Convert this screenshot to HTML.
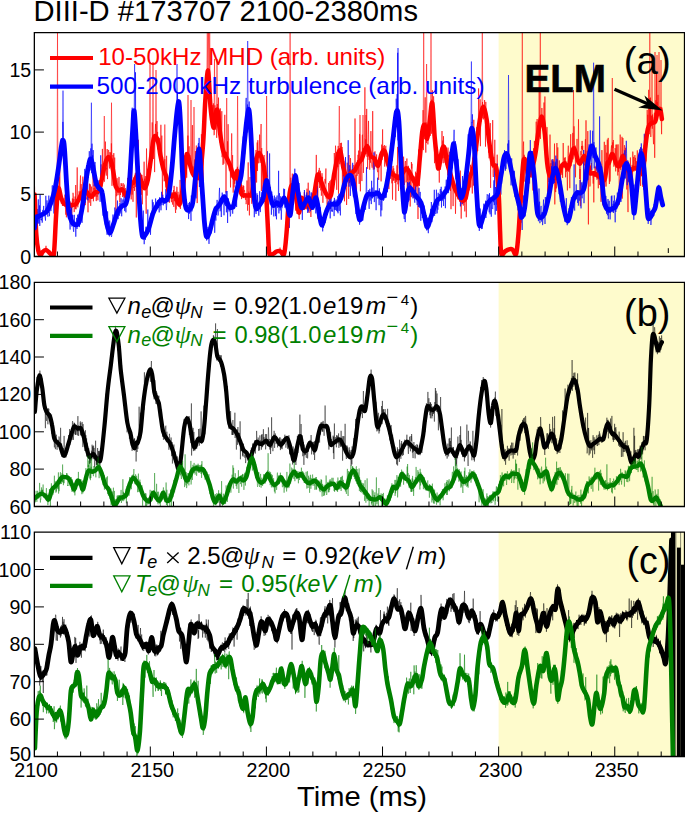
<!DOCTYPE html><html><head><meta charset="utf-8"><title>DIII-D 173707</title><style>html,body{margin:0;padding:0;background:#fff;width:685px;height:813px;overflow:hidden}body{position:relative;font-family:"Liberation Sans",sans-serif}</style></head><body><svg width="685" height="813" viewBox="0 0 685 813" style="position:absolute;left:0;top:0" font-family="Liberation Sans, sans-serif">
<defs>
<clipPath id="c0"><rect x="34.35" y="32.55" width="650.15" height="223.95"/></clipPath>
<clipPath id="c1"><rect x="34.35" y="282.3" width="650.15" height="224.2"/></clipPath>
<clipPath id="c2"><rect x="34.35" y="532.05" width="650.15" height="224.45000000000005"/></clipPath>
</defs>
<rect x="498.6" y="32.55" width="185.9" height="223.95" fill="#fefbcc"/>
<rect x="498.6" y="282.3" width="185.9" height="224.2" fill="#fefbcc"/>
<rect x="498.6" y="532.05" width="185.9" height="224.45000000000005" fill="#fefbcc"/>
<text x="33.5" y="21" font-size="29" fill="#000" textLength="384.5" lengthAdjust="spacingAndGlyphs">DIII-D #173707 2100-2380ms</text>
<g clip-path="url(#c0)"><path d="M34.6 186.5L34.9 208.0L35.2 205.0L35.5 215.0L35.8 222.8L36.1 228.4L36.4 232.7L36.7 238.8L37.0 240.7L37.3 239.4L37.6 247.4L37.9 248.1L38.2 249.4L38.5 251.7L38.8 249.9L39.1 252.5L39.4 253.3L39.7 253.4L40.0 254.4L40.3 255.1L40.6 255.0L40.9 254.5L41.2 254.3L41.5 253.2L41.8 253.1L42.1 252.9L42.4 251.8L42.7 251.9L43.0 252.5L43.3 252.7L43.6 252.8L43.9 251.6L44.2 250.5L44.5 250.1L44.8 251.9L45.1 250.7L45.4 250.6L45.7 249.6L46.0 245.8L46.3 249.6L46.6 251.0L46.9 250.7L47.2 251.6L47.5 251.1L47.8 251.4L48.1 251.9L48.4 251.8L48.7 252.5L49.0 252.3L49.3 253.3L49.6 252.7L49.9 254.5L50.2 253.6L50.5 253.9L50.8 254.2L51.1 253.7L51.4 254.3L51.7 254.7L52.0 255.2L52.3 255.0L52.6 254.5L52.9 254.4L53.2 253.9L53.5 253.7L53.8 252.4L54.1 251.8L54.4 247.4L54.7 241.1L55.0 239.3L55.3 227.3L55.6 222.6L55.9 216.1L56.2 214.7L56.5 213.0L56.8 202.0L57.1 202.1L57.4 207.6L57.7 193.4L58.0 186.1L58.3 190.9L58.6 188.1L58.9 186.3L59.2 177.2L59.5 185.9L59.8 153.5L60.1 194.5L60.4 189.6L60.7 198.3L61.0 195.2L61.3 203.7L61.6 198.5L61.9 202.1L62.2 204.7L62.5 205.9L62.8 202.7L63.1 205.6L63.4 199.4L63.7 198.9L64.0 198.4L64.3 205.4L64.6 202.8L64.9 194.6L65.2 203.6L65.5 209.5L65.8 214.7L66.1 196.0L66.4 217.3L66.7 194.4L67.0 206.2L67.3 203.4L67.6 214.2L67.9 214.5L68.2 202.6L68.5 209.7L68.8 207.8L69.1 210.7L69.4 208.2L69.7 209.5L70.0 206.0L70.3 202.5L70.6 201.6L70.9 205.2L71.2 210.7L71.5 206.5L71.8 219.3L72.1 206.2L72.4 198.5L72.7 207.4L73.0 192.8L73.3 195.3L73.6 202.5L73.9 199.0L74.2 212.1L74.5 203.6L74.8 203.1L75.1 196.5L75.4 209.0L75.7 185.0L76.0 209.4L76.3 207.6L76.6 199.2L76.9 204.5L77.2 167.4L77.5 202.8L77.8 207.3L78.1 204.5L78.4 200.9L78.7 199.3L79.0 191.5L79.3 191.2L79.6 199.0L79.9 189.6L80.2 182.4L80.5 175.5L80.8 198.8L81.1 184.1L81.4 188.0L81.7 190.6L82.0 193.3L82.3 186.4L82.6 181.4L82.9 176.6L83.2 191.4L83.5 193.9L83.8 189.0L84.1 191.2L84.4 187.0L84.7 186.5L85.0 197.4L85.3 205.2L85.6 191.8L85.9 196.6L86.2 198.8L86.5 199.4L86.8 194.6L87.1 179.3L87.4 194.7L87.7 194.5L88.0 212.3L88.3 195.9L88.6 197.7L88.9 194.6L89.2 202.7L89.5 183.7L89.8 197.5L90.1 193.1L90.4 184.4L90.7 205.9L91.0 195.4L91.3 195.5L91.6 186.6L91.9 198.8L92.2 197.2L92.5 192.3L92.8 196.4L93.1 173.9L93.4 201.3L93.7 195.2L94.0 188.0L94.3 189.9L94.6 179.3L94.9 188.1L95.2 196.6L95.5 182.9L95.8 191.3L96.1 200.7L96.4 201.1L96.7 193.2L97.0 196.8L97.3 193.6L97.6 187.1L97.9 200.3L98.2 183.3L98.5 183.4L98.8 187.9L99.1 185.6L99.4 185.4L99.7 183.8L100.0 191.3L100.3 185.6L100.6 186.3L100.9 172.1L101.2 164.4L101.5 188.0L101.8 170.7L102.1 186.5L102.4 148.9L102.7 177.5L103.0 167.4L103.3 174.0L103.6 164.0L103.9 169.8L104.2 181.8L104.5 181.4L104.8 173.1L105.1 160.3L105.4 141.6L105.7 163.0L106.0 158.4L106.3 175.6L106.6 167.7L106.9 169.5L107.2 149.0L107.5 179.1L107.8 164.7L108.1 161.9L108.4 150.1L108.7 150.0L109.0 159.6L109.3 166.9L109.6 168.5L109.9 152.1L110.2 166.3L110.5 162.7L110.8 152.5L111.1 166.5L111.4 143.4L111.7 166.1L112.0 185.8L112.3 158.5L112.6 173.7L112.9 154.9L113.2 170.2L113.5 178.7L113.8 153.1L114.1 176.1L114.4 175.6L114.7 157.6L115.0 183.1L115.3 186.8L115.6 193.4L115.9 215.9L116.2 183.2L116.5 196.2L116.8 195.5L117.1 178.2L117.4 192.6L117.7 185.8L118.0 195.2L118.3 193.0L118.6 180.2L118.9 176.9L119.2 177.7L119.5 189.2L119.8 202.4L120.1 190.2L120.4 195.0L120.7 185.3L121.0 183.4L121.3 183.0L121.6 186.0L121.9 184.4L122.2 188.8L122.5 197.0L122.8 193.2L123.1 183.1L123.4 188.4L123.7 191.3L124.0 191.6L124.3 184.6L124.6 195.9L124.9 195.1L125.2 189.5L125.5 188.2L125.8 196.1L126.1 196.4L126.4 191.8L126.7 194.7L127.0 193.3L127.3 203.9L127.6 177.9L127.9 187.6L128.2 183.0L128.5 189.9L128.8 187.0L129.1 187.5L129.4 182.6L129.7 177.7L130.0 181.5L130.3 184.6L130.6 176.7L130.9 187.8L131.2 199.4L131.5 180.0L131.8 166.7L132.1 194.6L132.4 186.8L132.7 185.3L133.0 201.8L133.3 186.6L133.6 187.9L133.9 181.8L134.2 177.0L134.5 190.9L134.8 180.7L135.1 174.3L135.4 172.7L135.7 186.9L136.0 177.1L136.3 217.5L136.6 178.2L136.9 170.9L137.2 178.8L137.5 193.9L137.8 179.2L138.1 177.4L138.4 139.8L138.7 169.0L139.0 166.1L139.3 170.7L139.6 174.6L139.9 180.4L140.2 193.3L140.5 177.8L140.8 190.8L141.1 175.2L141.4 194.8L141.7 176.9L142.0 174.9L142.3 204.3L142.6 186.5L142.9 185.1L143.2 181.0L143.5 186.0L143.8 185.2L144.1 161.7L144.4 189.3L144.7 178.7L145.0 182.7L145.3 176.1L145.6 185.8L145.9 199.5L146.2 213.7L146.5 148.5L146.8 167.6L147.1 195.6L147.4 178.5L147.7 168.9L148.0 171.1L148.3 168.7L148.6 166.7L148.9 177.6L149.2 171.0L149.5 156.4L149.8 162.0L150.1 155.0L150.4 152.4L150.7 148.0L151.0 146.5L151.3 153.4L151.6 158.3L151.9 158.3L152.2 122.4L152.5 150.7L152.8 148.4L153.1 142.2L153.4 159.0L153.7 142.5L154.0 137.4L154.3 143.7L154.6 172.1L154.9 144.8L155.2 132.3L155.5 123.9L155.8 129.7L156.1 132.6L156.4 135.9L156.7 134.4L157.0 121.1L157.3 140.3L157.6 131.9L157.9 147.3L158.2 149.8L158.5 137.5L158.8 142.0L159.1 139.6L159.4 152.5L159.7 137.8L160.0 143.6L160.3 148.7L160.6 152.5L160.9 124.8L161.2 159.1L161.5 150.2L161.8 135.6L162.1 156.0L162.4 202.1L162.7 156.7L163.0 164.3L163.3 168.6L163.6 174.0L163.9 170.0L164.2 181.3L164.5 173.2L164.8 159.2L165.1 180.8L165.4 172.5L165.7 170.5L166.0 187.3L166.3 177.7L166.6 155.8L166.9 175.0L167.2 191.3L167.5 181.7L167.8 187.8L168.1 179.7L168.4 199.1L168.7 186.2L169.0 198.2L169.3 202.8L169.6 200.8L169.9 195.7L170.2 187.8L170.5 197.2L170.8 196.1L171.1 193.3L171.4 202.2L171.7 197.1L172.0 192.0L172.3 195.8L172.6 204.6L172.9 199.4L173.2 193.6L173.5 190.0L173.8 206.9L174.1 185.9L174.4 201.2L174.7 194.0L175.0 195.3L175.3 208.7L175.6 213.0L175.9 191.5L176.2 209.5L176.5 192.3L176.8 186.8L177.1 187.5L177.4 202.1L177.7 204.5L178.0 191.8L178.3 205.1L178.6 201.6L178.9 206.4L179.2 194.7L179.5 207.3L179.8 205.7L180.1 179.9L180.4 208.9L180.7 201.0L181.0 202.0L181.3 203.2L181.6 197.5L181.9 192.2L182.2 185.9L182.5 183.2L182.8 165.1L183.1 187.7L183.4 200.6L183.7 190.2L184.0 177.6L184.3 168.7L184.6 196.9L184.9 176.3L185.2 165.7L185.5 156.1L185.8 157.5L186.1 174.5L186.4 164.7L186.7 177.7L187.0 159.9L187.3 155.0L187.6 159.3L187.9 135.6L188.2 160.0L188.5 159.4L188.8 165.4L189.1 146.3L189.4 159.8L189.7 161.1L190.0 155.2L190.3 163.5L190.6 157.8L190.9 162.1L191.2 166.2L191.5 167.5L191.8 166.0L192.1 146.7L192.4 125.1L192.7 170.2L193.0 166.4L193.3 169.2L193.6 178.7L193.9 181.1L194.2 172.5L194.5 162.2L194.8 159.4L195.1 177.6L195.4 151.0L195.7 176.1L196.0 172.9L196.3 145.5L196.6 164.5L196.9 168.8L197.2 203.1L197.5 184.2L197.8 181.7L198.1 147.9L198.4 165.9L198.7 165.5L199.0 173.2L199.3 181.1L199.6 176.7L199.9 176.8L200.2 172.6L200.5 174.3L200.8 162.5L201.1 178.9L201.4 134.2L201.7 146.6L202.0 173.6L202.3 140.7L202.6 154.1L202.9 149.9L203.2 184.1L203.5 107.6L203.8 134.8L204.1 125.3L204.4 114.6L204.7 105.2L205.0 101.8L205.3 97.8L205.6 86.6L205.9 106.8L206.2 81.5L206.5 83.8L206.8 78.7L207.1 77.5L207.4 91.3L207.7 68.2L208.0 69.3L208.3 82.0L208.6 79.0L208.9 80.6L209.2 94.9L209.5 77.8L209.8 98.1L210.1 88.9L210.4 95.7L210.7 100.8L211.0 120.2L211.3 113.9L211.6 117.5L211.9 117.2L212.2 107.8L212.5 113.5L212.8 105.1L213.1 125.3L213.4 103.4L213.7 113.8L214.0 135.2L214.3 134.7L214.6 125.6L214.9 105.3L215.2 129.8L215.5 117.3L215.8 112.3L216.1 112.8L216.4 109.3L216.7 137.8L217.0 110.3L217.3 104.0L217.6 109.6L217.9 108.2L218.2 118.3L218.5 97.6L218.8 128.3L219.1 130.6L219.4 123.9L219.7 129.2L220.0 142.6L220.3 108.4L220.6 118.0L220.9 128.0L221.2 130.9L221.5 129.5L221.8 111.2L222.1 157.2L222.4 146.9L222.7 154.2L223.0 164.9L223.3 152.8L223.6 150.4L223.9 163.7L224.2 151.8L224.5 127.1L224.8 114.8L225.1 157.1L225.4 154.1L225.7 155.6L226.0 192.6L226.3 161.6L226.6 151.8L226.9 160.0L227.2 155.6L227.5 141.3L227.8 158.7L228.1 124.2L228.4 149.0L228.7 158.3L229.0 166.3L229.3 170.6L229.6 164.7L229.9 169.7L230.2 162.4L230.5 187.4L230.8 165.2L231.1 177.5L231.4 151.5L231.7 133.4L232.0 166.9L232.3 163.1L232.6 155.1L232.9 180.5L233.2 192.6L233.5 182.1L233.8 173.0L234.1 187.5L234.4 173.1L234.7 183.8L235.0 177.0L235.3 180.0L235.6 176.6L235.9 176.6L236.2 174.4L236.5 185.5L236.8 191.5L237.1 191.5L237.4 166.8L237.7 175.7L238.0 187.3L238.3 172.6L238.6 186.4L238.9 179.9L239.2 169.9L239.5 181.6L239.8 184.6L240.1 180.3L240.4 185.1L240.7 194.7L241.0 191.0L241.3 193.4L241.6 199.1L241.9 189.8L242.2 186.9L242.5 193.5L242.8 196.4L243.1 185.2L243.4 198.1L243.7 186.0L244.0 192.4L244.3 190.1L244.6 190.3L244.9 193.9L245.2 198.2L245.5 199.8L245.8 193.2L246.1 204.2L246.4 202.4L246.7 195.2L247.0 180.5L247.3 195.6L247.6 210.7L247.9 195.0L248.2 162.4L248.5 204.8L248.8 191.6L249.1 194.3L249.4 215.4L249.7 186.1L250.0 177.0L250.3 191.7L250.6 192.0L250.9 197.8L251.2 193.3L251.5 199.2L251.8 203.8L252.1 186.5L252.4 191.7L252.7 189.8L253.0 180.1L253.3 175.7L253.6 173.7L253.9 173.3L254.2 167.2L254.5 171.9L254.8 167.2L255.1 188.7L255.4 157.3L255.7 172.6L256.0 150.0L256.3 158.8L256.6 182.5L256.9 161.1L257.2 142.5L257.5 171.0L257.8 140.2L258.1 157.1L258.4 160.7L258.7 163.3L259.0 158.3L259.3 149.3L259.6 134.6L259.9 159.3L260.2 162.8L260.5 155.6L260.8 134.6L261.1 124.0L261.4 191.1L261.7 148.0L262.0 165.9L262.3 161.6L262.6 168.0L262.9 188.7L263.2 165.3L263.5 191.1L263.8 160.8L264.1 155.0L264.4 173.2L264.7 168.5L265.0 176.5L265.3 188.7L265.6 183.2L265.9 194.4L266.2 216.0L266.5 203.9L266.8 203.5L267.1 201.0L267.4 223.8L267.7 222.7L268.0 233.6L268.3 235.1L268.6 241.2L268.9 246.6L269.2 251.2L269.5 253.8L269.8 254.1L270.1 253.4L270.4 253.8L270.7 254.1L271.0 254.4L271.3 253.8L271.6 253.5L271.9 253.9L272.2 253.9L272.5 253.8L272.8 253.9L273.1 254.0L273.4 253.7L273.7 253.8L274.0 253.9L274.3 253.2L274.6 252.8L274.9 253.3L275.2 252.5L275.5 252.3L275.8 252.5L276.1 251.7L276.4 251.8L276.7 251.3L277.0 251.6L277.3 251.3L277.6 251.7L277.9 251.3L278.2 251.4L278.5 251.0L278.8 251.5L279.1 251.5L279.4 252.1L279.7 250.9L280.0 247.6L280.3 250.1L280.6 251.4L280.9 253.1L281.2 251.9L281.5 251.7L281.8 253.2L282.1 252.7L282.4 250.5L282.7 252.7L283.0 253.6L283.3 253.2L283.6 253.3L283.9 254.0L284.2 252.9L284.5 250.5L284.8 248.4L285.1 247.1L285.4 243.9L285.7 239.4L286.0 240.0L286.3 234.1L286.6 231.5L286.9 229.0L287.2 220.5L287.5 230.0L287.8 219.9L288.1 212.1L288.4 204.4L288.7 197.1L289.0 191.3L289.3 200.4L289.6 192.9L289.9 192.5L290.2 195.4L290.5 190.3L290.8 177.7L291.1 187.3L291.4 187.7L291.7 189.3L292.0 181.7L292.3 173.6L292.6 179.8L292.9 182.7L293.2 201.8L293.5 192.1L293.8 191.9L294.1 181.9L294.4 189.3L294.7 194.5L295.0 195.1L295.3 194.0L295.6 210.6L295.9 191.7L296.2 189.1L296.5 195.2L296.8 195.5L297.1 214.0L297.4 203.7L297.7 209.6L298.0 210.6L298.3 199.4L298.6 203.4L298.9 216.8L299.2 219.1L299.5 211.2L299.8 204.0L300.1 208.1L300.4 214.1L300.7 198.2L301.0 204.5L301.3 201.3L301.6 197.5L301.9 199.2L302.2 204.3L302.5 204.3L302.8 209.2L303.1 207.7L303.4 196.6L303.7 206.9L304.0 203.9L304.3 192.1L304.6 206.8L304.9 204.7L305.2 207.6L305.5 205.8L305.8 205.5L306.1 199.2L306.4 200.8L306.7 209.2L307.0 188.7L307.3 209.5L307.6 197.6L307.9 204.4L308.2 182.7L308.5 203.8L308.8 207.0L309.1 213.0L309.4 208.9L309.7 200.5L310.0 202.6L310.3 198.9L310.6 208.8L310.9 217.0L311.2 207.1L311.5 205.5L311.8 203.9L312.1 204.5L312.4 198.2L312.7 194.9L313.0 199.7L313.3 196.4L313.6 195.0L313.9 204.5L314.2 191.1L314.5 195.2L314.8 199.2L315.1 193.7L315.4 187.5L315.7 192.2L316.0 172.2L316.3 154.9L316.6 177.4L316.9 192.5L317.2 175.9L317.5 189.7L317.8 218.7L318.1 176.1L318.4 178.6L318.7 170.4L319.0 179.6L319.3 167.9L319.6 188.0L319.9 174.6L320.2 183.1L320.5 170.8L320.8 190.4L321.1 185.7L321.4 195.7L321.7 183.6L322.0 173.2L322.3 179.6L322.6 176.9L322.9 202.8L323.2 183.2L323.5 183.2L323.8 186.8L324.1 190.8L324.4 192.8L324.7 187.3L325.0 178.9L325.3 183.5L325.6 179.2L325.9 168.5L326.2 198.6L326.5 191.8L326.8 193.7L327.1 213.2L327.4 198.9L327.7 198.3L328.0 198.0L328.3 198.2L328.6 182.9L328.9 188.8L329.2 202.6L329.5 198.7L329.8 181.2L330.1 196.3L330.4 208.6L330.7 196.3L331.0 179.8L331.3 197.2L331.6 190.2L331.9 193.9L332.2 192.9L332.5 193.5L332.8 188.4L333.1 183.1L333.4 180.7L333.7 172.6L334.0 179.2L334.3 153.0L334.6 163.0L334.9 180.1L335.2 174.8L335.5 145.7L335.8 150.7L336.1 162.8L336.4 152.0L336.7 189.8L337.0 161.6L337.3 163.4L337.6 164.9L337.9 167.0L338.2 145.9L338.5 193.7L338.8 168.1L339.1 163.5L339.4 157.6L339.7 164.2L340.0 156.3L340.3 143.0L340.6 153.6L340.9 146.4L341.2 158.5L341.5 142.8L341.8 154.1L342.1 147.0L342.4 186.6L342.7 159.7L343.0 165.5L343.3 176.2L343.6 169.2L343.9 161.2L344.2 182.6L344.5 201.3L344.8 175.8L345.1 178.5L345.4 172.2L345.7 173.5L346.0 173.1L346.3 172.5L346.6 205.0L346.9 181.0L347.2 162.7L347.5 168.1L347.8 171.6L348.1 172.9L348.4 188.2L348.7 198.9L349.0 155.0L349.3 176.6L349.6 183.1L349.9 169.0L350.2 182.1L350.5 158.1L350.8 166.7L351.1 184.6L351.4 185.1L351.7 174.4L352.0 169.4L352.3 178.9L352.6 169.1L352.9 184.2L353.2 181.2L353.5 184.2L353.8 164.9L354.1 180.4L354.4 169.2L354.7 169.0L355.0 118.5L355.3 168.7L355.6 195.6L355.9 175.4L356.2 174.9L356.5 195.4L356.8 164.0L357.1 175.8L357.4 160.1L357.7 163.4L358.0 154.8L358.3 173.9L358.6 150.6L358.9 164.2L359.2 183.9L359.5 134.1L359.8 134.3L360.1 164.8L360.4 191.3L360.7 159.6L361.0 155.2L361.3 151.6L361.6 166.3L361.9 181.1L362.2 135.6L362.5 134.7L362.8 157.3L363.1 148.0L363.4 172.9L363.7 153.2L364.0 150.4L364.3 152.5L364.6 137.5L364.9 87.3L365.2 148.1L365.5 148.2L365.8 139.3L366.1 154.2L366.4 151.1L366.7 108.9L367.0 156.8L367.3 146.0L367.6 168.8L367.9 150.5L368.2 134.6L368.5 120.9L368.8 148.4L369.1 159.9L369.4 154.0L369.7 169.7L370.0 152.6L370.3 160.5L370.6 162.7L370.9 131.1L371.2 159.6L371.5 164.5L371.8 166.5L372.1 167.7L372.4 166.0L372.7 111.1L373.0 164.3L373.3 169.6L373.6 158.9L373.9 165.0L374.2 165.4L374.5 169.3L374.8 151.7L375.1 151.3L375.4 162.9L375.7 162.4L376.0 157.4L376.3 160.3L376.6 154.4L376.9 162.6L377.2 170.5L377.5 170.6L377.8 172.2L378.1 165.1L378.4 176.5L378.7 179.9L379.0 169.3L379.3 165.4L379.6 154.8L379.9 154.2L380.2 165.2L380.5 158.3L380.8 159.2L381.1 181.4L381.4 159.7L381.7 144.6L382.0 159.9L382.3 148.6L382.6 129.4L382.9 156.8L383.2 146.1L383.5 152.3L383.8 150.8L384.1 153.0L384.4 145.0L384.7 166.6L385.0 152.4L385.3 160.5L385.6 146.9L385.9 145.8L386.2 157.9L386.5 156.2L386.8 165.4L387.1 153.6L387.4 154.2L387.7 166.3L388.0 170.2L388.3 178.0L388.6 165.8L388.9 189.1L389.2 161.1L389.5 179.1L389.8 178.4L390.1 178.9L390.4 158.1L390.7 178.5L391.0 166.7L391.3 172.8L391.6 177.1L391.9 183.3L392.2 172.8L392.5 199.6L392.8 167.0L393.1 165.9L393.4 180.6L393.7 168.4L394.0 180.4L394.3 172.7L394.6 171.5L394.9 183.0L395.2 182.5L395.5 175.6L395.8 200.9L396.1 176.6L396.4 181.8L396.7 171.7L397.0 165.3L397.3 176.6L397.6 146.9L397.9 184.3L398.2 174.2L398.5 191.0L398.8 181.5L399.1 178.1L399.4 166.6L399.7 173.8L400.0 159.7L400.3 178.0L400.6 180.3L400.9 185.3L401.2 179.1L401.5 162.2L401.8 172.5L402.1 157.8L402.4 161.3L402.7 167.1L403.0 177.8L403.3 173.0L403.6 156.7L403.9 167.9L404.2 171.6L404.5 184.9L404.8 167.2L405.1 163.0L405.4 161.0L405.7 172.1L406.0 182.4L406.3 180.9L406.6 168.6L406.9 158.5L407.2 202.9L407.5 172.3L407.8 180.4L408.1 177.7L408.4 165.8L408.7 185.9L409.0 180.1L409.3 171.3L409.6 180.4L409.9 174.8L410.2 206.5L410.5 173.6L410.8 181.3L411.1 197.2L411.4 162.0L411.7 168.6L412.0 163.8L412.3 174.1L412.6 181.4L412.9 178.5L413.2 197.9L413.5 177.8L413.8 190.0L414.1 176.4L414.4 180.0L414.7 195.8L415.0 176.8L415.3 183.0L415.6 171.7L415.9 192.9L416.2 173.0L416.5 184.8L416.8 181.8L417.1 175.8L417.4 184.2L417.7 184.0L418.0 219.0L418.3 168.7L418.6 149.5L418.9 169.7L419.2 166.5L419.5 186.0L419.8 148.8L420.1 142.6L420.4 158.4L420.7 151.6L421.0 150.4L421.3 136.3L421.6 140.2L421.9 140.3L422.2 141.5L422.5 126.2L422.8 131.5L423.1 110.1L423.4 150.1L423.7 131.7L424.0 132.8L424.3 123.2L424.6 139.2L424.9 109.7L425.2 97.3L425.5 131.5L425.8 152.6L426.1 122.4L426.4 143.0L426.7 137.8L427.0 133.1L427.3 131.1L427.6 131.6L427.9 144.4L428.2 127.4L428.5 123.9L428.8 130.8L429.1 127.7L429.4 125.4L429.7 120.1L430.0 129.3L430.3 135.9L430.6 110.4L430.9 121.7L431.2 110.8L431.5 133.7L431.8 99.6L432.1 101.9L432.4 90.3L432.7 131.1L433.0 115.9L433.3 135.9L433.6 96.3L433.9 108.5L434.2 144.9L434.5 163.2L434.8 130.9L435.1 124.2L435.4 142.9L435.7 153.2L436.0 153.9L436.3 165.6L436.6 159.4L436.9 151.0L437.2 165.2L437.5 157.8L437.8 154.2L438.1 161.3L438.4 169.2L438.7 168.4L439.0 170.9L439.3 182.6L439.6 164.8L439.9 167.9L440.2 154.6L440.5 169.5L440.8 159.8L441.1 156.2L441.4 147.3L441.7 154.0L442.0 131.0L442.3 158.3L442.6 141.9L442.9 140.5L443.2 163.2L443.5 136.2L443.8 158.1L444.1 147.6L444.4 156.9L444.7 157.1L445.0 162.8L445.3 147.5L445.6 148.0L445.9 161.4L446.2 165.1L446.5 155.8L446.8 156.5L447.1 154.4L447.4 167.1L447.7 175.4L448.0 147.6L448.3 161.3L448.6 170.7L448.9 154.9L449.2 157.0L449.5 151.8L449.8 172.6L450.1 170.5L450.4 191.0L450.7 176.7L451.0 209.2L451.3 172.0L451.6 183.7L451.9 179.5L452.2 177.4L452.5 183.9L452.8 186.9L453.1 206.1L453.4 185.3L453.7 183.4L454.0 190.4L454.3 191.1L454.6 184.9L454.9 186.6L455.2 192.6L455.5 213.8L455.8 193.5L456.1 186.5L456.4 183.0L456.7 189.8L457.0 193.5L457.3 191.2L457.6 195.2L457.9 199.4L458.2 194.1L458.5 197.9L458.8 187.0L459.1 195.2L459.4 192.3L459.7 201.8L460.0 200.0L460.3 170.6L460.6 193.5L460.9 203.0L461.2 218.6L461.5 203.0L461.8 201.3L462.1 190.8L462.4 195.4L462.7 203.5L463.0 200.4L463.3 205.6L463.6 198.7L463.9 188.0L464.2 188.7L464.5 205.4L464.8 211.4L465.1 203.9L465.4 197.2L465.7 197.2L466.0 195.9L466.3 217.2L466.6 193.4L466.9 199.6L467.2 184.1L467.5 196.8L467.8 179.6L468.1 181.1L468.4 185.7L468.7 177.8L469.0 177.3L469.3 190.4L469.6 177.7L469.9 188.2L470.2 184.4L470.5 164.8L470.8 187.3L471.1 173.3L471.4 172.6L471.7 170.7L472.0 178.1L472.3 193.5L472.6 157.9L472.9 169.3L473.2 156.7L473.5 185.6L473.8 119.8L474.1 153.5L474.4 152.7L474.7 157.6L475.0 160.4L475.3 149.1L475.6 150.1L475.9 144.9L476.2 156.1L476.5 145.2L476.8 127.1L477.1 151.3L477.4 144.9L477.7 151.0L478.0 128.1L478.3 136.8L478.6 88.4L478.9 115.5L479.2 122.1L479.5 133.5L479.8 126.9L480.1 99.3L480.4 146.2L480.7 119.1L481.0 121.9L481.3 114.6L481.6 114.9L481.9 112.9L482.2 111.9L482.5 102.0L482.8 118.2L483.1 106.4L483.4 119.4L483.7 110.2L484.0 106.0L484.3 109.3L484.6 100.0L484.9 114.5L485.2 115.8L485.5 146.6L485.8 101.9L486.1 128.3L486.4 117.1L486.7 120.1L487.0 120.4L487.3 127.2L487.6 125.1L487.9 121.9L488.2 129.0L488.5 152.6L488.8 146.3L489.1 158.3L489.4 138.5L489.7 129.8L490.0 137.8L490.3 123.1L490.6 187.9L490.9 149.8L491.2 155.3L491.5 159.3L491.8 161.0L492.1 158.8L492.4 167.6L492.7 120.1L493.0 173.4L493.3 177.0L493.6 165.9L493.9 156.9L494.2 169.2L494.5 168.9L494.8 139.8L495.1 174.3L495.4 175.2L495.7 173.9L496.0 169.5L496.3 173.1L496.6 192.6L496.9 172.5L497.2 154.7L497.5 177.7L497.8 187.2L498.1 199.5L498.4 192.3L498.7 185.9L499.0 204.9L499.3 211.1L499.6 229.6L499.9 227.8L500.2 225.4L500.5 239.0L500.8 243.8L501.1 249.0L501.4 253.9L501.7 253.7L502.0 253.4L502.3 253.7L502.6 252.9L502.9 253.0L503.2 252.7L503.5 252.9L503.8 251.9L504.1 253.1L504.4 251.8L504.7 252.3L505.0 252.1L505.3 251.6L505.6 250.9L505.9 251.1L506.2 251.0L506.5 249.9L506.8 250.3L507.1 250.0L507.4 251.0L507.7 251.1L508.0 249.9L508.3 249.4L508.6 247.9L508.9 249.7L509.2 250.0L509.5 250.6L509.8 248.7L510.1 250.1L510.4 249.4L510.7 247.0L511.0 249.1L511.3 248.8L511.6 249.8L511.9 249.5L512.2 250.3L512.5 248.7L512.8 248.8L513.1 249.6L513.4 250.8L513.7 250.3L514.0 251.0L514.3 252.0L514.6 251.5L514.9 251.5L515.2 252.9L515.5 253.0L515.8 253.3L516.1 253.3L516.4 251.0L516.7 247.7L517.0 246.2L517.3 243.5L517.6 239.9L517.9 236.2L518.2 239.6L518.5 233.1L518.8 228.4L519.1 223.7L519.4 222.6L519.7 209.5L520.0 218.3L520.3 213.2L520.6 199.7L520.9 198.9L521.2 194.8L521.5 184.0L521.8 184.1L522.1 202.6L522.4 171.0L522.7 172.8L523.0 174.9L523.3 146.7L523.6 141.6L523.9 169.4L524.2 154.8L524.5 167.8L524.8 181.6L525.1 172.9L525.4 172.9L525.7 161.0L526.0 162.4L526.3 167.9L526.6 167.4L526.9 162.0L527.2 157.7L527.5 172.0L527.8 177.5L528.1 173.0L528.4 168.3L528.7 171.8L529.0 161.8L529.3 170.6L529.6 183.5L529.9 164.7L530.2 175.8L530.5 175.6L530.8 174.5L531.1 157.1L531.4 177.5L531.7 169.8L532.0 171.8L532.3 169.5L532.6 166.6L532.9 190.5L533.2 176.3L533.5 148.3L533.8 155.6L534.1 155.1L534.4 140.9L534.7 169.1L535.0 149.1L535.3 158.4L535.6 150.0L535.9 148.7L536.2 121.7L536.5 143.2L536.8 144.7L537.1 119.0L537.4 124.6L537.7 133.9L538.0 132.9L538.3 139.1L538.6 131.0L538.9 124.1L539.2 69.8L539.5 123.6L539.8 118.2L540.1 131.3L540.4 138.9L540.7 127.4L541.0 121.0L541.3 122.4L541.6 127.2L541.9 108.0L542.2 122.8L542.5 120.2L542.8 123.8L543.1 125.0L543.4 123.5L543.7 132.4L544.0 102.5L544.3 133.8L544.6 138.7L544.9 96.5L545.2 131.3L545.5 158.6L545.8 139.2L546.1 147.0L546.4 147.4L546.7 152.3L547.0 127.1L547.3 146.7L547.6 191.9L547.9 161.1L548.2 171.6L548.5 169.4L548.8 182.0L549.1 178.3L549.4 178.7L549.7 184.5L550.0 134.6L550.3 175.7L550.6 182.0L550.9 163.2L551.2 181.5L551.5 179.9L551.8 160.2L552.1 164.3L552.4 184.1L552.7 168.8L553.0 178.4L553.3 159.4L553.6 172.4L553.9 169.2L554.2 168.7L554.5 143.6L554.8 204.4L555.1 163.4L555.4 178.6L555.7 192.1L556.0 166.5L556.3 188.4L556.6 175.0L556.9 143.0L557.2 175.0L557.5 164.0L557.8 147.4L558.1 167.2L558.4 174.5L558.7 179.3L559.0 173.9L559.3 160.4L559.6 174.4L559.9 174.2L560.2 164.8L560.5 198.4L560.8 163.7L561.1 172.5L561.4 165.8L561.7 167.5L562.0 175.0L562.3 167.6L562.6 177.9L562.9 166.1L563.2 143.0L563.5 160.1L563.8 160.0L564.1 163.1L564.4 157.8L564.7 167.5L565.0 167.5L565.3 157.3L565.6 177.3L565.9 160.9L566.2 171.8L566.5 171.3L566.8 166.5L567.1 174.3L567.4 190.4L567.7 171.4L568.0 153.4L568.3 145.7L568.6 168.2L568.9 172.0L569.2 156.1L569.5 168.7L569.8 188.2L570.1 163.9L570.4 149.2L570.7 134.2L571.0 166.2L571.3 162.5L571.6 153.8L571.9 162.4L572.2 155.0L572.5 145.8L572.8 132.9L573.1 159.4L573.4 149.3L573.7 151.8L574.0 126.3L574.3 137.8L574.6 149.1L574.9 148.6L575.2 145.6L575.5 177.3L575.8 155.4L576.1 151.6L576.4 151.0L576.7 154.2L577.0 138.9L577.3 155.9L577.6 157.8L577.9 160.8L578.2 149.9L578.5 119.3L578.8 150.9L579.1 160.6L579.4 163.6L579.7 179.0L580.0 169.0L580.3 206.2L580.6 166.4L580.9 151.1L581.2 155.3L581.5 146.0L581.8 149.0L582.1 140.9L582.4 150.2L582.7 145.8L583.0 150.3L583.3 157.4L583.6 153.6L583.9 182.6L584.2 163.5L584.5 165.3L584.8 164.7L585.1 145.5L585.4 139.2L585.7 163.8L586.0 120.3L586.3 160.1L586.6 165.9L586.9 154.4L587.2 150.8L587.5 167.6L587.8 131.1L588.1 175.7L588.4 224.4L588.7 157.2L589.0 167.9L589.3 152.2L589.6 164.4L589.9 186.5L590.2 185.2L590.5 165.5L590.8 170.7L591.1 164.4L591.4 163.0L591.7 171.3L592.0 170.7L592.3 171.7L592.6 175.2L592.9 178.5L593.2 183.6L593.5 174.3L593.8 202.4L594.1 173.3L594.4 176.8L594.7 172.7L595.0 166.4L595.3 170.2L595.6 172.1L595.9 166.8L596.2 168.2L596.5 164.5L596.8 179.6L597.1 179.6L597.4 173.9L597.7 166.5L598.0 174.2L598.3 188.3L598.6 173.4L598.9 171.2L599.2 179.4L599.5 184.9L599.8 179.5L600.1 176.2L600.4 184.8L600.7 181.2L601.0 201.8L601.3 172.8L601.6 186.9L601.9 150.1L602.2 169.9L602.5 181.0L602.8 205.3L603.1 191.9L603.4 183.1L603.7 179.0L604.0 189.5L604.3 141.8L604.6 187.0L604.9 185.9L605.2 180.8L605.5 160.3L605.8 144.9L606.1 186.5L606.4 169.8L606.7 152.7L607.0 166.0L607.3 139.6L607.6 166.4L607.9 163.3L608.2 137.9L608.5 156.3L608.8 162.0L609.1 175.8L609.4 184.0L609.7 155.9L610.0 181.5L610.3 177.0L610.6 159.5L610.9 152.1L611.2 148.5L611.5 145.4L611.8 156.3L612.1 152.2L612.4 152.4L612.7 142.4L613.0 148.1L613.3 140.0L613.6 161.7L613.9 166.7L614.2 161.2L614.5 157.7L614.8 155.6L615.1 148.1L615.4 150.2L615.7 171.4L616.0 144.6L616.3 163.0L616.6 158.8L616.9 144.6L617.2 159.1L617.5 163.8L617.8 175.5L618.1 144.4L618.4 171.9L618.7 160.5L619.0 173.4L619.3 204.7L619.6 200.1L619.9 178.8L620.2 134.6L620.5 155.1L620.8 169.8L621.1 159.2L621.4 160.5L621.7 156.4L622.0 136.8L622.3 198.6L622.6 148.2L622.9 138.0L623.2 151.5L623.5 166.5L623.8 156.8L624.1 159.3L624.4 145.2L624.7 145.9L625.0 172.4L625.3 163.3L625.6 147.8L625.9 165.2L626.2 162.6L626.5 178.7L626.8 189.5L627.1 171.6L627.4 177.0L627.7 187.0L628.0 212.1L628.3 163.3L628.6 161.6L628.9 180.9L629.2 169.4L629.5 176.9L629.8 171.6L630.1 172.6L630.4 157.5L630.7 170.8L631.0 174.3L631.3 183.5L631.6 175.7L631.9 169.9L632.2 164.9L632.5 187.2L632.8 151.6L633.1 166.8L633.4 169.1L633.7 156.9L634.0 171.4L634.3 161.5L634.6 159.9L634.9 155.1L635.2 170.9L635.5 157.8L635.8 166.0L636.1 167.1L636.4 161.2L636.7 174.1L637.0 172.9L637.3 150.4L637.6 174.1L637.9 175.6L638.2 165.2L638.5 182.1L638.8 174.3L639.1 167.6L639.4 163.9L639.7 154.7L640.0 170.3L640.3 156.2L640.6 185.9L640.9 147.9L641.2 171.1L641.5 175.6L641.8 176.4L642.1 159.4L642.4 165.9L642.7 186.8L643.0 180.4L643.3 179.4L643.6 163.8L643.9 154.1L644.2 144.8L644.5 159.9L644.8 135.4L645.1 140.9L645.4 167.7L645.7 153.1L646.0 161.4L646.3 134.7L646.6 147.6L646.9 136.0L647.2 109.8L647.5 127.9L647.8 114.8L648.1 128.4L648.4 122.2L648.7 89.8L649.0 132.7L649.3 134.1L649.6 107.1L649.9 98.0L650.2 122.8L650.5 97.6L650.8 137.0L651.1 115.5L651.4 119.9L651.7 122.1L652.0 115.9L652.3 128.7L652.6 114.5L652.9 133.4L653.2 137.0L653.5 144.2L653.8 117.3L654.1 117.3L654.4 112.7L654.7 157.8L655.0 120.5L655.3 120.4L655.6 106.1L655.9 100.2L656.2 114.9L656.5 73.3L656.8 111.8L657.1 102.0L657.4 110.2L657.7 110.1L658.0 94.9L658.3 115.9L658.6 110.0L658.9 111.1L659.2 113.0L659.5 107.3L659.8 108.5L660.1 113.2L660.4 116.2L660.7 119.0L661.0 111.8L661.3 121.4L661.6 134.2L661.9 106.9" fill="none" stroke="#f00" stroke-width="0.9" stroke-opacity="0.7"/><path d="M34.4 224.8L34.7 230.1L35.0 221.3L35.3 225.1L35.6 219.3L35.9 215.0L36.2 228.4L36.5 214.1L36.8 211.7L37.1 215.8L37.4 226.7L37.7 209.0L38.0 223.2L38.3 199.4L38.6 217.9L38.9 223.7L39.2 221.9L39.5 205.4L39.8 225.9L40.1 194.6L40.4 208.7L40.7 216.8L41.0 219.9L41.3 219.1L41.6 220.4L41.9 214.1L42.2 222.7L42.5 219.5L42.8 209.9L43.1 212.5L43.4 210.5L43.7 205.9L44.0 215.1L44.3 211.3L44.6 212.6L44.9 217.2L45.2 217.6L45.5 220.6L45.8 195.8L46.1 209.0L46.4 208.4L46.7 209.1L47.0 200.4L47.3 205.8L47.6 214.2L47.9 216.7L48.2 203.0L48.5 212.6L48.8 195.6L49.1 210.3L49.4 216.2L49.7 211.4L50.0 200.8L50.3 200.5L50.6 202.5L50.9 211.1L51.2 204.7L51.5 202.8L51.8 203.6L52.1 185.9L52.4 185.3L52.7 193.7L53.0 193.2L53.3 197.0L53.6 194.5L53.9 213.5L54.2 189.3L54.5 187.4L54.8 215.8L55.1 189.3L55.4 201.7L55.7 198.3L56.0 189.5L56.3 187.3L56.6 169.3L56.9 187.8L57.2 178.2L57.5 179.6L57.8 180.4L58.1 172.5L58.4 162.2L58.7 163.4L59.0 159.1L59.3 170.3L59.6 160.5L59.9 159.1L60.2 152.4L60.5 153.1L60.8 142.2L61.1 150.7L61.4 138.2L61.7 148.8L62.0 143.1L62.3 148.1L62.6 152.7L62.9 121.9L63.2 132.8L63.5 151.5L63.8 141.0L64.1 147.1L64.4 152.7L64.7 141.2L65.0 152.6L65.3 179.4L65.6 169.9L65.9 174.7L66.2 182.5L66.5 182.3L66.8 175.2L67.1 189.7L67.4 202.0L67.7 211.8L68.0 200.0L68.3 206.4L68.6 213.4L68.9 206.8L69.2 210.6L69.5 220.5L69.8 221.9L70.1 229.5L70.4 216.3L70.7 219.0L71.0 224.4L71.3 222.6L71.6 204.9L71.9 226.5L72.2 214.6L72.5 219.3L72.8 215.2L73.1 224.4L73.4 230.0L73.7 231.8L74.0 224.3L74.3 214.8L74.6 224.6L74.9 221.6L75.2 221.9L75.5 225.3L75.8 236.7L76.1 223.4L76.4 221.6L76.7 217.9L77.0 229.0L77.3 219.6L77.6 214.7L77.9 221.1L78.2 224.6L78.5 216.8L78.8 222.2L79.1 214.0L79.4 227.1L79.7 213.5L80.0 212.3L80.3 211.8L80.6 212.0L80.9 215.6L81.2 204.6L81.5 210.7L81.8 216.4L82.1 222.8L82.4 211.5L82.7 210.9L83.0 203.7L83.3 192.4L83.6 191.3L83.9 188.9L84.2 204.5L84.5 190.6L84.8 168.9L85.1 202.8L85.4 184.7L85.7 188.7L86.0 184.4L86.3 179.7L86.6 181.2L86.9 164.9L87.2 174.8L87.5 187.7L87.8 200.3L88.1 167.0L88.4 177.7L88.7 171.9L89.0 161.7L89.3 151.2L89.6 165.3L89.9 165.9L90.2 170.4L90.5 163.3L90.8 148.4L91.1 157.4L91.4 165.0L91.7 173.1L92.0 143.7L92.3 168.6L92.6 155.4L92.9 164.9L93.2 150.1L93.5 176.9L93.8 174.0L94.1 186.2L94.4 184.1L94.7 171.0L95.0 162.0L95.3 177.7L95.6 177.2L95.9 181.4L96.2 178.1L96.5 179.3L96.8 189.5L97.1 186.6L97.4 180.9L97.7 188.9L98.0 180.7L98.3 187.5L98.6 194.3L98.9 185.2L99.2 180.0L99.5 190.3L99.8 187.2L100.1 201.8L100.4 189.7L100.7 155.3L101.0 167.4L101.3 177.0L101.6 186.6L101.9 192.7L102.2 192.9L102.5 192.1L102.8 203.0L103.1 215.7L103.4 197.9L103.7 201.3L104.0 211.0L104.3 204.7L104.6 202.1L104.9 209.8L105.2 224.5L105.5 206.8L105.8 223.8L106.1 216.6L106.4 228.8L106.7 224.6L107.0 234.7L107.3 228.8L107.6 211.4L107.9 221.1L108.2 234.7L108.5 232.5L108.8 232.1L109.1 235.5L109.4 236.4L109.7 220.5L110.0 231.7L110.3 232.1L110.6 234.8L110.9 227.7L111.2 235.8L111.5 236.9L111.8 235.1L112.1 225.2L112.4 226.7L112.7 220.7L113.0 214.5L113.3 223.4L113.6 221.4L113.9 224.8L114.2 224.5L114.5 221.4L114.8 207.5L115.1 213.9L115.4 216.9L115.7 216.6L116.0 213.1L116.3 220.0L116.6 218.0L116.9 209.8L117.2 210.8L117.5 200.6L117.8 211.9L118.1 219.1L118.4 209.4L118.7 209.2L119.0 211.7L119.3 212.9L119.6 215.7L119.9 203.0L120.2 213.5L120.5 208.9L120.8 208.3L121.1 198.2L121.4 208.9L121.7 216.3L122.0 205.8L122.3 204.7L122.6 202.6L122.9 199.4L123.2 204.7L123.5 200.2L123.8 200.0L124.1 194.6L124.4 206.5L124.7 211.1L125.0 203.0L125.3 206.8L125.6 203.7L125.9 212.4L126.2 202.0L126.5 200.6L126.8 191.6L127.1 196.8L127.4 192.8L127.7 190.4L128.0 201.3L128.3 185.2L128.6 194.8L128.9 188.4L129.2 178.3L129.5 181.2L129.8 179.7L130.1 164.6L130.4 164.6L130.7 165.7L131.0 160.5L131.3 151.3L131.6 152.4L131.9 146.8L132.2 107.7L132.5 156.9L132.8 115.4L133.1 119.1L133.4 125.7L133.7 120.8L134.0 116.8L134.3 112.9L134.6 125.5L134.9 136.1L135.2 96.9L135.5 72.3L135.8 163.2L136.1 160.5L136.4 137.7L136.7 163.8L137.0 155.0L137.3 172.5L137.6 162.5L137.9 174.8L138.2 177.7L138.5 191.6L138.8 197.6L139.1 197.5L139.4 178.0L139.7 207.4L140.0 206.2L140.3 225.3L140.6 218.5L140.9 212.9L141.2 225.1L141.5 216.0L141.8 232.6L142.1 227.4L142.4 237.0L142.7 229.4L143.0 228.6L143.3 210.6L143.6 238.9L143.9 234.6L144.2 244.2L144.5 236.0L144.8 237.8L145.1 234.3L145.4 239.9L145.7 228.0L146.0 226.7L146.3 235.4L146.6 229.1L146.9 227.3L147.2 233.3L147.5 230.5L147.8 209.5L148.1 231.1L148.4 226.2L148.7 223.1L149.0 230.8L149.3 228.9L149.6 231.8L149.9 221.5L150.2 218.4L150.5 234.8L150.8 225.2L151.1 213.2L151.4 214.2L151.7 215.3L152.0 220.8L152.3 199.6L152.6 207.4L152.9 214.9L153.2 202.2L153.5 215.8L153.8 210.0L154.1 210.6L154.4 209.9L154.7 209.5L155.0 208.2L155.3 211.5L155.6 198.5L155.9 203.8L156.2 209.5L156.5 207.2L156.8 205.2L157.1 204.2L157.4 201.5L157.7 200.1L158.0 205.5L158.3 201.7L158.6 208.1L158.9 201.1L159.2 212.4L159.5 197.4L159.8 199.6L160.1 206.2L160.4 200.9L160.7 205.7L161.0 210.3L161.3 204.9L161.6 191.8L161.9 205.1L162.2 200.1L162.5 201.8L162.8 194.7L163.1 203.2L163.4 205.3L163.7 202.6L164.0 203.6L164.3 201.6L164.6 199.5L164.9 203.8L165.2 199.8L165.5 200.2L165.8 189.2L166.1 206.0L166.4 210.1L166.7 205.8L167.0 198.8L167.3 192.7L167.6 199.1L167.9 190.1L168.2 189.5L168.5 183.1L168.8 202.0L169.1 199.1L169.4 177.9L169.7 187.7L170.0 187.0L170.3 192.9L170.6 190.0L170.9 170.9L171.2 179.8L171.5 160.8L171.8 169.3L172.1 167.1L172.4 178.3L172.7 150.2L173.0 153.0L173.3 170.6L173.6 143.2L173.9 145.2L174.2 150.2L174.5 145.7L174.8 130.9L175.1 145.2L175.4 142.6L175.7 128.2L176.0 126.7L176.3 120.0L176.6 124.2L176.9 119.0L177.2 125.3L177.5 92.9L177.8 111.4L178.1 119.8L178.4 119.0L178.7 121.6L179.0 106.7L179.3 111.5L179.6 110.1L179.9 108.0L180.2 119.6L180.5 132.8L180.8 128.8L181.1 126.8L181.4 146.4L181.7 145.5L182.0 137.7L182.3 175.1L182.6 181.1L182.9 186.6L183.2 176.9L183.5 169.2L183.8 190.7L184.1 193.5L184.4 203.5L184.7 204.6L185.0 200.2L185.3 203.8L185.6 208.6L185.9 202.5L186.2 199.2L186.5 211.1L186.8 210.0L187.1 206.3L187.4 205.5L187.7 208.4L188.0 205.0L188.3 210.5L188.6 219.1L188.9 203.0L189.2 213.9L189.5 201.9L189.8 212.8L190.1 205.4L190.4 205.1L190.7 210.9L191.0 220.9L191.3 195.5L191.6 203.8L191.9 211.5L192.2 210.9L192.5 203.7L192.8 197.0L193.1 201.9L193.4 200.8L193.7 193.1L194.0 196.4L194.3 181.8L194.6 191.9L194.9 187.9L195.2 184.4L195.5 183.8L195.8 167.8L196.1 198.4L196.4 181.1L196.7 169.1L197.0 160.2L197.3 160.3L197.6 159.6L197.9 161.3L198.2 144.0L198.5 143.1L198.8 161.5L199.1 137.9L199.4 187.0L199.7 155.5L200.0 148.6L200.3 156.9L200.6 180.6L200.9 172.8L201.2 167.3L201.5 188.5L201.8 187.3L202.1 183.9L202.4 185.3L202.7 187.3L203.0 201.6L203.3 208.8L203.6 218.7L203.9 223.0L204.2 224.2L204.5 214.7L204.8 221.3L205.1 217.6L205.4 227.8L205.7 231.9L206.0 231.8L206.3 234.3L206.6 240.5L206.9 238.0L207.2 229.1L207.5 232.9L207.8 228.0L208.1 226.9L208.4 238.1L208.7 233.2L209.0 243.9L209.3 231.1L209.6 234.2L209.9 228.3L210.2 225.8L210.5 231.9L210.8 224.6L211.1 233.5L211.4 225.6L211.7 228.4L212.0 223.9L212.3 216.5L212.6 226.3L212.9 214.8L213.2 218.1L213.5 221.3L213.8 214.2L214.1 212.7L214.4 206.8L214.7 232.8L215.0 221.8L215.3 206.4L215.6 216.8L215.9 220.6L216.2 210.6L216.5 215.0L216.8 204.8L217.1 199.9L217.4 204.0L217.7 209.7L218.0 215.5L218.3 214.7L218.6 206.0L218.9 208.9L219.2 193.8L219.5 187.9L219.8 201.3L220.1 211.3L220.4 209.0L220.7 204.5L221.0 203.5L221.3 217.0L221.6 205.2L221.9 200.0L222.2 192.6L222.5 196.8L222.8 202.7L223.1 196.4L223.4 202.2L223.7 195.5L224.0 215.3L224.3 195.6L224.6 204.6L224.9 194.7L225.2 201.8L225.5 206.1L225.8 203.1L226.1 191.2L226.4 212.3L226.7 204.4L227.0 191.0L227.3 201.0L227.6 223.0L227.9 200.1L228.2 209.2L228.5 198.4L228.8 207.0L229.1 211.5L229.4 204.7L229.7 208.4L230.0 210.3L230.3 216.4L230.6 214.9L230.9 209.1L231.2 209.4L231.5 205.5L231.8 205.3L232.1 204.7L232.4 204.0L232.7 213.7L233.0 203.3L233.3 200.8L233.6 200.4L233.9 203.5L234.2 205.4L234.5 197.6L234.8 195.1L235.1 199.4L235.4 202.9L235.7 193.4L236.0 191.0L236.3 179.9L236.6 207.0L236.9 182.4L237.2 180.1L237.5 188.9L237.8 183.9L238.1 190.6L238.4 179.6L238.7 184.0L239.0 183.7L239.3 185.0L239.6 193.6L239.9 179.0L240.2 172.2L240.5 180.5L240.8 171.0L241.1 182.1L241.4 174.3L241.7 170.1L242.0 153.8L242.3 150.8L242.6 155.2L242.9 156.7L243.2 136.5L243.5 146.8L243.8 149.9L244.1 139.5L244.4 150.4L244.7 154.2L245.0 151.1L245.3 150.9L245.6 136.0L245.9 102.5L246.2 97.9L246.5 133.9L246.8 117.9L247.1 114.3L247.4 104.5L247.7 132.4L248.0 125.8L248.3 109.6L248.6 113.6L248.9 112.9L249.2 101.5L249.5 122.4L249.8 116.5L250.1 117.5L250.4 139.3L250.7 131.3L251.0 125.2L251.3 146.5L251.6 136.2L251.9 157.7L252.2 160.4L252.5 170.5L252.8 176.8L253.1 174.9L253.4 202.1L253.7 191.8L254.0 176.3L254.3 217.2L254.6 188.0L254.9 202.1L255.2 211.6L255.5 202.8L255.8 211.6L256.1 214.0L256.4 200.2L256.7 211.4L257.0 193.3L257.3 206.7L257.6 195.0L257.9 203.5L258.2 205.0L258.5 209.2L258.8 215.7L259.1 203.2L259.4 200.3L259.7 191.2L260.0 198.6L260.3 212.1L260.6 203.5L260.9 197.1L261.2 201.9L261.5 199.5L261.8 192.3L262.1 193.7L262.4 197.4L262.7 203.1L263.0 193.7L263.3 192.2L263.6 185.9L263.9 192.9L264.2 184.4L264.5 201.9L264.8 188.9L265.1 181.0L265.4 194.6L265.7 185.3L266.0 181.3L266.3 175.3L266.6 175.7L266.9 174.9L267.2 177.3L267.5 151.2L267.8 187.7L268.1 199.5L268.4 190.2L268.7 194.4L269.0 196.9L269.3 186.4L269.6 153.4L269.9 188.1L270.2 204.5L270.5 186.9L270.8 200.3L271.1 192.6L271.4 214.7L271.7 191.5L272.0 193.3L272.3 198.8L272.6 196.1L272.9 208.3L273.2 209.8L273.5 209.9L273.8 216.4L274.1 198.3L274.4 195.6L274.7 201.2L275.0 198.9L275.3 205.2L275.6 216.1L275.9 197.3L276.2 215.9L276.5 219.3L276.8 199.5L277.1 195.5L277.4 207.9L277.7 203.9L278.0 202.3L278.3 199.8L278.6 170.8L278.9 213.4L279.2 197.9L279.5 193.2L279.8 205.9L280.1 210.5L280.4 209.6L280.7 196.3L281.0 204.4L281.3 219.7L281.6 209.5L281.9 207.3L282.2 207.7L282.5 199.9L282.8 204.4L283.1 198.8L283.4 197.1L283.7 188.6L284.0 199.8L284.3 196.6L284.6 189.0L284.9 207.7L285.2 197.9L285.5 203.5L285.8 204.0L286.1 201.6L286.4 204.7L286.7 209.7L287.0 200.5L287.3 198.1L287.6 212.8L287.9 210.6L288.2 214.5L288.5 215.4L288.8 203.6L289.1 211.9L289.4 227.9L289.7 213.2L290.0 216.5L290.3 212.2L290.6 203.1L290.9 206.1L291.2 214.3L291.5 204.4L291.8 201.1L292.1 196.7L292.4 203.0L292.7 189.9L293.0 192.9L293.3 199.6L293.6 180.5L293.9 190.4L294.2 185.8L294.5 184.8L294.8 168.7L295.1 185.1L295.4 173.8L295.7 178.2L296.0 187.0L296.3 188.3L296.6 180.0L296.9 192.2L297.2 187.6L297.5 189.0L297.8 190.7L298.1 185.9L298.4 200.7L298.7 202.6L299.0 183.0L299.3 187.7L299.6 207.9L299.9 192.2L300.2 199.9L300.5 199.6L300.8 206.0L301.1 203.9L301.4 209.9L301.7 204.1L302.0 200.0L302.3 219.9L302.6 206.3L302.9 208.2L303.2 197.5L303.5 200.3L303.8 201.2L304.1 209.5L304.4 190.0L304.7 195.8L305.0 200.7L305.3 198.2L305.6 206.2L305.9 203.2L306.2 194.8L306.5 204.6L306.8 192.4L307.1 203.0L307.4 198.9L307.7 212.9L308.0 201.9L308.3 211.5L308.6 201.6L308.9 195.7L309.2 203.4L309.5 190.7L309.8 193.1L310.1 200.7L310.4 211.3L310.7 208.4L311.0 195.7L311.3 192.4L311.6 207.0L311.9 197.0L312.2 193.5L312.5 203.6L312.8 203.0L313.1 200.7L313.4 203.5L313.7 209.7L314.0 203.5L314.3 202.6L314.6 204.2L314.9 203.8L315.2 199.4L315.5 194.6L315.8 213.4L316.1 188.4L316.4 201.3L316.7 197.8L317.0 205.6L317.3 186.0L317.6 208.5L317.9 210.1L318.2 206.6L318.5 214.0L318.8 215.4L319.1 212.5L319.4 213.6L319.7 210.4L320.0 223.1L320.3 207.2L320.6 221.4L320.9 218.6L321.2 221.7L321.5 220.2L321.8 222.8L322.1 219.8L322.4 219.7L322.7 231.4L323.0 220.5L323.3 228.0L323.6 224.1L323.9 220.2L324.2 219.8L324.5 217.0L324.8 221.3L325.1 222.9L325.4 212.2L325.7 217.7L326.0 210.4L326.3 214.6L326.6 207.6L326.9 210.2L327.2 215.2L327.5 214.6L327.8 202.5L328.1 210.8L328.4 201.3L328.7 211.3L329.0 200.8L329.3 195.2L329.6 198.3L329.9 196.2L330.2 218.4L330.5 201.1L330.8 208.8L331.1 196.4L331.4 206.5L331.7 211.4L332.0 209.5L332.3 211.8L332.6 209.4L332.9 202.5L333.2 206.6L333.5 204.5L333.8 200.7L334.1 216.1L334.4 197.9L334.7 209.7L335.0 200.5L335.3 210.1L335.6 202.4L335.9 205.2L336.2 199.5L336.5 210.8L336.8 205.6L337.1 204.2L337.4 211.8L337.7 196.2L338.0 213.3L338.3 207.1L338.6 194.4L338.9 200.1L339.2 210.9L339.5 193.7L339.8 205.5L340.1 207.8L340.4 215.4L340.7 197.9L341.0 202.4L341.3 197.6L341.6 199.3L341.9 199.3L342.2 188.5L342.5 192.4L342.8 191.8L343.1 195.3L343.4 192.4L343.7 172.8L344.0 182.1L344.3 191.5L344.6 192.6L344.9 188.2L345.2 189.2L345.5 157.1L345.8 180.7L346.1 181.1L346.4 186.4L346.7 180.1L347.0 175.0L347.3 181.4L347.6 177.9L347.9 181.3L348.2 140.2L348.5 178.8L348.8 180.0L349.1 186.7L349.4 177.1L349.7 165.2L350.0 167.6L350.3 195.9L350.6 184.4L350.9 176.0L351.2 171.5L351.5 185.5L351.8 184.6L352.1 177.7L352.4 169.1L352.7 162.8L353.0 184.1L353.3 196.6L353.6 183.7L353.9 179.1L354.2 197.7L354.5 184.1L354.8 182.4L355.1 190.5L355.4 197.2L355.7 191.7L356.0 214.0L356.3 200.4L356.6 205.8L356.9 212.8L357.2 206.8L357.5 210.3L357.8 216.8L358.1 209.4L358.4 217.8L358.7 211.7L359.0 217.0L359.3 218.1L359.6 224.7L359.9 217.2L360.2 214.1L360.5 211.5L360.8 209.7L361.1 219.3L361.4 210.2L361.7 211.3L362.0 207.0L362.3 220.7L362.6 216.5L362.9 220.4L363.2 210.5L363.5 210.7L363.8 204.6L364.1 211.7L364.4 211.1L364.7 202.4L365.0 204.3L365.3 207.5L365.6 209.8L365.9 199.1L366.2 186.0L366.5 167.2L366.8 192.4L367.1 195.1L367.4 195.1L367.7 197.7L368.0 198.5L368.3 190.1L368.6 191.2L368.9 205.0L369.2 208.9L369.5 195.9L369.8 188.8L370.1 200.6L370.4 197.1L370.7 195.2L371.0 194.7L371.3 204.1L371.6 180.8L371.9 198.2L372.2 187.6L372.5 198.3L372.8 196.9L373.1 194.3L373.4 197.1L373.7 184.0L374.0 152.4L374.3 202.1L374.6 195.3L374.9 194.4L375.2 190.1L375.5 194.9L375.8 196.6L376.1 210.2L376.4 195.3L376.7 190.5L377.0 196.0L377.3 192.0L377.6 177.7L377.9 198.6L378.2 192.3L378.5 191.3L378.8 194.7L379.1 205.2L379.4 188.3L379.7 193.7L380.0 198.2L380.3 200.5L380.6 207.5L380.9 216.4L381.2 194.3L381.5 203.2L381.8 210.4L382.1 205.1L382.4 194.6L382.7 193.1L383.0 196.8L383.3 201.0L383.6 188.7L383.9 199.8L384.2 195.3L384.5 197.3L384.8 197.4L385.1 195.1L385.4 198.1L385.7 189.8L386.0 187.3L386.3 197.6L386.6 181.2L386.9 179.2L387.2 172.1L387.5 192.2L387.8 173.3L388.1 183.7L388.4 176.1L388.7 178.2L389.0 169.3L389.3 169.0L389.6 175.1L389.9 166.0L390.2 154.8L390.5 159.0L390.8 146.7L391.1 159.7L391.4 160.3L391.7 152.4L392.0 161.2L392.3 159.2L392.6 141.8L392.9 150.4L393.2 136.1L393.5 137.6L393.8 131.5L394.1 132.1L394.4 117.4L394.7 124.8L395.0 113.0L395.3 137.1L395.6 114.2L395.9 116.2L396.2 98.7L396.5 105.6L396.8 119.4L397.1 94.1L397.4 119.8L397.7 52.8L398.0 140.4L398.3 127.1L398.6 130.5L398.9 125.9L399.2 122.0L399.5 124.1L399.8 144.0L400.1 153.6L400.4 139.5L400.7 161.8L401.0 165.0L401.3 181.9L401.6 173.6L401.9 180.4L402.2 187.6L402.5 187.8L402.8 204.4L403.1 200.9L403.4 198.6L403.7 208.2L404.0 217.6L404.3 219.1L404.6 204.3L404.9 200.9L405.2 222.1L405.5 208.2L405.8 212.9L406.1 204.3L406.4 199.3L406.7 203.4L407.0 198.5L407.3 192.0L407.6 182.1L407.9 195.7L408.2 201.9L408.5 200.0L408.8 182.9L409.1 200.5L409.4 181.7L409.7 186.9L410.0 190.2L410.3 190.5L410.6 185.1L410.9 188.8L411.2 192.1L411.5 192.5L411.8 196.6L412.1 194.0L412.4 193.8L412.7 188.7L413.0 198.5L413.3 194.0L413.6 189.5L413.9 195.8L414.2 196.4L414.5 199.9L414.8 202.7L415.1 190.2L415.4 196.3L415.7 186.2L416.0 198.5L416.3 199.4L416.6 193.0L416.9 201.8L417.2 205.1L417.5 194.3L417.8 194.3L418.1 200.5L418.4 207.0L418.7 200.0L419.0 187.8L419.3 200.4L419.6 207.6L419.9 201.3L420.2 191.9L420.5 213.7L420.8 220.8L421.1 207.2L421.4 213.7L421.7 208.8L422.0 206.8L422.3 217.9L422.6 213.3L422.9 211.7L423.2 217.9L423.5 214.9L423.8 218.8L424.1 205.6L424.4 219.3L424.7 222.0L425.0 221.6L425.3 227.9L425.6 221.9L425.9 226.7L426.2 215.0L426.5 229.5L426.8 230.5L427.1 223.9L427.4 217.6L427.7 222.4L428.0 221.1L428.3 233.2L428.6 218.8L428.9 225.9L429.2 225.8L429.5 224.9L429.8 217.9L430.1 223.9L430.4 212.7L430.7 208.8L431.0 217.5L431.3 202.0L431.6 204.1L431.9 222.2L432.2 214.1L432.5 216.7L432.8 207.4L433.1 207.8L433.4 205.1L433.7 209.7L434.0 207.4L434.3 189.8L434.6 215.9L434.9 203.8L435.2 205.1L435.5 206.9L435.8 214.0L436.1 211.4L436.4 189.7L436.7 196.9L437.0 212.3L437.3 213.3L437.6 205.5L437.9 209.7L438.2 192.8L438.5 204.4L438.8 205.6L439.1 199.1L439.4 194.1L439.7 198.8L440.0 194.2L440.3 189.1L440.6 196.9L440.9 194.7L441.2 186.8L441.5 207.5L441.8 190.9L442.1 201.1L442.4 196.4L442.7 198.5L443.0 197.9L443.3 192.0L443.6 206.0L443.9 189.8L444.2 196.5L444.5 196.7L444.8 199.1L445.1 186.5L445.4 208.2L445.7 193.4L446.0 183.6L446.3 179.7L446.6 190.7L446.9 189.5L447.2 193.2L447.5 177.6L447.8 187.2L448.1 189.9L448.4 193.1L448.7 171.8L449.0 176.9L449.3 172.8L449.6 175.0L449.9 170.9L450.2 171.2L450.5 160.6L450.8 168.4L451.1 150.0L451.4 159.6L451.7 168.6L452.0 146.6L452.3 168.3L452.6 162.0L452.9 143.9L453.2 150.0L453.5 150.3L453.8 137.9L454.1 129.8L454.4 147.8L454.7 142.6L455.0 158.6L455.3 141.0L455.6 174.9L455.9 179.3L456.2 156.2L456.5 149.0L456.8 170.9L457.1 167.2L457.4 169.3L457.7 165.5L458.0 159.3L458.3 187.0L458.6 175.7L458.9 172.8L459.2 192.1L459.5 194.4L459.8 190.0L460.1 187.0L460.4 206.4L460.7 195.2L461.0 201.6L461.3 187.9L461.6 189.9L461.9 196.3L462.2 204.2L462.5 176.0L462.8 188.7L463.1 189.1L463.4 200.4L463.7 190.0L464.0 192.1L464.3 194.9L464.6 192.1L464.9 196.4L465.2 175.8L465.5 182.1L465.8 180.3L466.1 165.9L466.4 173.8L466.7 172.4L467.0 165.0L467.3 160.2L467.6 163.8L467.9 163.1L468.2 134.3L468.5 157.7L468.8 148.1L469.1 151.5L469.4 150.9L469.7 135.6L470.0 149.9L470.3 136.8L470.6 136.0L470.9 129.7L471.2 132.6L471.5 127.2L471.8 122.3L472.1 122.9L472.4 114.3L472.7 138.5L473.0 138.6L473.3 129.5L473.6 131.7L473.9 134.9L474.2 138.1L474.5 140.5L474.8 160.9L475.1 159.9L475.4 175.5L475.7 178.2L476.0 183.5L476.3 177.3L476.6 204.2L476.9 196.1L477.2 186.5L477.5 202.9L477.8 205.9L478.1 214.8L478.4 209.5L478.7 219.5L479.0 220.5L479.3 230.9L479.6 222.8L479.9 226.2L480.2 208.5L480.5 218.3L480.8 223.5L481.1 221.4L481.4 229.1L481.7 223.3L482.0 215.7L482.3 228.8L482.6 222.8L482.9 217.5L483.2 221.2L483.5 219.0L483.8 203.7L484.1 212.5L484.4 210.7L484.7 211.7L485.0 206.2L485.3 207.4L485.6 200.7L485.9 218.0L486.2 210.0L486.5 213.4L486.8 200.9L487.1 194.2L487.4 194.6L487.7 196.4L488.0 206.8L488.3 204.4L488.6 199.5L488.9 194.6L489.2 212.4L489.5 193.2L489.8 199.8L490.1 214.3L490.4 199.6L490.7 199.3L491.0 202.4L491.3 216.7L491.6 206.9L491.9 201.6L492.2 208.2L492.5 208.8L492.8 209.1L493.1 195.2L493.4 202.2L493.7 183.6L494.0 180.3L494.3 205.1L494.6 164.5L494.9 201.4L495.2 214.6L495.5 187.0L495.8 195.2L496.1 205.5L496.4 210.9L496.7 195.4L497.0 204.6L497.3 163.7L497.6 189.4L497.9 195.6L498.2 196.2L498.5 190.8L498.8 196.0L499.1 197.9L499.4 194.7L499.7 189.3L500.0 182.6L500.3 169.7L500.6 178.5L500.9 194.6L501.2 184.7L501.5 182.5L501.8 183.5L502.1 178.5L502.4 176.6L502.7 161.0L503.0 162.9L503.3 160.2L503.6 155.9L503.9 160.3L504.2 165.9L504.5 150.1L504.8 152.0L505.1 151.5L505.4 170.7L505.7 160.2L506.0 168.9L506.3 155.2L506.6 162.8L506.9 163.5L507.2 155.9L507.5 159.0L507.8 143.6L508.1 149.7L508.4 160.1L508.7 140.2L509.0 163.0L509.3 163.8L509.6 158.2L509.9 171.4L510.2 170.4L510.5 167.8L510.8 178.9L511.1 185.4L511.4 174.4L511.7 158.4L512.0 174.5L512.3 174.9L512.6 178.1L512.9 179.0L513.2 186.1L513.5 181.0L513.8 177.6L514.1 188.2L514.4 170.8L514.7 176.9L515.0 196.9L515.3 179.6L515.6 192.9L515.9 185.2L516.2 198.1L516.5 197.2L516.8 202.7L517.1 200.8L517.4 206.0L517.7 193.9L518.0 210.4L518.3 199.3L518.6 208.3L518.9 203.4L519.2 212.5L519.5 209.5L519.8 209.4L520.1 213.3L520.4 211.4L520.7 213.3L521.0 222.8L521.3 219.8L521.6 218.5L521.9 217.3L522.2 230.0L522.5 210.8L522.8 213.9L523.1 206.9L523.4 195.5L523.7 210.6L524.0 212.6L524.3 209.4L524.6 214.2L524.9 196.0L525.2 216.4L525.5 204.4L525.8 201.0L526.1 189.5L526.4 198.4L526.7 183.9L527.0 185.7L527.3 184.5L527.6 184.1L527.9 181.0L528.2 167.7L528.5 161.4L528.8 178.5L529.1 171.7L529.4 166.3L529.7 162.1L530.0 159.5L530.3 140.1L530.6 157.2L530.9 166.0L531.2 159.7L531.5 165.9L531.8 164.2L532.1 158.4L532.4 151.0L532.7 165.9L533.0 177.2L533.3 159.5L533.6 180.9L533.9 162.4L534.2 193.4L534.5 180.2L534.8 185.1L535.1 184.3L535.4 197.3L535.7 189.8L536.0 206.7L536.3 214.7L536.6 205.0L536.9 203.5L537.2 216.3L537.5 210.2L537.8 212.8L538.1 216.1L538.4 221.2L538.7 209.8L539.0 188.5L539.3 219.3L539.6 201.7L539.9 223.2L540.2 218.2L540.5 216.2L540.8 208.0L541.1 205.9L541.4 218.7L541.7 221.6L542.0 212.2L542.3 215.5L542.6 225.1L542.9 220.9L543.2 206.5L543.5 199.6L543.8 213.5L544.1 217.4L544.4 214.6L544.7 208.5L545.0 224.0L545.3 197.0L545.6 204.1L545.9 215.5L546.2 206.9L546.5 208.0L546.8 199.1L547.1 208.4L547.4 197.9L547.7 193.8L548.0 192.5L548.3 205.2L548.6 192.7L548.9 176.0L549.2 196.4L549.5 191.1L549.8 182.8L550.1 191.0L550.4 191.7L550.7 178.0L551.0 180.1L551.3 181.4L551.6 166.3L551.9 181.6L552.2 159.1L552.5 171.5L552.8 178.1L553.1 161.4L553.4 183.8L553.7 180.2L554.0 180.3L554.3 166.7L554.6 183.1L554.9 170.7L555.2 161.7L555.5 172.8L555.8 155.6L556.1 160.7L556.4 178.7L556.7 176.8L557.0 158.9L557.3 177.0L557.6 176.2L557.9 174.5L558.2 169.4L558.5 176.7L558.8 185.3L559.1 194.2L559.4 188.6L559.7 178.0L560.0 190.7L560.3 201.9L560.6 188.2L560.9 180.7L561.2 200.2L561.5 191.1L561.8 197.1L562.1 200.7L562.4 198.5L562.7 202.1L563.0 207.9L563.3 210.0L563.6 208.7L563.9 212.5L564.2 211.1L564.5 206.8L564.8 221.7L565.1 214.8L565.4 217.0L565.7 221.1L566.0 215.9L566.3 198.2L566.6 210.0L566.9 218.0L567.2 225.2L567.5 221.6L567.8 222.8L568.1 216.5L568.4 211.2L568.7 216.9L569.0 208.3L569.3 213.0L569.6 219.1L569.9 211.3L570.2 205.6L570.5 206.3L570.8 211.2L571.1 209.8L571.4 197.1L571.7 210.2L572.0 203.0L572.3 206.4L572.6 208.3L572.9 203.2L573.2 207.3L573.5 203.2L573.8 195.5L574.1 164.4L574.4 206.0L574.7 210.6L575.0 194.5L575.3 198.6L575.6 198.2L575.9 199.9L576.2 184.4L576.5 199.0L576.8 195.6L577.1 194.9L577.4 191.2L577.7 202.9L578.0 191.6L578.3 205.6L578.6 204.2L578.9 190.6L579.2 200.4L579.5 200.6L579.8 192.2L580.1 180.0L580.4 192.4L580.7 196.2L581.0 208.4L581.3 201.8L581.6 182.4L581.9 194.4L582.2 198.3L582.5 186.2L582.8 185.9L583.1 182.2L583.4 182.8L583.7 150.0L584.0 203.2L584.3 189.0L584.6 188.4L584.9 184.6L585.2 169.2L585.5 185.6L585.8 162.7L586.1 184.5L586.4 181.1L586.7 166.3L587.0 167.0L587.3 164.0L587.6 160.8L587.9 180.2L588.2 153.6L588.5 158.4L588.8 161.2L589.1 144.4L589.4 158.3L589.7 164.6L590.0 147.1L590.3 130.4L590.6 156.3L590.9 152.9L591.2 156.1L591.5 146.7L591.8 170.0L592.1 156.0L592.4 144.4L592.7 130.8L593.0 157.8L593.3 152.9L593.6 148.3L593.9 142.2L594.2 168.3L594.5 155.8L594.8 156.3L595.1 148.4L595.4 150.5L595.7 159.2L596.0 147.4L596.3 168.8L596.6 155.7L596.9 170.6L597.2 162.5L597.5 175.2L597.8 178.4L598.1 162.4L598.4 159.5L598.7 171.7L599.0 168.1L599.3 165.8L599.6 116.4L599.9 161.8L600.2 169.8L600.5 168.2L600.8 177.6L601.1 169.2L601.4 175.4L601.7 166.5L602.0 179.7L602.3 194.1L602.6 188.2L602.9 186.9L603.2 191.4L603.5 194.8L603.8 206.6L604.1 201.2L604.4 205.4L604.7 200.4L605.0 207.2L605.3 207.2L605.6 200.9L605.9 195.9L606.2 204.9L606.5 213.7L606.8 204.1L607.1 205.9L607.4 215.3L607.7 213.1L608.0 199.0L608.3 219.2L608.6 210.2L608.9 206.7L609.2 200.8L609.5 212.4L609.8 206.9L610.1 219.4L610.4 211.8L610.7 212.7L611.0 210.7L611.3 196.2L611.6 209.9L611.9 195.5L612.2 209.4L612.5 207.6L612.8 212.1L613.1 203.8L613.4 213.0L613.7 200.8L614.0 210.0L614.3 195.4L614.6 201.4L614.9 212.2L615.2 222.3L615.5 203.5L615.8 212.0L616.1 207.7L616.4 200.2L616.7 209.2L617.0 202.8L617.3 192.6L617.6 199.8L617.9 201.7L618.2 201.1L618.5 189.5L618.8 198.9L619.1 195.7L619.4 199.1L619.7 189.8L620.0 193.1L620.3 190.0L620.6 192.9L620.9 202.0L621.2 199.6L621.5 173.7L621.8 184.1L622.1 174.1L622.4 170.6L622.7 164.2L623.0 171.4L623.3 174.7L623.6 171.3L623.9 153.5L624.2 172.3L624.5 173.2L624.8 150.3L625.1 169.8L625.4 178.5L625.7 161.5L626.0 153.6L626.3 140.8L626.6 153.2L626.9 175.2L627.2 185.2L627.5 161.5L627.8 160.3L628.1 165.3L628.4 169.3L628.7 182.2L629.0 167.2L629.3 167.6L629.6 175.1L629.9 180.7L630.2 173.8L630.5 171.9L630.8 181.1L631.1 182.9L631.4 187.2L631.7 178.6L632.0 195.1L632.3 190.8L632.6 204.3L632.9 199.6L633.2 203.8L633.5 204.7L633.8 219.8L634.1 201.6L634.4 204.3L634.7 204.1L635.0 184.5L635.3 199.4L635.6 209.2L635.9 201.0L636.2 200.2L636.5 189.6L636.8 183.2L637.1 199.5L637.4 172.5L637.7 166.2L638.0 191.6L638.3 172.2L638.6 179.7L638.9 155.8L639.2 164.1L639.5 149.4L639.8 172.2L640.1 159.0L640.4 148.4L640.7 147.1L641.0 164.2L641.3 143.4L641.6 152.0L641.9 155.3L642.2 148.7L642.5 170.4L642.8 184.7L643.1 157.2L643.4 164.4L643.7 189.7L644.0 172.8L644.3 133.8L644.6 167.8L644.9 180.2L645.2 174.4L645.5 187.1L645.8 195.0L646.1 200.9L646.4 186.7L646.7 204.2L647.0 198.2L647.3 212.3L647.6 215.3L647.9 217.6L648.2 223.9L648.5 218.3L648.8 212.9L649.1 215.1L649.4 218.7L649.7 208.4L650.0 214.8L650.3 218.8L650.6 210.9L650.9 225.0L651.2 221.0L651.5 217.4L651.8 213.5L652.1 211.6L652.4 216.0L652.7 214.8L653.0 216.8L653.3 207.3L653.6 213.8L653.9 215.9L654.2 204.0L654.5 209.4L654.8 208.2L655.1 206.3L655.4 211.8L655.7 203.6L656.0 206.9L656.3 203.4L656.6 203.6L656.9 195.8L657.2 191.5L657.5 197.7L657.8 192.3L658.1 196.0L658.4 186.4L658.7 184.8L659.0 191.9L659.3 188.7L659.6 189.6L659.9 196.2L660.2 192.3L660.5 196.1L660.8 199.6L661.1 191.4L661.4 204.9L661.7 200.5L662.0 200.2L662.3 202.8L662.6 200.8" fill="none" stroke="#00f" stroke-width="0.9" stroke-opacity="0.7"/><path d="M57.0 197.8L57.5 32.0L58.0 197.8M103.8 167.8L104.3 116.0L104.8 167.8M111.0 163.1L111.5 102.7L112.0 163.1M149.5 165.1L150.0 62.0L150.5 165.1M152.5 142.3L153.0 62.0L153.5 142.3M155.5 137.8L156.0 70.0L156.5 137.8M164.3 173.0L164.8 124.5L165.3 173.0M187.5 158.9L188.0 95.0L188.5 158.9M190.5 167.9L191.0 100.0L191.5 167.9M193.5 174.9L194.0 107.0L194.5 174.9M206.8 78.8L207.3 32.0L207.8 78.8M208.0 77.1L208.5 32.0L209.0 77.1M209.2 94.8L209.7 32.0L210.2 94.8M214.0 121.7L214.5 59.0L215.0 121.7M216.5 111.7L217.0 59.0L217.5 111.7M226.2 157.9L226.7 98.0L227.2 157.9M237.1 171.7L237.6 96.0L238.1 171.7M266.1 201.4L266.6 96.0L267.1 201.4M289.6 192.6L290.1 32.0L290.6 192.6M338.8 153.1L339.3 106.0L339.8 153.1M359.5 161.1L360.0 115.0L360.5 161.1M362.5 155.9L363.0 115.0L363.5 155.9M365.5 148.4L366.0 115.0L366.5 148.4M423.2 127.8L423.7 32.0L424.2 127.8M426.1 135.5L426.6 64.0L427.1 135.5M430.5 112.1L431.0 32.0L431.5 112.1M481.8 110.9L482.3 32.0L482.8 110.9M521.8 176.5L522.3 32.0L522.8 176.5M539.8 123.2L540.3 32.0L540.8 123.2M573.0 150.2L573.5 90.0L574.0 150.2M611.8 155.1L612.3 78.0L612.8 155.1M649.3 125.0L649.8 32.0L650.3 125.0M651.5 123.1L652.0 60.0L652.5 123.1M654.5 121.6L655.0 52.0L655.5 121.6M656.5 114.6L657.0 55.0L657.5 114.6M658.5 110.3L659.0 52.0L659.5 110.3M660.5 113.7L661.0 60.0L661.5 113.7" fill="none" stroke="#f00" stroke-width="0.7" stroke-opacity="0.75"/><path d="M62.5 140.3L63.0 90.6L63.5 140.3M90.9 161.3L91.4 102.7L91.9 161.3M134.1 117.2L134.6 64.0L135.1 117.2M176.5 114.2L177.0 64.0L177.5 114.2M247.2 115.3L247.7 41.0L248.2 115.3M397.5 117.9L398.0 48.0L398.5 117.9M470.9 131.5L471.4 61.5L471.9 131.5M508.0 157.9L508.5 75.0L509.0 157.9M593.1 151.7L593.6 62.7L594.1 151.7" fill="none" stroke="#00f" stroke-width="0.7" stroke-opacity="0.75"/><path d="M34.6 194.6C34.9 201.2 35.6 224.9 36.3 234.3C36.9 243.7 37.7 247.5 38.4 251.0C39.1 254.5 39.8 255.0 40.5 255.2C41.2 255.4 41.7 252.9 42.5 252.1C43.4 251.2 44.6 250.0 45.7 250.0C46.7 250.0 47.8 251.2 48.8 252.1C49.9 252.9 51.1 255.0 52.0 255.2C52.8 255.4 53.4 259.7 54.0 253.1C54.7 246.5 55.4 226.3 56.1 215.5C56.8 204.7 57.4 191.1 58.2 188.3C59.1 185.5 60.3 196.1 61.4 198.7C62.4 201.4 63.3 202.7 64.5 204.0C65.7 205.2 67.5 205.9 68.7 206.1C69.9 206.2 70.6 205.4 71.8 205.0C73.0 204.7 74.8 205.0 76.0 204.0C77.2 202.9 78.1 200.7 79.1 198.7C80.2 196.8 81.2 193.9 82.3 192.5C83.3 191.1 84.4 190.0 85.4 190.4C86.5 190.7 87.5 193.5 88.6 194.6C89.6 195.6 90.6 197.0 91.7 196.6C92.7 196.3 93.6 193.5 94.8 192.5C96.0 191.4 97.8 192.8 99.0 190.4C100.2 187.9 101.1 182.4 102.1 177.8C103.2 173.3 104.2 166.7 105.3 163.2C106.3 159.7 107.4 156.9 108.4 156.9C109.5 156.9 110.7 160.4 111.6 163.2C112.4 166.0 112.9 169.8 113.6 173.6C114.3 177.5 114.9 183.4 115.7 186.2C116.6 189.0 117.8 189.9 118.9 190.4C119.9 190.9 121.1 189.0 122.0 189.3C122.9 189.7 123.2 191.2 124.1 192.5C125.0 193.7 126.2 197.7 127.2 196.6C128.3 195.6 129.1 188.6 130.2 186.2C131.3 183.8 132.5 184.1 133.8 182.0C135.2 179.9 137.1 173.6 138.4 173.6C139.6 173.6 140.5 179.6 141.5 182.0C142.5 184.5 143.6 188.6 144.6 188.3C145.7 187.9 146.7 184.8 147.8 179.9C148.8 175.0 150.0 165.3 150.9 159.0C151.8 152.7 152.3 146.1 153.0 142.3C153.7 138.4 154.2 136.0 155.1 136.0C156.0 136.0 157.4 139.1 158.2 142.3C159.1 145.4 159.5 150.3 160.3 154.8C161.2 159.4 162.4 165.6 163.5 169.5C164.5 173.3 165.7 174.0 166.6 177.8C167.5 181.7 167.8 189.3 168.7 192.5C169.6 195.6 170.8 196.3 171.8 196.6C172.9 197.0 173.9 193.5 175.0 194.6C176.0 195.6 177.2 201.5 178.1 202.9C179.0 204.3 179.3 206.1 180.2 202.9C181.1 199.8 182.3 192.1 183.3 184.1C184.4 176.1 185.4 158.3 186.5 154.8C187.5 151.3 188.6 160.1 189.6 163.2C190.6 166.3 191.5 171.2 192.7 173.6C194.0 176.1 195.7 177.8 196.9 177.8C198.1 177.8 199.0 179.6 200.1 173.6C201.1 167.7 202.3 154.5 203.2 142.3C204.1 130.1 204.5 112.4 205.3 100.5C206.1 88.5 207.2 69.6 208.1 70.6C208.9 71.7 209.6 97.2 210.5 106.7C211.4 116.2 212.8 126.6 213.6 127.6C214.5 128.7 215.0 115.8 215.7 113.0C216.4 110.2 217.1 107.8 217.8 110.9C218.5 114.0 219.0 125.2 219.9 131.8C220.8 138.4 221.8 146.1 223.1 150.6C224.3 155.2 226.1 156.5 227.2 159.0C228.4 161.5 229.1 162.6 230.2 165.5C231.2 168.5 232.7 174.7 233.6 176.7C234.5 178.8 234.9 178.7 235.6 177.8C236.3 176.9 236.6 168.8 237.5 171.3C238.5 173.8 239.9 188.9 241.1 192.9C242.3 196.9 243.5 194.9 244.8 195.3C246.0 195.7 247.2 195.7 248.5 195.3C249.7 194.9 251.1 197.4 252.1 192.9C253.2 188.4 253.8 174.4 254.6 168.3C255.4 162.1 256.2 158.4 257.1 156.0C257.9 153.5 258.5 152.3 259.5 153.5C260.6 154.7 262.2 158.4 263.2 163.3C264.2 168.3 265.1 175.6 265.7 183.0C266.3 190.4 266.5 199.4 266.9 207.6C267.3 215.8 267.7 224.5 268.1 232.2C268.5 240.0 268.5 250.3 269.4 253.9C270.2 257.5 271.8 254.3 273.1 253.9C274.3 253.5 275.5 251.8 276.8 251.4C278.0 251.0 279.2 251.0 280.4 251.4C281.7 251.8 283.1 257.1 284.1 253.9C285.2 250.7 285.8 241.6 286.6 232.2C287.4 222.9 288.2 205.6 289.1 197.8C289.9 190.0 290.5 186.3 291.5 185.5C292.5 184.7 294.0 188.4 295.2 192.9C296.4 197.4 297.9 211.7 298.9 212.6C299.9 213.4 300.5 198.6 301.4 197.8C302.2 197.0 302.8 207.2 303.8 207.6C304.8 208.0 306.3 200.3 307.5 200.3C308.7 200.3 310.2 208.0 311.2 207.6C312.2 207.2 312.6 203.1 313.7 197.8C314.7 192.5 316.3 178.9 317.4 175.6C318.4 172.4 318.8 176.1 319.8 178.1C320.8 180.2 322.3 185.1 323.5 188.0C324.7 190.8 326.0 194.1 327.2 195.3C328.4 196.6 329.7 198.8 330.9 195.3C332.0 191.8 333.0 181.0 334.1 174.4C335.3 167.9 336.8 159.9 337.8 156.0C338.9 152.1 339.4 149.0 340.3 151.0C341.3 153.1 342.4 163.8 343.5 168.3C344.7 172.8 346.0 177.3 347.2 178.1C348.5 178.9 349.7 174.4 350.9 173.2C352.1 172.0 353.4 172.4 354.6 170.7C355.8 169.1 357.1 165.4 358.3 163.3C359.5 161.3 360.6 161.3 362.0 158.4C363.4 155.6 365.5 146.5 366.9 146.1C368.3 145.7 369.4 153.9 370.6 156.0C371.8 158.0 373.1 156.8 374.3 158.4C375.5 160.1 376.8 166.6 378.0 165.8C379.2 165.0 380.6 156.0 381.7 153.5C382.8 151.0 383.6 149.4 384.6 151.0C385.7 152.7 386.7 159.7 387.8 163.3C389.0 167.0 390.3 171.1 391.5 173.2C392.7 175.2 394.0 174.8 395.2 175.6C396.4 176.5 397.7 178.5 398.9 178.1C400.1 177.7 401.4 174.8 402.6 173.2C403.8 171.5 405.0 168.3 406.3 168.3C407.5 168.3 408.7 171.1 410.0 173.2C411.2 175.2 412.4 178.9 413.7 180.6C414.9 182.2 416.3 186.7 417.4 183.0C418.4 179.3 419.0 167.0 419.8 158.4C420.6 149.8 421.5 136.9 422.3 131.4C423.1 125.8 423.9 124.0 424.7 125.2C425.6 126.4 426.4 139.4 427.2 138.7C428.0 138.1 428.8 127.5 429.7 121.5C430.5 115.6 431.4 100.4 432.3 103.1C433.1 105.7 434.0 128.3 434.7 137.5C435.5 146.7 436.4 153.3 437.0 158.4C437.7 163.6 437.7 169.9 438.6 168.3C439.5 166.6 441.3 151.9 442.3 148.6C443.3 145.3 443.9 146.1 444.8 148.6C445.6 151.0 446.2 158.8 447.2 163.3C448.2 167.9 449.7 171.5 450.9 175.6C452.1 179.8 453.4 184.7 454.6 188.0C455.8 191.2 457.1 193.3 458.3 195.3C459.5 197.4 460.8 199.8 462.0 200.3C463.2 200.7 464.4 201.5 465.7 197.8C466.9 194.1 468.1 183.0 469.4 178.1C470.6 173.2 471.8 174.4 473.1 168.3C474.3 162.1 475.5 149.8 476.8 141.2C478.0 132.6 479.3 122.3 480.4 116.6C481.6 110.9 482.6 106.3 483.6 106.8C484.7 107.2 485.7 113.3 486.6 119.1C487.5 124.8 488.0 133.8 489.1 141.2C490.1 148.6 491.5 158.8 492.7 163.3C494.0 167.9 495.4 162.5 496.4 168.3C497.5 174.0 498.3 187.1 498.9 197.8C499.5 208.5 499.7 222.9 500.1 232.2C500.5 241.6 500.5 250.7 501.4 253.9C502.2 257.1 503.8 252.2 505.0 251.4C506.3 250.7 507.5 249.8 508.7 249.5C510.0 249.1 511.2 248.7 512.4 249.5C513.7 250.2 515.1 256.8 516.1 253.9C517.1 251.0 517.8 242.4 518.6 232.2C519.4 222.1 520.2 204.8 521.0 192.9C521.9 181.0 522.7 165.8 523.5 160.9C524.3 156.0 525.1 160.9 526.0 163.3C526.8 165.8 527.7 174.2 528.4 175.6C529.2 177.1 529.6 174.0 530.4 172.0C531.3 169.9 532.6 167.0 533.5 163.3C534.4 159.7 535.2 155.1 536.0 149.8C536.8 144.5 537.5 136.9 538.4 131.4C539.4 125.8 540.8 116.2 541.8 116.6C542.9 117.0 543.9 126.0 544.8 133.8C545.7 141.6 546.4 156.4 547.2 163.3C548.0 170.3 548.7 174.0 549.7 175.6C550.7 177.3 552.1 172.8 553.4 173.2C554.6 173.6 555.8 178.9 557.1 178.1C558.3 177.3 559.5 170.7 560.8 168.3C562.0 165.8 563.2 163.3 564.4 163.3C565.7 163.3 566.9 169.9 568.1 168.3C569.4 166.6 570.8 156.8 571.8 153.5C572.9 150.2 573.3 147.4 574.3 148.6C575.3 149.8 577.0 158.4 578.0 160.9C579.0 163.3 579.4 164.2 580.4 163.3C581.5 162.5 582.9 155.6 584.1 156.0C585.4 156.4 586.8 162.9 587.8 165.8C588.9 168.7 589.3 172.0 590.3 173.2C591.3 174.4 592.7 172.8 594.0 173.2C595.2 173.6 596.4 174.8 597.7 175.6C598.9 176.5 600.4 177.3 601.4 178.1C602.4 178.9 603.1 180.4 603.7 180.4C604.3 180.4 604.4 181.0 605.0 178.1C605.7 175.2 606.8 165.7 607.4 163.2C608.0 160.7 608.1 164.6 608.7 163.3C609.4 162.1 610.4 157.3 611.1 155.8C611.8 154.4 612.0 153.2 613.0 154.7C613.9 156.1 615.5 162.7 616.7 164.5C617.8 166.3 618.7 167.2 619.7 165.7C620.8 164.3 621.8 155.7 622.8 155.9C623.8 156.1 624.8 164.3 625.9 167.0C627.0 169.6 628.3 171.7 629.6 171.9C630.8 172.1 632.0 168.8 633.3 168.2C634.5 167.6 635.6 168.1 636.9 168.1C638.1 168.1 639.5 167.3 640.5 168.1C641.6 168.9 642.2 176.7 643.0 173.0C643.8 169.3 644.6 153.4 645.5 146.0C646.3 138.6 647.1 132.5 647.9 128.8C648.7 125.1 649.5 124.9 650.4 123.9C651.2 122.9 652.0 123.1 652.8 122.7C653.6 122.2 654.5 123.3 655.3 121.4C656.1 119.6 656.9 113.6 657.7 111.6C658.6 109.5 659.5 107.9 660.2 109.1C660.9 110.4 661.6 117.3 661.9 119.0" fill="none" stroke="#f00" stroke-width="4.5" stroke-linejoin="round" stroke-linecap="round"/><path d="M34.4 228.0C34.7 226.3 35.8 219.5 36.5 217.6C37.1 215.6 37.4 217.0 38.4 216.5C39.4 216.0 41.2 215.3 42.5 214.4C43.9 213.6 45.3 213.2 46.7 211.3C48.1 209.4 49.5 206.8 50.9 202.9C52.3 199.1 53.9 193.9 55.1 188.3C56.3 182.7 57.2 176.4 58.2 169.5C59.3 162.5 60.6 151.3 61.4 146.5C62.2 141.6 62.5 139.8 63.0 140.2C63.6 140.5 63.9 141.2 64.5 148.6C65.1 155.9 65.9 173.6 66.6 184.1C67.3 194.6 67.8 205.0 68.7 211.3C69.6 217.6 70.6 219.5 71.8 221.7C73.0 224.0 74.8 224.9 76.0 224.9C77.2 224.9 78.1 224.7 79.1 221.7C80.2 218.8 81.2 213.4 82.3 207.1C83.3 200.8 84.4 191.1 85.4 184.1C86.5 177.1 87.7 169.5 88.6 165.3C89.4 161.1 89.9 159.0 90.6 159.0C91.3 159.0 91.9 161.4 92.7 165.3C93.6 169.1 94.8 178.2 95.9 182.0C96.9 185.8 98.0 186.5 99.0 188.3C100.1 190.0 101.1 187.9 102.1 192.5C103.2 197.0 104.2 209.2 105.3 215.5C106.3 221.7 107.5 227.3 108.4 230.1C109.3 232.9 109.6 233.2 110.5 232.2C111.4 231.2 112.4 227.3 113.6 223.8C114.9 220.3 116.4 214.3 117.8 211.3C119.2 208.3 120.6 207.5 122.0 206.1C123.4 204.7 125.0 206.6 126.2 202.9C127.4 199.3 128.3 196.0 129.3 184.1C130.4 172.3 131.7 144.0 132.5 131.8C133.3 119.6 133.5 109.2 134.2 110.9C134.8 112.7 135.6 130.1 136.3 142.3C137.0 154.5 137.7 171.2 138.4 184.1C139.1 197.0 139.8 210.9 140.5 219.7C141.2 228.4 141.7 233.9 142.5 236.4C143.4 238.8 144.6 235.7 145.7 234.3C146.7 232.9 147.6 231.5 148.8 228.0C150.0 224.5 151.6 217.2 153.0 213.4C154.4 209.5 155.8 207.3 157.2 205.0C158.6 202.7 160.0 200.5 161.4 199.8C162.8 199.1 164.3 201.7 165.5 200.8C166.8 200.0 167.6 199.8 168.7 194.6C169.7 189.3 170.8 179.9 171.8 169.5C172.9 159.0 173.9 143.2 175.0 131.8C176.1 120.5 177.5 102.5 178.5 101.5C179.4 100.5 180.0 114.2 180.6 125.5C181.2 136.9 181.7 157.3 182.3 169.5C182.9 181.7 183.7 192.1 184.4 198.7C185.1 205.4 185.6 207.5 186.5 209.2C187.3 210.9 188.6 210.2 189.6 209.2C190.6 208.2 191.7 208.8 192.7 202.9C193.8 197.0 194.8 182.7 195.9 173.6C196.9 164.6 198.1 148.6 199.0 148.6C199.9 148.6 200.2 161.8 201.1 173.6C202.0 185.5 203.4 209.2 204.2 219.7C205.1 230.1 205.5 234.3 206.3 236.4C207.2 238.5 208.4 235.0 209.5 232.2C210.5 229.4 211.6 223.5 212.6 219.7C213.6 215.8 214.5 211.8 215.7 209.2C217.0 206.6 218.5 206.1 219.9 204.0C221.3 201.9 222.7 196.5 224.1 196.6C225.5 196.8 227.3 203.2 228.3 205.0C229.3 206.8 229.3 207.3 230.0 207.6C230.7 208.0 231.9 207.5 232.5 207.1C233.1 206.7 232.9 208.2 233.7 205.2C234.4 202.2 235.8 194.1 237.0 189.2C238.2 184.2 239.8 184.1 241.1 175.6C242.4 167.2 243.5 149.8 244.8 138.7C246.0 127.7 247.4 110.0 248.5 109.2C249.5 108.4 250.1 120.7 250.9 133.8C251.7 146.9 252.6 175.6 253.4 188.0C254.2 200.3 254.8 204.8 255.8 207.6C256.9 210.5 258.3 206.8 259.5 205.2C260.8 203.5 262.1 201.9 263.2 197.8C264.4 193.7 265.4 181.4 266.4 180.6C267.4 179.8 268.3 188.8 269.4 192.9C270.5 197.0 271.8 203.5 273.1 205.2C274.3 206.8 275.5 202.7 276.8 202.7C278.0 202.7 279.2 206.0 280.4 205.2C281.7 204.4 282.9 197.4 284.1 197.8C285.4 198.2 286.8 204.8 287.8 207.6C288.9 210.5 289.5 217.5 290.3 215.0C291.1 212.6 291.9 199.4 292.7 192.9C293.6 186.3 294.4 176.1 295.2 175.6C296.0 175.2 296.6 185.1 297.7 190.4C298.7 195.7 300.1 205.6 301.4 207.6C302.6 209.7 303.8 204.4 305.0 202.7C306.3 201.1 307.5 197.0 308.7 197.8C310.0 198.6 311.2 207.6 312.4 207.6C313.7 207.6 314.9 196.2 316.1 197.8C317.4 199.4 318.8 213.0 319.8 217.5C320.8 222.0 321.2 225.7 322.3 224.9C323.3 224.0 324.7 215.8 326.0 212.6C327.2 209.3 328.4 206.6 329.7 205.2C330.9 203.7 332.3 204.2 333.5 203.9C334.8 203.7 336.0 205.0 337.2 203.9C338.5 202.9 339.8 201.3 341.1 197.8C342.3 194.3 343.5 186.7 344.8 183.0C346.0 179.3 347.2 176.5 348.5 175.6C349.7 174.8 350.9 174.4 352.1 178.1C353.4 181.8 354.6 190.8 355.8 197.8C357.1 204.8 358.3 218.3 359.5 219.9C360.8 221.6 362.0 211.7 363.2 207.6C364.4 203.5 365.7 197.6 366.9 195.3C368.1 193.1 369.4 194.3 370.6 194.1C371.8 193.9 373.1 194.3 374.3 194.1C375.5 193.9 376.8 192.3 378.0 192.9C379.2 193.5 380.4 198.2 381.7 197.8C382.9 197.4 384.1 194.9 385.4 190.4C386.6 185.9 387.8 178.9 389.1 170.7C390.3 162.5 391.5 151.0 392.7 141.2C394.0 131.4 395.4 115.0 396.4 111.7C397.5 108.4 398.1 111.7 398.9 121.5C399.7 131.4 400.5 156.4 401.4 170.7C402.2 185.1 403.2 201.1 403.8 207.6C404.4 214.2 404.4 212.6 405.0 210.1C405.7 207.6 406.7 196.6 407.5 192.9C408.3 189.2 408.9 188.0 410.0 188.0C411.0 188.0 412.4 191.2 413.7 192.9C414.9 194.5 416.1 196.2 417.4 197.8C418.6 199.4 419.8 199.4 421.0 202.7C422.3 206.0 423.7 213.4 424.7 217.5C425.8 221.6 426.2 227.1 427.2 227.3C428.1 227.5 429.3 222.0 430.4 218.7C431.6 215.4 433.0 210.7 434.1 207.6C435.3 204.6 436.2 201.9 437.4 200.3C438.5 198.6 439.8 199.0 441.1 197.8C442.3 196.6 443.5 194.9 444.8 192.9C446.0 190.8 447.4 190.4 448.5 185.5C449.5 180.6 450.1 170.3 450.9 163.3C451.7 156.4 452.6 144.5 453.4 143.7C454.2 142.8 455.0 151.9 455.8 158.4C456.7 165.0 457.5 176.5 458.3 183.0C459.1 189.6 459.7 197.0 460.8 197.8C461.8 198.6 463.2 194.5 464.4 188.0C465.7 181.4 467.1 167.4 468.1 158.4C469.2 149.4 469.9 138.7 470.6 133.8C471.3 128.9 471.7 126.8 472.3 128.9C472.9 130.9 473.6 135.0 474.3 146.1C475.0 157.2 475.9 182.2 476.8 195.3C477.6 208.5 478.2 221.2 479.2 224.9C480.2 228.6 481.7 220.8 482.9 217.5C484.1 214.2 485.4 208.0 486.6 205.2C487.8 202.3 489.1 201.5 490.3 200.3C491.5 199.0 492.7 199.0 494.0 197.8C495.2 196.6 496.4 197.0 497.7 192.9C498.9 188.8 500.3 178.9 501.4 173.2C502.4 167.4 503.0 161.7 503.8 158.4C504.6 155.1 505.5 153.5 506.3 153.5C507.1 153.5 507.7 154.7 508.7 158.4C509.8 162.1 511.2 169.9 512.4 175.6C513.7 181.4 514.9 187.5 516.1 192.9C517.4 198.2 518.9 203.5 519.8 207.6C520.7 211.7 520.7 217.5 521.5 217.5C522.4 217.5 523.6 215.4 524.7 207.6C525.9 199.8 527.5 179.8 528.4 170.7C529.3 161.7 529.4 155.3 530.0 153.5C530.6 151.7 531.3 154.9 532.0 159.7C532.8 164.4 533.9 173.0 534.7 181.8C535.6 190.6 536.3 206.6 537.4 212.6C538.4 218.5 539.8 217.5 541.1 217.5C542.3 217.5 543.5 215.8 544.8 212.6C546.0 209.3 547.2 203.5 548.5 197.8C549.7 192.1 550.9 183.0 552.1 178.1C553.4 173.2 554.6 167.4 555.8 168.3C557.1 169.1 558.3 176.9 559.5 183.0C560.8 189.2 562.0 199.0 563.2 205.2C564.4 211.3 565.9 217.9 566.9 219.9C567.9 222.0 568.3 220.8 569.4 217.5C570.4 214.2 571.8 204.4 573.1 200.3C574.3 196.2 575.5 194.1 576.8 192.9C578.0 191.6 579.2 193.7 580.4 192.9C581.7 192.1 582.9 192.9 584.1 188.0C585.4 183.0 586.6 170.3 587.8 163.3C589.1 156.4 590.3 147.4 591.5 146.1C592.7 144.9 593.9 152.7 595.2 156.0C596.5 159.2 598.3 161.6 599.4 165.7C600.6 169.8 601.1 174.3 601.9 180.5C602.7 186.6 603.3 197.7 604.4 202.6C605.4 207.5 606.8 209.0 608.1 210.0C609.3 211.0 610.5 209.3 611.7 208.8C613.0 208.2 614.2 208.8 615.4 206.9C616.7 205.1 617.9 202.7 619.1 197.7C620.3 192.7 621.6 182.5 622.8 176.8C624.0 171.1 625.2 163.1 626.5 163.3C627.8 163.5 629.6 171.0 630.7 177.9C631.8 184.9 632.6 199.2 633.2 205.0C633.8 210.7 633.8 215.2 634.4 212.3C635.0 209.5 636.0 196.0 636.9 187.8C637.7 179.6 638.6 168.9 639.3 163.2C640.0 157.5 640.5 153.0 641.3 153.4C642.0 153.8 642.9 158.3 643.7 165.7C644.6 173.0 645.5 189.0 646.2 197.6C646.9 206.2 647.2 214.0 647.9 217.2C648.6 220.5 649.5 218.1 650.4 217.2C651.2 216.4 652.0 214.0 652.8 212.3C653.6 210.7 654.5 210.7 655.3 207.4C656.1 204.1 657.1 196.0 657.7 192.7C658.4 189.4 658.4 186.9 659.0 187.8C659.5 188.6 660.3 194.7 660.9 197.6C661.5 200.5 662.4 203.7 662.7 205.0" fill="none" stroke="#00f" stroke-width="4.8" stroke-linejoin="round" stroke-linecap="round"/></g>
<g clip-path="url(#c1)"><path d="M34.9 413.2L35.1 401.6L35.4 412.7L35.6 401.6L35.9 396.2L36.1 406.8L36.4 405.4L36.6 396.7L36.9 376.8L37.1 390.3L37.4 384.5L37.6 383.0L37.9 378.3L38.1 382.8L38.4 378.5L38.6 383.7L38.9 373.6L39.1 380.2L39.4 377.4L39.6 381.7L39.9 370.6L40.1 376.7L40.4 378.2L40.6 387.1L40.9 381.6L41.1 379.7L41.4 382.7L41.6 387.0L41.9 384.2L42.1 378.3L42.4 381.5L42.6 390.5L42.9 389.8L43.1 400.3L43.4 395.6L43.6 396.1L43.9 402.2L44.1 401.4L44.4 398.8L44.6 408.7L44.9 401.3L45.1 409.8L45.4 428.2L45.6 406.7L45.9 414.8L46.1 414.4L46.4 419.1L46.6 420.9L46.9 416.4L47.1 408.9L47.4 410.9L47.6 412.5L47.9 424.3L48.1 408.1L48.4 417.4L48.6 410.5L48.9 408.8L49.1 418.4L49.4 413.2L49.6 417.8L49.9 413.0L50.1 414.8L50.4 425.2L50.6 413.8L50.9 421.9L51.1 418.3L51.4 414.8L51.6 414.6L51.9 433.9L52.1 424.0L52.4 419.9L52.6 429.1L52.9 433.5L53.1 428.9L53.4 432.7L53.6 438.9L53.9 432.2L54.1 438.8L54.4 447.4L54.6 430.8L54.9 441.9L55.1 442.3L55.4 449.2L55.6 446.8L55.9 440.6L56.1 436.5L56.4 434.7L56.6 439.8L56.9 448.4L57.1 449.8L57.4 443.7L57.6 446.9L57.9 441.0L58.1 444.9L58.4 439.9L58.6 446.6L58.9 436.6L59.1 436.5L59.4 437.9L59.6 443.7L59.9 445.8L60.1 449.7L60.4 445.7L60.6 427.8L60.9 446.3L61.1 444.4L61.4 452.4L61.6 443.4L61.9 447.8L62.1 457.0L62.4 452.1L62.6 448.3L62.9 451.7L63.1 454.8L63.4 448.2L63.6 456.4L63.9 453.4L64.1 435.9L64.4 453.6L64.6 454.8L64.9 450.2L65.1 453.3L65.4 451.2L65.6 453.8L65.9 457.5L66.1 448.1L66.4 451.0L66.6 452.0L66.9 444.3L67.1 449.4L67.4 443.2L67.6 446.1L67.9 448.3L68.1 441.4L68.4 449.4L68.6 435.0L68.9 439.1L69.1 439.6L69.4 440.9L69.6 429.1L69.9 445.1L70.1 438.0L70.4 433.6L70.6 438.7L70.9 434.3L71.1 437.6L71.4 433.8L71.6 430.5L71.9 427.9L72.1 439.9L72.4 422.5L72.6 421.1L72.9 428.7L73.1 425.2L73.4 439.9L73.6 436.2L73.9 428.3L74.1 422.6L74.4 429.1L74.6 423.0L74.9 434.3L75.1 427.7L75.4 432.8L75.6 435.0L75.9 427.2L76.1 434.7L76.4 427.5L76.6 429.7L76.9 428.8L77.1 431.4L77.4 427.6L77.6 435.4L77.9 416.1L78.1 430.5L78.4 425.4L78.6 435.9L78.9 432.4L79.1 429.9L79.4 428.1L79.6 429.1L79.9 426.7L80.1 422.0L80.4 421.4L80.6 434.9L80.9 422.8L81.1 435.9L81.4 426.3L81.6 431.8L81.9 435.5L82.1 421.9L82.4 424.9L82.6 437.0L82.9 447.1L83.1 424.1L83.4 436.4L83.6 434.4L83.9 431.5L84.1 437.6L84.4 436.3L84.6 443.0L84.9 451.0L85.1 446.7L85.4 430.2L85.6 448.5L85.9 435.2L86.1 442.5L86.4 451.5L86.6 438.4L86.9 456.6L87.1 442.8L87.4 455.8L87.6 450.1L87.9 454.6L88.1 452.2L88.4 452.5L88.6 448.1L88.9 448.8L89.1 457.9L89.4 456.0L89.6 463.9L89.9 455.1L90.1 463.0L90.4 457.5L90.6 456.2L90.9 453.6L91.1 460.5L91.4 450.7L91.6 451.4L91.9 456.0L92.1 444.7L92.4 454.7L92.6 446.3L92.9 450.4L93.1 459.2L93.4 451.4L93.6 445.6L93.9 458.6L94.1 447.9L94.4 457.8L94.6 467.6L94.9 462.8L95.1 456.2L95.4 451.2L95.6 440.7L95.9 458.6L96.1 457.7L96.4 465.0L96.6 458.6L96.9 464.3L97.1 461.4L97.4 465.3L97.6 448.0L97.9 459.3L98.1 456.0L98.4 458.2L98.6 451.1L98.9 461.2L99.1 450.9L99.4 464.7L99.6 468.1L99.9 465.8L100.1 451.3L100.4 461.0L100.6 463.2L100.9 451.8L101.1 461.6L101.4 458.9L101.6 446.3L101.9 451.5L102.1 448.0L102.4 445.8L102.6 448.0L102.9 440.3L103.1 441.7L103.4 435.7L103.6 431.7L103.9 426.6L104.1 433.4L104.4 424.4L104.6 431.6L104.9 421.3L105.1 414.2L105.4 412.5L105.6 415.0L105.9 413.6L106.1 393.6L106.4 399.6L106.6 402.0L106.9 398.7L107.1 400.4L107.4 387.4L107.6 397.4L107.9 383.6L108.1 383.1L108.4 388.9L108.6 379.7L108.9 379.8L109.1 378.2L109.4 377.9L109.6 371.7L109.9 372.8L110.1 377.0L110.4 375.9L110.6 367.3L110.9 365.9L111.1 363.9L111.4 368.0L111.6 352.6L111.9 359.0L112.1 356.2L112.4 353.0L112.6 351.8L112.9 345.2L113.1 348.7L113.4 347.7L113.6 342.7L113.9 346.6L114.1 347.6L114.4 338.1L114.6 337.5L114.9 334.7L115.1 333.4L115.4 325.9L115.6 332.4L115.9 337.8L116.1 336.6L116.4 336.6L116.6 332.6L116.9 337.4L117.1 339.7L117.4 339.5L117.6 330.6L117.9 337.9L118.1 351.0L118.4 340.7L118.6 346.2L118.9 346.3L119.1 341.2L119.4 353.0L119.6 351.9L119.9 363.3L120.1 364.8L120.4 366.6L120.6 374.3L120.9 371.6L121.1 372.0L121.4 370.2L121.6 365.0L121.9 377.9L122.1 383.9L122.4 373.2L122.6 392.6L122.9 389.0L123.1 392.1L123.4 389.5L123.6 387.1L123.9 395.2L124.1 395.1L124.4 395.6L124.6 397.9L124.9 405.1L125.1 403.9L125.4 402.6L125.6 410.5L125.9 412.7L126.1 414.5L126.4 411.7L126.6 413.0L126.9 418.3L127.1 432.4L127.4 418.3L127.6 418.8L127.9 422.6L128.1 419.3L128.4 433.7L128.6 423.3L128.9 431.0L129.1 425.3L129.4 438.8L129.6 435.0L129.9 433.6L130.1 437.1L130.4 437.2L130.6 429.2L130.9 438.0L131.1 445.6L131.4 445.5L131.6 441.8L131.9 437.6L132.1 450.9L132.4 444.2L132.6 441.1L132.9 439.8L133.1 447.9L133.4 440.1L133.6 446.3L133.9 448.4L134.1 439.0L134.4 442.2L134.6 438.2L134.9 448.1L135.1 444.4L135.4 445.1L135.6 443.8L135.9 447.3L136.1 461.5L136.4 446.7L136.6 443.9L136.9 443.6L137.1 452.0L137.4 436.4L137.6 443.1L137.9 448.9L138.1 437.7L138.4 437.7L138.6 435.3L138.9 438.3L139.1 406.7L139.4 437.0L139.6 424.5L139.9 433.5L140.1 428.3L140.4 412.7L140.6 436.1L140.9 432.0L141.1 424.4L141.4 427.4L141.6 417.7L141.9 417.7L142.1 412.1L142.4 413.4L142.6 415.9L142.9 407.2L143.1 402.7L143.4 400.1L143.6 402.7L143.9 402.6L144.1 409.9L144.4 372.3L144.6 394.7L144.9 392.2L145.1 386.7L145.4 390.0L145.6 383.9L145.9 390.4L146.1 383.8L146.4 376.7L146.6 382.6L146.9 385.8L147.1 382.8L147.4 373.6L147.6 385.0L147.9 374.0L148.1 377.5L148.4 376.4L148.6 377.0L148.9 375.2L149.1 377.6L149.4 373.1L149.6 374.9L149.9 375.9L150.1 371.8L150.4 381.8L150.6 367.7L150.9 369.2L151.1 369.1L151.4 361.0L151.6 377.0L151.9 380.1L152.1 375.2L152.4 374.2L152.6 376.4L152.9 372.8L153.1 383.6L153.4 377.2L153.6 391.2L153.9 383.3L154.1 399.3L154.4 381.9L154.6 396.6L154.9 380.2L155.1 392.8L155.4 394.7L155.6 398.2L155.9 403.8L156.1 391.6L156.4 391.1L156.6 404.2L156.9 392.7L157.1 396.5L157.4 402.1L157.6 394.9L157.9 398.1L158.1 401.8L158.4 396.2L158.6 405.1L158.9 395.7L159.1 410.6L159.4 408.4L159.6 408.5L159.9 416.4L160.1 407.2L160.4 416.4L160.6 417.6L160.9 417.3L161.1 420.1L161.4 412.6L161.6 409.5L161.9 414.7L162.1 428.2L162.4 430.9L162.6 436.8L162.9 428.6L163.1 424.8L163.4 439.8L163.6 437.6L163.9 436.6L164.1 436.9L164.4 430.3L164.6 435.3L164.9 437.1L165.1 434.5L165.4 436.9L165.6 426.5L165.9 425.7L166.1 439.5L166.4 442.2L166.6 438.2L166.9 431.7L167.1 436.0L167.4 438.0L167.6 436.8L167.9 440.3L168.1 437.0L168.4 439.3L168.6 439.6L168.9 449.8L169.1 441.0L169.4 433.8L169.6 435.5L169.9 445.0L170.1 446.6L170.4 441.8L170.6 441.4L170.9 447.9L171.1 437.5L171.4 449.0L171.6 456.2L171.9 449.6L172.1 442.0L172.4 463.5L172.6 462.7L172.9 449.4L173.1 447.9L173.4 447.1L173.6 452.1L173.9 444.5L174.1 459.6L174.4 457.5L174.6 462.2L174.9 454.7L175.1 451.6L175.4 452.3L175.6 458.7L175.9 460.5L176.1 461.7L176.4 469.2L176.6 458.8L176.9 462.8L177.1 456.3L177.4 456.6L177.6 459.2L177.9 463.7L178.1 476.9L178.4 467.7L178.6 469.2L178.9 461.9L179.1 466.6L179.4 462.9L179.6 469.7L179.9 463.0L180.1 466.7L180.4 454.3L180.6 458.6L180.9 458.6L181.1 462.5L181.4 462.0L181.6 446.6L181.9 454.6L182.1 442.2L182.4 443.8L182.6 440.2L182.9 440.4L183.1 428.7L183.4 437.0L183.6 430.2L183.9 431.2L184.1 418.9L184.4 426.0L184.6 424.0L184.9 424.0L185.1 424.4L185.4 427.7L185.6 422.9L185.9 422.8L186.1 418.3L186.4 415.9L186.6 417.1L186.9 416.1L187.1 421.1L187.4 421.5L187.6 423.0L187.9 421.9L188.1 418.9L188.4 416.8L188.6 427.2L188.9 427.6L189.1 416.1L189.4 435.0L189.6 421.8L189.9 431.5L190.1 422.8L190.4 430.7L190.6 431.1L190.9 443.0L191.1 434.9L191.4 403.4L191.6 455.5L191.9 430.2L192.1 436.9L192.4 432.1L192.6 445.2L192.9 442.7L193.1 427.9L193.4 451.1L193.6 450.5L193.9 431.9L194.1 450.3L194.4 447.7L194.6 446.1L194.9 450.6L195.1 447.9L195.4 445.9L195.6 447.1L195.9 442.3L196.1 447.6L196.4 438.4L196.6 448.8L196.9 448.1L197.1 441.9L197.4 438.8L197.6 446.4L197.9 445.8L198.1 438.0L198.4 440.5L198.6 429.0L198.9 439.5L199.1 436.6L199.4 445.6L199.6 436.1L199.9 428.6L200.1 437.5L200.4 436.1L200.6 439.8L200.9 437.7L201.1 411.4L201.4 441.8L201.6 444.0L201.9 443.4L202.1 442.6L202.4 437.5L202.6 442.1L202.9 434.4L203.1 433.3L203.4 429.3L203.6 433.4L203.9 405.6L204.1 430.4L204.4 426.3L204.6 424.3L204.9 434.3L205.1 416.2L205.4 406.4L205.6 404.3L205.9 408.3L206.1 400.6L206.4 401.2L206.6 397.4L206.9 391.1L207.1 379.7L207.4 381.2L207.6 379.3L207.9 380.2L208.1 372.4L208.4 373.4L208.6 372.9L208.9 366.4L209.1 355.8L209.4 353.3L209.6 360.2L209.9 355.3L210.1 364.7L210.4 346.3L210.6 340.9L210.9 346.4L211.1 349.6L211.4 353.1L211.6 353.4L211.9 349.1L212.1 343.2L212.4 340.6L212.6 339.0L212.9 342.9L213.1 340.7L213.4 335.2L213.6 339.6L213.9 336.4L214.1 343.6L214.4 344.2L214.6 345.7L214.9 338.6L215.1 340.4L215.4 334.7L215.6 323.4L215.9 344.8L216.1 343.6L216.4 351.0L216.6 348.9L216.9 360.6L217.1 358.2L217.4 329.1L217.6 353.8L217.9 356.1L218.1 360.2L218.4 361.6L218.6 361.9L218.9 361.1L219.1 361.0L219.4 354.8L219.6 357.8L219.9 360.6L220.1 362.6L220.4 355.4L220.6 364.8L220.9 367.0L221.1 355.2L221.4 355.6L221.6 363.8L221.9 361.4L222.1 368.0L222.4 372.8L222.6 374.2L222.9 368.3L223.1 367.7L223.4 380.5L223.6 370.0L223.9 375.5L224.1 372.9L224.4 374.2L224.6 381.7L224.9 380.8L225.1 382.3L225.4 383.9L225.6 391.1L225.9 393.2L226.1 394.8L226.4 393.7L226.6 388.2L226.9 401.2L227.1 402.0L227.4 385.9L227.6 406.8L227.9 406.5L228.1 414.0L228.4 417.2L228.6 422.1L228.9 428.7L229.1 414.2L229.4 427.0L229.6 418.6L229.9 428.7L230.1 426.0L230.4 426.3L230.6 411.1L230.9 428.1L231.1 429.9L231.4 427.6L231.6 430.5L231.9 434.9L232.1 432.2L232.4 429.4L232.6 435.0L232.9 420.0L233.1 434.9L233.4 430.7L233.6 426.7L233.9 427.5L234.1 433.2L234.4 431.0L234.6 426.5L234.9 412.7L235.1 438.0L235.4 429.4L235.6 431.0L235.9 434.7L236.1 436.1L236.4 449.6L236.6 432.0L236.9 432.9L237.1 429.5L237.4 431.2L237.6 444.9L237.9 427.0L238.1 441.9L238.4 433.9L238.6 435.0L238.9 435.7L239.1 436.2L239.4 432.9L239.6 436.2L239.9 443.1L240.1 421.3L240.4 459.3L240.6 447.4L240.9 451.4L241.1 445.3L241.4 449.7L241.6 451.1L241.9 444.6L242.1 445.2L242.4 451.9L242.6 455.7L242.9 444.3L243.1 456.7L243.4 443.6L243.6 445.4L243.9 446.6L244.1 450.3L244.4 449.9L244.6 451.3L244.9 457.7L245.1 454.9L245.4 458.4L245.6 463.1L245.9 460.5L246.1 450.9L246.4 450.1L246.6 451.6L246.9 453.2L247.1 457.1L247.4 455.7L247.6 459.6L247.9 460.6L248.1 458.2L248.4 462.3L248.6 462.9L248.9 454.4L249.1 462.0L249.4 460.8L249.6 464.1L249.9 458.8L250.1 455.6L250.4 455.6L250.6 451.9L250.9 450.1L251.1 451.5L251.4 447.6L251.6 458.1L251.9 455.2L252.1 453.0L252.4 455.6L252.6 443.5L252.9 460.4L253.1 452.5L253.4 450.6L253.6 449.2L253.9 445.7L254.1 450.3L254.4 446.0L254.6 450.5L254.9 440.2L255.1 451.0L255.4 453.5L255.6 448.1L255.9 441.5L256.1 440.5L256.4 445.9L256.6 430.9L256.9 437.8L257.1 443.2L257.4 445.4L257.6 443.3L257.9 443.3L258.1 437.5L258.4 438.7L258.6 450.8L258.9 442.1L259.1 444.9L259.4 443.4L259.6 450.4L259.9 435.4L260.1 443.7L260.4 440.4L260.6 442.5L260.9 445.6L261.1 441.5L261.4 449.7L261.6 434.8L261.9 447.2L262.1 434.1L262.4 443.9L262.6 447.1L262.9 443.3L263.1 445.5L263.4 429.2L263.6 445.1L263.9 437.3L264.1 437.2L264.4 443.7L264.6 441.8L264.9 441.2L265.1 439.6L265.4 434.1L265.6 449.4L265.9 444.1L266.1 439.3L266.4 440.8L266.6 434.1L266.9 444.1L267.1 439.9L267.4 440.1L267.6 439.6L267.9 445.9L268.1 443.4L268.4 427.4L268.6 429.9L268.9 440.5L269.1 439.0L269.4 439.1L269.6 445.6L269.9 449.6L270.1 446.7L270.4 444.4L270.6 454.0L270.9 439.6L271.1 448.0L271.4 440.1L271.6 417.3L271.9 446.5L272.1 440.5L272.4 437.2L272.6 436.2L272.9 451.2L273.1 436.7L273.4 435.7L273.6 434.7L273.9 439.3L274.1 430.8L274.4 434.7L274.6 447.9L274.9 439.6L275.1 435.8L275.4 433.5L275.6 437.3L275.9 437.7L276.1 444.1L276.4 440.5L276.6 442.8L276.9 438.2L277.1 438.8L277.4 443.6L277.6 447.4L277.9 443.2L278.1 439.3L278.4 445.8L278.6 444.2L278.9 441.1L279.1 440.7L279.4 443.5L279.6 437.5L279.9 442.5L280.1 437.4L280.4 450.1L280.6 446.5L280.9 448.2L281.1 440.7L281.4 448.4L281.6 447.6L281.9 438.8L282.1 449.2L282.4 442.8L282.6 443.9L282.9 444.4L283.1 439.0L283.4 440.8L283.6 441.3L283.9 444.3L284.1 439.6L284.4 443.7L284.6 437.7L284.9 434.7L285.1 441.1L285.4 438.7L285.6 439.8L285.9 447.7L286.1 444.4L286.4 444.6L286.6 439.9L286.9 440.0L287.1 438.2L287.4 440.5L287.6 448.8L287.9 443.4L288.1 441.4L288.4 438.4L288.6 446.5L288.9 435.2L289.1 441.4L289.4 445.9L289.6 453.8L289.9 450.2L290.1 454.8L290.4 445.5L290.6 443.2L290.9 448.9L291.1 447.3L291.4 451.7L291.6 450.4L291.9 460.5L292.1 457.2L292.4 458.2L292.6 464.5L292.9 455.9L293.1 446.5L293.4 452.2L293.6 460.1L293.9 458.0L294.1 460.0L294.4 448.7L294.6 455.4L294.9 458.8L295.1 457.0L295.4 452.3L295.6 453.3L295.9 465.0L296.1 457.6L296.4 451.9L296.6 445.1L296.9 453.2L297.1 443.2L297.4 435.9L297.6 447.6L297.9 453.0L298.1 436.3L298.4 434.2L298.6 438.9L298.9 444.0L299.1 439.0L299.4 437.9L299.6 436.1L299.9 414.6L300.1 442.3L300.4 435.8L300.6 444.1L300.9 438.1L301.1 424.0L301.4 441.6L301.6 441.2L301.9 443.4L302.1 435.3L302.4 447.1L302.6 456.2L302.9 455.8L303.1 453.7L303.4 442.0L303.6 444.6L303.9 464.9L304.1 444.6L304.4 452.4L304.6 455.3L304.9 454.6L305.1 448.8L305.4 454.8L305.6 452.1L305.9 450.7L306.1 457.0L306.4 457.8L306.6 448.3L306.9 453.1L307.1 447.2L307.4 449.4L307.6 458.4L307.9 452.7L308.1 444.4L308.4 451.8L308.6 443.3L308.9 441.8L309.1 441.3L309.4 443.9L309.6 448.3L309.9 445.7L310.1 439.9L310.4 442.0L310.6 444.2L310.9 441.4L311.1 435.0L311.4 444.0L311.6 454.4L311.9 449.4L312.1 441.7L312.4 449.3L312.6 449.3L312.9 444.6L313.1 446.8L313.4 442.0L313.6 454.6L313.9 447.9L314.1 442.7L314.4 440.9L314.6 460.0L314.9 442.0L315.1 447.9L315.4 452.5L315.6 445.0L315.9 447.3L316.1 448.1L316.4 440.4L316.6 440.8L316.9 444.4L317.1 441.8L317.4 443.9L317.6 431.8L317.9 436.5L318.1 441.5L318.4 429.4L318.6 433.7L318.9 437.6L319.1 433.1L319.4 435.8L319.6 442.6L319.9 424.1L320.1 423.9L320.4 434.7L320.6 431.5L320.9 423.0L321.1 422.3L321.4 429.4L321.6 424.0L321.9 424.0L322.1 421.9L322.4 431.6L322.6 426.0L322.9 431.7L323.1 420.9L323.4 423.3L323.6 427.6L323.9 430.3L324.1 435.8L324.4 427.5L324.6 425.4L324.9 421.6L325.1 405.5L325.4 428.0L325.6 428.8L325.9 428.5L326.1 428.8L326.4 427.2L326.6 428.7L326.9 430.6L327.1 428.8L327.4 432.0L327.6 431.2L327.9 427.5L328.1 426.2L328.4 429.9L328.6 434.9L328.9 449.6L329.1 441.6L329.4 441.2L329.6 440.3L329.9 436.6L330.1 444.6L330.4 446.5L330.6 431.9L330.9 446.7L331.1 446.0L331.4 439.1L331.6 445.7L331.9 445.5L332.1 441.3L332.4 446.1L332.6 444.1L332.9 441.4L333.1 435.6L333.4 453.2L333.6 436.7L333.9 459.1L334.1 443.3L334.4 423.5L334.6 443.4L334.9 440.6L335.1 442.1L335.4 437.2L335.6 442.7L335.9 443.9L336.1 441.7L336.4 447.3L336.6 435.2L336.9 442.0L337.1 436.5L337.4 435.6L337.6 439.1L337.9 436.7L338.1 443.7L338.4 438.1L338.6 433.4L338.9 447.9L339.1 444.0L339.4 444.3L339.6 442.0L339.9 442.2L340.1 446.0L340.4 446.3L340.6 439.3L340.9 447.1L341.1 430.8L341.4 441.2L341.6 441.3L341.9 437.7L342.1 445.3L342.4 444.6L342.6 460.7L342.9 436.0L343.1 442.0L343.4 447.9L343.6 448.0L343.9 436.2L344.1 446.0L344.4 445.8L344.6 448.4L344.9 448.5L345.1 423.8L345.4 446.6L345.6 445.1L345.9 451.0L346.1 456.9L346.4 459.0L346.6 445.7L346.9 454.4L347.1 445.6L347.4 455.0L347.6 447.3L347.9 449.8L348.1 451.6L348.4 455.1L348.6 457.2L348.9 449.8L349.1 447.6L349.4 447.5L349.6 456.5L349.9 449.9L350.1 459.1L350.4 451.7L350.6 459.7L350.9 460.8L351.1 465.9L351.4 460.2L351.6 449.8L351.9 464.4L352.1 446.4L352.4 454.0L352.6 450.9L352.9 454.8L353.1 457.9L353.4 458.0L353.6 446.1L353.9 438.1L354.1 452.1L354.4 451.8L354.6 447.2L354.9 449.0L355.1 440.3L355.4 439.3L355.6 418.9L355.9 446.0L356.1 424.0L356.4 435.6L356.6 418.2L356.9 424.0L357.1 417.1L357.4 428.3L357.6 422.2L357.9 422.7L358.1 414.3L358.4 419.1L358.6 413.5L358.9 413.7L359.1 415.6L359.4 409.8L359.6 415.1L359.9 414.7L360.1 406.1L360.4 408.7L360.6 412.4L360.9 406.0L361.1 414.1L361.4 405.3L361.6 406.8L361.9 409.5L362.1 407.0L362.4 418.1L362.6 412.0L362.9 410.7L363.1 404.9L363.4 391.0L363.6 407.9L363.9 410.7L364.1 406.2L364.4 412.3L364.6 413.0L364.9 410.9L365.1 407.9L365.4 409.2L365.6 407.8L365.9 403.6L366.1 405.2L366.4 396.2L366.6 400.2L366.9 400.7L367.1 388.8L367.4 394.3L367.6 393.9L367.9 389.0L368.1 393.0L368.4 396.1L368.6 392.4L368.9 385.8L369.1 386.2L369.4 389.3L369.6 378.4L369.9 378.6L370.1 378.7L370.4 382.2L370.6 375.6L370.9 380.6L371.1 369.6L371.4 380.4L371.6 376.3L371.9 378.0L372.1 390.0L372.4 381.2L372.6 377.1L372.9 388.0L373.1 391.6L373.4 390.4L373.6 393.7L373.9 394.9L374.1 400.5L374.4 396.0L374.6 400.5L374.9 407.7L375.1 410.1L375.4 411.0L375.6 418.5L375.9 401.8L376.1 415.5L376.4 422.7L376.6 426.5L376.9 431.4L377.1 423.1L377.4 425.0L377.6 417.2L377.9 430.4L378.1 430.7L378.4 413.5L378.6 412.8L378.9 433.5L379.1 433.3L379.4 426.4L379.6 431.2L379.9 425.1L380.1 422.9L380.4 424.6L380.6 417.5L380.9 417.3L381.1 418.4L381.4 416.9L381.6 406.0L381.9 412.0L382.1 424.1L382.4 400.9L382.6 413.1L382.9 409.5L383.1 411.1L383.4 414.2L383.6 409.2L383.9 419.7L384.1 412.6L384.4 417.5L384.6 412.4L384.9 415.8L385.1 409.1L385.4 413.4L385.6 415.1L385.9 422.8L386.1 414.5L386.4 425.0L386.6 416.1L386.9 426.6L387.1 422.6L387.4 420.8L387.6 408.8L387.9 419.5L388.1 425.4L388.4 421.7L388.6 434.2L388.9 430.3L389.1 426.9L389.4 423.5L389.6 434.8L389.9 440.4L390.1 428.6L390.4 426.1L390.6 437.8L390.9 443.8L391.1 425.0L391.4 433.3L391.6 436.8L391.9 443.3L392.1 437.0L392.4 443.9L392.6 434.7L392.9 449.7L393.1 441.7L393.4 447.8L393.6 451.5L393.9 449.1L394.1 454.2L394.4 450.4L394.6 447.9L394.9 446.7L395.1 451.7L395.4 453.4L395.6 458.9L395.9 456.2L396.1 451.2L396.4 458.6L396.6 464.4L396.9 452.7L397.1 458.7L397.4 447.3L397.6 465.5L397.9 449.3L398.1 456.7L398.4 455.4L398.6 456.0L398.9 453.6L399.1 449.3L399.4 461.9L399.6 439.7L399.9 450.7L400.1 451.1L400.4 452.8L400.6 453.5L400.9 458.8L401.1 443.4L401.4 447.0L401.6 441.0L401.9 446.3L402.1 448.9L402.4 455.8L402.6 452.1L402.9 451.3L403.1 445.2L403.4 455.1L403.6 451.7L403.9 444.5L404.1 448.8L404.4 448.2L404.6 439.7L404.9 440.7L405.1 446.4L405.4 443.7L405.6 444.9L405.9 442.5L406.1 441.4L406.4 440.8L406.6 443.1L406.9 434.7L407.1 445.9L407.4 441.4L407.6 441.8L407.9 442.7L408.1 449.1L408.4 453.9L408.6 440.0L408.9 439.8L409.1 448.4L409.4 441.7L409.6 436.7L409.9 442.4L410.1 442.1L410.4 451.3L410.6 448.8L410.9 436.7L411.1 436.0L411.4 441.3L411.6 434.0L411.9 437.7L412.1 441.8L412.4 452.6L412.6 448.8L412.9 456.3L413.1 458.1L413.4 446.3L413.6 451.7L413.9 442.0L414.1 450.7L414.4 450.4L414.6 449.8L414.9 451.0L415.1 458.4L415.4 445.3L415.6 446.7L415.9 450.0L416.1 448.5L416.4 453.7L416.6 450.6L416.9 444.2L417.1 452.2L417.4 448.7L417.6 444.9L417.9 454.8L418.1 454.8L418.4 449.4L418.6 454.4L418.9 448.4L419.1 448.0L419.4 449.5L419.6 452.9L419.9 446.8L420.1 455.2L420.4 445.0L420.6 452.8L420.9 448.9L421.1 448.3L421.4 443.9L421.6 436.8L421.9 452.9L422.1 443.4L422.4 444.3L422.6 435.9L422.9 438.9L423.1 437.2L423.4 437.0L423.6 432.4L423.9 424.2L424.1 422.8L424.4 426.0L424.6 421.1L424.9 432.1L425.1 414.0L425.4 418.5L425.6 413.4L425.9 417.2L426.1 421.9L426.4 403.3L426.6 409.8L426.9 403.9L427.1 407.4L427.4 404.1L427.6 411.4L427.9 391.9L428.1 412.0L428.4 409.8L428.6 405.6L428.9 398.2L429.1 406.8L429.4 408.0L429.6 404.1L429.9 415.2L430.1 402.1L430.4 418.3L430.6 402.6L430.9 412.8L431.1 405.1L431.4 404.0L431.6 411.5L431.9 418.4L432.1 410.9L432.4 416.1L432.6 411.7L432.9 406.4L433.1 412.2L433.4 414.0L433.6 409.7L433.9 413.0L434.1 411.6L434.4 421.6L434.6 408.8L434.9 402.0L435.1 410.1L435.4 388.0L435.6 408.0L435.9 406.0L436.1 390.8L436.4 411.8L436.6 408.4L436.9 395.6L437.1 393.5L437.4 402.2L437.6 411.8L437.9 406.3L438.1 411.7L438.4 430.3L438.6 406.2L438.9 408.0L439.1 405.8L439.4 420.5L439.6 410.4L439.9 409.6L440.1 410.7L440.4 414.4L440.6 397.0L440.9 419.8L441.1 421.5L441.4 430.5L441.6 424.4L441.9 426.3L442.1 430.4L442.4 432.2L442.6 429.9L442.9 426.3L443.1 438.7L443.4 435.3L443.6 444.6L443.9 437.1L444.1 441.4L444.4 445.4L444.6 446.7L444.9 453.4L445.1 446.3L445.4 447.7L445.6 455.9L445.9 456.2L446.1 449.6L446.4 447.5L446.6 449.2L446.9 447.8L447.1 458.6L447.4 455.7L447.6 446.6L447.9 443.6L448.1 447.5L448.4 449.5L448.6 456.4L448.9 445.3L449.1 438.6L449.4 444.9L449.6 451.4L449.9 437.9L450.1 446.1L450.4 441.0L450.6 448.1L450.9 445.4L451.1 453.5L451.4 427.5L451.6 453.5L451.9 449.4L452.1 451.5L452.4 452.9L452.6 453.5L452.9 446.9L453.1 455.6L453.4 447.2L453.6 456.4L453.9 453.7L454.1 451.8L454.4 454.4L454.6 456.0L454.9 455.9L455.1 459.7L455.4 457.2L455.6 455.1L455.9 465.9L456.1 451.5L456.4 449.4L456.6 464.3L456.9 456.6L457.1 457.3L457.4 456.8L457.6 458.3L457.9 436.6L458.1 454.1L458.4 444.5L458.6 450.3L458.9 444.3L459.1 448.9L459.4 449.1L459.6 448.4L459.9 435.0L460.1 443.4L460.4 451.6L460.6 426.3L460.9 446.2L461.1 439.9L461.4 448.8L461.6 453.4L461.9 454.4L462.1 448.4L462.4 454.4L462.6 457.1L462.9 448.2L463.1 447.9L463.4 451.7L463.6 447.7L463.9 456.6L464.1 449.1L464.4 461.4L464.6 453.1L464.9 453.1L465.1 457.7L465.4 448.0L465.6 454.5L465.9 455.2L466.1 449.1L466.4 455.4L466.6 439.5L466.9 424.6L467.1 445.9L467.4 445.4L467.6 454.3L467.9 455.0L468.1 466.0L468.4 430.8L468.6 440.4L468.9 440.6L469.1 442.4L469.4 443.0L469.6 448.7L469.9 445.0L470.1 447.6L470.4 441.5L470.6 452.0L470.9 449.6L471.1 445.6L471.4 452.3L471.6 447.5L471.9 460.3L472.1 446.1L472.4 455.3L472.6 451.3L472.9 430.8L473.1 447.1L473.4 447.7L473.6 452.8L473.9 459.8L474.1 456.9L474.4 461.5L474.6 456.2L474.9 457.0L475.1 450.4L475.4 450.8L475.6 452.7L475.9 443.3L476.1 444.0L476.4 438.5L476.6 438.3L476.9 432.6L477.1 432.5L477.4 430.2L477.6 432.7L477.9 422.5L478.1 419.2L478.4 421.1L478.6 415.1L478.9 422.2L479.1 413.5L479.4 412.3L479.6 409.2L479.9 411.5L480.1 412.3L480.4 407.4L480.6 387.0L480.9 392.8L481.1 391.2L481.4 394.6L481.6 380.0L481.9 393.2L482.1 384.4L482.4 389.1L482.6 390.7L482.9 388.0L483.1 377.0L483.4 377.5L483.6 380.6L483.9 384.2L484.1 387.1L484.4 380.6L484.6 383.7L484.9 380.6L485.1 386.5L485.4 389.1L485.6 390.0L485.9 391.3L486.1 389.4L486.4 380.4L486.6 394.4L486.9 398.2L487.1 393.6L487.4 404.1L487.6 387.1L487.9 404.5L488.1 410.0L488.4 396.6L488.6 416.0L488.9 414.9L489.1 419.7L489.4 414.7L489.6 412.8L489.9 418.8L490.1 419.9L490.4 409.0L490.6 427.6L490.9 416.9L491.1 419.1L491.4 420.3L491.6 413.3L491.9 419.0L492.1 416.0L492.4 407.9L492.6 410.9L492.9 415.1L493.1 404.5L493.4 410.4L493.6 401.2L493.9 403.0L494.1 402.8L494.4 405.2L494.6 403.5L494.9 397.4L495.1 400.4L495.4 391.6L495.6 406.1L495.9 416.1L496.1 405.9L496.4 414.8L496.6 417.1L496.9 404.9L497.1 412.5L497.4 416.8L497.6 407.5L497.9 423.1L498.1 417.3L498.4 422.7L498.6 423.1L498.9 415.6L499.1 429.6L499.4 428.7L499.6 414.5L499.9 422.7L500.1 433.7L500.4 435.2L500.6 436.4L500.9 424.8L501.1 448.8L501.4 440.5L501.6 450.4L501.9 409.0L502.1 436.2L502.4 455.0L502.6 452.7L502.9 458.8L503.1 444.4L503.4 458.4L503.6 457.8L503.9 450.0L504.1 452.9L504.4 461.2L504.6 460.0L504.9 459.9L505.1 449.1L505.4 455.5L505.6 464.8L505.9 452.8L506.1 454.6L506.4 457.6L506.6 457.7L506.9 452.6L507.1 457.5L507.4 445.8L507.6 454.6L507.9 457.1L508.1 453.3L508.4 453.4L508.6 453.1L508.9 448.1L509.1 460.7L509.4 452.9L509.6 450.9L509.9 451.6L510.1 453.3L510.4 448.8L510.6 445.4L510.9 455.5L511.1 448.9L511.4 449.0L511.6 442.6L511.9 453.0L512.1 454.8L512.4 453.7L512.6 452.8L512.9 442.7L513.1 458.6L513.4 453.1L513.6 449.0L513.9 454.5L514.1 452.2L514.4 452.6L514.6 448.3L514.9 454.9L515.1 449.0L515.4 452.8L515.6 449.2L515.9 451.7L516.1 449.9L516.4 452.4L516.6 452.0L516.9 447.6L517.1 447.4L517.4 444.0L517.6 455.5L517.9 446.2L518.1 444.9L518.4 431.5L518.6 434.7L518.9 436.0L519.1 437.3L519.4 435.9L519.6 435.5L519.9 427.7L520.1 440.7L520.4 432.2L520.6 432.8L520.9 429.5L521.1 428.1L521.4 427.4L521.6 433.4L521.9 430.4L522.1 428.2L522.4 431.4L522.6 419.8L522.9 429.3L523.1 420.9L523.4 427.8L523.6 418.2L523.9 424.0L524.1 425.3L524.4 418.1L524.6 417.5L524.9 433.1L525.1 421.4L525.4 432.9L525.6 415.9L525.9 421.7L526.1 430.7L526.4 427.0L526.6 430.6L526.9 434.6L527.1 440.2L527.4 435.7L527.6 438.6L527.9 430.6L528.1 441.8L528.4 446.2L528.6 448.7L528.9 441.0L529.1 443.0L529.4 441.2L529.6 449.7L529.9 457.4L530.1 445.5L530.4 452.3L530.6 451.4L530.9 460.0L531.1 453.3L531.4 448.6L531.6 455.1L531.9 457.4L532.1 456.5L532.4 454.7L532.6 460.4L532.9 462.1L533.1 455.7L533.4 458.9L533.6 457.7L533.9 462.2L534.1 463.7L534.4 464.0L534.6 453.2L534.9 457.2L535.1 451.7L535.4 452.9L535.6 451.8L535.9 447.0L536.1 445.0L536.4 447.6L536.6 438.7L536.9 437.4L537.1 429.4L537.4 432.4L537.6 440.5L537.9 441.0L538.1 426.9L538.4 431.2L538.6 439.8L538.9 431.2L539.1 428.6L539.4 428.7L539.6 432.8L539.9 430.6L540.1 435.8L540.4 433.8L540.6 417.1L540.9 423.7L541.1 428.3L541.4 440.2L541.6 439.9L541.9 438.3L542.1 437.4L542.4 437.9L542.6 438.5L542.9 435.3L543.1 444.3L543.4 444.4L543.6 438.2L543.9 439.1L544.1 438.7L544.4 446.2L544.6 454.1L544.9 455.0L545.1 441.4L545.4 443.7L545.6 442.2L545.9 441.9L546.1 447.9L546.4 441.1L546.6 439.3L546.9 433.4L547.1 446.1L547.4 444.3L547.6 433.2L547.9 447.5L548.1 439.8L548.4 449.0L548.6 441.0L548.9 436.9L549.1 442.0L549.4 440.7L549.6 423.9L549.9 438.2L550.1 439.0L550.4 434.7L550.6 429.1L550.9 431.6L551.1 438.6L551.4 438.6L551.6 435.9L551.9 443.2L552.1 438.3L552.4 440.0L552.6 416.9L552.9 437.3L553.1 436.1L553.4 440.1L553.6 436.1L553.9 438.9L554.1 428.2L554.4 435.5L554.6 416.2L554.9 449.6L555.1 434.7L555.4 445.7L555.6 449.7L555.9 444.3L556.1 445.5L556.4 447.9L556.6 438.4L556.9 447.3L557.1 454.1L557.4 452.5L557.6 452.0L557.9 448.8L558.1 452.9L558.4 443.8L558.6 448.2L558.9 451.4L559.1 440.2L559.4 444.1L559.6 447.9L559.9 453.0L560.1 438.2L560.4 446.7L560.6 449.9L560.9 444.0L561.1 448.9L561.4 438.1L561.6 430.9L561.9 441.1L562.1 426.2L562.4 430.9L562.6 410.4L562.9 429.8L563.1 424.3L563.4 430.6L563.6 414.8L563.9 412.1L564.1 416.8L564.4 411.5L564.6 419.2L564.9 418.9L565.1 388.5L565.4 411.2L565.6 406.1L565.9 405.6L566.1 406.9L566.4 399.6L566.6 406.2L566.9 398.8L567.1 408.4L567.4 399.2L567.6 400.8L567.9 384.7L568.1 390.4L568.4 398.1L568.6 390.3L568.9 389.4L569.1 387.4L569.4 389.4L569.6 393.0L569.9 388.9L570.1 393.2L570.4 382.9L570.6 389.0L570.9 389.2L571.1 385.7L571.4 377.9L571.6 384.0L571.9 384.7L572.1 360.0L572.4 390.8L572.6 382.2L572.9 376.1L573.1 386.8L573.4 376.1L573.6 383.4L573.9 372.8L574.1 385.0L574.4 381.6L574.6 380.3L574.9 372.5L575.1 377.0L575.4 389.4L575.6 382.5L575.9 389.8L576.1 380.6L576.4 386.0L576.6 381.6L576.9 389.3L577.1 379.2L577.4 392.4L577.6 373.4L577.9 393.4L578.1 393.8L578.4 390.1L578.6 396.5L578.9 406.2L579.1 395.4L579.4 398.7L579.6 411.5L579.9 408.3L580.1 413.0L580.4 410.2L580.6 407.9L580.9 404.9L581.1 415.1L581.4 417.9L581.6 413.3L581.9 413.9L582.1 418.0L582.4 427.9L582.6 418.4L582.9 429.8L583.1 418.6L583.4 421.8L583.6 420.0L583.9 432.4L584.1 427.0L584.4 429.2L584.6 437.0L584.9 434.0L585.1 426.7L585.4 424.1L585.6 417.6L585.9 439.5L586.1 436.4L586.4 433.7L586.6 438.4L586.9 441.9L587.1 453.4L587.4 450.7L587.6 412.9L587.9 443.7L588.1 428.0L588.4 444.4L588.6 427.9L588.9 437.7L589.1 455.3L589.4 441.4L589.6 446.8L589.9 442.2L590.1 453.6L590.4 449.9L590.6 441.8L590.9 440.2L591.1 444.6L591.4 450.4L591.6 443.5L591.9 448.6L592.1 446.2L592.4 445.3L592.6 457.9L592.9 437.8L593.1 435.2L593.4 445.4L593.6 443.7L593.9 450.3L594.1 437.2L594.4 445.2L594.6 454.2L594.9 445.5L595.1 439.3L595.4 440.8L595.6 440.9L595.9 444.4L596.1 438.3L596.4 436.4L596.6 435.4L596.9 435.5L597.1 446.1L597.4 444.6L597.6 445.6L597.9 441.6L598.1 436.6L598.4 434.7L598.6 439.2L598.9 445.1L599.1 436.8L599.4 431.3L599.6 441.5L599.9 433.5L600.1 442.1L600.4 437.2L600.6 435.7L600.9 436.0L601.1 436.6L601.4 441.5L601.6 441.7L601.9 443.0L602.1 440.3L602.4 439.1L602.6 441.5L602.9 437.2L603.1 435.6L603.4 437.6L603.6 435.4L603.9 432.1L604.1 429.9L604.4 428.1L604.6 433.1L604.9 429.9L605.1 432.3L605.4 436.0L605.6 437.8L605.9 431.7L606.1 428.2L606.4 429.0L606.6 427.9L606.9 417.7L607.1 431.8L607.4 420.1L607.6 427.4L607.9 421.5L608.1 419.8L608.4 438.4L608.6 420.9L608.9 423.4L609.1 425.6L609.4 429.5L609.6 425.3L609.9 424.3L610.1 433.1L610.4 428.9L610.6 418.5L610.9 433.4L611.1 426.2L611.4 427.4L611.6 428.0L611.9 415.9L612.1 429.8L612.4 432.5L612.6 434.5L612.9 439.7L613.1 431.1L613.4 441.9L613.6 432.9L613.9 439.9L614.1 435.0L614.4 434.5L614.6 423.8L614.9 440.1L615.1 428.1L615.4 438.2L615.6 427.8L615.9 427.0L616.1 429.0L616.4 430.3L616.6 431.8L616.9 438.4L617.1 440.2L617.4 440.2L617.6 440.0L617.9 441.7L618.1 441.1L618.4 439.7L618.6 445.7L618.9 439.9L619.1 431.6L619.4 436.8L619.6 446.8L619.9 440.2L620.1 439.3L620.4 447.3L620.6 443.0L620.9 443.2L621.1 443.2L621.4 457.0L621.6 445.2L621.9 444.9L622.1 445.6L622.4 442.4L622.6 444.4L622.9 456.7L623.1 432.2L623.4 452.0L623.6 443.9L623.9 445.2L624.1 443.4L624.4 443.0L624.6 451.9L624.9 442.6L625.1 445.8L625.4 440.8L625.6 451.3L625.9 451.0L626.1 448.3L626.4 452.8L626.6 450.7L626.9 446.9L627.1 440.3L627.4 447.9L627.6 447.3L627.9 452.0L628.1 455.4L628.4 450.4L628.6 445.2L628.9 459.0L629.1 458.4L629.4 459.7L629.6 450.6L629.9 454.9L630.1 461.9L630.4 462.2L630.6 463.7L630.9 451.3L631.1 468.9L631.4 470.2L631.6 459.2L631.9 465.3L632.1 459.2L632.4 458.5L632.6 460.9L632.9 459.4L633.1 459.4L633.4 462.7L633.6 453.9L633.9 427.8L634.1 456.3L634.4 455.7L634.6 435.8L634.9 464.5L635.1 450.4L635.4 456.2L635.6 463.4L635.9 449.9L636.1 452.2L636.4 452.6L636.6 453.8L636.9 453.3L637.1 453.2L637.4 458.9L637.6 449.3L637.9 458.3L638.1 459.6L638.4 458.8L638.6 450.0L638.9 449.0L639.1 453.2L639.4 451.1L639.6 449.8L639.9 459.7L640.1 445.7L640.4 455.5L640.6 457.2L640.9 457.1L641.1 459.1L641.4 454.9L641.6 449.9L641.9 442.1L642.1 446.9L642.4 445.4L642.6 454.4L642.9 449.6L643.1 445.7L643.4 435.9L643.6 439.1L643.9 442.2L644.1 436.1L644.4 447.0L644.6 444.4L644.9 442.5L645.1 450.3L645.4 436.7L645.6 438.5L645.9 438.1L646.1 441.5L646.4 444.4L646.6 438.7L646.9 430.2L647.1 434.7L647.4 425.5L647.6 429.3L647.9 404.9L648.1 428.5L648.4 411.8L648.6 417.3L648.9 416.9L649.1 411.9L649.4 404.4L649.6 389.9L649.9 393.1L650.1 376.6L650.4 368.9L650.6 356.6L650.9 356.2L651.1 354.5L651.4 344.3L651.6 350.5L651.9 338.8L652.1 352.7L652.4 338.0L652.6 335.0L652.9 337.5L653.1 321.1L653.4 333.2L653.6 335.1L653.9 335.8L654.1 333.6L654.4 335.4L654.6 327.2L654.9 330.3L655.1 335.0L655.4 345.2L655.6 341.8L655.9 341.5L656.1 352.4L656.4 342.4L656.6 341.0L656.9 345.8L657.1 347.4L657.4 354.2L657.6 340.9L657.9 343.5L658.1 351.2L658.4 349.7L658.6 342.3L658.9 348.8L659.1 341.6L659.4 336.3L659.6 347.2L659.9 352.6L660.1 349.3L660.4 346.0L660.6 338.0L660.9 349.8L661.1 345.7L661.4 346.9L661.6 335.4L661.9 340.4" fill="none" stroke="#000" stroke-width="0.8" stroke-opacity="0.55"/><path d="M34.9 411.9C35.2 408.6 35.9 398.1 36.6 392.0C37.4 385.9 38.5 376.1 39.4 375.4C40.3 374.6 41.3 382.6 42.2 387.5C43.0 392.5 43.6 401.2 44.4 405.3C45.1 409.3 45.7 410.1 46.6 411.9C47.5 413.7 49.0 414.1 49.9 416.3C50.8 418.5 51.4 421.5 52.1 425.2C52.9 428.9 53.4 435.5 54.3 438.5C55.3 441.4 56.7 441.8 57.7 442.9C58.6 444.0 59.0 443.1 59.9 445.1C60.8 447.1 62.3 453.6 63.2 455.1C64.1 456.5 64.5 456.0 65.4 453.9C66.3 451.9 67.6 446.6 68.7 442.9C69.8 439.2 71.1 434.6 72.1 431.8C73.0 429.0 73.3 426.8 74.3 426.3C75.2 425.7 76.5 428.1 77.6 428.5C78.7 428.9 79.8 426.8 80.9 428.5C82.0 430.2 83.1 434.6 84.2 438.5C85.3 442.3 86.6 448.6 87.5 451.7C88.5 454.9 88.8 456.9 89.8 457.3C90.7 457.6 92.0 453.8 93.1 453.9C94.2 454.1 95.5 457.3 96.4 458.4C97.3 459.5 97.9 460.6 98.6 460.6C99.4 460.6 99.9 463.5 100.8 458.4C101.8 453.2 103.0 440.7 104.1 429.6C105.3 418.5 106.4 402.7 107.5 392.0C108.6 381.3 109.5 375.5 110.8 365.4C112.1 355.3 114.1 335.2 115.4 331.5C116.7 327.8 117.6 336.9 118.5 343.3C119.4 349.7 119.8 361.0 120.7 369.8C121.7 378.7 123.0 387.5 124.1 396.4C125.2 405.3 126.3 416.9 127.4 423.0C128.4 429.0 129.5 429.6 130.4 432.9C131.2 436.2 131.5 440.3 132.2 442.9C132.9 445.5 133.8 448.4 134.4 448.4C135.1 448.4 135.7 443.8 136.2 442.9C136.8 442.0 137.0 444.7 137.7 442.9C138.5 441.0 139.7 438.5 140.6 431.8C141.5 425.2 142.3 411.5 143.3 403.0C144.3 394.6 145.5 386.4 146.6 380.9C147.7 375.4 149.0 370.9 149.9 369.8C150.8 368.7 151.4 370.6 152.1 374.3C152.9 378.0 153.6 387.9 154.3 392.0C155.1 396.0 155.8 396.8 156.6 398.6C157.3 400.5 158.0 399.7 158.8 403.0C159.5 406.4 160.2 413.7 161.0 418.5C161.7 423.3 162.3 428.5 163.2 431.8C164.1 435.1 165.4 436.6 166.5 438.5C167.6 440.3 168.7 440.7 169.8 442.9C170.9 445.1 172.1 448.4 173.2 451.7C174.3 455.1 175.5 459.9 176.5 462.8C177.5 465.8 178.3 470.9 179.1 469.4C179.9 468.0 180.5 461.0 181.4 453.9C182.2 446.9 183.3 433.3 184.2 427.4C185.2 421.5 186.2 418.9 187.1 418.5C188.0 418.2 188.9 421.9 189.8 425.2C190.6 428.5 191.2 434.8 192.0 438.5C192.7 442.1 193.4 446.6 194.2 447.3C194.9 448.0 195.7 444.4 196.4 442.9C197.1 441.4 197.7 438.8 198.6 438.5C199.5 438.1 201.0 442.5 201.9 440.7C202.9 438.8 203.4 434.4 204.1 427.4C204.9 420.4 205.6 408.2 206.4 398.6C207.1 389.0 207.8 378.3 208.6 369.8C209.3 361.4 210.1 352.7 210.8 347.7C211.5 342.7 212.3 340.7 213.0 340.0C213.7 339.2 214.5 340.5 215.2 343.3C216.0 346.0 216.5 353.6 217.4 356.6C218.4 359.5 219.6 358.0 220.7 361.0C221.9 363.9 223.1 369.1 224.1 374.3C225.0 379.4 225.5 384.6 226.3 392.0C227.0 399.4 227.8 412.8 228.5 418.5C229.2 424.3 229.5 424.5 230.4 426.3C231.2 428.0 232.6 427.8 233.7 429.0C234.8 430.3 235.9 432.1 237.0 434.0C238.0 436.0 238.9 438.1 240.0 440.7C241.0 443.3 242.2 447.5 243.3 449.5C244.4 451.6 245.5 451.4 246.6 452.8C247.7 454.3 248.8 458.9 249.9 458.4C251.0 457.8 252.1 452.3 253.2 449.5C254.3 446.8 255.5 442.7 256.6 441.8C257.7 440.9 258.8 443.8 259.9 444.0C261.0 444.2 262.1 443.4 263.2 442.9C264.3 442.3 265.4 440.3 266.5 440.7C267.6 441.0 268.5 445.6 269.8 445.1C271.1 444.5 273.0 438.1 274.3 437.3C275.6 436.6 276.5 439.4 277.6 440.7C278.7 442.0 279.8 445.1 280.9 445.1C282.0 445.1 283.1 441.8 284.2 440.7C285.3 439.6 286.4 437.0 287.5 438.5C288.7 439.9 289.8 445.8 290.9 449.5C292.0 453.2 293.1 461.3 294.2 460.6C295.3 459.9 296.5 449.2 297.5 445.1C298.5 441.0 299.5 435.5 300.4 436.2C301.3 437.0 302.0 447.1 303.0 449.5C304.0 451.9 305.3 451.7 306.4 450.6C307.5 449.5 308.6 443.4 309.7 442.9C310.8 442.3 312.1 446.2 313.0 447.3C313.9 448.4 314.3 451.7 315.2 449.5C316.1 447.3 317.6 437.9 318.5 434.0C319.5 430.2 319.8 427.6 320.7 426.3C321.7 425.0 323.0 426.1 324.1 426.3C325.2 426.5 326.3 424.4 327.4 427.4C328.4 430.3 329.3 441.4 330.4 444.0C331.4 446.6 332.6 443.4 333.7 442.9C334.8 442.3 335.9 441.2 337.0 440.7C338.0 440.1 338.9 438.8 340.0 439.6C341.0 440.3 342.2 442.9 343.3 445.1C344.4 447.3 345.5 450.8 346.6 452.8C347.7 454.9 348.8 457.1 349.9 457.3C351.0 457.5 352.3 456.7 353.2 453.9C354.2 451.2 354.7 445.8 355.5 440.7C356.2 435.5 356.9 428.1 357.7 423.0C358.4 417.8 359.1 412.4 359.9 409.7C360.6 406.9 361.2 406.2 362.1 406.4C362.9 406.5 364.0 412.8 365.0 410.8C365.9 408.8 366.8 399.7 367.6 394.2C368.4 388.7 369.1 380.2 369.8 377.6C370.6 375.0 371.3 374.8 372.1 378.7C372.8 382.6 373.5 393.1 374.3 400.8C375.1 408.6 376.1 421.1 376.9 425.2C377.7 429.2 378.3 426.7 379.1 425.2C380.0 423.7 381.2 418.0 382.0 416.3C382.9 414.7 383.3 414.1 384.2 415.2C385.1 416.3 386.4 419.5 387.5 423.0C388.7 426.5 389.8 431.4 390.9 436.2C392.0 441.0 393.3 448.2 394.2 451.7C395.1 455.2 395.5 456.9 396.4 457.3C397.3 457.6 398.6 455.6 399.7 453.9C400.8 452.3 401.9 449.3 403.0 447.3C404.1 445.3 405.3 442.3 406.4 441.8C407.5 441.2 408.6 443.1 409.7 444.0C410.8 444.9 411.9 446.4 413.0 447.3C414.1 448.2 415.2 448.8 416.3 449.5C417.4 450.3 418.5 453.9 419.6 451.7C420.7 449.5 422.0 441.8 423.0 436.2C423.9 430.7 424.4 423.5 425.2 418.5C425.9 413.6 426.5 407.9 427.4 406.4C428.3 404.8 429.3 408.6 430.4 409.1C431.4 409.7 432.6 410.1 433.7 409.7C434.8 409.2 435.9 405.6 437.0 406.4C438.0 407.1 439.1 410.2 440.0 414.1C440.8 418.0 441.4 424.4 442.2 429.6C442.9 434.8 443.6 441.2 444.4 445.1C445.1 449.0 445.7 452.1 446.6 452.8C447.5 453.6 449.0 449.9 449.9 449.5C450.8 449.2 451.2 449.5 452.1 450.6C453.1 451.7 454.5 456.2 455.5 456.2C456.4 456.2 456.9 452.5 457.7 450.6C458.4 448.8 459.1 445.3 459.9 445.1C460.6 444.9 461.4 447.9 462.1 449.5C462.8 451.2 463.6 454.9 464.3 455.1C465.0 455.2 465.7 452.1 466.5 450.6C467.4 449.2 468.5 446.0 469.4 446.2C470.3 446.4 471.2 450.3 472.1 451.7C472.9 453.2 473.5 456.9 474.3 455.1C475.0 453.2 475.7 447.1 476.5 440.7C477.2 434.2 477.9 424.1 478.7 416.3C479.5 408.6 480.4 400.1 481.4 394.2C482.3 388.3 483.4 381.6 484.2 380.9C485.1 380.2 485.7 384.2 486.4 389.8C487.2 395.3 487.9 408.6 488.7 414.1C489.4 419.6 490.1 424.4 490.9 423.0C491.6 421.5 492.4 408.9 493.1 405.3C493.7 401.6 494.2 400.1 494.9 400.8C495.5 401.6 496.3 404.9 497.1 409.7C497.9 414.5 498.9 423.3 499.7 429.6C500.5 435.9 501.2 442.7 501.9 447.3C502.7 451.9 503.2 456.3 504.1 457.3C505.1 458.2 506.4 453.9 507.5 452.8C508.6 451.7 509.7 451.0 510.8 450.6C511.9 450.3 513.2 450.8 514.1 450.6C515.0 450.4 515.6 451.9 516.3 449.5C517.1 447.1 517.6 440.3 518.5 436.2C519.5 432.2 520.7 427.0 521.9 425.2C523.0 423.3 524.3 423.3 525.2 425.2C526.1 427.0 526.6 431.8 527.4 436.2C528.2 440.7 529.0 447.9 529.8 451.7C530.6 455.6 531.2 458.9 532.0 459.5C532.8 460.0 534.0 458.4 534.8 455.1C535.6 451.7 536.1 444.0 537.0 439.6C537.9 435.1 539.1 429.0 540.0 428.5C540.8 427.9 541.4 433.1 542.2 436.2C542.9 439.4 543.5 446.2 544.4 447.3C545.3 448.4 546.6 445.1 547.7 442.9C548.8 440.7 550.1 435.1 551.0 434.0C551.9 432.9 552.5 434.4 553.2 436.2C554.0 438.1 554.7 442.9 555.5 445.1C556.2 447.3 556.7 450.3 557.7 449.5C558.6 448.8 559.9 445.8 561.0 440.7C562.1 435.5 563.2 425.9 564.3 418.5C565.4 411.2 566.5 401.9 567.6 396.4C568.7 390.9 569.8 388.1 570.9 385.3C572.1 382.6 573.2 379.1 574.3 379.8C575.4 380.5 576.7 385.5 577.6 389.8C578.5 394.0 578.9 399.4 579.8 405.3C580.7 411.2 582.0 419.6 583.1 425.2C584.2 430.7 585.3 435.0 586.4 438.5C587.5 442.0 588.7 445.3 589.8 446.2C590.9 447.1 592.0 444.7 593.1 444.0C594.2 443.3 595.3 442.6 596.4 441.8C597.5 440.9 598.7 439.2 599.9 438.8C601.0 438.4 602.3 440.8 603.3 439.3C604.2 437.7 604.8 432.3 605.5 429.6C606.3 427.0 607.2 423.2 608.0 423.4C608.9 423.6 609.8 429.0 610.6 430.8C611.4 432.6 612.3 433.9 612.8 434.4C613.4 435.0 613.4 433.5 614.1 434.0C614.8 434.6 615.9 436.3 616.9 437.6C617.9 439.0 619.2 440.6 620.3 442.2C621.4 443.7 622.6 445.8 623.7 446.7C624.8 447.7 626.2 446.3 627.1 447.8C628.1 449.4 628.7 453.3 629.4 455.8C630.1 458.3 630.7 462.3 631.4 462.6C632.2 463.0 633.2 459.5 633.9 458.1C634.7 456.7 635.4 454.5 636.2 454.3C637.0 454.0 637.8 457.2 638.5 456.6C639.3 456.0 639.9 453.1 640.9 450.8C641.8 448.4 643.4 444.4 644.4 442.6C645.3 440.9 645.9 446.5 646.7 440.3C647.5 434.0 648.5 418.7 649.2 405.2C649.9 391.8 650.3 371.2 650.9 359.7C651.5 348.2 652.0 340.4 652.5 336.3C653.1 332.3 653.6 334.0 654.2 335.2C654.8 336.3 655.4 340.8 656.0 343.4C656.7 345.9 657.3 349.8 657.9 350.4C658.5 350.9 658.9 348.2 659.6 346.9C660.2 345.5 661.5 343.0 661.9 342.2" fill="none" stroke="#000" stroke-width="4.2" stroke-linejoin="round" stroke-linecap="round"/><path d="M34.9 498.5L35.1 495.2L35.4 502.3L35.6 500.5L35.9 492.7L36.1 490.8L36.4 493.4L36.6 495.2L36.9 501.9L37.1 495.1L37.4 496.8L37.6 490.8L37.9 494.5L38.1 498.9L38.4 497.4L38.6 498.1L38.9 496.1L39.1 498.0L39.4 491.2L39.6 482.9L39.9 490.7L40.1 495.5L40.4 502.5L40.6 498.8L40.9 499.3L41.1 490.3L41.4 491.7L41.6 487.4L41.9 494.5L42.1 489.9L42.4 495.3L42.6 489.8L42.9 493.0L43.1 484.5L43.4 493.8L43.6 497.5L43.9 493.3L44.1 494.3L44.4 497.9L44.6 494.3L44.9 498.4L45.1 495.9L45.4 496.6L45.6 498.6L45.9 495.6L46.1 492.8L46.4 488.1L46.6 494.4L46.9 493.5L47.1 500.6L47.4 501.1L47.6 497.8L47.9 505.2L48.1 497.9L48.4 502.2L48.6 499.8L48.9 500.1L49.1 498.1L49.4 489.2L49.6 493.9L49.9 493.3L50.1 488.9L50.4 506.0L50.6 493.6L50.9 495.9L51.1 492.9L51.4 483.3L51.6 496.1L51.9 489.0L52.1 490.4L52.4 486.8L52.6 488.6L52.9 492.7L53.1 494.6L53.4 490.2L53.6 492.7L53.9 488.8L54.1 486.0L54.4 475.7L54.6 489.4L54.9 487.2L55.1 483.2L55.4 481.3L55.6 483.5L55.9 492.7L56.1 486.9L56.4 491.5L56.6 485.7L56.9 483.1L57.1 482.5L57.4 488.5L57.6 484.6L57.9 481.9L58.1 489.2L58.4 472.4L58.6 493.6L58.9 481.6L59.1 491.2L59.4 477.3L59.6 482.0L59.9 481.1L60.1 480.5L60.4 472.2L60.6 484.1L60.9 481.0L61.1 482.9L61.4 483.9L61.6 483.1L61.9 473.3L62.1 476.9L62.4 481.8L62.6 464.5L62.9 482.5L63.1 474.5L63.4 485.2L63.6 480.1L63.9 479.7L64.1 483.2L64.4 476.7L64.6 476.7L64.9 477.9L65.1 477.7L65.4 477.4L65.6 476.4L65.9 475.7L66.1 477.6L66.4 479.5L66.6 473.1L66.9 478.1L67.1 473.5L67.4 479.5L67.6 485.9L67.9 485.1L68.1 485.9L68.4 483.1L68.6 476.6L68.9 478.8L69.1 480.5L69.4 484.2L69.6 482.3L69.9 481.5L70.1 486.2L70.4 480.1L70.6 481.8L70.9 480.0L71.1 477.0L71.4 479.0L71.6 482.3L71.9 490.0L72.1 492.0L72.4 479.4L72.6 485.1L72.9 487.7L73.1 487.3L73.4 486.3L73.6 490.0L73.9 487.4L74.1 492.8L74.4 485.2L74.6 487.2L74.9 495.4L75.1 487.6L75.4 483.0L75.6 485.5L75.9 487.0L76.1 487.0L76.4 485.1L76.6 489.3L76.9 479.7L77.1 484.8L77.4 479.5L77.6 479.9L77.9 486.1L78.1 484.3L78.4 471.9L78.6 480.9L78.9 481.9L79.1 479.7L79.4 481.4L79.6 481.7L79.9 486.0L80.1 483.4L80.4 479.6L80.6 484.6L80.9 479.1L81.1 490.1L81.4 483.2L81.6 491.2L81.9 494.2L82.1 487.4L82.4 480.6L82.6 490.6L82.9 493.3L83.1 488.3L83.4 488.5L83.6 487.9L83.9 486.2L84.1 486.0L84.4 483.6L84.6 483.0L84.9 480.8L85.1 485.3L85.4 481.4L85.6 476.0L85.9 468.1L86.1 474.2L86.4 480.0L86.6 473.1L86.9 476.2L87.1 473.2L87.4 479.7L87.6 462.3L87.9 455.8L88.1 467.0L88.4 464.9L88.6 474.1L88.9 460.7L89.1 472.7L89.4 470.7L89.6 469.9L89.9 478.6L90.1 455.2L90.4 480.2L90.6 469.3L90.9 478.0L91.1 466.7L91.4 469.7L91.6 458.6L91.9 470.6L92.1 473.9L92.4 473.1L92.6 469.4L92.9 468.8L93.1 474.3L93.4 476.2L93.6 474.1L93.9 466.0L94.1 468.9L94.4 470.8L94.6 472.6L94.9 471.9L95.1 469.4L95.4 470.7L95.6 474.3L95.9 477.4L96.1 473.2L96.4 465.8L96.6 470.6L96.9 467.3L97.1 462.8L97.4 464.6L97.6 469.9L97.9 462.7L98.1 457.4L98.4 466.9L98.6 467.2L98.9 463.7L99.1 478.2L99.4 471.9L99.6 469.8L99.9 464.2L100.1 467.1L100.4 466.0L100.6 467.6L100.9 472.4L101.1 471.3L101.4 474.2L101.6 469.1L101.9 479.9L102.1 471.2L102.4 472.0L102.6 473.9L102.9 475.6L103.1 485.1L103.4 478.3L103.6 475.5L103.9 482.8L104.1 475.0L104.4 489.7L104.6 481.3L104.9 481.7L105.1 479.9L105.4 485.7L105.6 487.5L105.9 488.6L106.1 484.4L106.4 477.4L106.6 489.0L106.9 489.3L107.1 490.6L107.4 476.3L107.6 494.1L107.9 488.3L108.1 488.3L108.4 495.5L108.6 493.8L108.9 495.5L109.1 487.7L109.4 487.8L109.6 488.6L109.9 490.2L110.1 499.1L110.4 495.1L110.6 497.8L110.9 488.5L111.1 504.9L111.4 494.5L111.6 500.1L111.9 503.3L112.1 494.1L112.4 491.5L112.6 501.3L112.9 495.3L113.1 500.6L113.4 487.7L113.6 507.8L113.9 506.9L114.1 504.8L114.4 490.9L114.6 506.2L114.9 506.5L115.1 506.1L115.4 501.0L115.6 499.2L115.9 506.7L116.1 503.4L116.4 499.8L116.6 499.9L116.9 507.1L117.1 495.7L117.4 502.1L117.6 498.8L117.9 495.3L118.1 501.2L118.4 500.1L118.6 497.4L118.9 495.0L119.1 499.7L119.4 499.1L119.6 499.5L119.9 495.0L120.1 499.9L120.4 501.0L120.6 497.3L120.9 494.1L121.1 489.9L121.4 503.0L121.6 500.3L121.9 500.5L122.1 497.8L122.4 497.3L122.6 500.4L122.9 479.2L123.1 501.2L123.4 491.8L123.6 496.2L123.9 492.9L124.1 500.3L124.4 497.5L124.6 493.0L124.9 497.7L125.1 495.1L125.4 496.4L125.6 493.5L125.9 488.7L126.1 489.8L126.4 503.3L126.6 490.6L126.9 486.3L127.1 495.9L127.4 491.0L127.6 488.3L127.9 489.5L128.1 486.2L128.4 492.6L128.6 489.3L128.9 483.5L129.1 495.7L129.4 483.3L129.6 477.1L129.9 488.2L130.1 483.0L130.4 484.0L130.6 478.9L130.9 479.3L131.1 483.7L131.4 489.2L131.6 482.7L131.9 482.9L132.1 475.1L132.4 483.6L132.6 479.1L132.9 477.3L133.1 474.4L133.4 475.9L133.6 474.0L133.9 469.0L134.1 479.9L134.4 478.1L134.6 475.9L134.9 484.1L135.1 477.2L135.4 477.6L135.6 474.3L135.9 482.4L136.1 484.9L136.4 482.7L136.6 475.8L136.9 479.1L137.1 479.7L137.4 485.2L137.6 492.2L137.9 485.6L138.1 483.1L138.4 473.6L138.6 488.3L138.9 492.0L139.1 481.2L139.4 486.3L139.6 486.3L139.9 479.6L140.1 486.8L140.4 482.2L140.6 492.0L140.9 490.1L141.1 492.1L141.4 491.6L141.6 489.6L141.9 485.2L142.1 488.2L142.4 495.7L142.6 505.8L142.9 495.3L143.1 497.7L143.4 499.0L143.6 499.5L143.9 499.9L144.1 500.0L144.4 496.5L144.6 496.3L144.9 500.5L145.1 501.1L145.4 493.3L145.6 509.2L145.9 493.4L146.1 494.3L146.4 496.2L146.6 507.0L146.9 498.3L147.1 501.7L147.4 500.1L147.6 501.6L147.9 504.6L148.1 503.5L148.4 497.6L148.6 503.6L148.9 498.7L149.1 500.3L149.4 498.9L149.6 504.0L149.9 499.1L150.1 489.8L150.4 509.7L150.6 500.9L150.9 500.7L151.1 497.8L151.4 496.7L151.6 490.7L151.9 501.0L152.1 492.6L152.4 491.4L152.6 497.2L152.9 492.2L153.1 493.1L153.4 496.0L153.6 492.6L153.9 490.3L154.1 494.8L154.4 493.9L154.6 473.0L154.9 495.9L155.1 498.6L155.4 493.3L155.6 497.5L155.9 498.7L156.1 499.4L156.4 497.9L156.6 483.8L156.9 499.4L157.1 502.0L157.4 500.9L157.6 491.8L157.9 503.8L158.1 504.4L158.4 491.7L158.6 492.4L158.9 497.4L159.1 501.1L159.4 499.4L159.6 503.6L159.9 501.0L160.1 504.7L160.4 506.3L160.6 496.6L160.9 501.3L161.1 494.3L161.4 497.2L161.6 491.7L161.9 500.4L162.1 495.3L162.4 493.8L162.6 498.7L162.9 493.1L163.1 490.2L163.4 487.4L163.6 489.6L163.9 493.5L164.1 490.3L164.4 500.1L164.6 493.3L164.9 502.2L165.1 498.3L165.4 495.2L165.6 496.5L165.9 500.2L166.1 482.5L166.4 504.8L166.6 505.0L166.9 489.8L167.1 501.5L167.4 507.7L167.6 501.8L167.9 500.4L168.1 502.7L168.4 497.1L168.6 497.1L168.9 497.0L169.1 493.6L169.4 503.1L169.6 504.1L169.9 506.4L170.1 499.2L170.4 495.6L170.6 489.7L170.9 501.6L171.1 497.5L171.4 495.7L171.6 509.0L171.9 494.6L172.1 493.5L172.4 491.2L172.6 487.3L172.9 497.3L173.1 491.2L173.4 491.3L173.6 491.7L173.9 479.9L174.1 484.2L174.4 482.9L174.6 492.3L174.9 481.9L175.1 478.0L175.4 482.7L175.6 481.4L175.9 478.6L176.1 483.9L176.4 484.9L176.6 478.0L176.9 471.3L177.1 479.7L177.4 467.4L177.6 467.9L177.9 474.5L178.1 477.4L178.4 476.2L178.6 470.1L178.9 473.4L179.1 464.1L179.4 464.2L179.6 470.0L179.9 464.3L180.1 463.5L180.4 467.6L180.6 475.3L180.9 471.8L181.1 475.6L181.4 479.0L181.6 469.1L181.9 474.0L182.1 462.9L182.4 472.5L182.6 460.9L182.9 469.9L183.1 473.0L183.4 473.8L183.6 476.0L183.9 475.0L184.1 468.5L184.4 470.2L184.6 487.1L184.9 470.4L185.1 454.3L185.4 476.6L185.6 479.1L185.9 485.4L186.1 472.1L186.4 479.4L186.6 488.1L186.9 486.2L187.1 481.2L187.4 483.9L187.6 483.6L187.9 473.1L188.1 479.9L188.4 473.0L188.6 481.6L188.9 485.4L189.1 478.1L189.4 472.2L189.6 481.9L189.9 470.6L190.1 474.1L190.4 469.5L190.6 478.8L190.9 460.9L191.1 484.5L191.4 478.4L191.6 467.5L191.9 470.9L192.1 469.6L192.4 480.0L192.6 470.0L192.9 464.8L193.1 467.0L193.4 469.5L193.6 466.8L193.9 469.5L194.1 462.9L194.4 472.8L194.6 470.5L194.9 471.2L195.1 474.6L195.4 471.6L195.6 465.7L195.9 464.6L196.1 470.8L196.4 465.0L196.6 475.8L196.9 471.7L197.1 469.7L197.4 466.1L197.6 464.9L197.9 471.8L198.1 463.7L198.4 470.6L198.6 472.8L198.9 465.0L199.1 471.7L199.4 469.1L199.6 472.8L199.9 465.3L200.1 466.8L200.4 468.0L200.6 472.2L200.9 465.3L201.1 474.0L201.4 464.4L201.6 477.9L201.9 461.1L202.1 466.1L202.4 470.4L202.6 467.2L202.9 467.9L203.1 470.4L203.4 469.9L203.6 473.0L203.9 475.0L204.1 471.3L204.4 474.4L204.6 470.0L204.9 471.3L205.1 479.7L205.4 469.4L205.6 472.8L205.9 472.8L206.1 478.4L206.4 475.5L206.6 473.4L206.9 471.7L207.1 472.4L207.4 482.4L207.6 482.8L207.9 480.3L208.1 479.0L208.4 476.9L208.6 487.2L208.9 474.2L209.1 486.4L209.4 491.0L209.6 484.1L209.9 493.9L210.1 481.9L210.4 482.2L210.6 493.4L210.9 491.7L211.1 491.8L211.4 498.4L211.6 497.1L211.9 497.8L212.1 499.7L212.4 495.8L212.6 496.9L212.9 489.6L213.1 494.3L213.4 503.7L213.6 511.8L213.9 495.9L214.1 502.5L214.4 500.9L214.6 496.8L214.9 497.8L215.1 501.1L215.4 494.1L215.6 504.4L215.9 505.4L216.1 501.6L216.4 499.5L216.6 498.6L216.9 493.0L217.1 495.4L217.4 496.6L217.6 502.0L217.9 495.2L218.1 502.8L218.4 497.1L218.6 490.2L218.9 498.1L219.1 493.6L219.4 498.1L219.6 495.6L219.9 502.3L220.1 500.8L220.4 499.6L220.6 500.3L220.9 498.2L221.1 492.6L221.4 497.2L221.6 481.1L221.9 502.6L222.1 499.2L222.4 506.2L222.6 500.0L222.9 500.5L223.1 500.3L223.4 493.7L223.6 504.8L223.9 497.7L224.1 497.8L224.4 496.0L224.6 501.3L224.9 496.5L225.1 498.6L225.4 502.3L225.6 504.1L225.9 498.8L226.1 485.4L226.4 493.3L226.6 492.8L226.9 496.3L227.1 489.0L227.4 501.9L227.6 490.2L227.9 488.9L228.1 489.1L228.4 484.6L228.6 483.6L228.9 486.8L229.1 491.4L229.4 489.1L229.6 486.3L229.9 481.4L230.1 488.5L230.4 486.7L230.6 480.8L230.9 492.7L231.1 485.0L231.4 480.7L231.6 482.1L231.9 483.5L232.1 474.7L232.4 480.8L232.6 481.8L232.9 465.3L233.1 484.7L233.4 488.6L233.6 467.8L233.9 479.5L234.1 483.6L234.4 481.1L234.6 481.1L234.9 482.2L235.1 473.2L235.4 473.7L235.6 476.6L235.9 479.6L236.1 486.1L236.4 483.4L236.6 481.8L236.9 488.9L237.1 480.1L237.4 484.3L237.6 478.2L237.9 477.9L238.1 481.9L238.4 470.2L238.6 482.7L238.9 493.0L239.1 481.9L239.4 476.9L239.6 481.2L239.9 477.8L240.1 481.2L240.4 484.1L240.6 475.6L240.9 477.2L241.1 476.5L241.4 475.3L241.6 486.7L241.9 481.2L242.1 474.9L242.4 476.6L242.6 473.9L242.9 479.3L243.1 474.3L243.4 479.1L243.6 479.7L243.9 489.9L244.1 486.5L244.4 479.7L244.6 472.8L244.9 477.6L245.1 474.3L245.4 485.6L245.6 476.8L245.9 472.6L246.1 472.4L246.4 472.0L246.6 480.5L246.9 466.8L247.1 472.8L247.4 468.1L247.6 478.6L247.9 470.7L248.1 469.0L248.4 465.7L248.6 473.3L248.9 464.2L249.1 470.8L249.4 466.3L249.6 460.6L249.9 467.2L250.1 462.5L250.4 461.4L250.6 458.1L250.9 459.5L251.1 460.0L251.4 453.9L251.6 463.8L251.9 452.7L252.1 458.8L252.4 470.6L252.6 458.9L252.9 459.8L253.1 460.0L253.4 456.2L253.6 466.3L253.9 458.7L254.1 465.0L254.4 460.3L254.6 469.8L254.9 466.6L255.1 470.8L255.4 467.5L255.6 478.1L255.9 468.0L256.1 470.8L256.4 471.8L256.6 472.1L256.9 478.0L257.1 479.0L257.4 485.2L257.6 486.9L257.9 485.4L258.1 481.6L258.4 472.3L258.6 476.3L258.9 472.3L259.1 484.7L259.4 485.6L259.6 486.9L259.9 484.3L260.1 479.3L260.4 478.8L260.6 473.9L260.9 479.8L261.1 487.7L261.4 483.5L261.6 480.1L261.9 477.7L262.1 483.0L262.4 485.3L262.6 486.0L262.9 482.2L263.1 480.5L263.4 479.1L263.6 474.3L263.9 479.9L264.1 477.3L264.4 474.4L264.6 477.9L264.9 475.8L265.1 483.6L265.4 477.3L265.6 479.6L265.9 473.4L266.1 475.2L266.4 477.6L266.6 471.9L266.9 478.0L267.1 471.6L267.4 477.9L267.6 470.5L267.9 478.9L268.1 453.2L268.4 480.4L268.6 475.2L268.9 478.8L269.1 477.9L269.4 474.8L269.6 471.4L269.9 471.9L270.1 485.1L270.4 484.0L270.6 472.3L270.9 482.2L271.1 479.6L271.4 487.4L271.6 474.2L271.9 479.5L272.1 478.0L272.4 475.2L272.6 486.4L272.9 480.6L273.1 487.5L273.4 484.1L273.6 478.2L273.9 484.7L274.1 486.5L274.4 491.6L274.6 485.4L274.9 482.6L275.1 493.4L275.4 481.9L275.6 487.4L275.9 483.2L276.1 482.5L276.4 482.3L276.6 489.9L276.9 485.8L277.1 477.1L277.4 472.6L277.6 483.6L277.9 480.8L278.1 481.0L278.4 476.4L278.6 477.4L278.9 475.1L279.1 484.1L279.4 479.0L279.6 481.2L279.9 478.9L280.1 475.7L280.4 472.7L280.6 477.1L280.9 476.1L281.1 477.9L281.4 476.6L281.6 481.8L281.9 475.6L282.1 482.1L282.4 487.2L282.6 477.7L282.9 476.8L283.1 478.9L283.4 478.6L283.6 486.5L283.9 483.0L284.1 492.7L284.4 485.1L284.6 480.3L284.9 483.6L285.1 488.2L285.4 484.9L285.6 481.1L285.9 479.9L286.1 482.7L286.4 480.9L286.6 491.5L286.9 471.9L287.1 487.1L287.4 482.0L287.6 485.4L287.9 488.2L288.1 485.9L288.4 481.0L288.6 481.2L288.9 486.1L289.1 487.6L289.4 479.9L289.6 482.5L289.9 463.5L290.1 477.8L290.4 475.3L290.6 483.6L290.9 480.7L291.1 474.7L291.4 478.0L291.6 467.6L291.9 468.5L292.1 475.3L292.4 470.4L292.6 473.8L292.9 468.7L293.1 475.2L293.4 470.9L293.6 472.5L293.9 478.9L294.1 462.7L294.4 461.8L294.6 471.5L294.9 481.2L295.1 471.3L295.4 469.5L295.6 476.0L295.9 472.0L296.1 471.2L296.4 473.3L296.6 479.1L296.9 475.5L297.1 475.6L297.4 474.6L297.6 478.6L297.9 471.0L298.1 476.7L298.4 483.3L298.6 478.8L298.9 474.1L299.1 477.7L299.4 480.0L299.6 471.7L299.9 474.0L300.1 474.4L300.4 478.0L300.6 476.4L300.9 477.5L301.1 474.1L301.4 467.7L301.6 471.0L301.9 476.7L302.1 472.6L302.4 477.7L302.6 471.1L302.9 479.5L303.1 471.9L303.4 478.8L303.6 480.5L303.9 472.9L304.1 483.0L304.4 482.2L304.6 478.1L304.9 483.1L305.1 479.8L305.4 479.8L305.6 482.7L305.9 480.5L306.1 471.8L306.4 476.7L306.6 487.1L306.9 488.6L307.1 487.9L307.4 471.2L307.6 474.6L307.9 477.4L308.1 488.0L308.4 482.5L308.6 475.8L308.9 484.8L309.1 482.7L309.4 480.2L309.6 492.8L309.9 477.6L310.1 486.0L310.4 474.8L310.6 478.4L310.9 488.8L311.1 482.4L311.4 478.3L311.6 480.6L311.9 482.1L312.1 485.6L312.4 474.9L312.6 474.5L312.9 479.3L313.1 479.6L313.4 484.0L313.6 482.4L313.9 485.8L314.1 481.4L314.4 481.0L314.6 483.4L314.9 489.9L315.1 484.3L315.4 477.4L315.6 483.5L315.9 482.3L316.1 489.4L316.4 477.0L316.6 489.6L316.9 485.2L317.1 479.2L317.4 481.6L317.6 484.3L317.9 483.1L318.1 481.0L318.4 483.0L318.6 480.7L318.9 480.2L319.1 484.4L319.4 490.7L319.6 488.7L319.9 481.3L320.1 492.1L320.4 488.3L320.6 486.5L320.9 481.7L321.1 479.2L321.4 485.4L321.6 480.0L321.9 485.9L322.1 496.5L322.4 483.9L322.6 489.9L322.9 492.2L323.1 491.9L323.4 487.2L323.6 495.9L323.9 493.9L324.1 484.8L324.4 486.8L324.6 495.4L324.9 488.1L325.1 492.5L325.4 491.5L325.6 486.2L325.9 486.9L326.1 475.5L326.4 484.4L326.6 495.0L326.9 494.1L327.1 484.6L327.4 484.1L327.6 482.6L327.9 485.8L328.1 481.9L328.4 492.3L328.6 483.4L328.9 484.2L329.1 492.2L329.4 480.6L329.6 489.9L329.9 486.8L330.1 479.1L330.4 485.2L330.6 480.8L330.9 482.1L331.1 480.9L331.4 482.6L331.6 485.4L331.9 477.8L332.1 484.9L332.4 484.3L332.6 484.6L332.9 481.6L333.1 477.8L333.4 483.4L333.6 483.9L333.9 486.2L334.1 491.0L334.4 486.2L334.6 491.8L334.9 484.6L335.1 489.8L335.4 485.2L335.6 487.5L335.9 485.6L336.1 485.8L336.4 490.3L336.6 489.2L336.9 486.2L337.1 481.3L337.4 492.0L337.6 491.8L337.9 477.5L338.1 486.0L338.4 486.3L338.6 485.4L338.9 487.6L339.1 484.8L339.4 489.4L339.6 484.8L339.9 480.0L340.1 481.8L340.4 488.8L340.6 477.2L340.9 483.9L341.1 491.0L341.4 487.2L341.6 476.8L341.9 481.6L342.1 487.5L342.4 475.8L342.6 486.3L342.9 487.6L343.1 480.7L343.4 479.9L343.6 484.9L343.9 488.5L344.1 486.2L344.4 486.2L344.6 488.0L344.9 489.2L345.1 483.6L345.4 491.5L345.6 484.3L345.9 488.2L346.1 490.9L346.4 493.9L346.6 485.2L346.9 486.3L347.1 477.9L347.4 468.9L347.6 483.9L347.9 488.2L348.1 496.0L348.4 471.1L348.6 478.8L348.9 487.0L349.1 481.2L349.4 477.3L349.6 479.6L349.9 475.9L350.1 478.2L350.4 477.1L350.6 471.8L350.9 465.5L351.1 474.2L351.4 479.0L351.6 469.7L351.9 470.3L352.1 474.0L352.4 466.1L352.6 472.6L352.9 466.7L353.1 473.1L353.4 468.4L353.6 471.4L353.9 477.0L354.1 472.2L354.4 472.4L354.6 479.1L354.9 474.3L355.1 469.1L355.4 470.8L355.6 481.3L355.9 477.2L356.1 467.4L356.4 466.3L356.6 476.7L356.9 483.9L357.1 469.0L357.4 481.5L357.6 479.4L357.9 472.5L358.1 478.1L358.4 485.6L358.6 480.1L358.9 478.1L359.1 468.5L359.4 491.1L359.6 477.3L359.9 485.2L360.1 488.0L360.4 489.2L360.6 492.0L360.9 480.1L361.1 492.3L361.4 492.5L361.6 488.6L361.9 485.8L362.1 482.9L362.4 484.5L362.6 486.3L362.9 485.8L363.1 494.2L363.4 483.4L363.6 489.1L363.9 495.0L364.1 488.9L364.4 487.3L364.6 500.9L364.9 483.8L365.1 480.2L365.4 494.3L365.6 490.7L365.9 502.7L366.1 492.8L366.4 498.8L366.6 494.3L366.9 494.5L367.1 478.4L367.4 488.8L367.6 496.7L367.9 501.1L368.1 497.2L368.4 494.7L368.6 493.4L368.9 493.9L369.1 506.8L369.4 499.1L369.6 500.5L369.9 500.8L370.1 496.0L370.4 497.1L370.6 499.9L370.9 498.3L371.1 498.2L371.4 504.6L371.6 501.9L371.9 503.0L372.1 489.3L372.4 494.7L372.6 495.2L372.9 508.0L373.1 490.6L373.4 503.0L373.6 506.2L373.9 506.5L374.1 505.9L374.4 495.0L374.6 501.0L374.9 492.3L375.1 500.5L375.4 502.8L375.6 511.2L375.9 495.5L376.1 495.4L376.4 477.4L376.6 495.1L376.9 504.2L377.1 502.5L377.4 500.3L377.6 498.8L377.9 493.5L378.1 502.7L378.4 507.1L378.6 496.8L378.9 488.0L379.1 499.3L379.4 495.4L379.6 496.2L379.9 499.2L380.1 496.4L380.4 500.3L380.6 496.1L380.9 500.9L381.1 493.4L381.4 506.2L381.6 506.1L381.9 498.5L382.1 500.0L382.4 494.0L382.6 498.7L382.9 508.1L383.1 498.7L383.4 492.9L383.6 500.1L383.9 503.8L384.1 498.9L384.4 501.1L384.6 503.1L384.9 502.3L385.1 498.6L385.4 505.1L385.6 506.4L385.9 503.5L386.1 505.3L386.4 513.9L386.6 505.3L386.9 501.3L387.1 505.8L387.4 495.3L387.6 504.1L387.9 496.0L388.1 496.5L388.4 495.4L388.6 499.9L388.9 501.0L389.1 496.8L389.4 500.5L389.6 500.1L389.9 495.4L390.1 500.7L390.4 500.7L390.6 495.7L390.9 498.0L391.1 494.7L391.4 485.8L391.6 492.6L391.9 483.3L392.1 492.0L392.4 491.6L392.6 487.6L392.9 492.3L393.1 488.1L393.4 492.8L393.6 490.2L393.9 486.0L394.1 488.7L394.4 485.1L394.6 489.7L394.9 479.9L395.1 495.9L395.4 483.6L395.6 493.3L395.9 479.9L396.1 482.8L396.4 485.7L396.6 484.6L396.9 475.1L397.1 482.0L397.4 485.5L397.6 497.4L397.9 489.8L398.1 476.8L398.4 481.2L398.6 477.1L398.9 478.7L399.1 483.9L399.4 479.0L399.6 476.9L399.9 479.3L400.1 475.5L400.4 480.3L400.6 486.7L400.9 477.1L401.1 476.6L401.4 478.0L401.6 469.6L401.9 472.2L402.1 472.1L402.4 477.9L402.6 477.9L402.9 471.3L403.1 479.2L403.4 477.0L403.6 484.7L403.9 474.7L404.1 476.6L404.4 479.3L404.6 476.3L404.9 476.3L405.1 480.8L405.4 475.5L405.6 478.7L405.9 480.7L406.1 474.6L406.4 479.4L406.6 482.5L406.9 483.3L407.1 466.6L407.4 476.4L407.6 464.0L407.9 478.7L408.1 473.1L408.4 483.5L408.6 480.1L408.9 479.6L409.1 487.7L409.4 474.9L409.6 484.5L409.9 487.0L410.1 488.5L410.4 486.6L410.6 482.7L410.9 491.8L411.1 484.4L411.4 491.7L411.6 488.0L411.9 491.9L412.1 478.4L412.4 482.2L412.6 475.9L412.9 487.5L413.1 491.2L413.4 483.3L413.6 495.9L413.9 488.4L414.1 479.5L414.4 483.0L414.6 481.0L414.9 484.9L415.1 484.4L415.4 477.1L415.6 483.6L415.9 480.1L416.1 466.9L416.4 479.5L416.6 480.4L416.9 477.8L417.1 483.4L417.4 478.9L417.6 474.2L417.9 470.1L418.1 478.5L418.4 478.1L418.6 471.8L418.9 472.5L419.1 479.3L419.4 482.5L419.6 478.8L419.9 489.5L420.1 468.8L420.4 471.6L420.6 485.5L420.9 472.4L421.1 476.1L421.4 482.1L421.6 476.2L421.9 475.5L422.1 477.2L422.4 480.0L422.6 481.3L422.9 477.5L423.1 481.1L423.4 489.2L423.6 482.7L423.9 483.6L424.1 485.4L424.4 477.3L424.6 482.8L424.9 485.3L425.1 489.6L425.4 488.4L425.6 484.1L425.9 486.6L426.1 490.7L426.4 486.3L426.6 487.8L426.9 486.1L427.1 489.8L427.4 480.8L427.6 480.9L427.9 480.5L428.1 489.5L428.4 491.3L428.6 486.1L428.9 490.7L429.1 487.2L429.4 497.7L429.6 484.1L429.9 487.0L430.1 486.5L430.4 490.5L430.6 486.1L430.9 488.6L431.1 490.2L431.4 489.1L431.6 493.6L431.9 502.5L432.1 490.3L432.4 483.6L432.6 500.3L432.9 492.9L433.1 492.4L433.4 492.5L433.6 503.3L433.9 492.0L434.1 503.8L434.4 503.4L434.6 489.6L434.9 496.8L435.1 494.0L435.4 496.3L435.6 496.3L435.9 498.8L436.1 499.5L436.4 503.6L436.6 504.7L436.9 497.4L437.1 492.5L437.4 502.6L437.6 500.0L437.9 501.8L438.1 495.7L438.4 496.8L438.6 502.6L438.9 494.7L439.1 498.2L439.4 495.9L439.6 495.9L439.9 494.0L440.1 505.4L440.4 495.4L440.6 497.4L440.9 495.2L441.1 493.1L441.4 498.0L441.6 494.7L441.9 491.2L442.1 498.2L442.4 489.0L442.6 490.8L442.9 492.3L443.1 500.3L443.4 496.6L443.6 495.6L443.9 495.3L444.1 493.6L444.4 490.0L444.6 488.8L444.9 483.3L445.1 485.2L445.4 489.1L445.6 491.0L445.9 492.6L446.1 486.8L446.4 482.0L446.6 495.0L446.9 481.7L447.1 480.1L447.4 495.0L447.6 483.9L447.9 491.3L448.1 480.6L448.4 485.8L448.6 486.4L448.9 486.9L449.1 479.2L449.4 491.2L449.6 488.1L449.9 485.2L450.1 485.1L450.4 481.5L450.6 481.6L450.9 484.5L451.1 486.3L451.4 483.0L451.6 481.8L451.9 488.0L452.1 474.4L452.4 471.8L452.6 481.8L452.9 480.6L453.1 476.2L453.4 481.2L453.6 466.4L453.9 482.4L454.1 473.8L454.4 481.4L454.6 478.8L454.9 476.2L455.1 475.4L455.4 457.9L455.6 480.2L455.9 475.8L456.1 469.0L456.4 477.3L456.6 464.1L456.9 465.4L457.1 473.7L457.4 470.5L457.6 468.3L457.9 476.1L458.1 477.5L458.4 472.0L458.6 475.9L458.9 481.7L459.1 469.0L459.4 479.1L459.6 471.4L459.9 475.1L460.1 481.0L460.4 476.1L460.6 481.0L460.9 487.7L461.1 471.5L461.4 486.5L461.6 479.2L461.9 477.4L462.1 478.6L462.4 483.0L462.6 488.5L462.9 493.0L463.1 483.8L463.4 479.5L463.6 476.8L463.9 485.5L464.1 480.3L464.4 471.1L464.6 482.2L464.9 467.6L465.1 477.6L465.4 477.4L465.6 485.4L465.9 477.0L466.1 483.1L466.4 478.3L466.6 475.3L466.9 486.9L467.1 482.8L467.4 486.0L467.6 479.0L467.9 482.2L468.1 487.7L468.4 476.8L468.6 482.4L468.9 472.2L469.1 480.6L469.4 473.6L469.6 480.5L469.9 469.3L470.1 478.1L470.4 478.3L470.6 473.7L470.9 482.6L471.1 482.6L471.4 476.8L471.6 470.9L471.9 475.1L472.1 479.2L472.4 471.3L472.6 471.0L472.9 473.3L473.1 473.4L473.4 476.7L473.6 475.6L473.9 470.5L474.1 478.7L474.4 476.8L474.6 478.9L474.9 472.3L475.1 476.1L475.4 478.0L475.6 480.3L475.9 479.7L476.1 474.0L476.4 485.8L476.6 479.3L476.9 480.7L477.1 486.0L477.4 481.1L477.6 482.9L477.9 486.7L478.1 486.7L478.4 479.9L478.6 485.9L478.9 492.7L479.1 502.3L479.4 484.9L479.6 494.9L479.9 493.3L480.1 492.5L480.4 493.9L480.6 491.1L480.9 492.3L481.1 491.2L481.4 498.0L481.6 500.6L481.9 505.8L482.1 499.0L482.4 502.7L482.6 497.6L482.9 497.5L483.1 489.2L483.4 496.8L483.6 507.0L483.9 499.0L484.1 498.2L484.4 508.9L484.6 504.1L484.9 506.9L485.1 508.0L485.4 498.5L485.6 508.3L485.9 499.5L486.1 508.5L486.4 502.2L486.6 498.4L486.9 493.4L487.1 508.2L487.4 496.2L487.6 506.3L487.9 498.0L488.1 502.6L488.4 506.3L488.6 501.3L488.9 496.4L489.1 499.7L489.4 496.1L489.6 495.3L489.9 498.4L490.1 494.9L490.4 498.1L490.6 501.3L490.9 503.4L491.1 494.8L491.4 497.6L491.6 501.6L491.9 503.0L492.1 499.9L492.4 497.7L492.6 500.4L492.9 491.4L493.1 493.5L493.4 501.3L493.6 494.6L493.9 496.4L494.1 491.4L494.4 495.3L494.6 495.4L494.9 494.8L495.1 504.8L495.4 492.4L495.6 500.8L495.9 489.7L496.1 489.4L496.4 486.3L496.6 491.5L496.9 492.9L497.1 487.1L497.4 488.0L497.6 501.6L497.9 493.8L498.1 492.6L498.4 491.3L498.6 484.3L498.9 486.6L499.1 486.9L499.4 485.7L499.6 482.9L499.9 481.0L500.1 492.2L500.4 475.1L500.6 488.9L500.9 480.1L501.1 488.1L501.4 484.5L501.6 482.9L501.9 477.5L502.1 472.4L502.4 481.2L502.6 477.2L502.9 476.3L503.1 478.5L503.4 475.6L503.6 486.3L503.9 478.2L504.1 476.4L504.4 479.1L504.6 481.0L504.9 473.1L505.1 475.7L505.4 475.6L505.6 480.4L505.9 476.0L506.1 473.1L506.4 478.7L506.6 485.0L506.9 477.6L507.1 476.8L507.4 471.2L507.6 476.0L507.9 476.3L508.1 474.6L508.4 476.8L508.6 473.7L508.9 475.5L509.1 475.5L509.4 480.2L509.6 478.7L509.9 476.1L510.1 475.0L510.4 478.2L510.6 477.8L510.9 471.0L511.1 474.6L511.4 469.5L511.6 483.0L511.9 480.1L512.1 476.6L512.4 474.2L512.6 471.0L512.9 472.7L513.1 470.6L513.4 475.8L513.6 473.7L513.9 483.1L514.1 470.3L514.4 470.8L514.6 479.4L514.9 475.1L515.1 478.2L515.4 474.2L515.6 459.6L515.9 472.2L516.1 463.6L516.4 474.6L516.6 463.9L516.9 478.9L517.1 477.1L517.4 478.4L517.6 482.2L517.9 489.7L518.1 476.1L518.4 475.3L518.6 475.8L518.9 480.8L519.1 468.2L519.4 475.9L519.6 477.8L519.9 477.6L520.1 486.6L520.4 487.9L520.6 483.8L520.9 486.0L521.1 483.1L521.4 485.3L521.6 488.4L521.9 480.1L522.1 485.6L522.4 479.5L522.6 484.0L522.9 489.0L523.1 492.1L523.4 483.1L523.6 490.5L523.9 485.4L524.1 488.9L524.4 486.6L524.6 494.9L524.9 481.9L525.1 483.6L525.4 479.7L525.6 484.7L525.9 481.9L526.1 469.1L526.4 478.6L526.6 482.4L526.9 481.2L527.1 473.8L527.4 471.8L527.6 471.0L527.9 465.8L528.1 468.0L528.4 473.4L528.6 462.3L528.9 464.8L529.1 467.5L529.4 470.1L529.6 466.1L529.9 462.1L530.1 465.8L530.4 459.6L530.6 469.0L530.9 465.5L531.1 448.2L531.4 465.3L531.6 463.1L531.9 462.9L532.1 455.9L532.4 461.3L532.6 442.4L532.9 455.9L533.1 463.7L533.4 460.3L533.6 458.9L533.9 470.1L534.1 467.8L534.4 465.0L534.6 465.5L534.9 464.5L535.1 466.8L535.4 468.8L535.6 463.9L535.9 468.8L536.1 465.5L536.4 466.8L536.6 470.8L536.9 467.3L537.1 470.8L537.4 472.8L537.6 479.3L537.9 472.5L538.1 470.0L538.4 472.3L538.6 472.5L538.9 478.1L539.1 478.6L539.4 470.7L539.6 469.8L539.9 468.6L540.1 484.3L540.4 478.3L540.6 474.6L540.9 477.1L541.1 475.6L541.4 471.2L541.6 466.6L541.9 471.9L542.1 478.5L542.4 477.8L542.6 475.8L542.9 470.6L543.1 483.4L543.4 471.4L543.6 476.2L543.9 473.5L544.1 479.2L544.4 481.3L544.6 470.9L544.9 479.6L545.1 473.9L545.4 472.2L545.6 457.7L545.9 476.5L546.1 472.8L546.4 470.6L546.6 466.6L546.9 477.1L547.1 472.6L547.4 474.2L547.6 479.1L547.9 477.2L548.1 477.9L548.4 482.5L548.6 479.6L548.9 482.0L549.1 485.9L549.4 485.0L549.6 487.2L549.9 486.1L550.1 490.9L550.4 489.3L550.6 484.1L550.9 490.9L551.1 487.4L551.4 492.2L551.6 483.4L551.9 480.8L552.1 486.9L552.4 481.3L552.6 491.0L552.9 484.9L553.1 482.9L553.4 482.5L553.6 481.2L553.9 482.3L554.1 479.0L554.4 481.1L554.6 480.0L554.9 480.3L555.1 472.1L555.4 475.9L555.6 482.1L555.9 483.7L556.1 471.8L556.4 473.2L556.6 461.6L556.9 484.9L557.1 468.0L557.4 476.0L557.6 479.6L557.9 468.1L558.1 470.9L558.4 480.1L558.6 468.1L558.9 471.0L559.1 467.4L559.4 470.7L559.6 477.6L559.9 472.4L560.1 472.1L560.4 467.2L560.6 474.1L560.9 477.3L561.1 475.5L561.4 469.8L561.6 475.9L561.9 471.2L562.1 475.7L562.4 475.4L562.6 475.4L562.9 480.3L563.1 477.4L563.4 483.5L563.6 480.8L563.9 479.1L564.1 483.5L564.4 477.4L564.6 486.0L564.9 479.0L565.1 480.4L565.4 473.2L565.6 489.1L565.9 489.2L566.1 482.6L566.4 482.2L566.6 483.4L566.9 489.8L567.1 486.9L567.4 495.7L567.6 473.6L567.9 491.2L568.1 493.7L568.4 491.1L568.6 491.8L568.9 473.7L569.1 491.0L569.4 492.3L569.6 505.0L569.9 492.4L570.1 492.9L570.4 504.1L570.6 493.7L570.9 503.7L571.1 501.1L571.4 489.7L571.6 495.0L571.9 485.9L572.1 497.2L572.4 495.0L572.6 492.9L572.9 492.8L573.1 505.6L573.4 503.3L573.6 500.5L573.9 498.1L574.1 497.6L574.4 496.4L574.6 502.9L574.9 501.5L575.1 500.7L575.4 497.8L575.6 495.1L575.9 491.5L576.1 502.3L576.4 499.8L576.6 499.8L576.9 502.0L577.1 509.2L577.4 495.4L577.6 499.5L577.9 499.5L578.1 506.8L578.4 499.4L578.6 500.8L578.9 494.9L579.1 502.0L579.4 497.2L579.6 499.8L579.9 501.8L580.1 499.0L580.4 498.5L580.6 503.7L580.9 489.6L581.1 499.3L581.4 494.8L581.6 506.1L581.9 496.8L582.1 494.4L582.4 499.3L582.6 500.8L582.9 496.4L583.1 501.4L583.4 496.3L583.6 493.1L583.9 491.7L584.1 493.7L584.4 493.8L584.6 489.8L584.9 493.0L585.1 488.9L585.4 489.3L585.6 498.4L585.9 491.8L586.1 493.9L586.4 483.6L586.6 481.3L586.9 486.8L587.1 486.2L587.4 481.1L587.6 485.8L587.9 482.4L588.1 484.1L588.4 493.3L588.6 483.2L588.9 485.3L589.1 476.4L589.4 486.7L589.6 479.6L589.9 482.2L590.1 479.6L590.4 477.8L590.6 478.0L590.9 486.8L591.1 488.8L591.4 488.6L591.6 478.0L591.9 476.7L592.1 484.2L592.4 478.1L592.6 484.2L592.9 491.6L593.1 481.1L593.4 476.8L593.6 477.5L593.9 477.4L594.1 474.6L594.4 477.0L594.6 474.6L594.9 467.7L595.1 477.5L595.4 473.4L595.6 476.5L595.9 474.1L596.1 478.5L596.4 475.7L596.6 479.4L596.9 477.4L597.1 473.7L597.4 477.9L597.6 479.2L597.9 478.5L598.1 475.0L598.4 477.4L598.6 490.6L598.9 474.5L599.1 476.1L599.4 471.3L599.6 479.4L599.9 477.1L600.1 473.8L600.4 484.8L600.6 469.7L600.9 475.0L601.1 473.1L601.4 473.8L601.6 476.0L601.9 476.6L602.1 481.0L602.4 485.2L602.6 486.1L602.9 482.9L603.1 483.3L603.4 482.4L603.6 487.1L603.9 487.8L604.1 489.7L604.4 481.5L604.6 486.5L604.9 480.7L605.1 483.9L605.4 489.5L605.6 480.1L605.9 488.5L606.1 488.3L606.4 483.3L606.6 486.7L606.9 464.3L607.1 479.8L607.4 490.4L607.6 482.6L607.9 488.8L608.1 488.8L608.4 486.2L608.6 483.8L608.9 482.4L609.1 483.7L609.4 486.2L609.6 487.5L609.9 486.0L610.1 478.1L610.4 485.2L610.6 487.0L610.9 485.8L611.1 482.1L611.4 483.2L611.6 492.3L611.9 487.9L612.1 487.9L612.4 493.4L612.6 481.0L612.9 487.5L613.1 487.1L613.4 487.7L613.6 478.6L613.9 481.4L614.1 484.0L614.4 487.1L614.6 488.2L614.9 489.7L615.1 485.2L615.4 485.7L615.6 482.7L615.9 484.5L616.1 484.1L616.4 476.2L616.6 479.2L616.9 483.2L617.1 477.3L617.4 481.1L617.6 481.5L617.9 480.1L618.1 482.5L618.4 475.9L618.6 479.1L618.9 478.7L619.1 485.1L619.4 481.7L619.6 480.9L619.9 475.2L620.1 480.1L620.4 478.5L620.6 468.8L620.9 474.0L621.1 481.6L621.4 481.1L621.6 484.6L621.9 479.7L622.1 472.2L622.4 476.1L622.6 478.4L622.9 478.3L623.1 475.2L623.4 474.4L623.6 474.8L623.9 477.8L624.1 476.0L624.4 486.7L624.6 477.6L624.9 471.7L625.1 470.3L625.4 470.9L625.6 476.2L625.9 471.2L626.1 476.7L626.4 477.3L626.6 480.9L626.9 481.9L627.1 475.6L627.4 470.3L627.6 474.5L627.9 482.2L628.1 474.3L628.4 465.8L628.6 470.0L628.9 476.8L629.1 476.7L629.4 471.0L629.6 481.2L629.9 474.6L630.1 468.8L630.4 473.5L630.6 466.7L630.9 467.3L631.1 464.0L631.4 473.1L631.6 470.1L631.9 468.7L632.1 462.2L632.4 469.9L632.6 467.8L632.9 466.5L633.1 465.3L633.4 460.9L633.6 468.3L633.9 460.4L634.1 466.0L634.4 466.1L634.6 462.6L634.9 464.7L635.1 457.9L635.4 469.3L635.6 465.2L635.9 460.7L636.1 464.5L636.4 469.0L636.6 469.7L636.9 468.9L637.1 469.9L637.4 463.5L637.6 460.6L637.9 469.7L638.1 472.1L638.4 468.0L638.6 464.0L638.9 460.0L639.1 464.0L639.4 458.3L639.6 461.9L639.9 462.8L640.1 467.4L640.4 465.5L640.6 471.5L640.9 464.7L641.1 466.4L641.4 467.1L641.6 466.4L641.9 447.0L642.1 471.0L642.4 466.3L642.6 465.5L642.9 466.6L643.1 477.4L643.4 472.6L643.6 471.4L643.9 470.2L644.1 477.4L644.4 460.4L644.6 471.7L644.9 474.1L645.1 481.4L645.4 472.1L645.6 471.2L645.9 481.2L646.1 480.5L646.4 484.3L646.6 477.5L646.9 478.7L647.1 477.7L647.4 489.0L647.6 481.4L647.9 490.1L648.1 490.2L648.4 487.5L648.6 492.2L648.9 491.7L649.1 492.3L649.4 496.3L649.6 496.7L649.9 495.2L650.1 498.8L650.4 501.8L650.6 492.8L650.9 500.2L651.1 497.7L651.4 493.1L651.6 497.4L651.9 492.7L652.1 476.8L652.4 503.0L652.6 499.5L652.9 497.8L653.1 491.1L653.4 499.2L653.6 504.6L653.9 502.4L654.1 506.1L654.4 501.9L654.6 498.4L654.9 500.6L655.1 489.5L655.4 491.0L655.6 500.8L655.9 506.6L656.1 500.3L656.4 494.9L656.6 498.9L656.9 493.8L657.1 497.6L657.4 499.3L657.6 497.6L657.9 502.3L658.1 489.2L658.4 499.8L658.6 503.4L658.9 496.6L659.1 516.8L659.4 501.2L659.6 502.6L659.9 502.4L660.1 499.3L660.4 507.1L660.6 501.3" fill="none" stroke="#008000" stroke-width="0.75" stroke-opacity="0.55"/><path d="M34.9 498.2C35.5 497.7 37.6 495.6 38.9 494.9C40.1 494.2 41.1 493.6 42.2 493.8C43.3 494.0 44.4 495.1 45.5 496.0C46.6 496.9 47.7 500.4 48.8 499.3C49.9 498.2 51.0 491.6 52.1 489.4C53.2 487.1 54.3 487.3 55.5 486.0C56.6 484.8 57.7 483.1 58.8 481.6C59.9 480.1 61.0 477.9 62.1 477.2C63.2 476.5 64.3 477.0 65.4 477.2C66.5 477.4 67.6 477.0 68.7 478.3C69.8 479.6 71.1 483.1 72.1 484.9C73.0 486.8 73.3 490.1 74.3 489.4C75.2 488.6 76.5 481.2 77.6 480.5C78.7 479.8 80.0 483.5 80.9 484.9C81.8 486.4 82.2 490.8 83.1 489.4C84.0 487.9 85.5 479.2 86.4 476.1C87.4 472.9 87.7 471.3 88.7 470.5C89.6 469.8 90.9 471.7 92.0 471.7C93.1 471.7 94.2 471.3 95.3 470.5C96.4 469.8 97.5 466.7 98.6 467.2C99.7 467.8 100.8 470.9 101.9 473.9C103.0 476.8 104.1 482.4 105.3 484.9C106.4 487.5 107.5 487.1 108.6 489.4C109.7 491.6 111.0 495.6 111.9 498.2C112.8 500.8 113.4 503.9 114.1 504.9C114.8 505.8 115.4 504.9 116.3 503.7C117.2 502.6 118.5 499.3 119.6 498.2C120.7 497.1 121.9 497.7 123.0 497.1C124.1 496.6 125.1 497.1 126.3 494.9C127.4 492.7 128.7 486.7 129.8 483.8C130.9 481.0 132.0 478.1 133.1 477.7C134.2 477.4 135.3 480.0 136.4 481.6C137.6 483.2 138.8 484.8 140.0 487.1C141.1 489.5 142.2 493.8 143.3 496.0C144.4 498.2 145.5 499.7 146.6 500.4C147.7 501.2 148.8 501.7 149.9 500.4C151.0 499.1 152.1 493.1 153.2 492.7C154.3 492.3 155.5 496.9 156.6 498.2C157.7 499.5 158.8 501.4 159.9 500.4C161.0 499.5 162.1 492.7 163.2 492.7C164.3 492.7 165.4 499.3 166.5 500.4C167.6 501.5 168.7 501.2 169.8 499.3C170.9 497.5 172.1 492.9 173.2 489.4C174.3 485.9 175.4 482.0 176.5 478.3C177.6 474.6 178.7 468.3 179.8 467.2C180.9 466.1 182.0 469.4 183.1 471.7C184.2 473.9 185.3 479.8 186.4 480.5C187.5 481.2 188.7 477.9 189.8 476.1C190.9 474.2 192.0 470.7 193.1 469.4C194.2 468.2 195.3 468.3 196.4 468.3C197.5 468.3 198.6 469.3 199.7 469.4C200.8 469.6 201.9 468.3 203.0 469.4C204.1 470.5 205.3 473.5 206.4 476.1C207.5 478.7 208.6 481.2 209.7 484.9C210.8 488.6 212.1 495.3 213.0 498.2C213.9 501.2 214.5 502.6 215.2 502.6C216.0 502.6 216.7 499.3 217.4 498.2C218.2 497.1 218.7 495.3 219.6 496.0C220.6 496.7 221.9 502.6 223.0 502.6C224.1 502.6 225.1 499.0 226.3 496.0C227.4 493.1 228.7 487.7 229.8 484.9C230.9 482.2 232.0 480.0 233.1 479.4C234.2 478.8 235.3 481.8 236.4 481.6C237.6 481.4 238.8 478.5 240.0 478.3C241.1 478.1 242.2 480.9 243.3 480.5C244.4 480.1 245.5 479.0 246.6 476.1C247.7 473.1 249.0 465.8 249.9 462.8C250.8 459.9 251.4 458.0 252.1 458.4C252.9 458.7 253.4 461.7 254.3 465.0C255.3 468.3 256.6 475.3 257.7 478.3C258.8 481.2 259.9 482.4 261.0 482.7C262.1 483.1 263.2 482.0 264.3 480.5C265.4 479.0 266.5 473.9 267.6 473.9C268.7 473.9 269.8 478.7 270.9 480.5C272.1 482.4 273.2 484.6 274.3 484.9C275.4 485.3 276.5 484.0 277.6 482.7C278.7 481.4 279.8 477.2 280.9 477.2C282.0 477.2 283.1 481.4 284.2 482.7C285.3 484.0 286.4 486.0 287.5 484.9C288.7 483.8 289.8 478.3 290.9 476.1C292.0 473.9 293.1 471.7 294.2 471.7C295.3 471.7 296.4 475.7 297.5 476.1C298.6 476.5 299.7 473.5 300.8 473.9C301.9 474.2 303.0 476.8 304.1 478.3C305.3 479.8 306.4 482.0 307.5 482.7C308.6 483.5 309.7 483.1 310.8 482.7C311.9 482.4 313.0 480.5 314.1 480.5C315.2 480.5 316.3 481.6 317.4 482.7C318.5 483.8 319.6 486.0 320.7 487.1C321.9 488.3 323.0 489.5 324.1 489.4C325.2 489.2 326.3 486.9 327.4 486.0C328.4 485.2 329.3 484.8 330.4 484.4C331.4 484.0 332.6 483.2 333.7 483.8C334.8 484.5 335.9 488.4 337.0 488.3C338.0 488.1 338.9 483.3 340.0 482.7C341.0 482.2 342.2 484.2 343.3 484.9C344.4 485.7 345.5 488.6 346.6 487.1C347.7 485.7 348.8 478.8 349.9 476.1C351.0 473.3 352.1 470.5 353.2 470.5C354.3 470.5 355.5 473.7 356.6 476.1C357.7 478.5 358.8 482.7 359.9 484.9C361.0 487.1 362.1 487.9 363.2 489.4C364.3 490.8 365.4 492.3 366.5 493.8C367.6 495.3 368.7 497.3 369.8 498.2C370.9 499.1 372.1 499.1 373.2 499.3C374.3 499.5 375.4 499.7 376.5 499.3C377.6 499.0 378.7 496.9 379.8 497.1C380.9 497.3 382.0 499.3 383.1 500.4C384.2 501.5 385.3 504.5 386.4 503.7C387.5 503.0 388.7 498.8 389.8 496.0C390.9 493.2 392.0 488.4 393.1 487.1C394.2 485.9 395.3 489.4 396.4 488.3C397.5 487.1 398.8 482.9 399.7 480.5C400.6 478.1 401.0 474.2 401.9 473.9C402.9 473.5 404.1 477.2 405.3 478.3C406.4 479.4 407.5 479.0 408.6 480.5C409.7 482.0 410.8 486.8 411.9 487.1C413.0 487.5 414.1 484.2 415.2 482.7C416.3 481.2 417.6 479.4 418.5 478.3C419.5 477.2 419.8 475.3 420.7 476.1C421.7 476.8 423.0 480.7 424.1 482.7C425.2 484.8 426.3 487.4 427.4 488.3C428.4 489.1 429.3 486.6 430.4 487.7C431.4 488.8 432.6 492.9 433.7 494.9C434.8 496.9 435.9 499.5 437.0 499.9C438.0 500.2 438.9 498.3 440.0 497.1C441.0 495.9 442.2 494.2 443.3 492.7C444.4 491.2 445.5 489.2 446.6 488.3C447.7 487.3 448.8 488.4 449.9 487.1C451.0 485.9 452.1 483.1 453.2 480.5C454.3 477.9 455.5 472.4 456.6 471.7C457.7 470.9 458.8 474.4 459.9 476.1C461.0 477.7 462.1 480.9 463.2 481.6C464.3 482.4 465.4 481.2 466.5 480.5C467.6 479.8 468.7 478.3 469.8 477.2C470.9 476.1 472.1 473.3 473.2 473.9C474.3 474.4 475.4 477.9 476.5 480.5C477.6 483.1 478.7 486.0 479.8 489.4C480.9 492.7 482.1 498.0 483.1 500.4C484.1 502.8 484.9 503.7 485.8 503.7C486.7 503.7 487.6 501.5 488.7 500.4C489.7 499.3 490.9 498.2 492.0 497.1C493.1 496.0 494.2 494.7 495.3 493.8C496.4 492.9 497.5 493.8 498.6 491.6C499.7 489.4 500.8 483.1 501.9 480.5C503.0 477.9 504.1 476.6 505.3 476.1C506.4 475.5 507.5 477.6 508.6 477.2C509.7 476.8 510.8 474.4 511.9 473.9C513.0 473.3 514.1 473.7 515.2 473.9C516.3 474.1 517.4 473.1 518.5 475.0C519.6 476.8 520.9 482.5 521.9 484.9C522.8 487.3 523.1 491.2 524.1 489.4C525.0 487.5 526.4 478.7 527.4 473.9C528.4 469.1 529.1 462.4 530.0 460.6C531.0 458.7 532.1 461.5 533.1 462.8C534.2 464.1 535.3 466.1 536.4 468.3C537.6 470.5 538.8 475.2 540.0 476.1C541.1 477.0 542.2 474.6 543.3 473.9C544.4 473.1 545.7 470.5 546.6 471.7C547.5 472.8 548.0 477.6 548.8 480.5C549.7 483.5 550.8 489.4 551.7 489.4C552.6 489.4 553.4 483.1 554.3 480.5C555.3 477.9 556.6 475.0 557.7 473.9C558.8 472.8 559.9 472.8 561.0 473.9C562.1 475.0 563.2 477.6 564.3 480.5C565.4 483.5 566.5 489.0 567.6 491.6C568.7 494.2 569.8 495.1 570.9 496.0C572.1 496.9 573.2 496.6 574.3 497.1C575.4 497.7 576.5 499.0 577.6 499.3C578.7 499.7 579.8 499.9 580.9 499.3C582.0 498.8 583.1 498.4 584.2 496.0C585.3 493.6 586.4 487.1 587.5 484.9C588.7 482.7 589.8 483.8 590.9 482.7C592.0 481.6 593.1 479.8 594.2 478.3C595.3 476.8 596.5 473.9 597.5 473.9C598.5 473.8 599.4 476.2 600.4 478.0C601.5 479.8 602.7 483.3 603.8 484.8C605.0 486.3 606.1 487.0 607.2 487.1C608.4 487.2 609.5 485.7 610.6 485.3C611.8 485.0 612.9 485.5 614.1 484.8C615.2 484.0 616.3 482.3 617.5 480.8C618.6 479.3 619.7 476.4 620.9 475.7C622.0 474.9 623.2 476.2 624.3 476.3C625.4 476.4 626.4 477.7 627.5 476.3C628.5 475.0 629.5 470.0 630.5 468.3C631.6 466.7 632.8 467.1 633.9 466.7C635.1 466.3 636.2 466.5 637.4 466.0C638.5 465.5 639.7 462.7 640.9 463.6C642.0 464.6 643.2 468.1 644.4 471.8C645.5 475.5 646.8 481.1 647.9 485.8C649.0 490.5 649.9 497.5 650.9 499.8C651.9 502.2 652.9 500.2 653.7 499.8C654.6 499.4 655.3 497.3 656.0 497.5C656.8 497.7 657.6 499.6 658.4 501.0C659.2 502.4 660.3 504.9 660.7 505.7" fill="none" stroke="#008000" stroke-width="4.4" stroke-linejoin="round" stroke-linecap="round"/></g>
<g clip-path="url(#c2)"><path d="M34.9 645.6L35.2 652.7L35.5 651.2L35.8 654.3L36.1 650.3L36.4 661.0L36.7 660.6L37.0 664.5L37.3 660.1L37.6 661.0L37.9 662.1L38.2 663.9L38.5 661.2L38.8 671.1L39.1 675.1L39.4 669.9L39.7 685.6L40.0 677.1L40.3 678.2L40.6 675.0L40.9 666.1L41.2 680.1L41.5 677.3L41.8 671.4L42.1 678.4L42.4 681.7L42.7 676.5L43.0 674.3L43.3 693.0L43.6 671.6L43.9 675.9L44.2 670.7L44.5 673.9L44.8 671.5L45.1 670.5L45.4 673.7L45.7 666.6L46.0 675.8L46.3 675.2L46.6 664.3L46.9 675.4L47.2 661.9L47.5 666.8L47.8 652.7L48.1 665.5L48.4 660.9L48.7 657.2L49.0 655.0L49.3 655.5L49.6 656.0L49.9 647.6L50.2 640.6L50.5 648.1L50.8 652.0L51.1 647.2L51.4 635.9L51.7 636.7L52.0 638.2L52.3 628.3L52.6 626.0L52.9 627.2L53.2 626.7L53.5 623.4L53.8 623.2L54.1 618.8L54.4 624.5L54.7 623.6L55.0 624.3L55.3 617.5L55.6 614.7L55.9 615.6L56.2 640.5L56.5 627.3L56.8 629.2L57.1 629.2L57.4 640.8L57.7 634.4L58.0 632.9L58.3 632.2L58.6 629.1L58.9 633.9L59.2 632.9L59.5 629.2L59.8 632.4L60.1 632.7L60.4 637.6L60.7 631.6L61.0 636.2L61.3 632.2L61.6 631.2L61.9 631.2L62.2 630.8L62.5 616.9L62.8 633.8L63.1 621.7L63.4 629.4L63.7 633.6L64.0 619.2L64.3 628.7L64.6 624.3L64.9 634.5L65.2 631.5L65.5 625.9L65.8 624.6L66.1 629.5L66.4 636.8L66.7 634.3L67.0 633.6L67.3 638.3L67.6 636.3L67.9 645.3L68.2 636.2L68.5 641.0L68.8 638.1L69.1 644.0L69.4 640.8L69.7 657.1L70.0 651.9L70.3 642.8L70.6 659.9L70.9 655.9L71.2 661.7L71.5 657.6L71.8 660.7L72.1 652.3L72.4 662.9L72.7 655.6L73.0 651.9L73.3 652.8L73.6 645.6L73.9 652.7L74.2 644.3L74.5 657.0L74.8 636.9L75.1 644.8L75.4 657.4L75.7 637.9L76.0 662.9L76.3 643.4L76.6 653.8L76.9 648.9L77.2 655.1L77.5 657.0L77.8 647.9L78.1 655.3L78.4 651.9L78.7 645.4L79.0 651.9L79.3 646.4L79.6 651.3L79.9 641.8L80.2 649.5L80.5 646.2L80.8 651.8L81.1 649.2L81.4 657.7L81.7 648.8L82.0 649.0L82.3 644.2L82.6 644.6L82.9 644.5L83.2 645.7L83.5 646.8L83.8 646.6L84.1 646.0L84.4 644.1L84.7 637.2L85.0 645.8L85.3 642.7L85.6 636.6L85.9 645.1L86.2 636.9L86.5 647.8L86.8 634.9L87.1 627.0L87.4 632.8L87.7 635.0L88.0 627.0L88.3 627.6L88.6 628.6L88.9 624.5L89.2 618.2L89.5 626.1L89.8 636.6L90.1 618.2L90.4 625.0L90.7 617.9L91.0 620.0L91.3 616.9L91.6 632.1L91.9 625.8L92.2 626.4L92.5 633.1L92.8 632.2L93.1 633.5L93.4 632.6L93.7 635.3L94.0 632.2L94.3 633.1L94.6 628.4L94.9 628.4L95.2 632.6L95.5 634.6L95.8 624.4L96.1 629.5L96.4 631.7L96.7 629.3L97.0 630.9L97.3 630.3L97.6 621.9L97.9 621.9L98.2 630.2L98.5 631.0L98.8 634.1L99.1 628.1L99.4 636.5L99.7 636.5L100.0 633.3L100.3 644.1L100.6 631.5L100.9 639.6L101.2 637.8L101.5 642.9L101.8 643.8L102.1 639.5L102.4 633.3L102.7 640.2L103.0 637.2L103.3 629.6L103.6 640.6L103.9 644.2L104.2 639.2L104.5 635.0L104.8 641.2L105.1 647.5L105.4 641.6L105.7 645.3L106.0 637.1L106.3 641.5L106.6 641.9L106.9 643.1L107.2 644.9L107.5 647.3L107.8 650.7L108.1 651.9L108.4 653.6L108.7 649.8L109.0 655.6L109.3 656.1L109.6 655.9L109.9 651.2L110.2 651.4L110.5 647.7L110.8 649.7L111.1 636.3L111.4 642.6L111.7 646.3L112.0 639.8L112.3 637.6L112.6 638.8L112.9 639.1L113.2 646.8L113.5 643.6L113.8 649.5L114.1 651.3L114.4 649.6L114.7 652.4L115.0 646.1L115.3 649.6L115.6 658.6L115.9 659.1L116.2 655.8L116.5 656.2L116.8 655.0L117.1 655.6L117.4 656.7L117.7 655.5L118.0 660.7L118.3 655.7L118.6 654.5L118.9 658.3L119.2 655.4L119.5 655.0L119.8 650.5L120.1 651.4L120.4 656.5L120.7 650.0L121.0 646.5L121.3 653.3L121.6 657.8L121.9 660.8L122.2 658.4L122.5 657.0L122.8 659.5L123.1 653.3L123.4 656.8L123.7 653.2L124.0 656.3L124.3 656.8L124.6 652.1L124.9 662.0L125.2 649.8L125.5 648.2L125.8 650.3L126.1 642.4L126.4 636.4L126.7 631.9L127.0 630.4L127.3 640.1L127.6 616.8L127.9 622.6L128.2 617.9L128.5 616.2L128.8 627.7L129.1 621.9L129.4 615.1L129.7 620.8L130.0 610.8L130.3 616.4L130.6 611.5L130.9 622.7L131.2 612.1L131.5 617.0L131.8 611.4L132.1 617.9L132.4 617.2L132.7 613.4L133.0 619.7L133.3 613.3L133.6 612.9L133.9 613.4L134.2 624.0L134.5 613.9L134.8 619.7L135.1 626.6L135.4 625.1L135.7 627.8L136.0 635.8L136.3 636.6L136.6 627.3L136.9 633.1L137.2 633.0L137.5 634.5L137.8 641.3L138.1 624.9L138.4 635.9L138.7 639.5L139.0 633.6L139.3 637.3L139.6 637.3L139.9 637.0L140.2 636.3L140.5 628.0L140.8 639.6L141.1 639.7L141.4 637.2L141.7 634.5L142.0 642.7L142.3 649.6L142.6 645.8L142.9 641.6L143.2 648.4L143.5 650.8L143.8 651.0L144.1 648.5L144.4 644.3L144.7 642.1L145.0 646.0L145.3 648.6L145.6 645.9L145.9 643.0L146.2 645.6L146.5 643.4L146.8 647.2L147.1 646.3L147.4 647.3L147.7 643.9L148.0 651.1L148.3 654.5L148.6 648.0L148.9 653.3L149.2 648.6L149.5 645.7L149.8 647.7L150.1 651.9L150.4 645.9L150.7 645.7L151.0 638.7L151.3 635.1L151.6 649.3L151.9 640.7L152.2 641.9L152.5 642.4L152.8 641.9L153.1 646.3L153.4 639.2L153.7 645.4L154.0 643.7L154.3 650.1L154.6 652.7L154.9 644.9L155.2 651.7L155.5 649.2L155.8 656.4L156.1 652.3L156.4 644.6L156.7 650.4L157.0 648.0L157.3 644.8L157.6 654.3L157.9 652.8L158.2 649.0L158.5 648.4L158.8 647.1L159.1 648.9L159.4 652.6L159.7 645.3L160.0 651.4L160.3 648.4L160.6 641.0L160.9 630.8L161.2 646.9L161.5 643.3L161.8 640.3L162.1 646.0L162.4 635.8L162.7 631.9L163.0 634.3L163.3 635.0L163.6 636.6L163.9 632.4L164.2 629.2L164.5 633.5L164.8 630.3L165.1 631.0L165.4 629.1L165.7 624.2L166.0 619.9L166.3 623.5L166.6 623.7L166.9 621.5L167.2 613.5L167.5 621.1L167.8 610.6L168.1 622.2L168.4 617.4L168.7 619.4L169.0 615.8L169.3 606.0L169.6 615.5L169.9 609.4L170.2 613.1L170.5 603.5L170.8 607.1L171.1 606.9L171.4 609.7L171.7 601.2L172.0 610.7L172.3 604.6L172.6 614.9L172.9 603.1L173.2 603.4L173.5 605.4L173.8 607.1L174.1 611.6L174.4 613.5L174.7 612.1L175.0 613.4L175.3 610.3L175.6 621.2L175.9 615.4L176.2 624.2L176.5 617.3L176.8 628.7L177.1 621.9L177.4 632.9L177.7 622.8L178.0 628.6L178.3 632.6L178.6 629.6L178.9 630.4L179.2 633.0L179.5 641.5L179.8 633.6L180.1 630.9L180.4 636.7L180.7 648.8L181.0 634.5L181.3 631.9L181.6 637.3L181.9 631.7L182.2 643.0L182.5 638.3L182.8 643.4L183.1 640.6L183.4 648.4L183.7 646.0L184.0 642.4L184.3 653.9L184.6 648.4L184.9 644.3L185.2 648.2L185.5 655.7L185.8 659.1L186.1 663.6L186.4 662.7L186.7 661.3L187.0 657.6L187.3 658.3L187.6 642.2L187.9 644.0L188.2 645.5L188.5 642.1L188.8 623.5L189.1 634.8L189.4 635.8L189.7 630.0L190.0 634.0L190.3 629.2L190.6 628.6L190.9 620.8L191.2 619.5L191.5 626.5L191.8 623.9L192.1 629.3L192.4 628.6L192.7 629.2L193.0 629.5L193.3 627.4L193.6 629.9L193.9 635.4L194.2 632.6L194.5 628.8L194.8 624.0L195.1 628.8L195.4 632.7L195.7 627.5L196.0 629.0L196.3 631.8L196.6 633.5L196.9 633.2L197.2 627.0L197.5 624.1L197.8 620.4L198.1 639.0L198.4 630.3L198.7 637.8L199.0 614.2L199.3 625.4L199.6 621.5L199.9 626.2L200.2 628.0L200.5 628.5L200.8 626.7L201.1 622.0L201.4 627.0L201.7 624.6L202.0 624.3L202.3 625.3L202.6 637.5L202.9 627.8L203.2 629.9L203.5 626.7L203.8 625.8L204.1 633.6L204.4 626.0L204.7 630.2L205.0 630.3L205.3 637.7L205.6 627.0L205.9 627.4L206.2 619.4L206.5 621.9L206.8 637.1L207.1 639.8L207.4 632.8L207.7 637.6L208.0 641.3L208.3 619.7L208.6 629.1L208.9 633.4L209.2 638.6L209.5 645.0L209.8 648.7L210.1 639.5L210.4 637.3L210.7 638.2L211.0 642.8L211.3 652.0L211.6 645.0L211.9 649.7L212.2 644.8L212.5 641.6L212.8 646.4L213.1 647.3L213.4 648.3L213.7 646.0L214.0 653.1L214.3 650.6L214.6 647.0L214.9 648.5L215.2 649.3L215.5 653.6L215.8 653.6L216.1 653.2L216.4 650.2L216.7 656.1L217.0 660.6L217.3 657.7L217.6 655.6L217.9 652.2L218.2 655.2L218.5 652.7L218.8 652.2L219.1 660.9L219.4 647.9L219.7 652.2L220.0 650.0L220.3 653.5L220.6 649.4L220.9 647.8L221.2 649.0L221.5 648.8L221.8 649.7L222.1 644.4L222.4 642.4L222.7 649.3L223.0 647.6L223.3 650.9L223.6 649.5L223.9 645.7L224.2 645.1L224.5 650.6L224.8 652.5L225.1 637.4L225.4 646.6L225.7 647.1L226.0 643.0L226.3 645.5L226.6 644.9L226.9 645.3L227.2 644.9L227.5 643.5L227.8 638.6L228.1 646.9L228.4 643.9L228.7 649.0L229.0 643.7L229.3 633.4L229.6 638.4L229.9 641.2L230.2 642.7L230.5 633.5L230.8 635.0L231.1 634.1L231.4 636.4L231.7 636.9L232.0 636.6L232.3 632.7L232.6 640.2L232.9 629.3L233.2 631.9L233.5 629.3L233.8 628.1L234.1 646.6L234.4 627.9L234.7 626.3L235.0 628.3L235.3 631.2L235.6 627.1L235.9 629.5L236.2 628.2L236.5 627.8L236.8 627.5L237.1 639.7L237.4 626.6L237.7 629.6L238.0 629.0L238.3 625.4L238.6 623.7L238.9 619.0L239.2 624.7L239.5 620.7L239.8 624.6L240.1 619.9L240.4 616.0L240.7 614.4L241.0 613.5L241.3 621.2L241.6 612.5L241.9 613.2L242.2 617.3L242.5 607.4L242.8 612.1L243.1 609.6L243.4 609.3L243.7 616.0L244.0 608.4L244.3 607.9L244.6 606.2L244.9 607.0L245.2 611.4L245.5 610.0L245.8 615.4L246.1 611.1L246.4 613.8L246.7 610.1L247.0 599.2L247.3 608.8L247.6 612.9L247.9 612.0L248.2 592.9L248.5 618.6L248.8 613.5L249.1 616.8L249.4 614.0L249.7 626.0L250.0 616.2L250.3 616.0L250.6 613.7L250.9 619.5L251.2 618.8L251.5 617.8L251.8 612.0L252.1 622.2L252.4 628.7L252.7 627.9L253.0 628.2L253.3 640.7L253.6 631.8L253.9 635.4L254.2 649.8L254.5 633.1L254.8 637.7L255.1 639.7L255.4 635.8L255.7 638.0L256.0 642.3L256.3 644.7L256.6 643.8L256.9 646.7L257.2 642.3L257.5 637.8L257.8 631.6L258.1 637.7L258.4 635.4L258.7 628.6L259.0 634.5L259.3 629.9L259.6 628.1L259.9 625.9L260.2 627.4L260.5 619.1L260.8 623.8L261.1 616.3L261.4 618.5L261.7 623.4L262.0 624.0L262.3 625.7L262.6 630.8L262.9 625.9L263.2 623.6L263.5 624.9L263.8 627.7L264.1 635.9L264.4 629.3L264.7 632.7L265.0 633.1L265.3 620.5L265.6 635.2L265.9 630.3L266.2 624.5L266.5 627.4L266.8 617.2L267.1 621.6L267.4 618.7L267.7 621.4L268.0 614.8L268.3 615.6L268.6 617.6L268.9 623.4L269.2 621.6L269.5 616.2L269.8 619.2L270.1 625.1L270.4 616.8L270.7 619.2L271.0 625.9L271.3 620.8L271.6 622.1L271.9 624.1L272.2 624.3L272.5 624.2L272.8 629.7L273.1 630.8L273.4 629.3L273.7 628.8L274.0 630.8L274.3 625.7L274.6 634.7L274.9 632.4L275.2 632.6L275.5 633.6L275.8 637.7L276.1 637.1L276.4 636.3L276.7 638.1L277.0 633.9L277.3 639.3L277.6 639.9L277.9 629.9L278.2 634.1L278.5 633.5L278.8 634.0L279.1 635.5L279.4 626.6L279.7 626.2L280.0 623.4L280.3 618.7L280.6 630.1L280.9 618.9L281.2 617.2L281.5 619.2L281.8 617.8L282.1 616.9L282.4 614.5L282.7 618.8L283.0 616.4L283.3 615.1L283.6 611.3L283.9 615.7L284.2 614.9L284.5 609.0L284.8 617.6L285.1 612.2L285.4 611.3L285.7 614.1L286.0 617.3L286.3 615.5L286.6 621.5L286.9 620.6L287.2 620.5L287.5 613.5L287.8 616.6L288.1 617.9L288.4 613.0L288.7 622.4L289.0 620.3L289.3 622.1L289.6 629.6L289.9 630.1L290.2 627.0L290.5 627.3L290.8 634.0L291.1 627.2L291.4 633.9L291.7 627.0L292.0 649.6L292.3 626.0L292.6 614.6L292.9 619.1L293.2 625.9L293.5 618.4L293.8 618.1L294.1 620.1L294.4 615.0L294.7 617.6L295.0 613.6L295.3 610.3L295.6 621.4L295.9 609.2L296.2 611.6L296.5 612.2L296.8 608.0L297.1 609.5L297.4 617.6L297.7 619.3L298.0 616.7L298.3 618.4L298.6 614.0L298.9 624.8L299.2 613.6L299.5 617.1L299.8 623.5L300.1 626.3L300.4 629.5L300.7 625.6L301.0 640.5L301.3 627.9L301.6 637.5L301.9 638.7L302.2 641.5L302.5 626.6L302.8 630.6L303.1 636.2L303.4 628.7L303.7 625.0L304.0 625.9L304.3 624.2L304.6 620.6L304.9 617.3L305.2 626.0L305.5 624.1L305.8 622.5L306.1 617.8L306.4 618.2L306.7 612.6L307.0 612.9L307.3 623.1L307.6 623.0L307.9 615.7L308.2 615.1L308.5 612.1L308.8 611.7L309.1 611.8L309.4 619.3L309.7 618.4L310.0 614.2L310.3 620.7L310.6 623.0L310.9 624.1L311.2 623.7L311.5 629.1L311.8 625.5L312.1 628.4L312.4 631.7L312.7 630.1L313.0 631.8L313.3 628.3L313.6 623.0L313.9 627.5L314.2 635.1L314.5 631.2L314.8 629.9L315.1 625.6L315.4 625.6L315.7 628.8L316.0 628.7L316.3 627.1L316.6 623.6L316.9 628.2L317.2 630.4L317.5 631.1L317.8 634.3L318.1 632.6L318.4 636.5L318.7 629.6L319.0 644.0L319.3 644.7L319.6 628.8L319.9 627.9L320.2 619.0L320.5 617.3L320.8 635.7L321.1 628.6L321.4 628.4L321.7 629.5L322.0 629.9L322.3 618.2L322.6 622.4L322.9 617.7L323.2 617.0L323.5 619.8L323.8 615.3L324.1 613.9L324.4 613.6L324.7 616.8L325.0 606.2L325.3 613.0L325.6 611.0L325.9 611.8L326.2 611.5L326.5 617.2L326.8 613.8L327.1 612.4L327.4 612.1L327.7 623.4L328.0 611.0L328.3 611.1L328.6 608.4L328.9 612.4L329.2 610.4L329.5 609.8L329.8 599.9L330.1 606.1L330.4 609.5L330.7 609.0L331.0 608.2L331.3 610.9L331.6 618.4L331.9 619.4L332.2 613.2L332.5 598.1L332.8 617.7L333.1 622.4L333.4 626.0L333.7 634.1L334.0 640.1L334.3 634.8L334.6 639.7L334.9 647.5L335.2 642.0L335.5 632.9L335.8 625.4L336.1 625.0L336.4 624.9L336.7 632.7L337.0 627.3L337.3 633.5L337.6 621.4L337.9 625.6L338.2 618.3L338.5 620.2L338.8 610.7L339.1 620.3L339.4 609.7L339.7 617.1L340.0 602.2L340.3 607.2L340.6 613.6L340.9 601.9L341.2 608.0L341.5 608.0L341.8 605.3L342.1 611.1L342.4 598.6L342.7 601.4L343.0 608.6L343.3 609.8L343.6 599.0L343.9 601.2L344.2 595.9L344.5 602.5L344.8 591.8L345.1 591.3L345.4 603.3L345.7 603.1L346.0 599.6L346.3 611.1L346.6 609.3L346.9 607.2L347.2 605.9L347.5 603.9L347.8 608.8L348.1 605.5L348.4 609.5L348.7 603.2L349.0 611.4L349.3 620.4L349.6 616.4L349.9 618.4L350.2 620.7L350.5 612.5L350.8 617.1L351.1 617.8L351.4 616.7L351.7 628.5L352.0 619.5L352.3 619.1L352.6 630.9L352.9 634.8L353.2 641.0L353.5 635.5L353.8 638.1L354.1 631.4L354.4 629.4L354.7 629.0L355.0 625.9L355.3 619.5L355.6 628.5L355.9 626.3L356.2 631.1L356.5 623.7L356.8 629.1L357.1 618.3L357.4 629.1L357.7 627.8L358.0 625.2L358.3 616.7L358.6 625.7L358.9 633.4L359.2 626.6L359.5 627.8L359.8 628.3L360.1 630.3L360.4 632.2L360.7 636.2L361.0 637.0L361.3 631.8L361.6 634.8L361.9 629.8L362.2 639.6L362.5 643.6L362.8 629.4L363.1 635.7L363.4 639.8L363.7 651.4L364.0 637.5L364.3 643.7L364.6 645.7L364.9 641.6L365.2 646.5L365.5 641.4L365.8 639.4L366.1 645.6L366.4 632.3L366.7 639.1L367.0 639.7L367.3 641.4L367.6 642.3L367.9 641.6L368.2 642.1L368.5 642.2L368.8 646.6L369.1 645.5L369.4 645.4L369.7 635.7L370.0 644.6L370.3 643.8L370.6 646.6L370.9 652.5L371.2 644.2L371.5 643.6L371.8 642.4L372.1 645.2L372.4 646.4L372.7 640.3L373.0 640.9L373.3 641.2L373.6 641.3L373.9 637.8L374.2 640.9L374.5 634.2L374.8 631.1L375.1 631.1L375.4 631.6L375.7 627.9L376.0 626.0L376.3 630.6L376.6 625.8L376.9 627.8L377.2 631.8L377.5 628.9L377.8 630.8L378.1 628.3L378.4 635.9L378.7 635.1L379.0 631.3L379.3 634.0L379.6 626.4L379.9 639.7L380.2 627.7L380.5 610.1L380.8 630.0L381.1 624.8L381.4 623.8L381.7 627.7L382.0 624.7L382.3 625.5L382.6 621.4L382.9 622.4L383.2 621.7L383.5 622.9L383.8 619.1L384.1 611.5L384.4 620.8L384.7 613.8L385.0 615.8L385.3 621.2L385.6 616.8L385.9 616.8L386.2 621.1L386.5 612.8L386.8 616.5L387.1 618.3L387.4 606.6L387.7 622.0L388.0 617.6L388.3 614.4L388.6 617.1L388.9 625.9L389.2 617.6L389.5 619.1L389.8 608.7L390.1 617.1L390.4 609.8L390.7 606.8L391.0 611.6L391.3 603.4L391.6 607.8L391.9 611.8L392.2 607.4L392.5 607.5L392.8 603.1L393.1 600.6L393.4 601.3L393.7 603.0L394.0 594.4L394.3 603.3L394.6 595.4L394.9 604.4L395.2 604.1L395.5 604.3L395.8 601.3L396.1 604.8L396.4 606.3L396.7 605.4L397.0 598.4L397.3 588.2L397.6 604.6L397.9 608.6L398.2 605.3L398.5 601.6L398.8 600.9L399.1 604.7L399.4 602.1L399.7 599.3L400.0 614.6L400.3 604.5L400.6 605.8L400.9 602.1L401.2 612.1L401.5 622.6L401.8 610.7L402.1 619.7L402.4 609.3L402.7 615.8L403.0 620.9L403.3 621.8L403.6 622.1L403.9 627.5L404.2 625.2L404.5 626.2L404.8 626.7L405.1 628.8L405.4 628.8L405.7 627.0L406.0 625.3L406.3 621.6L406.6 617.8L406.9 614.7L407.2 625.9L407.5 620.1L407.8 620.1L408.1 610.0L408.4 616.2L408.7 614.6L409.0 618.4L409.3 612.2L409.6 617.3L409.9 618.3L410.2 612.9L410.5 616.4L410.8 602.7L411.1 631.0L411.4 613.6L411.7 623.4L412.0 625.4L412.3 623.4L412.6 624.9L412.9 625.2L413.2 623.3L413.5 625.6L413.8 618.2L414.1 636.0L414.4 627.6L414.7 628.0L415.0 631.9L415.3 631.2L415.6 631.7L415.9 629.2L416.2 618.9L416.5 621.6L416.8 618.6L417.1 618.1L417.4 621.8L417.7 623.7L418.0 621.2L418.3 625.6L418.6 622.1L418.9 614.2L419.2 614.1L419.5 610.6L419.8 608.9L420.1 615.2L420.4 610.2L420.7 616.2L421.0 594.9L421.3 602.0L421.6 613.5L421.9 612.1L422.2 616.0L422.5 619.2L422.8 621.2L423.1 621.7L423.4 622.3L423.7 625.3L424.0 631.0L424.3 636.8L424.6 632.1L424.9 632.6L425.2 625.0L425.5 635.5L425.8 634.8L426.1 639.1L426.4 634.9L426.7 642.8L427.0 633.9L427.3 637.1L427.6 641.6L427.9 641.3L428.2 646.1L428.5 643.8L428.8 643.1L429.1 648.2L429.4 645.8L429.7 648.2L430.0 651.2L430.3 649.4L430.6 645.3L430.9 654.2L431.2 651.6L431.5 644.6L431.8 656.0L432.1 650.8L432.4 647.3L432.7 645.6L433.0 646.3L433.3 639.2L433.6 638.0L433.9 647.9L434.2 638.5L434.5 641.4L434.8 640.5L435.1 637.1L435.4 639.2L435.7 632.9L436.0 631.3L436.3 638.9L436.6 635.3L436.9 635.4L437.2 630.6L437.5 635.7L437.8 636.0L438.1 625.9L438.4 620.0L438.7 617.4L439.0 620.2L439.3 622.2L439.6 623.8L439.9 613.4L440.2 610.7L440.5 614.5L440.8 616.4L441.1 603.6L441.4 615.2L441.7 620.9L442.0 608.3L442.3 612.6L442.6 607.8L442.9 608.0L443.2 615.9L443.5 612.0L443.8 615.3L444.1 611.7L444.4 619.2L444.7 616.4L445.0 614.4L445.3 610.7L445.6 609.4L445.9 615.2L446.2 610.7L446.5 611.6L446.8 598.9L447.1 604.7L447.4 603.4L447.7 610.8L448.0 600.2L448.3 602.3L448.6 597.7L448.9 604.6L449.2 600.4L449.5 600.5L449.8 599.0L450.1 598.4L450.4 599.2L450.7 598.4L451.0 611.8L451.3 600.0L451.6 608.9L451.9 604.7L452.2 601.4L452.5 608.5L452.8 593.9L453.1 609.9L453.4 606.1L453.7 611.9L454.0 593.1L454.3 611.3L454.6 609.9L454.9 603.9L455.2 605.4L455.5 608.4L455.8 611.0L456.1 610.2L456.4 612.5L456.7 607.9L457.0 615.1L457.3 613.2L457.6 621.5L457.9 616.8L458.2 624.0L458.5 623.8L458.8 623.4L459.1 619.5L459.4 619.8L459.7 618.8L460.0 608.9L460.3 613.4L460.6 617.0L460.9 614.4L461.2 604.5L461.5 618.5L461.8 606.2L462.1 611.8L462.4 603.0L462.7 611.3L463.0 609.7L463.3 601.7L463.6 607.7L463.9 612.8L464.2 605.4L464.5 590.9L464.8 606.5L465.1 604.5L465.4 607.0L465.7 611.3L466.0 607.9L466.3 607.0L466.6 609.2L466.9 616.1L467.2 609.0L467.5 612.7L467.8 611.2L468.1 618.0L468.4 621.9L468.7 622.3L469.0 618.2L469.3 623.2L469.6 611.2L469.9 614.8L470.2 608.8L470.5 613.1L470.8 614.9L471.1 617.7L471.4 613.0L471.7 615.2L472.0 608.2L472.3 613.8L472.6 616.2L472.9 617.1L473.2 598.6L473.5 615.6L473.8 615.0L474.1 619.8L474.4 614.2L474.7 616.5L475.0 622.9L475.3 617.3L475.6 623.4L475.9 617.9L476.2 624.9L476.5 623.5L476.8 626.6L477.1 632.1L477.4 629.6L477.7 633.1L478.0 630.9L478.3 635.0L478.6 632.0L478.9 623.9L479.2 630.1L479.5 629.4L479.8 620.6L480.1 611.1L480.4 619.7L480.7 627.3L481.0 624.2L481.3 623.7L481.6 630.2L481.9 625.2L482.2 631.2L482.5 624.2L482.8 627.8L483.1 631.2L483.4 635.5L483.7 629.8L484.0 633.8L484.3 634.9L484.6 639.0L484.9 641.9L485.2 636.9L485.5 648.3L485.8 632.9L486.1 631.3L486.4 635.2L486.7 635.3L487.0 636.0L487.3 640.6L487.6 636.8L487.9 635.1L488.2 629.9L488.5 629.4L488.8 632.6L489.1 631.5L489.4 626.6L489.7 633.2L490.0 630.2L490.3 618.1L490.6 618.8L490.9 625.0L491.2 618.0L491.5 621.8L491.8 624.7L492.1 622.3L492.4 617.4L492.7 612.1L493.0 614.4L493.3 617.3L493.6 609.7L493.9 610.6L494.2 612.9L494.5 616.1L494.8 617.2L495.1 613.7L495.4 619.9L495.7 621.6L496.0 620.1L496.3 619.0L496.6 618.3L496.9 618.3L497.2 615.5L497.5 617.7L497.8 614.8L498.1 611.8L498.4 618.2L498.7 617.9L499.0 610.0L499.3 612.8L499.6 616.5L499.9 614.1L500.2 613.6L500.5 605.4L500.8 607.1L501.1 609.0L501.4 605.3L501.7 608.9L502.0 604.2L502.3 602.3L502.6 602.0L502.9 607.7L503.2 602.8L503.5 600.5L503.8 610.6L504.1 606.1L504.4 611.2L504.7 609.3L505.0 614.8L505.3 620.2L505.6 625.8L505.9 624.5L506.2 621.1L506.5 622.8L506.8 620.6L507.1 626.4L507.4 625.7L507.7 618.4L508.0 624.6L508.3 629.7L508.6 630.1L508.9 626.6L509.2 630.7L509.5 633.3L509.8 633.0L510.1 636.4L510.4 635.1L510.7 629.6L511.0 634.7L511.3 631.7L511.6 623.7L511.9 629.3L512.2 637.3L512.5 630.5L512.8 628.8L513.1 625.5L513.4 628.7L513.7 626.6L514.0 621.7L514.3 631.9L514.6 623.5L514.9 620.2L515.2 605.1L515.5 626.2L515.8 620.2L516.1 600.4L516.4 619.6L516.7 615.1L517.0 620.2L517.3 634.9L517.6 607.0L517.9 630.3L518.2 629.3L518.5 630.4L518.8 635.9L519.1 623.8L519.4 624.1L519.7 622.5L520.0 622.8L520.3 617.9L520.6 618.6L520.9 617.7L521.2 621.6L521.5 617.5L521.8 617.9L522.1 615.8L522.4 612.7L522.7 607.6L523.0 620.3L523.3 619.0L523.6 610.2L523.9 614.2L524.2 613.5L524.5 603.8L524.8 614.2L525.1 612.3L525.4 613.6L525.7 611.5L526.0 607.0L526.3 611.3L526.6 603.0L526.9 610.4L527.2 609.9L527.5 603.8L527.8 607.5L528.1 601.0L528.4 600.4L528.7 606.8L529.0 598.3L529.3 599.8L529.6 598.6L529.9 598.7L530.2 595.4L530.5 592.1L530.8 600.9L531.1 596.6L531.4 603.2L531.7 600.3L532.0 598.1L532.3 601.4L532.6 604.9L532.9 602.1L533.2 610.5L533.5 608.1L533.8 613.8L534.1 613.8L534.4 607.5L534.7 615.2L535.0 614.1L535.3 617.9L535.6 617.1L535.9 633.1L536.2 620.6L536.5 619.0L536.8 608.2L537.1 618.8L537.4 609.4L537.7 628.8L538.0 622.0L538.3 629.9L538.6 624.0L538.9 624.5L539.2 630.0L539.5 631.5L539.8 626.7L540.1 628.6L540.4 630.0L540.7 625.3L541.0 620.0L541.3 622.9L541.6 614.6L541.9 612.0L542.2 616.8L542.5 619.7L542.8 615.0L543.1 611.0L543.4 610.8L543.7 603.4L544.0 608.3L544.3 616.8L544.6 617.3L544.9 625.4L545.2 618.2L545.5 619.7L545.8 619.3L546.1 623.0L546.4 631.8L546.7 628.3L547.0 608.1L547.3 621.6L547.6 621.9L547.9 620.8L548.2 621.1L548.5 618.6L548.8 617.7L549.1 614.4L549.4 613.0L549.7 616.1L550.0 611.3L550.3 606.9L550.6 611.2L550.9 607.8L551.2 614.2L551.5 604.9L551.8 616.3L552.1 610.1L552.4 606.1L552.7 620.3L553.0 606.8L553.3 610.4L553.6 604.1L553.9 608.6L554.2 612.0L554.5 604.2L554.8 602.7L555.1 608.7L555.4 609.3L555.7 612.1L556.0 607.0L556.3 603.3L556.6 597.3L556.9 594.4L557.2 592.9L557.5 584.4L557.8 590.1L558.1 590.4L558.4 593.8L558.7 594.1L559.0 591.9L559.3 595.7L559.6 596.5L559.9 604.1L560.2 608.4L560.5 589.8L560.8 600.4L561.1 602.3L561.4 603.9L561.7 601.3L562.0 607.2L562.3 608.9L562.6 608.2L562.9 607.1L563.2 611.4L563.5 616.7L563.8 620.1L564.1 621.8L564.4 619.0L564.7 620.3L565.0 623.8L565.3 621.2L565.6 625.7L565.9 626.1L566.2 628.3L566.5 631.1L566.8 626.5L567.1 631.3L567.4 631.3L567.7 630.9L568.0 632.4L568.3 631.2L568.6 610.1L568.9 625.2L569.2 631.0L569.5 638.4L569.8 635.1L570.1 640.4L570.4 631.4L570.7 631.9L571.0 631.8L571.3 634.4L571.6 625.5L571.9 632.6L572.2 633.2L572.5 630.5L572.8 629.4L573.1 629.4L573.4 636.7L573.7 634.5L574.0 628.4L574.3 638.1L574.6 627.8L574.9 628.1L575.2 628.4L575.5 628.6L575.8 626.8L576.1 625.0L576.4 622.1L576.7 621.0L577.0 628.6L577.3 624.3L577.6 625.4L577.9 628.9L578.2 629.0L578.5 624.3L578.8 621.3L579.1 614.7L579.4 624.3L579.7 619.7L580.0 622.4L580.3 620.3L580.6 622.4L580.9 625.0L581.2 621.8L581.5 616.9L581.8 615.1L582.1 615.6L582.4 620.2L582.7 615.8L583.0 615.6L583.3 616.6L583.6 621.3L583.9 614.5L584.2 625.7L584.5 615.9L584.8 620.4L585.1 615.8L585.4 615.2L585.7 619.9L586.0 618.5L586.3 623.6L586.6 618.2L586.9 613.6L587.2 621.0L587.5 619.6L587.8 613.0L588.1 615.2L588.4 616.5L588.7 614.8L589.0 610.2L589.3 609.7L589.6 607.3L589.9 612.7L590.2 605.9L590.5 613.5L590.8 600.5L591.1 604.8L591.4 607.5L591.7 603.5L592.0 590.8L592.3 598.8L592.6 600.9L592.9 601.5L593.2 594.7L593.5 597.6L593.8 597.0L594.1 598.3L594.4 607.7L594.7 597.7L595.0 600.1L595.3 605.8L595.6 603.2L595.9 605.8L596.2 602.5L596.5 608.9L596.8 620.9L597.1 620.8L597.4 619.3L597.7 620.5L598.0 623.6L598.3 618.7L598.6 614.8L598.9 607.2L599.2 612.9L599.5 610.4L599.8 615.0L600.1 612.7L600.4 617.1L600.7 610.0L601.0 615.5L601.3 620.7L601.6 618.5L601.9 619.7L602.2 612.9L602.5 617.0L602.8 621.0L603.1 625.0L603.4 624.7L603.7 625.4L604.0 627.0L604.3 632.3L604.6 629.5L604.9 634.7L605.2 630.8L605.5 620.9L605.8 628.7L606.1 627.3L606.4 642.2L606.7 628.3L607.0 630.7L607.3 626.9L607.6 621.0L607.9 622.6L608.2 629.6L608.5 631.8L608.8 622.2L609.1 617.1L609.4 616.0L609.7 627.0L610.0 621.1L610.3 617.5L610.6 617.9L610.9 619.8L611.2 616.3L611.5 625.7L611.8 615.2L612.1 618.2L612.4 627.0L612.7 627.3L613.0 620.8L613.3 620.7L613.6 620.7L613.9 627.8L614.2 628.2L614.5 618.2L614.8 628.4L615.1 621.9L615.4 619.0L615.7 615.2L616.0 620.0L616.3 617.1L616.6 618.0L616.9 617.4L617.2 613.8L617.5 619.2L617.8 613.4L618.1 623.4L618.4 622.8L618.7 622.1L619.0 614.3L619.3 624.3L619.6 637.0L619.9 618.1L620.2 614.9L620.5 618.0L620.8 613.2L621.1 621.3L621.4 624.2L621.7 617.3L622.0 619.8L622.3 614.7L622.6 618.0L622.9 619.4L623.2 616.6L623.5 621.0L623.8 619.3L624.1 614.7L624.4 616.7L624.7 612.7L625.0 616.0L625.3 613.9L625.6 615.9L625.9 610.2L626.2 618.2L626.5 613.9L626.8 617.2L627.1 612.4L627.4 618.4L627.7 619.3L628.0 616.1L628.3 616.9L628.6 615.2L628.9 610.2L629.2 598.5L629.5 613.0L629.8 612.6L630.1 614.4L630.4 612.7L630.7 615.0L631.0 616.7L631.3 600.5L631.6 628.0L631.9 610.1L632.2 612.7L632.5 617.8L632.8 610.4L633.1 606.8L633.4 615.7L633.7 600.9L634.0 603.0L634.3 607.3L634.6 606.7L634.9 611.0L635.2 613.9L635.5 608.6L635.8 610.6L636.1 611.4L636.4 610.5L636.7 603.8L637.0 601.0L637.3 605.6L637.6 619.7L637.9 601.0L638.2 603.3L638.5 608.3L638.8 606.6L639.1 609.8L639.4 607.7L639.7 613.6L640.0 600.5L640.3 612.0L640.6 616.2L640.9 604.9L641.2 613.6L641.5 612.6L641.8 623.4L642.1 616.5L642.4 622.2L642.7 620.3L643.0 610.7L643.3 619.2L643.6 625.1L643.9 615.4L644.2 622.3L644.5 623.3L644.8 624.0L645.1 618.1L645.4 626.7L645.7 628.6L646.0 627.6L646.3 621.0L646.6 622.5L646.9 623.9L647.2 626.3L647.5 624.8L647.8 629.2L648.1 634.2L648.4 620.8L648.7 630.1L649.0 639.5L649.3 637.2L649.6 638.8L649.9 639.0L650.2 634.2L650.5 637.8L650.8 638.7L651.1 634.0L651.4 636.6L651.7 643.5L652.0 643.9L652.3 639.4L652.6 634.7L652.9 640.3L653.2 647.0L653.5 640.6L653.8 640.0L654.1 643.4L654.4 643.4L654.7 641.6L655.0 643.8L655.3 638.5L655.6 642.1L655.9 640.1L656.2 641.0L656.5 643.0L656.8 640.3L657.1 639.5L657.4 641.4L657.7 646.8L658.0 641.1L658.3 646.0L658.6 646.7L658.9 645.4L659.2 647.4L659.5 648.0L659.8 649.8L660.1 644.5L660.4 643.6L660.7 646.1L661.0 648.7L661.3 652.4L661.6 647.2L661.9 648.9L662.2 651.9L662.5 652.8L662.8 657.8L663.1 659.8L663.4 662.4L663.7 661.2L664.0 659.1L664.3 659.5L664.6 663.3L664.9 659.7L665.2 659.6L665.5 664.7L665.8 661.9L666.1 664.6L666.4 658.7L666.7 648.5L667.0 644.8L667.3 646.5L667.6 642.3L667.9 638.8" fill="none" stroke="#000" stroke-width="0.8" stroke-opacity="0.6"/><path d="M34.9 648.9L35.3 651.1L35.7 654.3L36.1 656.6L36.5 659.3L36.9 660.0L37.3 660.5L37.7 664.7L38.1 667.0L38.5 667.9L38.9 665.9L39.3 670.4L39.7 673.5L40.1 674.7L40.5 676.2L40.9 674.6L41.3 675.4L41.7 673.1L42.1 676.8L42.5 673.5L42.9 676.8L43.3 674.9L43.7 670.5L44.1 674.0L44.5 673.6L44.9 670.9L45.3 670.6L45.7 672.5L46.1 670.1L46.5 666.8L46.9 663.3L47.3 661.3L47.7 661.4L48.1 659.7L48.5 657.9L48.9 654.3L49.3 655.3L49.7 648.8L50.1 648.9L50.5 647.1L50.9 643.7L51.3 641.7L51.7 639.1L52.1 636.0L52.5 630.9L52.9 626.7L53.3 624.0L53.7 622.7L54.1 622.3L54.5 622.0L54.9 620.8L55.3 623.6L55.7 625.1L56.1 625.6L56.5 626.8L56.9 628.2L57.3 628.0L57.7 632.0L58.1 630.9L58.5 631.3L58.9 632.0L59.3 630.5L59.7 633.8L60.1 632.5L60.5 629.9L60.9 629.0L61.3 631.3L61.7 627.8L62.1 631.9L62.5 630.6L62.9 631.2L63.3 627.5L63.7 626.7L64.1 627.6L64.5 626.9L64.9 626.7L65.3 630.5L65.7 630.9L66.1 631.9L66.5 634.2L66.9 633.8L67.3 638.3L67.7 638.4L68.1 639.7L68.5 641.6L68.9 643.4L69.3 644.6L69.7 648.2L70.1 651.6L70.5 654.1L70.9 661.5L71.3 659.8L71.7 658.7L72.1 657.0L72.5 657.9L72.9 654.0L73.3 653.8L73.7 651.0L74.1 648.7L74.5 648.7L74.9 647.2L75.3 645.2L75.7 647.8L76.1 652.2L76.5 652.8L76.9 654.2L77.3 651.7L77.7 653.6L78.1 651.0L78.5 652.0L78.9 653.8L79.3 648.3L79.7 648.7L80.1 646.1L80.5 646.0L80.9 646.4L81.3 647.3L81.7 646.3L82.1 645.0L82.5 644.0L82.9 650.4L83.3 646.4L83.7 649.0L84.1 647.4L84.5 648.0L84.9 644.7L85.3 641.8L85.7 638.5L86.1 637.0L86.5 635.2L86.9 636.6L87.3 632.3L87.7 627.2L88.1 628.8L88.5 624.2L88.9 622.5L89.3 621.0L89.7 619.6L90.1 619.0L90.5 620.3L90.9 619.3L91.3 621.3L91.7 624.1L92.1 626.7L92.5 634.3L92.9 635.4L93.3 632.8L93.7 632.9L94.1 635.8L94.5 632.9L94.9 633.6L95.3 631.8L95.7 629.5L96.1 627.4L96.5 625.3L96.9 629.4L97.3 629.4L97.7 629.4L98.1 627.3L98.5 630.0L98.9 631.4L99.3 636.1L99.7 634.9L100.1 632.9L100.5 637.3L100.9 636.8L101.3 634.7L101.7 637.5L102.1 638.0L102.5 638.2L102.9 638.7L103.3 637.5L103.7 639.1L104.1 640.7L104.5 639.4L104.9 640.0L105.3 641.0L105.7 645.5L106.1 643.3L106.5 641.3L106.9 647.3L107.3 649.4L107.7 652.3L108.1 650.6L108.5 654.0L108.9 657.8L109.3 659.0L109.7 655.4L110.1 651.4L110.5 648.6L110.9 648.1L111.3 646.2L111.7 641.3L112.1 638.6L112.5 638.3L112.9 636.2L113.3 642.4L113.7 643.4L114.1 641.3L114.5 646.1L114.9 647.1L115.3 652.5L115.7 649.9L116.1 652.9L116.5 657.8L116.9 657.8L117.3 653.9L117.7 654.4L118.1 653.0L118.5 654.7L118.9 652.7L119.3 652.0L119.7 652.9L120.1 654.4L120.5 655.6L120.9 655.8L121.3 658.0L121.7 657.5L122.1 657.9L122.5 657.3L122.9 660.8L123.3 656.4L123.7 657.6L124.1 657.5L124.5 655.2L124.9 653.5L125.3 653.2L125.7 648.0L126.1 642.1L126.5 638.5L126.9 630.4L127.3 624.9L127.7 626.1L128.1 623.5L128.5 621.6L128.9 621.3L129.3 619.1L129.7 618.6L130.1 618.6L130.5 615.9L130.9 615.8L131.3 618.9L131.7 614.3L132.1 617.2L132.5 618.5L132.9 619.4L133.3 616.3L133.7 622.4L134.1 623.8L134.5 624.9L134.9 625.2L135.3 628.2L135.7 630.6L136.1 633.2L136.5 635.6L136.9 638.3L137.3 635.7L137.7 635.6L138.1 638.1L138.5 638.7L138.9 637.2L139.3 639.2L139.7 640.3L140.1 639.5L140.5 641.6L140.9 641.4L141.3 643.4L141.7 645.4L142.1 646.3L142.5 643.2L142.9 648.2L143.3 642.9L143.7 646.0L144.1 645.5L144.5 647.5L144.9 647.4L145.3 642.8L145.7 645.0L146.1 646.2L146.5 645.2L146.9 643.9L147.3 647.3L147.7 645.4L148.1 645.6L148.5 648.7L148.9 648.0L149.3 648.5L149.7 650.5L150.1 646.3L150.5 644.2L150.9 640.7L151.3 641.7L151.7 637.8L152.1 639.0L152.5 643.2L152.9 642.9L153.3 644.5L153.7 647.5L154.1 651.9L154.5 650.2L154.9 647.6L155.3 652.3L155.7 651.6L156.1 650.8L156.5 649.6L156.9 650.8L157.3 649.0L157.7 648.0L158.1 648.1L158.5 651.3L158.9 650.5L159.3 645.3L159.7 648.0L160.1 648.6L160.5 645.5L160.9 646.7L161.3 645.2L161.7 642.6L162.1 638.6L162.5 641.8L162.9 637.3L163.3 636.8L163.7 632.7L164.1 631.5L164.5 629.6L164.9 629.2L165.3 627.1L165.7 625.5L166.1 623.5L166.5 620.4L166.9 620.9L167.3 617.3L167.7 619.4L168.1 618.0L168.5 617.6L168.9 614.1L169.3 609.6L169.7 609.0L170.1 607.9L170.5 607.8L170.9 607.8L171.3 604.3L171.7 604.5L172.1 606.3L172.5 603.9L172.9 606.6L173.3 609.5L173.7 608.8L174.1 610.1L174.5 612.3L174.9 613.1L175.3 614.4L175.7 619.4L176.1 618.1L176.5 621.6L176.9 622.1L177.3 625.9L177.7 627.7L178.1 626.9L178.5 631.1L178.9 631.4L179.3 632.0L179.7 631.7L180.1 631.0L180.5 634.5L180.9 635.3L181.3 634.2L181.7 634.6L182.1 637.0L182.5 639.4L182.9 639.2L183.3 643.0L183.7 646.3L184.1 645.8L184.5 649.4L184.9 653.1L185.3 657.2L185.7 657.5L186.1 661.5L186.5 658.8L186.9 658.3L187.3 655.6L187.7 653.3L188.1 648.3L188.5 642.6L188.9 640.2L189.3 637.5L189.7 633.5L190.1 628.8L190.5 624.3L190.9 622.9L191.3 626.2L191.7 626.4L192.1 625.9L192.5 626.9L192.9 628.9L193.3 632.1L193.7 631.6L194.1 629.1L194.5 634.4L194.9 630.0L195.3 629.5L195.7 629.4L196.1 626.1L196.5 624.6L196.9 624.5L197.3 623.1L197.7 621.7L198.1 625.6L198.5 625.4L198.9 624.7L199.3 628.9L199.7 625.0L200.1 627.0L200.5 625.6L200.9 622.7L201.3 627.3L201.7 625.4L202.1 626.5L202.5 627.8L202.9 630.3L203.3 624.9L203.7 629.0L204.1 626.7L204.5 628.8L204.9 629.3L205.3 632.1L205.7 627.3L206.1 626.7L206.5 630.3L206.9 629.5L207.3 632.2L207.7 632.1L208.1 629.7L208.5 634.5L208.9 635.3L209.3 635.0L209.7 633.2L210.1 637.6L210.5 640.9L210.9 640.5L211.3 644.8L211.7 644.3L212.1 646.5L212.5 650.1L212.9 646.9L213.3 648.8L213.7 647.2L214.1 650.9L214.5 649.3L214.9 652.6L215.3 651.7L215.7 653.1L216.1 653.1L216.5 655.8L216.9 652.2L217.3 653.8L217.7 660.0L218.1 653.3L218.5 652.8L218.9 652.1L219.3 652.8L219.7 651.0L220.1 648.5L220.5 647.8L220.9 650.1L221.3 646.8L221.7 646.4L222.1 646.7L222.5 649.2L222.9 650.2L223.3 646.8L223.7 645.8L224.1 649.0L224.5 643.2L224.9 645.5L225.3 646.2L225.7 641.4L226.1 647.6L226.5 643.8L226.9 646.5L227.3 640.9L227.7 643.9L228.1 643.9L228.5 642.8L228.9 638.5L229.3 638.2L229.7 642.1L230.1 639.6L230.5 637.7L230.9 636.7L231.3 634.9L231.7 634.9L232.1 635.2L232.5 635.6L232.9 633.6L233.3 634.4L233.7 630.4L234.1 630.9L234.5 632.2L234.9 628.7L235.3 632.2L235.7 631.3L236.1 629.5L236.5 629.8L236.9 625.2L237.3 627.1L237.7 625.0L238.1 623.4L238.5 621.4L238.9 622.0L239.3 622.7L239.7 620.1L240.1 619.1L240.5 619.4L240.9 618.7L241.3 612.0L241.7 615.9L242.1 612.0L242.5 611.9L242.9 611.0L243.3 609.2L243.7 610.3L244.1 610.2L244.5 609.6L244.9 610.0L245.3 613.2L245.7 608.1L246.1 609.6L246.5 613.1L246.9 612.1L247.3 612.9L247.7 611.6L248.1 613.1L248.5 613.9L248.9 612.8L249.3 614.7L249.7 612.3L250.1 610.9L250.5 612.6L250.9 617.8L251.3 620.4L251.7 619.5L252.1 624.4L252.5 628.0L252.9 629.3L253.3 632.5L253.7 633.2L254.1 635.2L254.5 638.5L254.9 639.8L255.3 638.4L255.7 640.5L256.1 644.7L256.5 644.0L256.9 643.6L257.3 641.7L257.7 640.6L258.1 638.0L258.5 633.5L258.9 632.8L259.3 628.5L259.7 628.3L260.1 625.0L260.5 625.8L260.9 621.9L261.3 621.3L261.7 622.0L262.1 624.9L262.5 621.7L262.9 624.7L263.3 623.7L263.7 628.6L264.1 625.7L264.5 625.3L264.9 628.7L265.3 631.0L265.7 628.7L266.1 628.5L266.5 625.1L266.9 623.8L267.3 622.3L267.7 621.8L268.1 617.5L268.5 618.9L268.9 618.9L269.3 620.9L269.7 620.5L270.1 618.5L270.5 623.3L270.9 622.8L271.3 622.8L271.7 624.5L272.1 625.4L272.5 629.9L272.9 630.8L273.3 629.3L273.7 626.2L274.1 631.6L274.5 635.0L274.9 632.6L275.3 633.3L275.7 639.0L276.1 637.8L276.5 638.6L276.9 639.6L277.3 637.9L277.7 634.5L278.1 634.3L278.5 630.3L278.9 629.1L279.3 630.2L279.7 625.9L280.1 624.8L280.5 624.2L280.9 622.2L281.3 618.6L281.7 619.3L282.1 617.0L282.5 616.3L282.9 618.3L283.3 617.1L283.7 614.9L284.1 616.1L284.5 617.2L284.9 613.7L285.3 615.4L285.7 613.0L286.1 616.5L286.5 614.3L286.9 615.9L287.3 617.3L287.7 616.9L288.1 617.7L288.5 619.8L288.9 622.2L289.3 625.5L289.7 627.2L290.1 628.7L290.5 630.3L290.9 628.4L291.3 627.7L291.7 623.6L292.1 625.8L292.5 623.1L292.9 624.7L293.3 622.7L293.7 619.8L294.1 620.9L294.5 615.3L294.9 614.2L295.3 619.5L295.7 616.1L296.1 615.4L296.5 613.1L296.9 614.2L297.3 615.8L297.7 611.9L298.1 615.8L298.5 616.9L298.9 617.2L299.3 619.2L299.7 621.9L300.1 626.7L300.5 630.1L300.9 632.1L301.3 635.3L301.7 639.4L302.1 637.5L302.5 636.9L302.9 632.1L303.3 631.3L303.7 629.6L304.1 623.9L304.5 623.0L304.9 621.1L305.3 618.2L305.7 616.6L306.1 620.5L306.5 616.6L306.9 616.2L307.3 614.3L307.7 613.6L308.1 618.0L308.5 616.7L308.9 618.6L309.3 620.2L309.7 618.8L310.1 619.8L310.5 623.7L310.9 622.2L311.3 624.0L311.7 624.8L312.1 623.2L312.5 627.3L312.9 626.7L313.3 625.1L313.7 628.2L314.1 624.5L314.5 626.3L314.9 623.9L315.3 623.4L315.7 625.8L316.1 624.0L316.5 625.3L316.9 629.1L317.3 629.2L317.7 632.2L318.1 631.2L318.5 633.7L318.9 634.0L319.3 632.9L319.7 633.4L320.1 628.7L320.5 625.0L320.9 628.4L321.3 626.6L321.7 625.4L322.1 622.3L322.5 623.0L322.9 619.5L323.3 619.2L323.7 617.1L324.1 616.0L324.5 615.0L324.9 613.2L325.3 614.5L325.7 615.0L326.1 612.1L326.5 610.4L326.9 615.6L327.3 611.6L327.7 611.3L328.1 612.1L328.5 610.7L328.9 611.6L329.3 608.2L329.7 607.5L330.1 605.8L330.5 603.6L330.9 608.2L331.3 611.1L331.7 613.1L332.1 620.4L332.5 621.1L332.9 624.3L333.3 626.9L333.7 631.8L334.1 632.0L334.5 634.9L334.9 637.6L335.3 633.0L335.7 629.5L336.1 631.2L336.5 628.2L336.9 628.9L337.3 623.7L337.7 621.0L338.1 618.6L338.5 618.8L338.9 614.4L339.3 613.7L339.7 613.2L340.1 615.8L340.5 614.9L340.9 611.2L341.3 611.2L341.7 609.8L342.1 608.5L342.5 605.5L342.9 605.6L343.3 602.9L343.7 600.4L344.1 600.1L344.5 599.7L344.9 598.4L345.3 601.6L345.7 606.1L346.1 603.0L346.5 600.7L346.9 605.8L347.3 605.7L347.7 608.8L348.1 609.5L348.5 610.4L348.9 610.2L349.3 612.5L349.7 614.3L350.1 614.0L350.5 616.9L350.9 619.5L351.3 619.3L351.7 622.0L352.1 624.7L352.5 627.2L352.9 626.0L353.3 629.8L353.7 630.6L354.1 632.1L354.5 630.2L354.9 627.6L355.3 626.2L355.7 625.4L356.1 624.3L356.5 626.2L356.9 625.8L357.3 627.6L357.7 627.8L358.1 625.7L358.5 626.9L358.9 625.7L359.3 628.3L359.7 629.3L360.1 630.7L360.5 632.2L360.9 636.4L361.3 634.3L361.7 637.1L362.1 637.5L362.5 637.8L362.9 640.4L363.3 640.9L363.7 641.2L364.1 640.3L364.5 639.4L364.9 639.2L365.3 640.3L365.7 641.9L366.1 644.5L366.5 643.7L366.9 642.5L367.3 642.5L367.7 643.7L368.1 647.4L368.5 643.5L368.9 641.2L369.3 645.7L369.7 643.1L370.1 646.9L370.5 644.8L370.9 643.9L371.3 643.1L371.7 646.3L372.1 643.3L372.5 643.3L372.9 641.6L373.3 638.7L373.7 641.5L374.1 638.4L374.5 636.6L374.9 635.9L375.3 631.6L375.7 631.4L376.1 629.1L376.5 627.5L376.9 628.1L377.3 631.3L377.7 629.2L378.1 634.0L378.5 633.0L378.9 632.4L379.3 634.1L379.7 631.0L380.1 632.0L380.5 627.8L380.9 630.7L381.3 627.1L381.7 626.0L382.1 624.4L382.5 624.5L382.9 620.7L383.3 623.5L383.7 619.1L384.1 621.8L384.5 617.2L384.9 617.8L385.3 618.4L385.7 619.3L386.1 616.6L386.5 619.2L386.9 621.1L387.3 620.5L387.7 621.2L388.1 616.5L388.5 616.6L388.9 616.6L389.3 614.9L389.7 615.6L390.1 614.1L390.5 608.7L390.9 609.9L391.3 608.6L391.7 606.5L392.1 602.4L392.5 605.5L392.9 603.3L393.3 601.6L393.7 601.6L394.1 598.4L394.5 603.0L394.9 599.9L395.3 599.9L395.7 602.2L396.1 600.1L396.5 604.5L396.9 606.3L397.3 607.9L397.7 611.2L398.1 609.0L398.5 608.4L398.9 607.2L399.3 606.2L399.7 609.7L400.1 609.9L400.5 610.2L400.9 605.3L401.3 609.5L401.7 614.8L402.1 616.7L402.5 616.7L402.9 614.8L403.3 620.5L403.7 622.5L404.1 624.0L404.5 626.7L404.9 625.8L405.3 627.8L405.7 625.5L406.1 626.7L406.5 620.1L406.9 621.2L407.3 619.8L407.7 616.9L408.1 615.7L408.5 616.7L408.9 613.9L409.3 614.1L409.7 617.0L410.1 616.3L410.5 616.7L410.9 614.0L411.3 618.9L411.7 618.3L412.1 621.1L412.5 623.5L412.9 623.0L413.3 626.9L413.7 626.5L414.1 630.4L414.5 628.9L414.9 626.6L415.3 629.9L415.7 628.5L416.1 625.0L416.5 625.3L416.9 623.8L417.3 622.4L417.7 620.5L418.1 619.1L418.5 617.3L418.9 616.0L419.3 614.7L419.7 614.5L420.1 609.7L420.5 610.9L420.9 606.8L421.3 613.2L421.7 612.4L422.1 615.6L422.5 615.9L422.9 621.1L423.3 622.9L423.7 627.4L424.1 628.7L424.5 630.0L424.9 634.2L425.3 629.8L425.7 636.3L426.1 634.5L426.5 637.2L426.9 637.5L427.3 639.5L427.7 641.2L428.1 639.8L428.5 643.9L428.9 646.5L429.3 650.2L429.7 651.6L430.1 648.1L430.5 653.0L430.9 650.4L431.3 651.6L431.7 649.8L432.1 650.2L432.5 649.3L432.9 646.0L433.3 646.4L433.7 645.0L434.1 640.7L434.5 640.4L434.9 638.4L435.3 638.6L435.7 636.3L436.1 636.9L436.5 636.5L436.9 632.4L437.3 634.7L437.7 631.2L438.1 627.8L438.5 624.7L438.9 621.4L439.3 620.5L439.7 615.7L440.1 616.2L440.5 612.1L440.9 614.2L441.3 612.2L441.7 609.5L442.1 612.5L442.5 610.5L442.9 612.5L443.3 612.3L443.7 616.0L444.1 615.8L444.5 618.8L444.9 614.8L445.3 611.9L445.7 616.3L446.1 612.0L446.5 611.4L446.9 608.8L447.3 609.6L447.7 605.4L448.1 607.2L448.5 604.3L448.9 604.3L449.3 598.9L449.7 603.6L450.1 600.1L450.5 601.8L450.9 602.2L451.3 605.0L451.7 602.1L452.1 602.6L452.5 605.3L452.9 603.8L453.3 602.3L453.7 605.1L454.1 605.7L454.5 603.9L454.9 607.6L455.3 607.6L455.7 609.5L456.1 606.3L456.5 613.9L456.9 611.9L457.3 610.7L457.7 614.2L458.1 618.6L458.5 620.6L458.9 620.7L459.3 622.3L459.7 621.5L460.1 616.8L460.5 616.1L460.9 611.8L461.3 613.7L461.7 608.3L462.1 605.5L462.5 605.6L462.9 606.3L463.3 605.6L463.7 606.4L464.1 605.8L464.5 608.0L464.9 604.2L465.3 607.8L465.7 608.0L466.1 610.8L466.5 609.9L466.9 608.9L467.3 613.9L467.7 615.2L468.1 616.6L468.5 618.0L468.9 618.1L469.3 617.8L469.7 618.3L470.1 616.3L470.5 615.3L470.9 614.2L471.3 613.2L471.7 613.8L472.1 612.1L472.5 612.2L472.9 613.9L473.3 613.6L473.7 614.3L474.1 619.0L474.5 614.3L474.9 616.6L475.3 615.1L475.7 619.5L476.1 621.7L476.5 624.2L476.9 626.3L477.3 631.0L477.7 634.0L478.1 631.3L478.5 628.9L478.9 630.7L479.3 627.1L479.7 625.8L480.1 622.8L480.5 625.4L480.9 624.6L481.3 623.4L481.7 626.5L482.1 626.4L482.5 628.6L482.9 627.6L483.3 632.2L483.7 633.8L484.1 630.8L484.5 633.7L484.9 631.9L485.3 633.3L485.7 633.8L486.1 636.8L486.5 635.7L486.9 637.4L487.3 636.9L487.7 638.4L488.1 635.0L488.5 632.1L488.9 634.6L489.3 632.0L489.7 629.8L490.1 628.9L490.5 626.9L490.9 624.4L491.3 623.7L491.7 618.0L492.1 618.0L492.5 618.9L492.9 618.3L493.3 616.0L493.7 616.3L494.1 614.9L494.5 614.8L494.9 618.9L495.3 616.8L495.7 619.8L496.1 618.6L496.5 619.0L496.9 616.0L497.3 615.2L497.7 617.6L498.1 616.0L498.5 614.5L498.9 615.2L499.3 611.9L499.7 613.1L500.1 614.2L500.5 613.3L500.9 610.1L501.3 608.4L501.7 607.9L502.1 604.5L502.5 603.9L502.9 603.4L503.3 606.4L503.7 605.9L504.1 607.1L504.5 610.1L504.9 616.1L505.3 616.4L505.7 616.1L506.1 620.6L506.5 622.5L506.9 623.0L507.3 623.6L507.7 629.5L508.1 625.4L508.5 629.9L508.9 629.6L509.3 629.9L509.7 634.0L510.1 627.9L510.5 631.1L510.9 636.3L511.3 630.5L511.7 629.1L512.1 631.2L512.5 627.6L512.9 630.2L513.3 628.1L513.7 623.8L514.1 624.0L514.5 621.1L514.9 622.5L515.3 618.2L515.7 616.9L516.1 614.5L516.5 613.7L516.9 618.2L517.3 621.7L517.7 621.8L518.1 626.8L518.5 626.8L518.9 629.1L519.3 624.8L519.7 623.2L520.1 621.7L520.5 616.6L520.9 615.7L521.3 613.9L521.7 616.1L522.1 615.0L522.5 615.0L522.9 611.5L523.3 612.7L523.7 613.1L524.1 613.0L524.5 612.2L524.9 613.3L525.3 611.1L525.7 608.9L526.1 609.2L526.5 609.3L526.9 607.4L527.3 607.0L527.7 609.3L528.1 605.5L528.5 602.3L528.9 604.1L529.3 602.6L529.7 602.6L530.1 600.4L530.5 599.8L530.9 601.8L531.3 601.1L531.7 602.9L532.1 601.6L532.5 604.5L532.9 604.8L533.3 608.8L533.7 610.1L534.1 611.3L534.5 613.7L534.9 613.4L535.3 616.2L535.7 620.9L536.1 617.2L536.5 618.5L536.9 621.0L537.3 625.2L537.7 623.2L538.1 627.4L538.5 630.1L538.9 626.4L539.3 632.4L539.7 629.0L540.1 624.6L540.5 624.8L540.9 624.4L541.3 621.0L541.7 618.7L542.1 622.8L542.5 612.6L542.9 615.8L543.3 614.2L543.7 614.8L544.1 615.9L544.5 615.1L544.9 619.9L545.3 618.8L545.7 621.4L546.1 624.5L546.5 628.1L546.9 626.2L547.3 626.2L547.7 625.1L548.1 621.4L548.5 617.9L548.9 619.0L549.3 612.5L549.7 614.3L550.1 612.8L550.5 609.9L550.9 612.1L551.3 613.4L551.7 608.4L552.1 609.9L552.5 609.4L552.9 606.2L553.3 606.6L553.7 607.6L554.1 605.5L554.5 607.5L554.9 608.3L555.3 611.2L555.7 605.5L556.1 604.2L556.5 603.3L556.9 597.9L557.3 593.8L557.7 588.4L558.1 590.4L558.5 591.0L558.9 594.4L559.3 599.7L559.7 597.6L560.1 597.8L560.5 604.6L560.9 605.0L561.3 606.4L561.7 607.7L562.1 608.6L562.5 611.3L562.9 613.2L563.3 613.0L563.7 615.3L564.1 616.2L564.5 617.2L564.9 619.0L565.3 623.6L565.7 622.4L566.1 622.3L566.5 626.0L566.9 628.2L567.3 627.7L567.7 633.5L568.1 631.2L568.5 634.2L568.9 636.2L569.3 636.1L569.7 637.7L570.1 636.3L570.5 636.6L570.9 636.4L571.3 634.2L571.7 630.0L572.1 632.2L572.5 633.3L572.9 631.8L573.3 631.7L573.7 630.1L574.1 629.6L574.5 626.1L574.9 626.7L575.3 626.9L575.7 624.4L576.1 623.0L576.5 627.6L576.9 625.7L577.3 620.0L577.7 624.6L578.1 621.7L578.5 624.6L578.9 620.8L579.3 619.5L579.7 623.2L580.1 620.1L580.5 618.2L580.9 618.0L581.3 617.4L581.7 621.9L582.1 618.4L582.5 616.8L582.9 618.5L583.3 620.4L583.7 618.8L584.1 617.8L584.5 615.9L584.9 618.8L585.3 621.3L585.7 620.7L586.1 616.6L586.5 618.0L586.9 615.1L587.3 617.0L587.7 614.4L588.1 615.4L588.5 613.5L588.9 611.9L589.3 611.5L589.7 609.3L590.1 604.1L590.5 601.1L590.9 605.7L591.3 599.9L591.7 599.0L592.1 597.5L592.5 598.3L592.9 598.4L593.3 599.1L593.7 601.3L594.1 601.8L594.5 600.7L594.9 602.9L595.3 600.7L595.7 604.9L596.1 607.8L596.5 612.7L596.9 616.5L597.3 615.5L597.7 621.4L598.1 621.3L598.5 617.2L598.9 618.6L599.3 616.3L599.7 614.1L600.1 613.8L600.5 609.6L600.9 614.7L601.3 616.3L601.7 616.3L602.1 619.6L602.5 620.1L602.9 623.7L603.3 625.5L603.7 624.9L604.1 625.0L604.5 630.0L604.9 628.4L605.3 632.0L605.7 628.4L606.1 628.7L606.5 629.0L606.9 626.6L607.3 626.1L607.7 624.3L608.1 623.8L608.5 620.6L608.9 625.7L609.3 617.5L609.7 620.7L610.1 620.3L610.5 621.9L610.9 618.9L611.3 621.9L611.7 622.0L612.1 620.4L612.5 623.2L612.9 622.1L613.3 623.6L613.7 624.1L614.1 623.1L614.5 624.1L614.9 623.1L615.3 617.9L615.7 616.5L616.1 619.4L616.5 617.1L616.9 618.2L617.3 618.2L617.7 618.1L618.1 617.5L618.5 620.3L618.9 617.3L619.3 619.3L619.7 619.7L620.1 621.7L620.5 618.6L620.9 620.9L621.3 619.5L621.7 619.8L622.1 618.2L622.5 617.7L622.9 614.8L623.3 615.6L623.7 614.2L624.1 614.7L624.5 616.5L624.9 615.9L625.3 613.7L625.7 615.9L626.1 615.9L626.5 616.8L626.9 613.6L627.3 611.9L627.7 614.0L628.1 614.7L628.5 616.3L628.9 613.3L629.3 615.2L629.7 613.0L630.1 617.4L630.5 612.2L630.9 611.6L631.3 611.9L631.7 610.2L632.1 613.1L632.5 610.5L632.9 612.5L633.3 609.2L633.7 607.9L634.1 606.3L634.5 611.2L634.9 608.5L635.3 608.1L635.7 609.1L636.1 607.5L636.5 605.9L636.9 606.2L637.3 608.5L637.7 603.6L638.1 602.4L638.5 604.2L638.9 604.3L639.3 604.1L639.7 605.1L640.1 610.1L640.5 609.0L640.9 612.0L641.3 614.6L641.7 615.8L642.1 614.3L642.5 617.6L642.9 617.6L643.3 621.3L643.7 619.4L644.1 620.6L644.5 618.7L644.9 623.7L645.3 621.7L645.7 620.8L646.1 623.4L646.5 627.4L646.9 624.2L647.3 625.7L647.7 628.5L648.1 631.3L648.5 634.2L648.9 630.7L649.3 637.4L649.7 640.5L650.1 639.0L650.5 640.0L650.9 640.7L651.3 641.1L651.7 639.6L652.1 638.4L652.5 640.4L652.9 640.1L653.3 639.9L653.7 639.4L654.1 642.5L654.5 639.8L654.9 637.3L655.3 641.0L655.7 641.2L656.1 641.6L656.5 639.5L656.9 640.7L657.3 644.6L657.7 643.0L658.1 642.2L658.5 644.6L658.9 644.7L659.3 645.2L659.7 644.4L660.1 649.2L660.5 648.4L660.9 648.2L661.3 649.5L661.7 651.0L662.1 652.9L662.5 651.9L662.9 656.0L663.3 658.4L663.7 656.7L664.1 657.6L664.5 659.8L664.9 660.6L665.3 661.4L665.7 660.0L666.1 659.3L666.5 653.7L666.9 649.0L667.3 642.4L667.7 642.0" fill="none" stroke="#000" stroke-width="2.6"/><path d="M34.9 648.6C35.3 650.8 36.3 657.5 37.2 661.9C38.0 666.3 39.1 672.8 40.0 675.2C40.8 677.6 41.4 676.7 42.2 676.3C42.9 675.9 43.6 674.3 44.4 673.0C45.1 671.7 45.9 671.5 46.6 668.5C47.3 665.6 48.1 659.3 48.8 655.3C49.6 651.2 50.3 649.4 51.0 644.2C51.8 639.0 52.6 628.1 53.2 624.3C53.9 620.4 54.1 619.8 54.8 620.9C55.5 622.1 56.6 629.1 57.7 630.9C58.7 632.8 59.9 632.6 61.0 632.0C62.1 631.5 63.4 627.4 64.3 627.6C65.2 627.8 65.8 630.7 66.5 633.1C67.3 635.5 68.0 637.2 68.7 642.0C69.5 646.8 70.2 660.1 70.9 661.9C71.7 663.7 72.4 655.6 73.2 653.0C73.9 650.5 74.6 646.0 75.4 646.4C76.1 646.8 76.8 654.9 77.6 655.3C78.3 655.6 79.1 650.1 79.8 648.6C80.5 647.1 81.3 646.8 82.0 646.4C82.8 646.0 83.5 648.2 84.2 646.4C85.0 644.6 85.7 639.0 86.4 635.3C87.2 631.6 87.9 626.8 88.7 624.3C89.4 621.7 90.1 618.0 90.9 619.8C91.6 621.7 92.3 633.5 93.1 635.3C93.8 637.2 94.6 632.4 95.3 630.9C96.0 629.4 96.8 625.7 97.5 626.5C98.2 627.2 98.8 633.5 99.7 635.3C100.6 637.2 101.9 636.1 103.0 637.5C104.1 639.0 105.3 640.9 106.4 644.2C107.4 647.5 108.2 658.6 109.2 657.5C110.2 656.4 111.5 639.4 112.3 637.5C113.2 635.7 113.9 643.4 114.6 646.4C115.2 649.4 115.5 654.0 116.3 655.3C117.2 656.5 118.5 653.8 119.6 654.1C120.7 654.5 122.0 657.7 123.0 657.5C123.9 657.3 124.4 658.2 125.2 653.0C125.9 647.9 126.5 633.1 127.4 626.5C128.3 619.8 129.3 614.3 130.4 613.2C131.4 612.1 132.7 616.3 133.7 619.8C134.7 623.3 135.4 630.9 136.4 634.2C137.5 637.5 138.8 637.7 140.0 639.8C141.1 641.8 142.2 645.7 143.3 646.4C144.4 647.1 145.7 643.4 146.6 644.2C147.5 644.9 148.0 651.9 148.8 650.8C149.7 649.7 150.8 637.5 151.7 637.5C152.6 637.5 153.4 649.0 154.3 650.8C155.3 652.7 156.6 649.4 157.7 648.6C158.8 647.9 160.1 648.6 161.0 646.4C161.9 644.2 162.5 638.7 163.2 635.3C163.9 632.0 164.7 629.4 165.4 626.5C166.2 623.5 166.9 620.6 167.6 617.6C168.4 614.7 169.1 611.0 169.8 608.8C170.6 606.6 171.3 604.0 172.1 604.3C172.8 604.7 173.5 608.4 174.3 611.0C175.0 613.6 175.7 616.5 176.5 619.8C177.2 623.2 177.8 628.3 178.7 630.9C179.6 633.5 181.1 632.4 182.0 635.3C182.9 638.3 183.5 644.2 184.2 648.6C185.0 653.0 185.7 663.0 186.4 661.9C187.2 660.8 187.9 648.2 188.7 642.0C189.4 635.7 189.9 625.7 190.9 624.3C191.8 622.8 193.3 633.1 194.2 633.1C195.1 633.1 195.5 625.4 196.4 624.3C197.3 623.2 198.6 625.9 199.7 626.5C200.8 627.0 201.9 627.2 203.0 627.6C204.1 628.0 205.3 627.4 206.4 628.7C207.5 630.0 208.8 632.4 209.7 635.3C210.6 638.3 211.0 643.8 211.9 646.4C212.8 649.0 214.3 649.4 215.2 650.8C216.1 652.3 216.5 655.6 217.4 655.3C218.4 654.9 219.6 650.1 220.7 648.6C221.9 647.1 223.0 647.1 224.1 646.4C225.2 645.7 226.3 645.7 227.4 644.2C228.4 642.7 229.3 639.4 230.4 637.5C231.4 635.7 232.6 634.8 233.7 633.1C234.8 631.5 235.9 629.8 237.0 627.6C238.0 625.4 238.9 623.0 240.0 619.8C241.0 616.7 242.2 610.2 243.3 608.8C244.4 607.3 245.5 610.2 246.6 611.0C247.7 611.7 249.0 611.0 249.9 613.2C250.8 615.4 251.4 620.2 252.1 624.3C252.9 628.3 253.6 634.0 254.3 637.5C255.1 641.1 255.8 646.0 256.6 645.3C257.3 644.6 258.0 637.0 258.8 633.1C259.5 629.2 260.2 623.5 261.0 622.1C261.7 620.6 262.5 622.8 263.2 624.3C263.9 625.7 264.7 631.6 265.4 630.9C266.2 630.2 266.7 621.3 267.6 619.8C268.5 618.4 269.8 620.2 270.9 622.1C272.1 623.9 273.3 628.0 274.3 630.9C275.2 633.9 275.7 639.8 276.5 639.8C277.2 639.8 277.8 634.6 278.7 630.9C279.6 627.2 280.9 620.6 282.0 617.6C283.1 614.7 284.3 613.2 285.3 613.2C286.3 613.2 287.2 614.9 288.0 617.6C288.8 620.4 289.4 629.1 290.2 629.8C291.1 630.5 292.0 624.8 293.1 622.1C294.1 619.3 295.4 613.9 296.4 613.2C297.4 612.5 298.1 613.2 299.1 617.6C300.0 622.1 301.1 638.7 301.9 639.8C302.8 640.9 303.3 628.7 304.1 624.3C305.0 619.8 306.1 613.9 307.0 613.2C307.9 612.5 308.8 617.6 309.7 619.8C310.6 622.1 311.4 625.7 312.3 626.5C313.3 627.2 314.2 623.2 315.2 624.3C316.2 625.4 317.5 632.8 318.5 633.1C319.5 633.5 320.3 629.4 321.2 626.5C322.1 623.5 323.0 618.0 324.1 615.4C325.1 612.8 326.3 612.6 327.4 611.0C328.4 609.3 329.5 603.6 330.4 605.5C331.2 607.3 331.8 616.7 332.6 622.1C333.3 627.4 334.0 637.2 334.8 637.5C335.6 637.9 336.5 628.0 337.2 624.3C337.9 620.6 338.2 617.3 338.9 615.4C339.5 613.6 340.1 616.2 341.1 613.2C342.0 610.2 343.5 599.2 344.4 597.7C345.3 596.2 345.9 602.1 346.6 604.3C347.3 606.6 348.1 608.8 348.8 611.0C349.6 613.2 350.3 613.9 351.0 617.6C351.8 621.3 352.5 631.6 353.2 633.1C354.0 634.6 354.5 627.6 355.5 626.5C356.4 625.4 357.7 624.6 358.8 626.5C359.9 628.3 361.0 635.0 362.1 637.5C363.2 640.1 364.3 640.9 365.4 642.0C366.5 643.1 367.6 643.8 368.7 644.2C369.8 644.6 371.1 645.3 372.1 644.2C373.0 643.1 373.5 640.1 374.3 637.5C375.0 635.0 375.6 629.4 376.5 628.7C377.4 628.0 378.9 633.9 379.8 633.1C380.7 632.4 381.1 626.5 382.0 624.3C382.9 622.1 384.2 620.9 385.3 619.8C386.4 618.7 387.6 619.8 388.7 617.6C389.7 615.4 390.6 609.7 391.5 606.6C392.5 603.4 393.2 598.4 394.2 598.8C395.2 599.2 396.4 607.1 397.5 608.8C398.6 610.4 399.9 606.9 400.8 608.8C401.8 610.6 402.3 616.5 403.0 619.8C403.8 623.2 404.3 629.8 405.3 628.7C406.2 627.6 407.5 614.7 408.6 613.2C409.7 611.7 410.8 616.9 411.9 619.8C413.0 622.8 414.1 631.6 415.2 630.9C416.3 630.2 417.5 619.1 418.5 615.4C419.5 611.7 420.3 606.6 421.2 608.8C422.1 611.0 423.0 623.5 424.1 628.7C425.1 633.9 426.4 636.3 427.4 639.8C428.3 643.3 429.0 647.9 429.8 649.7C430.6 651.6 431.2 652.9 432.0 650.8C432.8 648.8 433.9 640.5 434.8 637.5C435.7 634.6 436.7 636.8 437.5 633.1C438.4 629.4 439.2 619.5 440.0 615.4C440.7 611.4 441.4 608.4 442.2 608.8C442.9 609.1 443.6 617.6 444.4 617.6C445.1 617.6 445.7 611.7 446.6 608.8C447.5 605.8 448.8 600.7 449.9 599.9C451.0 599.2 452.1 602.5 453.2 604.3C454.3 606.2 455.6 608.0 456.6 611.0C457.6 613.9 458.3 622.8 459.2 622.1C460.1 621.3 461.1 609.1 462.1 606.6C463.1 604.0 464.3 604.7 465.4 606.6C466.5 608.4 467.6 616.9 468.7 617.6C469.8 618.4 470.9 610.6 472.1 611.0C473.2 611.4 474.5 616.5 475.4 619.8C476.3 623.2 476.7 630.2 477.6 630.9C478.5 631.6 479.8 623.9 480.9 624.3C482.0 624.6 483.1 630.9 484.2 633.1C485.3 635.3 486.6 638.3 487.5 637.5C488.5 636.8 488.8 632.4 489.8 628.7C490.7 625.0 492.0 617.3 493.1 615.4C494.2 613.6 495.3 618.0 496.4 617.6C497.5 617.3 498.7 615.8 499.7 613.2C500.8 610.6 501.7 601.8 502.6 602.1C503.5 602.5 504.3 611.0 505.3 615.4C506.3 619.8 507.7 625.7 508.6 628.7C509.5 631.6 509.9 633.9 510.8 633.1C511.7 632.4 513.2 627.6 514.1 624.3C515.0 620.9 515.6 612.1 516.3 613.2C517.1 614.3 517.8 630.5 518.5 630.9C519.3 631.3 519.8 618.4 520.7 615.4C521.7 612.5 523.0 614.7 524.1 613.2C525.2 611.7 526.3 609.0 527.4 606.6C528.4 604.2 529.5 599.6 530.4 598.8C531.2 598.1 531.6 599.9 532.2 602.1C532.9 604.3 533.4 608.6 534.2 612.1C535.0 615.6 536.1 620.0 537.0 623.2C537.8 626.3 538.5 631.5 539.3 630.9C540.0 630.4 540.8 622.8 541.5 619.8C542.2 616.9 542.9 612.1 543.7 613.2C544.6 614.3 545.6 626.5 546.6 626.5C547.6 626.5 548.8 616.5 549.9 613.2C551.0 609.9 552.3 607.3 553.2 606.6C554.2 605.8 554.7 611.7 555.5 608.8C556.2 605.8 556.9 590.3 557.7 588.9C558.4 587.4 559.1 596.6 559.9 599.9C560.6 603.2 561.4 605.8 562.1 608.8C562.8 611.7 563.6 614.7 564.3 617.6C565.0 620.6 565.7 623.2 566.5 626.5C567.4 629.8 568.5 636.4 569.4 637.5C570.3 638.7 571.1 635.0 572.1 633.1C573.1 631.3 574.3 628.3 575.4 626.5C576.5 624.6 577.6 623.5 578.7 622.1C579.8 620.6 580.9 618.0 582.0 617.6C583.1 617.3 584.2 620.6 585.3 619.8C586.4 619.1 587.5 616.9 588.7 613.2C589.8 609.5 590.9 599.6 592.0 597.7C593.1 595.9 594.4 598.1 595.3 602.1C596.2 606.2 596.7 620.5 597.5 622.1C598.3 623.6 599.0 611.9 599.9 611.6C600.7 611.3 601.5 616.9 602.4 620.2C603.2 623.6 604.1 630.8 605.0 631.4C605.8 632.1 606.7 625.7 607.7 623.9C608.7 622.0 610.0 620.2 611.1 620.2C612.1 620.3 613.4 624.7 614.1 624.3C614.9 623.9 615.0 618.9 615.6 617.8C616.1 616.7 616.6 617.0 617.4 617.6C618.2 618.2 619.2 621.8 620.3 621.4C621.4 620.9 622.8 616.3 624.1 615.2C625.3 614.1 626.8 614.8 627.9 614.5C629.0 614.2 629.9 613.6 630.7 613.2C631.5 612.8 632.0 612.9 632.6 612.2C633.1 611.4 633.6 609.2 634.0 608.8C634.5 608.3 634.7 610.4 635.4 609.3C636.1 608.2 637.3 601.8 638.2 602.2C639.2 602.7 640.1 609.1 641.1 612.2C642.0 615.2 643.0 618.8 643.9 620.7C644.9 622.5 645.8 620.7 646.7 623.5C647.7 626.3 648.4 634.8 649.6 637.6C650.8 640.5 652.4 639.5 653.8 640.5C655.2 641.4 656.9 641.9 658.1 643.3C659.3 644.7 660.0 646.6 660.9 649.0C661.9 651.3 662.9 655.1 663.7 657.5C664.5 659.8 665.0 666.4 665.7 663.1C666.4 659.8 667.4 648.2 668.0 637.6C668.6 627.1 668.9 616.3 669.5 600.0C670.1 583.7 671.2 550.0 671.5 540.0" fill="none" stroke="#000" stroke-width="4.8" stroke-linejoin="round" stroke-linecap="round"/><rect x="671" y="531" width="4.3" height="226" fill="#000"/><rect x="677" y="547.6" width="3.8" height="210" fill="#000"/><rect x="680.8" y="564.7" width="3.4" height="193" fill="#000"/><path d="M675.9 532V757M680.6 532V565" stroke="#000" stroke-width="1" stroke-opacity="0.45"/><path d="M34.9 747.2L35.2 744.8L35.5 744.3L35.8 746.2L36.1 723.4L36.4 720.0L36.7 708.8L37.0 705.5L37.3 702.5L37.6 703.5L37.9 702.8L38.2 691.1L38.5 701.4L38.8 699.9L39.1 696.9L39.4 690.6L39.7 701.2L40.0 697.5L40.3 685.6L40.6 699.7L40.9 700.4L41.2 700.6L41.5 700.8L41.8 698.3L42.1 698.6L42.4 698.8L42.7 705.3L43.0 698.4L43.3 712.2L43.6 700.4L43.9 705.0L44.2 704.7L44.5 706.9L44.8 702.7L45.1 703.2L45.4 706.9L45.7 703.3L46.0 703.9L46.3 702.4L46.6 713.5L46.9 710.0L47.2 710.6L47.5 702.9L47.8 709.0L48.1 707.6L48.4 705.9L48.7 713.3L49.0 712.3L49.3 704.1L49.6 709.1L49.9 706.6L50.2 711.7L50.5 711.5L50.8 708.0L51.1 713.1L51.4 706.7L51.7 714.9L52.0 711.2L52.3 715.1L52.6 708.8L52.9 711.9L53.2 722.0L53.5 719.7L53.8 714.3L54.1 706.3L54.4 729.2L54.7 723.3L55.0 716.3L55.3 713.7L55.6 720.9L55.9 720.3L56.2 722.5L56.5 715.4L56.8 717.0L57.1 715.8L57.4 716.3L57.7 713.5L58.0 719.5L58.3 711.6L58.6 713.8L58.9 716.0L59.2 710.7L59.5 708.0L59.8 708.4L60.1 709.4L60.4 705.6L60.7 716.5L61.0 712.8L61.3 713.3L61.6 714.4L61.9 715.6L62.2 717.7L62.5 718.4L62.8 723.2L63.1 725.2L63.4 721.8L63.7 723.1L64.0 726.4L64.3 729.6L64.6 733.3L64.9 738.5L65.2 730.6L65.5 736.1L65.8 736.2L66.1 739.4L66.4 737.4L66.7 733.6L67.0 737.2L67.3 731.4L67.6 726.6L67.9 727.8L68.2 731.9L68.5 721.5L68.8 716.5L69.1 717.8L69.4 713.4L69.7 708.0L70.0 702.2L70.3 701.9L70.6 690.5L70.9 700.6L71.2 688.4L71.5 684.2L71.8 690.4L72.1 688.1L72.4 686.1L72.7 686.2L73.0 687.8L73.3 692.7L73.6 682.6L73.9 685.9L74.2 679.8L74.5 683.6L74.8 681.7L75.1 683.9L75.4 684.1L75.7 683.0L76.0 676.0L76.3 677.2L76.6 685.7L76.9 671.0L77.2 671.4L77.5 668.0L77.8 672.7L78.1 676.2L78.4 677.1L78.7 672.0L79.0 671.1L79.3 681.3L79.6 684.1L79.9 689.4L80.2 688.3L80.5 688.8L80.8 691.2L81.1 707.6L81.4 694.4L81.7 700.1L82.0 700.6L82.3 695.1L82.6 695.2L82.9 695.7L83.2 697.7L83.5 693.2L83.8 703.0L84.1 688.4L84.4 691.9L84.7 701.6L85.0 699.7L85.3 705.6L85.6 701.5L85.9 707.2L86.2 701.3L86.5 704.6L86.8 685.6L87.1 699.7L87.4 700.3L87.7 704.2L88.0 698.8L88.3 706.7L88.6 708.4L88.9 710.3L89.2 714.5L89.5 719.0L89.8 708.0L90.1 712.1L90.4 716.7L90.7 718.4L91.0 720.1L91.3 711.1L91.6 714.2L91.9 706.9L92.2 711.2L92.5 707.4L92.8 708.6L93.1 710.7L93.4 717.8L93.7 707.5L94.0 714.7L94.3 718.4L94.6 709.1L94.9 712.5L95.2 718.6L95.5 710.5L95.8 717.7L96.1 713.6L96.4 719.3L96.7 703.3L97.0 708.6L97.3 712.6L97.6 712.0L97.9 710.6L98.2 708.3L98.5 699.2L98.8 708.2L99.1 714.5L99.4 709.5L99.7 709.0L100.0 714.8L100.3 707.4L100.6 709.9L100.9 707.2L101.2 692.8L101.5 708.6L101.8 707.2L102.1 705.3L102.4 705.6L102.7 703.0L103.0 706.3L103.3 700.9L103.6 708.1L103.9 702.8L104.2 707.3L104.5 697.4L104.8 704.2L105.1 695.2L105.4 690.4L105.7 689.4L106.0 689.5L106.3 680.5L106.6 691.2L106.9 685.2L107.2 686.0L107.5 684.8L107.8 679.1L108.1 659.2L108.4 670.0L108.7 674.7L109.0 677.0L109.3 674.1L109.6 667.9L109.9 673.9L110.2 675.6L110.5 676.0L110.8 679.5L111.1 676.3L111.4 674.1L111.7 676.0L112.0 682.0L112.3 684.4L112.6 675.3L112.9 679.9L113.2 678.4L113.5 676.2L113.8 679.6L114.1 671.3L114.4 676.1L114.7 684.7L115.0 682.7L115.3 688.8L115.6 683.9L115.9 683.6L116.2 688.7L116.5 691.2L116.8 686.0L117.1 691.0L117.4 700.9L117.7 696.3L118.0 696.7L118.3 693.0L118.6 691.5L118.9 693.9L119.2 679.7L119.5 693.5L119.8 692.4L120.1 690.3L120.4 694.9L120.7 693.3L121.0 695.6L121.3 693.1L121.6 693.0L121.9 688.5L122.2 693.7L122.5 687.4L122.8 705.0L123.1 691.7L123.4 697.4L123.7 685.1L124.0 688.6L124.3 687.1L124.6 692.4L124.9 692.8L125.2 698.3L125.5 685.9L125.8 697.6L126.1 686.5L126.4 696.0L126.7 694.8L127.0 699.1L127.3 691.6L127.6 688.9L127.9 703.7L128.2 697.9L128.5 693.5L128.8 692.9L129.1 704.5L129.4 705.4L129.7 706.3L130.0 709.4L130.3 712.5L130.6 712.6L130.9 717.8L131.2 710.0L131.5 721.1L131.8 734.7L132.1 724.1L132.4 728.9L132.7 727.3L133.0 728.7L133.3 734.0L133.6 733.1L133.9 735.9L134.2 723.5L134.5 736.0L134.8 734.4L135.1 730.4L135.4 726.2L135.7 744.2L136.0 748.1L136.3 740.9L136.6 741.1L136.9 756.1L137.2 746.9L137.5 752.9L137.8 747.6L138.1 753.0L138.4 748.9L138.7 744.6L139.0 734.3L139.3 733.6L139.6 737.9L139.9 735.2L140.2 733.1L140.5 717.5L140.8 722.2L141.1 717.3L141.4 706.1L141.7 708.2L142.0 674.0L142.3 691.6L142.6 691.0L142.9 681.5L143.2 673.9L143.5 671.2L143.8 665.6L144.1 660.5L144.4 672.8L144.7 667.4L145.0 677.7L145.3 663.2L145.6 662.5L145.9 661.1L146.2 664.2L146.5 666.7L146.8 654.9L147.1 668.0L147.4 672.9L147.7 666.2L148.0 664.1L148.3 665.0L148.6 668.7L148.9 675.5L149.2 670.4L149.5 661.2L149.8 670.3L150.1 676.9L150.4 670.5L150.7 675.1L151.0 670.9L151.3 679.7L151.6 680.1L151.9 681.8L152.2 683.2L152.5 682.1L152.8 689.2L153.1 696.9L153.4 679.5L153.7 679.9L154.0 670.0L154.3 681.0L154.6 681.1L154.9 682.9L155.2 679.2L155.5 691.3L155.8 687.1L156.1 680.8L156.4 680.9L156.7 683.8L157.0 683.6L157.3 680.3L157.6 684.6L157.9 690.9L158.2 690.5L158.5 681.5L158.8 683.9L159.1 683.3L159.4 685.3L159.7 688.9L160.0 687.3L160.3 680.4L160.6 690.9L160.9 688.2L161.2 689.8L161.5 696.0L161.8 685.1L162.1 684.0L162.4 684.8L162.7 688.8L163.0 684.3L163.3 686.0L163.6 681.9L163.9 686.8L164.2 689.6L164.5 682.2L164.8 684.7L165.1 684.2L165.4 684.9L165.7 682.8L166.0 682.9L166.3 692.7L166.6 687.4L166.9 694.0L167.2 688.8L167.5 686.4L167.8 691.5L168.1 694.1L168.4 696.5L168.7 692.0L169.0 694.4L169.3 696.1L169.6 696.3L169.9 702.0L170.2 707.6L170.5 701.2L170.8 703.2L171.1 708.6L171.4 708.4L171.7 708.0L172.0 700.3L172.3 706.9L172.6 707.1L172.9 711.3L173.2 717.4L173.5 708.2L173.8 713.0L174.1 711.3L174.4 713.5L174.7 708.9L175.0 714.2L175.3 720.8L175.6 719.9L175.9 719.8L176.2 719.3L176.5 717.1L176.8 714.8L177.1 720.4L177.4 713.9L177.7 708.4L178.0 723.0L178.3 722.5L178.6 713.1L178.9 723.5L179.2 731.6L179.5 725.3L179.8 725.8L180.1 731.6L180.4 731.5L180.7 725.9L181.0 727.3L181.3 734.4L181.6 724.8L181.9 732.1L182.2 736.1L182.5 737.9L182.8 727.8L183.1 728.3L183.4 723.5L183.7 718.6L184.0 723.6L184.3 714.2L184.6 715.1L184.9 711.4L185.2 700.9L185.5 711.1L185.8 707.9L186.1 700.7L186.4 704.3L186.7 694.8L187.0 699.2L187.3 696.0L187.6 692.3L187.9 690.9L188.2 699.3L188.5 687.9L188.8 703.6L189.1 691.9L189.4 694.3L189.7 697.7L190.0 686.6L190.3 691.0L190.6 689.5L190.9 679.4L191.2 692.8L191.5 688.9L191.8 694.1L192.1 690.4L192.4 686.1L192.7 692.2L193.0 691.6L193.3 683.6L193.6 682.2L193.9 682.8L194.2 681.3L194.5 697.7L194.8 694.6L195.1 686.9L195.4 690.8L195.7 684.0L196.0 684.5L196.3 668.9L196.6 688.4L196.9 694.0L197.2 693.5L197.5 697.0L197.8 701.1L198.1 680.8L198.4 695.8L198.7 707.7L199.0 699.1L199.3 705.7L199.6 706.6L199.9 708.3L200.2 720.1L200.5 712.8L200.8 721.0L201.1 718.1L201.4 718.4L201.7 716.6L202.0 727.2L202.3 727.3L202.6 722.5L202.9 722.1L203.2 734.9L203.5 733.4L203.8 728.2L204.1 720.5L204.4 721.4L204.7 718.1L205.0 717.3L205.3 717.3L205.6 714.2L205.9 707.9L206.2 707.2L206.5 703.5L206.8 697.1L207.1 691.0L207.4 688.5L207.7 689.1L208.0 685.5L208.3 679.3L208.6 680.7L208.9 675.9L209.2 680.0L209.5 674.6L209.8 680.2L210.1 670.6L210.4 684.0L210.7 677.6L211.0 676.2L211.3 666.0L211.6 667.5L211.9 672.3L212.2 668.5L212.5 667.3L212.8 669.7L213.1 667.8L213.4 665.9L213.7 668.7L214.0 667.8L214.3 670.4L214.6 654.0L214.9 662.1L215.2 673.5L215.5 661.7L215.8 665.4L216.1 668.7L216.4 670.7L216.7 672.8L217.0 662.6L217.3 663.3L217.6 662.9L217.9 662.5L218.2 667.7L218.5 661.8L218.8 662.3L219.1 660.4L219.4 666.4L219.7 659.4L220.0 664.4L220.3 658.7L220.6 664.6L220.9 662.3L221.2 669.4L221.5 661.6L221.8 658.9L222.1 656.7L222.4 660.2L222.7 654.6L223.0 667.0L223.3 658.1L223.6 655.5L223.9 659.3L224.2 662.3L224.5 664.8L224.8 653.3L225.1 661.2L225.4 666.5L225.7 657.0L226.0 668.6L226.3 662.8L226.6 662.8L226.9 653.8L227.2 664.7L227.5 664.3L227.8 655.2L228.1 658.0L228.4 659.2L228.7 679.2L229.0 652.5L229.3 651.4L229.6 659.5L229.9 658.9L230.2 665.5L230.5 656.5L230.8 661.9L231.1 664.8L231.4 665.0L231.7 663.7L232.0 671.2L232.3 665.3L232.6 671.9L232.9 671.9L233.2 676.3L233.5 676.0L233.8 670.0L234.1 675.2L234.4 678.1L234.7 677.0L235.0 676.9L235.3 681.1L235.6 686.9L235.9 683.2L236.2 682.2L236.5 677.5L236.8 685.5L237.1 694.6L237.4 690.7L237.7 692.6L238.0 685.8L238.3 701.1L238.6 697.2L238.9 686.5L239.2 688.7L239.5 693.0L239.8 706.2L240.1 702.6L240.4 699.6L240.7 703.4L241.0 702.0L241.3 697.7L241.6 703.4L241.9 706.5L242.2 705.3L242.5 702.1L242.8 706.2L243.1 707.9L243.4 708.1L243.7 709.1L244.0 706.5L244.3 697.6L244.6 703.3L244.9 701.2L245.2 700.3L245.5 696.5L245.8 701.4L246.1 703.4L246.4 704.8L246.7 703.0L247.0 707.3L247.3 709.0L247.6 719.8L247.9 709.0L248.2 713.3L248.5 714.6L248.8 712.9L249.1 720.1L249.4 716.9L249.7 725.9L250.0 723.6L250.3 724.6L250.6 718.8L250.9 732.0L251.2 714.1L251.5 712.7L251.8 718.2L252.1 718.6L252.4 714.1L252.7 721.5L253.0 710.3L253.3 703.4L253.6 709.6L253.9 698.0L254.2 700.5L254.5 692.6L254.8 702.2L255.1 694.2L255.4 708.3L255.7 695.9L256.0 690.9L256.3 699.1L256.6 693.9L256.9 696.5L257.2 689.6L257.5 692.6L257.8 692.2L258.1 687.2L258.4 697.0L258.7 695.1L259.0 689.4L259.3 687.9L259.6 678.4L259.9 694.3L260.2 685.4L260.5 688.9L260.8 691.1L261.1 692.6L261.4 683.4L261.7 689.7L262.0 679.2L262.3 693.6L262.6 686.9L262.9 687.0L263.2 683.2L263.5 685.9L263.8 684.0L264.1 686.5L264.4 689.3L264.7 690.7L265.0 690.6L265.3 692.7L265.6 698.6L265.9 690.9L266.2 702.3L266.5 695.1L266.8 694.1L267.1 688.6L267.4 693.2L267.7 688.5L268.0 686.9L268.3 695.7L268.6 688.2L268.9 688.7L269.2 692.1L269.5 689.9L269.8 691.7L270.1 687.7L270.4 687.3L270.7 685.3L271.0 685.0L271.3 687.8L271.6 683.9L271.9 681.1L272.2 676.0L272.5 680.2L272.8 683.5L273.1 673.0L273.4 675.2L273.7 672.8L274.0 673.3L274.3 681.6L274.6 675.3L274.9 673.0L275.2 678.7L275.5 674.8L275.8 676.5L276.1 672.9L276.4 667.7L276.7 674.4L277.0 673.8L277.3 684.5L277.6 676.3L277.9 677.0L278.2 682.9L278.5 682.0L278.8 682.9L279.1 679.4L279.4 678.0L279.7 676.5L280.0 671.6L280.3 676.1L280.6 669.4L280.9 684.2L281.2 668.0L281.5 672.3L281.8 670.6L282.1 666.7L282.4 672.4L282.7 678.1L283.0 676.6L283.3 683.0L283.6 680.5L283.9 684.5L284.2 685.6L284.5 679.5L284.8 688.9L285.1 681.8L285.4 682.0L285.7 683.3L286.0 680.2L286.3 684.2L286.6 675.6L286.9 680.8L287.2 680.3L287.5 677.0L287.8 680.2L288.1 678.6L288.4 676.0L288.7 674.7L289.0 673.4L289.3 666.4L289.6 682.5L289.9 671.1L290.2 665.2L290.5 667.6L290.8 671.5L291.1 667.5L291.4 668.4L291.7 672.7L292.0 674.3L292.3 668.7L292.6 665.8L292.9 669.0L293.2 688.5L293.5 669.5L293.8 673.1L294.1 681.6L294.4 675.6L294.7 680.7L295.0 676.8L295.3 682.0L295.6 687.2L295.9 682.0L296.2 687.9L296.5 683.4L296.8 689.4L297.1 684.3L297.4 687.0L297.7 680.3L298.0 692.8L298.3 678.0L298.6 677.1L298.9 692.3L299.2 675.1L299.5 678.2L299.8 665.3L300.1 672.6L300.4 678.1L300.7 674.6L301.0 667.4L301.3 664.9L301.6 664.6L301.9 669.6L302.2 660.8L302.5 668.6L302.8 675.1L303.1 674.4L303.4 677.0L303.7 676.6L304.0 677.6L304.3 676.3L304.6 673.9L304.9 697.9L305.2 685.9L305.5 685.2L305.8 681.0L306.1 685.9L306.4 678.7L306.7 674.1L307.0 673.8L307.3 677.9L307.6 673.0L307.9 684.3L308.2 675.8L308.5 669.7L308.8 674.8L309.1 671.5L309.4 666.9L309.7 670.3L310.0 676.4L310.3 673.1L310.6 679.6L310.9 677.6L311.2 678.5L311.5 673.8L311.8 677.3L312.1 684.5L312.4 677.9L312.7 672.8L313.0 684.5L313.3 679.2L313.6 683.7L313.9 686.2L314.2 688.1L314.5 685.1L314.8 677.6L315.1 692.7L315.4 689.4L315.7 696.8L316.0 695.1L316.3 711.5L316.6 700.5L316.9 695.4L317.2 693.6L317.5 694.9L317.8 694.1L318.1 687.6L318.4 691.0L318.7 685.7L319.0 679.5L319.3 682.3L319.6 671.2L319.9 666.8L320.2 656.0L320.5 668.6L320.8 655.3L321.1 655.5L321.4 657.4L321.7 645.0L322.0 654.7L322.3 651.5L322.6 660.7L322.9 654.2L323.2 649.8L323.5 652.6L323.8 652.6L324.1 652.2L324.4 661.2L324.7 667.7L325.0 650.8L325.3 668.5L325.6 661.4L325.9 659.8L326.2 666.1L326.5 664.3L326.8 665.9L327.1 667.0L327.4 669.6L327.7 671.6L328.0 670.5L328.3 670.5L328.6 671.9L328.9 680.5L329.2 679.3L329.5 676.3L329.8 677.8L330.1 687.7L330.4 681.8L330.7 677.1L331.0 678.8L331.3 666.6L331.6 670.8L331.9 678.6L332.2 664.0L332.5 671.9L332.8 663.5L333.1 660.2L333.4 664.4L333.7 656.5L334.0 655.8L334.3 647.8L334.6 658.7L334.9 658.7L335.2 666.3L335.5 668.7L335.8 665.4L336.1 662.5L336.4 667.0L336.7 666.2L337.0 674.2L337.3 669.5L337.6 668.0L337.9 674.8L338.2 673.5L338.5 675.0L338.8 655.2L339.1 677.3L339.4 677.9L339.7 676.9L340.0 680.3L340.3 685.6L340.6 684.1L340.9 685.6L341.2 686.0L341.5 685.1L341.8 695.1L342.1 695.6L342.4 689.1L342.7 685.3L343.0 695.8L343.3 696.4L343.6 697.8L343.9 696.6L344.2 700.8L344.5 700.3L344.8 694.1L345.1 691.1L345.4 702.4L345.7 700.6L346.0 696.3L346.3 699.2L346.6 695.7L346.9 696.5L347.2 696.0L347.5 694.0L347.8 697.8L348.1 693.4L348.4 704.5L348.7 698.7L349.0 688.2L349.3 691.5L349.6 697.7L349.9 694.0L350.2 691.1L350.5 695.5L350.8 687.5L351.1 697.5L351.4 692.0L351.7 685.6L352.0 694.1L352.3 688.9L352.6 689.8L352.9 686.7L353.2 689.9L353.5 685.8L353.8 694.7L354.1 690.4L354.4 699.2L354.7 700.6L355.0 702.6L355.3 702.3L355.6 713.9L355.9 706.9L356.2 700.7L356.5 696.7L356.8 693.5L357.1 689.7L357.4 682.6L357.7 683.1L358.0 685.2L358.3 672.4L358.6 674.6L358.9 659.4L359.2 663.9L359.5 664.2L359.8 651.0L360.1 654.2L360.4 643.9L360.7 638.1L361.0 645.5L361.3 639.6L361.6 639.8L361.9 630.1L362.2 625.0L362.5 625.7L362.8 633.2L363.1 631.8L363.4 626.2L363.7 632.4L364.0 634.8L364.3 628.3L364.6 631.0L364.9 629.4L365.2 628.6L365.5 635.3L365.8 635.7L366.1 632.6L366.4 628.1L366.7 633.6L367.0 627.8L367.3 639.4L367.6 628.5L367.9 643.7L368.2 630.7L368.5 638.2L368.8 633.5L369.1 632.2L369.4 630.8L369.7 633.9L370.0 630.7L370.3 635.5L370.6 636.9L370.9 637.7L371.2 632.8L371.5 645.5L371.8 635.1L372.1 636.7L372.4 636.7L372.7 641.9L373.0 636.2L373.3 643.2L373.6 641.5L373.9 645.8L374.2 639.3L374.5 644.4L374.8 641.6L375.1 642.4L375.4 628.3L375.7 649.5L376.0 644.9L376.3 647.6L376.6 647.3L376.9 645.8L377.2 650.0L377.5 651.1L377.8 642.0L378.1 644.9L378.4 646.1L378.7 647.9L379.0 639.2L379.3 645.3L379.6 641.6L379.9 634.4L380.2 641.0L380.5 644.7L380.8 640.8L381.1 640.9L381.4 643.2L381.7 639.7L382.0 647.7L382.3 645.8L382.6 644.1L382.9 647.3L383.2 652.3L383.5 652.1L383.8 654.3L384.1 657.6L384.4 661.0L384.7 663.8L385.0 663.4L385.3 662.0L385.6 669.0L385.9 670.8L386.2 678.9L386.5 683.9L386.8 677.4L387.1 677.6L387.4 684.2L387.7 683.6L388.0 686.4L388.3 676.4L388.6 691.4L388.9 692.2L389.2 692.8L389.5 694.4L389.8 692.8L390.1 692.0L390.4 696.2L390.7 698.3L391.0 703.6L391.3 701.0L391.6 705.4L391.9 707.6L392.2 704.1L392.5 710.0L392.8 708.3L393.1 718.3L393.4 707.0L393.7 711.6L394.0 723.1L394.3 714.6L394.6 716.9L394.9 717.4L395.2 721.9L395.5 721.4L395.8 719.8L396.1 715.8L396.4 722.9L396.7 720.4L397.0 723.6L397.3 716.0L397.6 722.6L397.9 721.9L398.2 731.6L398.5 722.4L398.8 720.7L399.1 732.4L399.4 719.4L399.7 722.6L400.0 720.3L400.3 720.7L400.6 719.9L400.9 713.0L401.2 718.9L401.5 711.4L401.8 720.9L402.1 717.1L402.4 709.2L402.7 705.7L403.0 708.2L403.3 708.5L403.6 702.7L403.9 702.1L404.2 699.9L404.5 698.3L404.8 696.0L405.1 698.1L405.4 693.6L405.7 692.6L406.0 689.4L406.3 691.0L406.6 677.6L406.9 686.5L407.2 687.0L407.5 687.4L407.8 682.4L408.1 685.3L408.4 693.7L408.7 686.3L409.0 685.9L409.3 678.5L409.6 689.4L409.9 687.1L410.2 693.0L410.5 684.1L410.8 671.8L411.1 686.5L411.4 684.5L411.7 680.7L412.0 679.3L412.3 683.4L412.6 687.3L412.9 685.0L413.2 679.7L413.5 675.3L413.8 694.3L414.1 665.4L414.4 677.8L414.7 676.7L415.0 671.5L415.3 679.1L415.6 674.4L415.9 682.6L416.2 665.2L416.5 670.0L416.8 674.2L417.1 681.9L417.4 677.7L417.7 683.6L418.0 682.6L418.3 680.6L418.6 687.2L418.9 689.9L419.2 674.2L419.5 686.2L419.8 686.7L420.1 680.7L420.4 684.9L420.7 685.0L421.0 688.3L421.3 680.9L421.6 675.6L421.9 688.8L422.2 683.9L422.5 674.6L422.8 677.1L423.1 677.7L423.4 665.4L423.7 661.6L424.0 665.0L424.3 668.7L424.6 666.9L424.9 657.4L425.2 656.2L425.5 663.0L425.8 663.3L426.1 652.3L426.4 651.9L426.7 652.8L427.0 655.2L427.3 658.5L427.6 653.8L427.9 646.7L428.2 645.8L428.5 651.5L428.8 650.7L429.1 644.0L429.4 627.7L429.7 644.5L430.0 648.2L430.3 640.4L430.6 641.9L430.9 652.6L431.2 644.7L431.5 643.8L431.8 643.2L432.1 652.7L432.4 648.5L432.7 650.2L433.0 649.1L433.3 650.4L433.6 655.2L433.9 654.2L434.2 650.6L434.5 653.4L434.8 651.9L435.1 653.5L435.4 654.2L435.7 648.9L436.0 656.4L436.3 655.0L436.6 649.5L436.9 656.1L437.2 655.3L437.5 654.9L437.8 650.0L438.1 663.1L438.4 662.5L438.7 670.9L439.0 664.4L439.3 663.4L439.6 665.3L439.9 675.6L440.2 667.8L440.5 674.3L440.8 679.4L441.1 664.5L441.4 680.6L441.7 675.8L442.0 666.6L442.3 681.3L442.6 673.1L442.9 674.8L443.2 682.0L443.5 683.0L443.8 675.5L444.1 680.5L444.4 674.7L444.7 680.5L445.0 680.6L445.3 680.4L445.6 682.6L445.9 682.1L446.2 678.5L446.5 686.7L446.8 690.2L447.1 689.6L447.4 692.1L447.7 695.2L448.0 695.8L448.3 697.0L448.6 692.3L448.9 699.7L449.2 701.8L449.5 703.9L449.8 701.3L450.1 705.2L450.4 704.5L450.7 702.6L451.0 707.9L451.3 700.9L451.6 708.4L451.9 701.1L452.2 705.2L452.5 706.7L452.8 697.8L453.1 694.5L453.4 701.8L453.7 701.8L454.0 698.8L454.3 706.1L454.6 698.4L454.9 693.9L455.2 696.4L455.5 700.1L455.8 684.9L456.1 694.8L456.4 687.7L456.7 686.6L457.0 682.1L457.3 682.8L457.6 679.0L457.9 684.6L458.2 676.7L458.5 672.0L458.8 673.1L459.1 677.4L459.4 673.0L459.7 668.2L460.0 653.2L460.3 662.0L460.6 669.8L460.9 670.5L461.2 672.0L461.5 673.2L461.8 668.9L462.1 674.9L462.4 669.9L462.7 679.6L463.0 675.0L463.3 675.0L463.6 672.4L463.9 677.8L464.2 672.5L464.5 654.7L464.8 678.6L465.1 674.1L465.4 673.3L465.7 677.8L466.0 682.1L466.3 678.0L466.6 677.1L466.9 672.9L467.2 680.4L467.5 684.6L467.8 678.0L468.1 678.5L468.4 687.0L468.7 673.5L469.0 681.6L469.3 681.4L469.6 683.9L469.9 691.1L470.2 687.5L470.5 691.6L470.8 696.5L471.1 697.7L471.4 698.9L471.7 698.5L472.0 698.3L472.3 702.8L472.6 705.5L472.9 705.3L473.2 707.4L473.5 705.6L473.8 698.9L474.1 711.5L474.4 704.2L474.7 697.8L475.0 693.2L475.3 695.9L475.6 696.6L475.9 688.2L476.2 684.0L476.5 682.1L476.8 684.2L477.1 668.8L477.4 665.9L477.7 664.7L478.0 668.1L478.3 663.5L478.6 661.1L478.9 674.3L479.2 656.4L479.5 641.1L479.8 652.6L480.1 650.8L480.4 644.5L480.7 640.5L481.0 638.5L481.3 641.6L481.6 643.7L481.9 626.4L482.2 643.8L482.5 639.4L482.8 637.7L483.1 637.9L483.4 636.9L483.7 632.2L484.0 634.7L484.3 630.1L484.6 643.5L484.9 635.5L485.2 641.1L485.5 640.9L485.8 645.1L486.1 643.0L486.4 643.2L486.7 641.4L487.0 641.3L487.3 649.2L487.6 650.8L487.9 653.8L488.2 653.3L488.5 659.1L488.8 662.9L489.1 664.6L489.4 661.6L489.7 663.9L490.0 659.7L490.3 663.1L490.6 666.9L490.9 672.9L491.2 666.6L491.5 667.0L491.8 669.3L492.1 670.0L492.4 665.5L492.7 666.2L493.0 667.4L493.3 672.4L493.6 674.7L493.9 670.8L494.2 668.7L494.5 676.7L494.8 676.5L495.1 682.4L495.4 669.8L495.7 677.9L496.0 681.9L496.3 680.8L496.6 687.7L496.9 680.5L497.2 687.1L497.5 692.3L497.8 691.1L498.1 681.5L498.4 687.8L498.7 687.3L499.0 687.8L499.3 692.5L499.6 694.3L499.9 700.1L500.2 693.3L500.5 696.6L500.8 695.8L501.1 695.1L501.4 701.6L501.7 694.9L502.0 697.5L502.3 698.1L502.6 696.4L502.9 700.2L503.2 704.7L503.5 703.8L503.8 702.3L504.1 696.6L504.4 699.2L504.7 704.3L505.0 704.6L505.3 700.9L505.6 707.8L505.9 692.5L506.2 701.6L506.5 700.4L506.8 693.9L507.1 705.9L507.4 696.8L507.7 681.9L508.0 704.8L508.3 693.6L508.6 697.6L508.9 694.8L509.2 697.7L509.5 698.7L509.8 699.6L510.1 700.2L510.4 697.2L510.7 695.6L511.0 695.1L511.3 702.1L511.6 698.1L511.9 703.0L512.2 701.9L512.5 700.7L512.8 700.6L513.1 697.4L513.4 704.3L513.7 697.2L514.0 703.7L514.3 693.4L514.6 700.0L514.9 698.9L515.2 707.6L515.5 698.5L515.8 692.8L516.1 690.7L516.4 689.1L516.7 689.8L517.0 687.2L517.3 683.1L517.6 680.7L517.9 688.3L518.2 672.1L518.5 677.2L518.8 678.9L519.1 679.3L519.4 672.1L519.7 677.6L520.0 671.6L520.3 674.8L520.6 672.5L520.9 670.2L521.2 669.4L521.5 663.5L521.8 659.9L522.1 667.8L522.4 663.9L522.7 662.4L523.0 658.1L523.3 664.9L523.6 660.5L523.9 656.2L524.2 665.0L524.5 655.7L524.8 652.9L525.1 646.5L525.4 656.0L525.7 660.4L526.0 654.5L526.3 661.5L526.6 654.9L526.9 665.2L527.2 663.6L527.5 664.3L527.8 664.7L528.1 666.1L528.4 672.2L528.7 679.8L529.0 680.1L529.3 674.7L529.6 682.3L529.9 680.6L530.2 687.5L530.5 686.7L530.8 690.3L531.1 692.8L531.4 695.9L531.7 696.0L532.0 703.6L532.3 696.6L532.6 698.6L532.9 698.0L533.2 708.4L533.5 701.9L533.8 705.7L534.1 689.3L534.4 698.2L534.7 689.2L535.0 694.3L535.3 694.3L535.6 695.1L535.9 690.9L536.2 685.8L536.5 681.1L536.8 684.7L537.1 682.3L537.4 674.4L537.7 663.0L538.0 678.7L538.3 674.1L538.6 668.5L538.9 671.5L539.2 668.0L539.5 669.1L539.8 674.3L540.1 666.7L540.4 665.8L540.7 664.4L541.0 678.1L541.3 667.6L541.6 669.2L541.9 678.7L542.2 656.2L542.5 665.6L542.8 665.2L543.1 665.5L543.4 670.0L543.7 672.6L544.0 672.4L544.3 671.7L544.6 662.6L544.9 658.4L545.2 661.2L545.5 663.0L545.8 656.7L546.1 658.2L546.4 651.5L546.7 661.6L547.0 657.9L547.3 662.4L547.6 661.7L547.9 658.4L548.2 662.9L548.5 665.9L548.8 665.9L549.1 672.3L549.4 676.6L549.7 675.2L550.0 677.2L550.3 675.3L550.6 688.1L550.9 693.7L551.2 680.4L551.5 678.3L551.8 677.2L552.1 678.3L552.4 676.0L552.7 678.3L553.0 684.8L553.3 678.6L553.6 672.3L553.9 666.3L554.2 666.7L554.5 671.5L554.8 668.9L555.1 675.0L555.4 674.3L555.7 677.5L556.0 673.0L556.3 670.9L556.6 685.4L556.9 676.5L557.2 692.7L557.5 697.3L557.8 703.8L558.1 687.9L558.4 695.8L558.7 693.8L559.0 695.5L559.3 691.3L559.6 693.2L559.9 694.9L560.2 683.2L560.5 677.9L560.8 687.1L561.1 679.3L561.4 670.4L561.7 683.1L562.0 681.6L562.3 674.3L562.6 681.4L562.9 670.4L563.2 667.7L563.5 668.1L563.8 663.5L564.1 666.6L564.4 661.2L564.7 662.0L565.0 647.4L565.3 652.9L565.6 648.6L565.9 643.5L566.2 645.4L566.5 638.4L566.8 630.6L567.1 628.9L567.4 635.1L567.7 629.1L568.0 622.2L568.3 619.5L568.6 626.9L568.9 627.2L569.2 622.3L569.5 616.5L569.8 626.6L570.1 622.5L570.4 626.4L570.7 628.1L571.0 624.4L571.3 647.9L571.6 633.3L571.9 634.6L572.2 630.2L572.5 642.0L572.8 645.2L573.1 642.0L573.4 635.6L573.7 642.7L574.0 662.8L574.3 652.5L574.6 650.9L574.9 655.0L575.2 656.2L575.5 653.2L575.8 651.8L576.1 663.7L576.4 648.2L576.7 664.2L577.0 652.4L577.3 663.9L577.6 665.4L577.9 661.0L578.2 663.9L578.5 660.5L578.8 669.1L579.1 673.0L579.4 674.2L579.7 675.6L580.0 674.5L580.3 685.9L580.6 677.6L580.9 682.9L581.2 682.7L581.5 686.5L581.8 688.5L582.1 675.4L582.4 688.8L582.7 687.3L583.0 673.5L583.3 691.0L583.6 685.7L583.9 693.8L584.2 690.9L584.5 688.6L584.8 688.7L585.1 694.2L585.4 689.0L585.7 677.1L586.0 690.0L586.3 697.2L586.6 694.8L586.9 692.2L587.2 696.5L587.5 698.3L587.8 696.3L588.1 698.6L588.4 699.3L588.7 706.1L589.0 705.4L589.3 703.4L589.6 710.8L589.9 718.4L590.2 715.9L590.5 717.3L590.8 715.1L591.1 717.2L591.4 717.0L591.7 724.5L592.0 721.7L592.3 723.6L592.6 723.1L592.9 711.2L593.2 710.9L593.5 709.4L593.8 712.4L594.1 708.9L594.4 704.9L594.7 702.0L595.0 697.6L595.3 700.8L595.6 700.6L595.9 692.8L596.2 696.4L596.5 691.3L596.8 674.6L597.1 695.1L597.4 698.1L597.7 695.4L598.0 702.6L598.3 705.2L598.6 707.3L598.9 705.8L599.2 703.6L599.5 705.2L599.8 705.3L600.1 706.9L600.4 703.2L600.7 714.5L601.0 700.0L601.3 704.7L601.6 706.4L601.9 705.0L602.2 701.2L602.5 713.3L602.8 691.7L603.1 676.7L603.4 694.7L603.7 699.4L604.0 697.3L604.3 702.0L604.6 685.8L604.9 689.8L605.2 685.2L605.5 677.3L605.8 672.1L606.1 673.5L606.4 683.8L606.7 675.8L607.0 670.0L607.3 666.5L607.6 670.8L607.9 672.2L608.2 671.4L608.5 678.4L608.8 674.9L609.1 665.2L609.4 679.3L609.7 683.2L610.0 661.4L610.3 667.7L610.6 676.3L610.9 659.3L611.2 673.8L611.5 671.5L611.8 664.5L612.1 672.4L612.4 671.2L612.7 668.0L613.0 669.7L613.3 666.0L613.6 669.5L613.9 667.0L614.2 671.5L614.5 679.7L614.8 668.3L615.1 669.3L615.4 667.2L615.7 664.9L616.0 665.3L616.3 666.8L616.6 672.4L616.9 666.2L617.2 674.7L617.5 680.5L617.8 682.8L618.1 682.0L618.4 686.4L618.7 678.6L619.0 675.2L619.3 681.6L619.6 688.4L619.9 689.7L620.2 697.6L620.5 687.6L620.8 692.1L621.1 688.4L621.4 694.8L621.7 693.1L622.0 698.5L622.3 698.1L622.6 696.4L622.9 691.4L623.2 711.3L623.5 700.5L623.8 706.5L624.1 703.0L624.4 700.4L624.7 705.0L625.0 712.0L625.3 712.9L625.6 706.2L625.9 708.3L626.2 706.0L626.5 698.5L626.8 710.7L627.1 705.7L627.4 707.4L627.7 707.9L628.0 708.8L628.3 708.2L628.6 697.9L628.9 707.3L629.2 705.0L629.5 707.0L629.8 714.1L630.1 711.0L630.4 704.3L630.7 709.4L631.0 711.0L631.3 711.1L631.6 707.3L631.9 699.9L632.2 700.1L632.5 695.6L632.8 697.4L633.1 690.8L633.4 692.7L633.7 688.6L634.0 690.2L634.3 691.0L634.6 691.7L634.9 689.0L635.2 693.6L635.5 690.5L635.8 693.7L636.1 688.8L636.4 686.0L636.7 696.0L637.0 699.9L637.3 695.5L637.6 700.4L637.9 701.0L638.2 701.7L638.5 702.2L638.8 713.4L639.1 705.2L639.4 702.9L639.7 706.4L640.0 707.1L640.3 709.3L640.6 711.0L640.9 710.0L641.2 707.4L641.5 708.9L641.8 708.1L642.1 705.3L642.4 706.3L642.7 706.5L643.0 713.2L643.3 701.5L643.6 707.8L643.9 704.7L644.2 704.9L644.5 713.2L644.8 693.0L645.1 688.3L645.4 684.9L645.7 692.5L646.0 680.7L646.3 670.5L646.6 669.6L646.9 669.4L647.2 662.6L647.5 658.0L647.8 652.7L648.1 646.7L648.4 653.2L648.7 655.4L649.0 646.2L649.3 657.4L649.6 643.5L649.9 651.6L650.2 641.8L650.5 637.1L650.8 640.1L651.1 642.0L651.4 636.6L651.7 632.5L652.0 637.6L652.3 637.2L652.6 628.1L652.9 639.8L653.2 635.9L653.5 630.9L653.8 631.5L654.1 625.7L654.4 632.6L654.7 628.0L655.0 630.0L655.3 623.7L655.6 624.1L655.9 628.0L656.2 623.9L656.5 627.8L656.8 624.7L657.1 623.1L657.4 616.3L657.7 624.2L658.0 616.4L658.3 620.9L658.6 620.8L658.9 619.8L659.2 615.1L659.5 620.1L659.8 621.8L660.1 621.6L660.4 624.3L660.7 614.0L661.0 618.6L661.3 612.3L661.6 615.7L661.9 616.2L662.2 611.3L662.5 607.6L662.8 619.7L663.1 611.9L663.4 596.3L663.7 610.7L664.0 608.9L664.3 609.0L664.6 608.0L664.9 607.9L665.2 611.7L665.5 603.6L665.8 605.8L666.1 601.5L666.4 600.3L666.7 611.2L667.0 605.8L667.3 603.8L667.6 599.1L667.9 602.5L668.2 605.2L668.5 595.8L668.8 601.0" fill="none" stroke="#008000" stroke-width="0.8" stroke-opacity="0.65"/><path d="M34.9 747.4L35.3 743.6L35.7 731.7L36.1 724.2L36.5 717.0L36.9 709.6L37.3 708.3L37.7 704.5L38.1 705.4L38.5 699.7L38.9 695.0L39.3 696.6L39.7 698.1L40.1 695.7L40.5 695.9L40.9 700.9L41.3 694.9L41.7 695.3L42.1 696.2L42.5 698.8L42.9 701.3L43.3 705.6L43.7 703.5L44.1 702.1L44.5 702.7L44.9 703.9L45.3 706.8L45.7 703.5L46.1 706.1L46.5 702.8L46.9 709.7L47.3 707.8L47.7 709.6L48.1 707.7L48.5 709.4L48.9 707.8L49.3 707.2L49.7 708.8L50.1 709.1L50.5 706.2L50.9 709.3L51.3 710.8L51.7 712.0L52.1 713.4L52.5 715.3L52.9 713.7L53.3 717.0L53.7 717.6L54.1 716.1L54.5 720.5L54.9 717.6L55.3 715.9L55.7 717.0L56.1 717.8L56.5 712.0L56.9 717.5L57.3 715.0L57.7 713.8L58.1 711.5L58.5 710.9L58.9 714.2L59.3 711.9L59.7 712.4L60.1 711.8L60.5 714.5L60.9 713.2L61.3 717.2L61.7 716.3L62.1 717.5L62.5 719.1L62.9 721.6L63.3 723.9L63.7 728.9L64.1 727.5L64.5 730.8L64.9 732.4L65.3 734.3L65.7 730.7L66.1 733.1L66.5 730.8L66.9 734.6L67.3 729.6L67.7 726.7L68.1 725.4L68.5 724.5L68.9 720.6L69.3 713.3L69.7 710.0L70.1 702.2L70.5 699.2L70.9 693.3L71.3 688.7L71.7 689.8L72.1 690.2L72.5 688.7L72.9 687.4L73.3 686.3L73.7 686.0L74.1 683.0L74.5 684.4L74.9 682.9L75.3 683.6L75.7 683.8L76.1 678.7L76.5 675.2L76.9 670.4L77.3 672.2L77.7 673.7L78.1 673.3L78.5 672.1L78.9 680.4L79.3 682.9L79.7 683.6L80.1 690.4L80.5 691.1L80.9 695.5L81.3 692.7L81.7 696.6L82.1 698.2L82.5 698.2L82.9 695.7L83.3 695.1L83.7 701.5L84.1 697.6L84.5 700.2L84.9 700.5L85.3 701.5L85.7 700.2L86.1 699.9L86.5 700.1L86.9 702.0L87.3 706.0L87.7 703.5L88.1 707.8L88.5 705.7L88.9 709.6L89.3 712.3L89.7 713.9L90.1 712.4L90.5 719.3L90.9 719.1L91.3 718.7L91.7 716.0L92.1 714.3L92.5 713.4L92.9 710.2L93.3 707.9L93.7 710.4L94.1 710.4L94.5 712.8L94.9 710.9L95.3 714.5L95.7 712.9L96.1 712.3L96.5 716.5L96.9 715.9L97.3 711.6L97.7 715.4L98.1 714.7L98.5 710.3L98.9 711.0L99.3 713.0L99.7 710.2L100.1 712.5L100.5 709.3L100.9 706.0L101.3 706.1L101.7 706.0L102.1 708.9L102.5 706.3L102.9 704.2L103.3 705.1L103.7 708.0L104.1 705.0L104.5 702.9L104.9 698.5L105.3 696.1L105.7 694.5L106.1 695.2L106.5 691.2L106.9 686.5L107.3 684.1L107.7 681.7L108.1 674.5L108.5 672.9L108.9 674.7L109.3 674.3L109.7 676.7L110.1 674.1L110.5 676.8L110.9 675.3L111.3 674.8L111.7 680.2L112.1 678.1L112.5 676.4L112.9 678.2L113.3 675.7L113.7 676.1L114.1 678.7L114.5 679.7L114.9 679.0L115.3 677.8L115.7 679.1L116.1 683.0L116.5 687.0L116.9 690.4L117.3 692.4L117.7 693.1L118.1 694.3L118.5 694.7L118.9 697.3L119.3 691.9L119.7 693.0L120.1 695.6L120.5 694.5L120.9 692.7L121.3 693.5L121.7 694.4L122.1 694.2L122.5 692.6L122.9 690.4L123.3 689.5L123.7 686.1L124.1 686.7L124.5 691.4L124.9 691.9L125.3 688.3L125.7 693.9L126.1 694.0L126.5 693.5L126.9 692.6L127.3 699.3L127.7 699.3L128.1 699.8L128.5 700.3L128.9 699.5L129.3 706.4L129.7 708.7L130.1 710.3L130.5 713.4L130.9 716.4L131.3 716.0L131.7 720.4L132.1 722.8L132.5 726.1L132.9 731.6L133.3 735.8L133.7 733.2L134.1 733.8L134.5 735.4L134.9 735.3L135.3 740.4L135.7 738.5L136.1 741.2L136.5 746.2L136.9 748.0L137.3 748.6L137.7 749.9L138.1 748.0L138.5 737.7L138.9 738.1L139.3 738.2L139.7 731.0L140.1 731.9L140.5 721.6L140.9 714.3L141.3 706.3L141.7 701.0L142.1 693.1L142.5 688.0L142.9 678.8L143.3 674.9L143.7 665.4L144.1 665.7L144.5 666.0L144.9 665.4L145.3 663.8L145.7 665.8L146.1 667.0L146.5 666.0L146.9 664.4L147.3 667.3L147.7 667.0L148.1 667.8L148.5 669.9L148.9 670.4L149.3 669.3L149.7 670.3L150.1 676.0L150.5 676.4L150.9 676.9L151.3 675.8L151.7 679.1L152.1 679.5L152.5 681.2L152.9 681.5L153.3 680.5L153.7 680.2L154.1 680.2L154.5 678.4L154.9 682.5L155.3 682.0L155.7 681.2L156.1 684.2L156.5 682.4L156.9 683.8L157.3 684.8L157.7 687.1L158.1 685.4L158.5 685.7L158.9 683.5L159.3 686.8L159.7 686.0L160.1 682.8L160.5 687.2L160.9 685.0L161.3 685.6L161.7 683.4L162.1 685.9L162.5 687.4L162.9 684.2L163.3 688.6L163.7 687.4L164.1 686.9L164.5 684.3L164.9 685.6L165.3 688.7L165.7 684.8L166.1 690.2L166.5 694.3L166.9 687.5L167.3 690.5L167.7 690.0L168.1 693.0L168.5 691.8L168.9 693.3L169.3 696.3L169.7 696.4L170.1 700.4L170.5 700.8L170.9 703.8L171.3 707.5L171.7 707.3L172.1 707.0L172.5 706.8L172.9 710.3L173.3 710.4L173.7 714.7L174.1 712.7L174.5 712.4L174.9 715.1L175.3 714.0L175.7 715.0L176.1 715.9L176.5 720.5L176.9 719.2L177.3 721.2L177.7 721.2L178.1 720.6L178.5 722.9L178.9 724.2L179.3 723.5L179.7 729.3L180.1 730.2L180.5 727.5L180.9 730.0L181.3 732.5L181.7 733.6L182.1 735.4L182.5 728.2L182.9 725.1L183.3 721.2L183.7 722.3L184.1 718.5L184.5 713.9L184.9 712.5L185.3 706.3L185.7 704.4L186.1 701.3L186.5 701.2L186.9 698.2L187.3 693.9L187.7 691.6L188.1 689.3L188.5 693.5L188.9 690.0L189.3 691.2L189.7 692.4L190.1 690.9L190.5 692.5L190.9 691.4L191.3 692.8L191.7 688.9L192.1 687.4L192.5 687.2L192.9 690.1L193.3 684.7L193.7 684.5L194.1 683.4L194.5 684.5L194.9 687.2L195.3 684.7L195.7 690.8L196.1 690.1L196.5 691.7L196.9 694.1L197.3 696.2L197.7 697.3L198.1 702.7L198.5 704.3L198.9 705.3L199.3 709.9L199.7 709.4L200.1 714.3L200.5 715.5L200.9 720.6L201.3 717.6L201.7 718.6L202.1 728.4L202.5 725.4L202.9 727.8L203.3 728.2L203.7 724.1L204.1 723.2L204.5 721.3L204.9 717.9L205.3 718.4L205.7 711.9L206.1 704.4L206.5 699.6L206.9 698.4L207.3 691.6L207.7 689.8L208.1 685.8L208.5 682.1L208.9 681.4L209.3 676.3L209.7 673.5L210.1 670.8L210.5 670.6L210.9 670.7L211.3 668.3L211.7 671.5L212.1 665.3L212.5 671.1L212.9 670.4L213.3 667.6L213.7 664.2L214.1 667.0L214.5 667.6L214.9 669.0L215.3 664.2L215.7 668.1L216.1 664.8L216.5 667.8L216.9 664.9L217.3 667.0L217.7 663.6L218.1 664.8L218.5 661.3L218.9 665.1L219.3 664.4L219.7 663.3L220.1 663.5L220.5 659.6L220.9 661.2L221.3 661.4L221.7 660.7L222.1 661.1L222.5 659.5L222.9 657.8L223.3 658.8L223.7 660.9L224.1 659.9L224.5 660.1L224.9 662.4L225.3 664.1L225.7 663.1L226.1 663.0L226.5 663.5L226.9 661.5L227.3 657.7L227.7 657.7L228.1 661.5L228.5 658.2L228.9 657.3L229.3 662.4L229.7 658.7L230.1 659.7L230.5 659.4L230.9 661.7L231.3 664.6L231.7 662.6L232.1 666.3L232.5 670.7L232.9 670.2L233.3 675.1L233.7 678.0L234.1 678.7L234.5 681.7L234.9 685.1L235.3 682.0L235.7 685.9L236.1 684.4L236.5 686.5L236.9 689.4L237.3 687.3L237.7 689.9L238.1 688.9L238.5 692.3L238.9 689.3L239.3 692.6L239.7 700.5L240.1 700.3L240.5 704.2L240.9 699.2L241.3 702.1L241.7 706.1L242.1 705.1L242.5 705.3L242.9 708.0L243.3 708.9L243.7 705.7L244.1 704.9L244.5 702.3L244.9 702.5L245.3 696.4L245.7 698.9L246.1 702.8L246.5 704.4L246.9 705.0L247.3 709.2L247.7 712.9L248.1 715.2L248.5 715.9L248.9 719.5L249.3 720.5L249.7 721.2L250.1 721.4L250.5 724.1L250.9 723.1L251.3 718.9L251.7 720.8L252.1 716.4L252.5 719.5L252.9 716.3L253.3 710.8L253.7 707.2L254.1 703.1L254.5 699.5L254.9 696.2L255.3 700.0L255.7 694.3L256.1 689.9L256.5 690.1L256.9 691.2L257.3 689.3L257.7 690.4L258.1 689.5L258.5 689.2L258.9 688.4L259.3 690.2L259.7 689.3L260.1 690.6L260.5 687.7L260.9 688.9L261.3 686.7L261.7 687.0L262.1 685.5L262.5 683.6L262.9 684.5L263.3 683.9L263.7 684.4L264.1 685.9L264.5 689.1L264.9 688.5L265.3 689.4L265.7 691.4L266.1 690.9L266.5 691.8L266.9 694.0L267.3 690.0L267.7 690.8L268.1 691.3L268.5 690.2L268.9 687.2L269.3 689.0L269.7 689.4L270.1 688.4L270.5 687.1L270.9 684.7L271.3 680.7L271.7 684.0L272.1 682.0L272.5 682.1L272.9 680.9L273.3 680.7L273.7 681.0L274.1 680.6L274.5 675.5L274.9 679.9L275.3 675.4L275.7 678.0L276.1 677.1L276.5 679.9L276.9 677.5L277.3 677.2L277.7 680.1L278.1 681.0L278.5 681.8L278.9 683.2L279.3 676.5L279.7 678.6L280.1 672.5L280.5 673.7L280.9 668.9L281.3 669.1L281.7 669.8L282.1 670.1L282.5 674.7L282.9 675.7L283.3 681.1L283.7 682.9L284.1 680.9L284.5 682.7L284.9 681.5L285.3 685.9L285.7 682.7L286.1 679.7L286.5 680.9L286.9 679.6L287.3 677.5L287.7 680.5L288.1 678.9L288.5 676.9L288.9 673.9L289.3 670.7L289.7 666.5L290.1 668.2L290.5 667.3L290.9 663.2L291.3 667.6L291.7 665.5L292.1 669.5L292.5 670.2L292.9 671.6L293.3 675.1L293.7 676.7L294.1 676.8L294.5 680.3L294.9 681.7L295.3 678.9L295.7 686.1L296.1 690.1L296.5 689.3L296.9 686.7L297.3 684.9L297.7 684.8L298.1 684.3L298.5 679.1L298.9 678.2L299.3 678.0L299.7 672.4L300.1 670.7L300.5 671.6L300.9 669.9L301.3 669.1L301.7 664.7L302.1 665.8L302.5 667.8L302.9 671.1L303.3 672.9L303.7 674.6L304.1 676.8L304.5 679.0L304.9 681.2L305.3 685.0L305.7 681.8L306.1 680.8L306.5 679.1L306.9 680.6L307.3 674.4L307.7 673.5L308.1 672.4L308.5 673.4L308.9 668.4L309.3 670.2L309.7 673.0L310.1 674.8L310.5 675.6L310.9 677.0L311.3 674.4L311.7 676.2L312.1 677.4L312.5 680.0L312.9 679.4L313.3 679.3L313.7 683.0L314.1 683.3L314.5 685.0L314.9 685.6L315.3 692.2L315.7 693.3L316.1 700.0L316.5 701.1L316.9 696.5L317.3 693.6L317.7 692.6L318.1 692.2L318.5 688.7L318.9 682.3L319.3 676.6L319.7 677.4L320.1 668.5L320.5 664.6L320.9 658.0L321.3 658.3L321.7 658.2L322.1 654.3L322.5 655.1L322.9 650.5L323.3 652.6L323.7 654.9L324.1 657.7L324.5 657.5L324.9 663.3L325.3 661.3L325.7 662.0L326.1 665.6L326.5 665.6L326.9 668.8L327.3 670.2L327.7 671.6L328.1 672.4L328.5 671.0L328.9 674.9L329.3 672.5L329.7 674.7L330.1 675.3L330.5 679.1L330.9 675.7L331.3 671.7L331.7 671.4L332.1 665.7L332.5 666.4L332.9 662.0L333.3 660.2L333.7 657.9L334.1 656.8L334.5 656.2L334.9 659.3L335.3 662.1L335.7 665.9L336.1 667.1L336.5 670.4L336.9 671.4L337.3 671.5L337.7 675.2L338.1 676.4L338.5 675.3L338.9 673.3L339.3 677.7L339.7 679.2L340.1 681.8L340.5 681.3L340.9 683.9L341.3 691.1L341.7 691.5L342.1 691.1L342.5 689.0L342.9 691.1L343.3 693.5L343.7 696.5L344.1 695.5L344.5 696.2L344.9 697.5L345.3 698.7L345.7 696.2L346.1 696.5L346.5 695.9L346.9 699.4L347.3 695.9L347.7 694.1L348.1 692.8L348.5 696.9L348.9 695.9L349.3 695.6L349.7 693.3L350.1 692.0L350.5 693.5L350.9 693.8L351.3 689.2L351.7 691.3L352.1 691.7L352.5 692.7L352.9 692.6L353.3 691.1L353.7 692.6L354.1 696.0L354.5 696.2L354.9 700.9L355.3 705.8L355.7 703.4L356.1 698.9L356.5 697.8L356.9 689.3L357.3 685.1L357.7 679.2L358.1 677.0L358.5 667.5L358.9 664.7L359.3 661.1L359.7 658.2L360.1 650.8L360.5 647.3L360.9 640.9L361.3 641.1L361.7 632.1L362.1 625.7L362.5 627.8L362.9 628.9L363.3 628.6L363.7 629.6L364.1 627.0L364.5 628.2L364.9 626.8L365.3 629.4L365.7 628.4L366.1 629.3L366.5 630.6L366.9 628.7L367.3 631.9L367.7 629.9L368.1 633.9L368.5 632.1L368.9 633.5L369.3 635.1L369.7 634.2L370.1 632.5L370.5 636.6L370.9 636.4L371.3 638.0L371.7 638.2L372.1 640.3L372.5 641.7L372.9 641.8L373.3 642.0L373.7 641.9L374.1 642.3L374.5 643.5L374.9 645.1L375.3 645.9L375.7 645.4L376.1 646.1L376.5 648.0L376.9 648.0L377.3 648.7L377.7 648.6L378.1 647.2L378.5 648.3L378.9 642.9L379.3 645.0L379.7 640.7L380.1 641.4L380.5 641.5L380.9 639.1L381.3 641.7L381.7 645.0L382.1 648.3L382.5 647.3L382.9 647.3L383.3 649.5L383.7 651.9L384.1 658.2L384.5 658.5L384.9 662.7L385.3 671.0L385.7 669.0L386.1 674.6L386.5 675.4L386.9 676.8L387.3 682.1L387.7 680.7L388.1 684.3L388.5 688.9L388.9 691.9L389.3 693.4L389.7 693.1L390.1 696.3L390.5 696.7L390.9 699.1L391.3 701.8L391.7 705.9L392.1 705.3L392.5 709.1L392.9 708.1L393.3 712.4L393.7 713.6L394.1 716.0L394.5 718.9L394.9 717.6L395.3 718.3L395.7 720.0L396.1 717.4L396.5 722.2L396.9 718.9L397.3 723.1L397.7 723.4L398.1 723.9L398.5 721.6L398.9 724.6L399.3 723.9L399.7 723.9L400.1 721.1L400.5 719.5L400.9 718.6L401.3 714.6L401.7 713.7L402.1 711.5L402.5 710.7L402.9 708.6L403.3 705.3L403.7 702.9L404.1 701.6L404.5 696.2L404.9 697.1L405.3 695.0L405.7 691.2L406.1 689.7L406.5 687.7L406.9 689.5L407.3 685.4L407.7 684.6L408.1 684.0L408.5 684.6L408.9 686.4L409.3 686.5L409.7 686.3L410.1 687.3L410.5 684.1L410.9 685.5L411.3 683.6L411.7 682.5L412.1 684.2L412.5 683.7L412.9 682.4L413.3 679.3L413.7 680.1L414.1 678.2L414.5 678.2L414.9 676.6L415.3 678.6L415.7 675.9L416.1 673.8L416.5 675.2L416.9 676.7L417.3 679.7L417.7 680.7L418.1 683.2L418.5 687.4L418.9 684.0L419.3 684.6L419.7 684.3L420.1 683.8L420.5 682.3L420.9 682.8L421.3 680.4L421.7 677.4L422.1 675.0L422.5 676.3L422.9 676.2L423.3 670.2L423.7 671.0L424.1 664.7L424.5 663.3L424.9 660.7L425.3 658.8L425.7 661.0L426.1 654.6L426.5 655.7L426.9 652.9L427.3 649.8L427.7 649.9L428.1 648.9L428.5 649.5L428.9 646.1L429.3 644.3L429.7 643.4L430.1 642.6L430.5 645.7L430.9 643.6L431.3 645.8L431.7 645.6L432.1 646.5L432.5 648.5L432.9 647.5L433.3 648.7L433.7 653.5L434.1 652.3L434.5 655.8L434.9 651.8L435.3 655.5L435.7 655.1L436.1 654.1L436.5 657.7L436.9 662.8L437.3 658.7L437.7 662.2L438.1 660.5L438.5 667.3L438.9 667.4L439.3 666.9L439.7 670.2L440.1 674.7L440.5 674.3L440.9 674.8L441.3 677.2L441.7 677.1L442.1 676.1L442.5 679.9L442.9 674.9L443.3 675.9L443.7 677.1L444.1 677.4L444.5 679.8L444.9 685.2L445.3 680.7L445.7 684.0L446.1 688.0L446.5 693.5L446.9 690.7L447.3 693.5L447.7 696.1L448.1 699.7L448.5 701.1L448.9 699.2L449.3 704.5L449.7 701.1L450.1 703.1L450.5 703.4L450.9 703.7L451.3 701.2L451.7 703.0L452.1 705.4L452.5 704.7L452.9 703.2L453.3 701.5L453.7 699.6L454.1 696.4L454.5 699.7L454.9 692.5L455.3 694.2L455.7 693.2L456.1 690.8L456.5 685.3L456.9 686.4L457.3 685.3L457.7 678.3L458.1 679.3L458.5 674.3L458.9 673.8L459.3 673.0L459.7 670.3L460.1 667.8L460.5 670.7L460.9 671.5L461.3 673.8L461.7 672.6L462.1 674.1L462.5 671.3L462.9 675.7L463.3 674.6L463.7 673.3L464.1 676.7L464.5 678.0L464.9 677.1L465.3 676.3L465.7 678.6L466.1 677.6L466.5 675.2L466.9 679.7L467.3 681.5L467.7 680.1L468.1 679.8L468.5 680.2L468.9 681.8L469.3 682.0L469.7 688.2L470.1 690.9L470.5 690.0L470.9 694.0L471.3 698.9L471.7 700.2L472.1 700.3L472.5 705.6L472.9 704.8L473.3 707.0L473.7 705.9L474.1 701.5L474.5 701.6L474.9 694.4L475.3 695.5L475.7 693.7L476.1 683.3L476.5 678.9L476.9 674.6L477.3 670.0L477.7 667.5L478.1 663.3L478.5 661.5L478.9 656.6L479.3 651.6L479.7 651.8L480.1 649.4L480.5 643.7L480.9 642.8L481.3 643.9L481.7 643.3L482.1 640.7L482.5 641.6L482.9 640.1L483.3 636.7L483.7 636.1L484.1 635.5L484.5 639.6L484.9 639.0L485.3 642.5L485.7 643.2L486.1 641.8L486.5 644.6L486.9 647.8L487.3 647.4L487.7 651.9L488.1 653.2L488.5 655.8L488.9 659.1L489.3 662.8L489.7 665.0L490.1 666.5L490.5 664.4L490.9 664.2L491.3 666.7L491.7 666.8L492.1 669.5L492.5 670.3L492.9 668.6L493.3 668.0L493.7 669.8L494.1 671.3L494.5 676.0L494.9 677.0L495.3 678.7L495.7 677.5L496.1 679.4L496.5 680.4L496.9 682.3L497.3 683.4L497.7 682.4L498.1 686.1L498.5 686.9L498.9 688.8L499.3 689.9L499.7 693.2L500.1 694.5L500.5 696.8L500.9 697.3L501.3 695.2L501.7 700.8L502.1 698.5L502.5 698.2L502.9 701.9L503.3 698.9L503.7 698.6L504.1 703.3L504.5 699.9L504.9 703.1L505.3 701.2L505.7 700.0L506.1 698.7L506.5 703.2L506.9 699.3L507.3 698.5L507.7 697.3L508.1 699.5L508.5 697.4L508.9 695.2L509.3 691.3L509.7 697.1L510.1 697.2L510.5 698.2L510.9 702.2L511.3 699.4L511.7 700.4L512.1 703.8L512.5 702.5L512.9 700.8L513.3 702.3L513.7 699.9L514.1 700.7L514.5 701.4L514.9 699.9L515.3 696.3L515.7 694.6L516.1 695.4L516.5 691.0L516.9 689.8L517.3 685.8L517.7 683.7L518.1 679.9L518.5 675.7L518.9 677.4L519.3 676.2L519.7 674.7L520.1 671.8L520.5 673.4L520.9 668.0L521.3 666.3L521.7 669.1L522.1 664.7L522.5 662.8L522.9 661.2L523.3 656.7L523.7 654.7L524.1 656.6L524.5 653.0L524.9 649.4L525.3 654.4L525.7 651.5L526.1 655.6L526.5 660.5L526.9 661.8L527.3 664.7L527.7 667.9L528.1 671.2L528.5 673.5L528.9 678.1L529.3 679.9L529.7 680.9L530.1 682.4L530.5 689.4L530.9 693.6L531.3 691.4L531.7 695.5L532.1 695.6L532.5 702.0L532.9 699.5L533.3 696.7L533.7 701.2L534.1 701.0L534.5 698.1L534.9 695.8L535.3 695.6L535.7 691.4L536.1 688.2L536.5 681.6L536.9 681.2L537.3 680.8L537.7 677.4L538.1 673.6L538.5 675.9L538.9 673.8L539.3 670.4L539.7 667.5L540.1 665.7L540.5 665.7L540.9 669.5L541.3 669.1L541.7 669.3L542.1 670.8L542.5 671.0L542.9 665.7L543.3 669.1L543.7 668.5L544.1 665.3L544.5 664.1L544.9 662.9L545.3 660.9L545.7 655.7L546.1 655.1L546.5 654.7L546.9 654.9L547.3 657.7L547.7 661.3L548.1 665.1L548.5 664.3L548.9 667.1L549.3 671.9L549.7 671.2L550.1 676.8L550.5 677.0L550.9 677.2L551.3 677.3L551.7 681.5L552.1 679.7L552.5 678.5L552.9 674.1L553.3 675.5L553.7 672.3L554.1 670.4L554.5 664.8L554.9 670.8L555.3 673.1L555.7 674.1L556.1 676.1L556.5 682.7L556.9 687.4L557.3 696.4L557.7 700.1L558.1 696.5L558.5 692.6L558.9 693.3L559.3 694.2L559.7 692.6L560.1 688.1L560.5 686.3L560.9 686.0L561.3 682.4L561.7 680.8L562.1 679.6L562.5 678.0L562.9 674.4L563.3 668.0L563.7 664.1L564.1 659.8L564.5 660.6L564.9 651.9L565.3 650.0L565.7 646.0L566.1 640.6L566.5 636.8L566.9 630.2L567.3 627.3L567.7 627.6L568.1 626.5L568.5 623.4L568.9 624.0L569.3 619.8L569.7 624.8L570.1 624.6L570.5 629.2L570.9 629.1L571.3 632.8L571.7 633.2L572.1 633.7L572.5 636.9L572.9 643.5L573.3 643.2L573.7 645.9L574.1 648.0L574.5 650.6L574.9 652.9L575.3 653.8L575.7 653.8L576.1 655.2L576.5 656.5L576.9 660.1L577.3 661.9L577.7 665.2L578.1 662.3L578.5 667.1L578.9 669.7L579.3 669.9L579.7 672.6L580.1 675.0L580.5 675.5L580.9 678.5L581.3 680.4L581.7 685.8L582.1 686.5L582.5 685.5L582.9 686.9L583.3 689.9L583.7 687.9L584.1 692.6L584.5 689.6L584.9 693.1L585.3 690.7L585.7 696.3L586.1 695.5L586.5 693.8L586.9 698.2L587.3 698.8L587.7 698.2L588.1 699.4L588.5 704.0L588.9 705.2L589.3 708.6L589.7 714.3L590.1 712.4L590.5 719.8L590.9 718.6L591.3 718.8L591.7 720.6L592.1 722.3L592.5 723.8L592.9 719.1L593.3 715.3L593.7 711.5L594.1 708.7L594.5 704.7L594.9 702.9L595.3 697.2L595.7 696.4L596.1 692.7L596.5 694.3L596.9 696.3L597.3 697.5L597.7 696.5L598.1 702.2L598.5 702.5L598.9 702.4L599.3 709.3L599.7 704.2L600.1 706.4L600.5 706.6L600.9 707.3L601.3 708.8L601.7 703.3L602.1 702.6L602.5 701.3L602.9 701.2L603.3 698.0L603.7 694.6L604.1 694.8L604.5 691.2L604.9 688.3L605.3 679.7L605.7 678.0L606.1 675.0L606.5 674.0L606.9 674.0L607.3 675.1L607.7 671.1L608.1 671.8L608.5 673.2L608.9 669.8L609.3 670.0L609.7 670.0L610.1 669.3L610.5 668.7L610.9 669.4L611.3 668.1L611.7 669.1L612.1 669.5L612.5 668.6L612.9 670.2L613.3 672.6L613.7 670.1L614.1 668.0L614.5 670.1L614.9 670.2L615.3 669.9L615.7 669.5L616.1 669.0L616.5 671.1L616.9 674.1L617.3 676.9L617.7 675.0L618.1 680.0L618.5 684.8L618.9 683.3L619.3 683.2L619.7 686.3L620.1 692.1L620.5 691.7L620.9 690.2L621.3 695.4L621.7 693.2L622.1 693.6L622.5 697.7L622.9 697.4L623.3 698.8L623.7 698.8L624.1 704.5L624.5 704.7L624.9 708.1L625.3 705.9L625.7 709.1L626.1 705.2L626.5 705.9L626.9 706.1L627.3 708.3L627.7 708.4L628.1 709.1L628.5 708.0L628.9 709.6L629.3 708.6L629.7 713.6L630.1 709.6L630.5 706.2L630.9 709.3L631.3 705.7L631.7 703.6L632.1 703.2L632.5 700.2L632.9 696.3L633.3 695.3L633.7 691.4L634.1 690.0L634.5 692.4L634.9 689.1L635.3 691.8L635.7 690.8L636.1 693.2L636.5 694.4L636.9 694.8L637.3 698.4L637.7 698.3L638.1 705.4L638.5 705.4L638.9 704.2L639.3 706.2L639.7 707.8L640.1 707.1L640.5 705.4L640.9 708.8L641.3 710.4L641.7 710.2L642.1 707.2L642.5 708.1L642.9 708.2L643.3 710.5L643.7 710.7L644.1 706.4L644.5 701.4L644.9 695.3L645.3 689.2L645.7 683.0L646.1 675.9L646.5 672.5L646.9 665.2L647.3 659.3L647.7 655.1L648.1 653.8L648.5 652.5L648.9 649.9L649.3 651.0L649.7 648.2L650.1 643.6L650.5 641.0L650.9 643.0L651.3 639.9L651.7 640.1L652.1 635.6L652.5 634.7L652.9 635.0L653.3 632.5L653.7 630.0L654.1 632.1L654.5 629.6L654.9 628.2L655.3 629.6L655.7 624.8L656.1 623.9L656.5 622.8L656.9 622.6L657.3 623.6L657.7 621.0L658.1 624.1L658.5 620.5L658.9 619.8L659.3 620.8L659.7 618.4L660.1 618.2L660.5 617.4L660.9 616.7L661.3 614.1L661.7 613.5L662.1 615.0L662.5 614.1L662.9 614.6L663.3 610.5L663.7 607.1L664.1 607.8L664.5 608.4L664.9 607.4L665.3 604.8L665.7 604.6L666.1 605.8L666.5 604.1L666.9 604.8L667.3 602.4L667.7 601.5L668.1 599.2L668.5 600.3L668.9 597.3" fill="none" stroke="#008000" stroke-width="2.6"/><path d="M34.9 748.2C35.2 742.3 36.0 721.3 36.6 712.8C37.3 704.3 38.1 699.9 38.9 697.3C39.6 694.7 40.3 696.6 41.1 697.3C41.8 698.0 42.4 700.3 43.3 701.7C44.2 703.2 45.5 705.1 46.6 706.2C47.7 707.3 48.8 706.9 49.9 708.4C51.0 709.9 52.1 713.5 53.2 715.0C54.3 716.5 55.5 718.0 56.6 717.2C57.7 716.5 59.0 710.6 59.9 710.6C60.8 710.6 61.4 713.9 62.1 717.2C62.8 720.5 63.6 727.6 64.3 730.5C65.0 733.5 65.8 736.4 66.5 734.9C67.3 733.5 68.0 729.0 68.7 721.7C69.5 714.3 70.2 696.6 70.9 690.7C71.7 684.8 72.4 687.3 73.2 686.2C73.9 685.1 74.7 686.2 75.4 684.0C76.0 681.8 76.4 674.4 76.9 673.0C77.5 671.5 78.0 671.5 78.7 675.2C79.4 678.9 80.2 691.4 80.9 695.1C81.6 698.8 82.2 696.2 83.1 697.3C84.0 698.4 85.5 699.9 86.4 701.7C87.4 703.6 87.9 705.4 88.7 708.4C89.4 711.3 90.1 719.1 90.9 719.4C91.6 719.8 92.3 711.3 93.1 710.6C93.8 709.9 94.6 714.3 95.3 715.0C96.0 715.8 96.6 716.1 97.5 715.0C98.4 713.9 99.7 710.2 100.8 708.4C101.9 706.5 103.2 706.9 104.1 703.9C105.1 701.0 105.6 695.8 106.4 690.7C107.1 685.5 107.7 675.2 108.6 673.0C109.5 670.7 110.8 676.3 111.9 677.4C113.0 678.5 114.3 677.0 115.2 679.6C116.1 682.2 116.5 690.3 117.4 692.9C118.4 695.5 119.6 695.8 120.7 695.1C121.9 694.4 123.1 688.8 124.1 688.5C125.0 688.1 125.5 690.7 126.3 692.9C127.0 695.1 127.8 698.4 128.5 701.7C129.2 705.1 130.0 708.0 130.7 712.8C131.4 717.6 132.2 726.5 132.9 730.5C133.7 734.6 134.4 733.8 135.1 737.1C135.9 740.5 136.7 751.5 137.5 750.4C138.4 749.3 139.2 740.5 140.0 730.5C140.7 720.5 141.5 701.4 142.2 690.7C142.8 680.0 143.0 670.7 143.7 666.3C144.5 661.9 145.6 663.0 146.6 664.1C147.6 665.2 149.0 670.0 149.9 673.0C150.8 675.9 151.4 680.7 152.1 681.8C152.9 682.9 153.4 678.9 154.3 679.6C155.3 680.3 156.6 685.1 157.7 686.2C158.8 687.3 159.9 686.2 161.0 686.2C162.1 686.2 163.2 685.5 164.3 686.2C165.4 687.0 166.5 687.7 167.6 690.7C168.7 693.6 169.8 700.3 170.9 703.9C172.1 707.6 173.2 710.2 174.3 712.8C175.4 715.4 176.7 716.9 177.6 719.4C178.5 722.0 179.1 726.1 179.8 728.3C180.5 730.5 181.3 734.6 182.0 732.7C182.8 730.9 183.3 724.2 184.2 717.2C185.1 710.2 186.4 695.1 187.5 690.7C188.7 686.2 189.8 691.8 190.9 690.7C192.0 689.6 193.3 684.0 194.2 684.0C195.1 684.0 195.7 687.3 196.4 690.7C197.1 694.0 197.9 699.5 198.6 703.9C199.4 708.4 200.1 713.2 200.8 717.2C201.6 721.3 202.3 728.3 203.0 728.3C203.8 728.3 204.5 723.5 205.3 717.2C206.0 711.0 206.7 698.0 207.5 690.7C208.2 683.3 208.8 676.7 209.7 673.0C210.6 669.3 211.9 669.6 213.0 668.5C214.1 667.4 215.2 667.4 216.3 666.3C217.4 665.2 218.5 663.4 219.6 661.9C220.7 660.4 222.0 656.9 223.0 657.5C224.0 658.0 224.7 665.2 225.6 665.2C226.5 665.2 227.7 658.6 228.5 657.5C229.3 656.4 229.7 656.7 230.4 658.6C231.0 660.4 231.6 665.2 232.2 668.5C232.9 671.9 233.4 675.0 234.2 678.5C235.0 682.0 236.2 687.2 237.0 689.6C237.8 692.0 238.2 690.5 238.9 692.9C239.5 695.3 240.3 701.4 241.1 703.9C241.8 706.5 242.5 709.5 243.3 708.4C244.0 707.3 244.8 696.6 245.5 697.3C246.2 698.0 246.9 708.4 247.7 712.8C248.5 717.2 249.6 723.1 250.4 723.9C251.2 724.6 251.9 721.3 252.6 717.2C253.2 713.2 253.7 703.9 254.3 699.5C255.0 695.1 255.6 692.5 256.6 690.7C257.5 688.8 258.8 689.6 259.9 688.5C261.0 687.3 262.1 683.3 263.2 684.0C264.3 684.8 265.4 692.1 266.5 692.9C267.6 693.6 268.7 690.7 269.8 688.5C270.9 686.2 272.1 681.8 273.2 679.6C274.3 677.4 275.6 674.8 276.5 675.2C277.4 675.5 277.9 682.9 278.7 681.8C279.5 680.7 280.4 668.2 281.4 668.5C282.3 668.9 283.2 682.2 284.2 684.0C285.3 685.9 286.4 682.9 287.5 679.6C288.7 676.3 289.8 664.5 290.9 664.1C292.0 663.7 293.3 673.3 294.2 677.4C295.1 681.4 295.6 688.5 296.4 688.5C297.2 688.5 298.1 681.1 299.1 677.4C300.0 673.7 300.9 665.2 301.9 666.3C303.0 667.4 304.1 683.3 305.3 684.0C306.4 684.8 307.5 671.9 308.6 670.7C309.7 669.6 310.9 675.2 311.9 677.4C312.9 679.6 313.8 680.0 314.6 684.0C315.3 688.1 315.7 701.0 316.3 701.7C317.0 702.5 317.8 695.5 318.5 688.5C319.3 681.4 320.0 665.6 320.7 659.7C321.5 653.8 322.2 652.7 323.0 653.0C323.7 653.4 324.3 658.6 325.2 661.9C326.1 665.2 327.6 670.0 328.5 673.0C329.4 675.9 329.7 680.3 330.4 679.6C331.0 678.9 331.6 672.8 332.2 668.5C332.9 664.3 333.5 654.0 334.2 654.1C334.9 654.3 335.7 666.1 336.4 669.6C337.2 673.1 338.1 672.4 338.9 675.2C339.6 677.9 340.1 682.6 341.1 686.2C342.0 689.9 343.3 695.8 344.4 697.3C345.5 698.8 346.6 695.8 347.7 695.1C348.8 694.4 350.1 693.6 351.0 692.9C351.9 692.1 352.5 688.5 353.2 690.7C354.0 692.9 354.7 707.6 355.5 706.2C356.2 704.7 356.9 690.7 357.7 681.8C358.4 673.0 359.1 661.9 359.9 653.0C360.6 644.2 361.2 632.8 362.1 628.7C363.0 624.6 364.3 628.0 365.4 628.7C366.5 629.4 367.6 631.3 368.7 633.1C369.8 635.0 370.9 637.5 372.1 639.8C373.2 642.0 374.5 644.6 375.4 646.4C376.3 648.2 376.8 651.9 377.6 650.8C378.3 649.7 378.9 640.1 379.8 639.8C380.7 639.4 382.2 643.8 383.1 648.6C384.0 653.4 384.6 662.6 385.3 668.5C386.1 674.4 386.6 678.9 387.5 684.0C388.5 689.2 389.8 694.0 390.9 699.5C392.0 705.1 393.1 713.5 394.2 717.2C395.3 720.9 396.6 720.5 397.5 721.7C398.4 722.8 399.0 725.3 399.7 723.9C400.5 722.4 401.2 716.9 401.9 712.8C402.7 708.7 403.2 704.3 404.1 699.5C405.1 694.7 406.4 686.2 407.5 684.0C408.6 681.8 409.7 687.0 410.8 686.2C411.9 685.5 413.2 681.4 414.1 679.6C415.0 677.8 415.6 674.1 416.3 675.2C417.1 676.3 417.6 685.5 418.5 686.2C419.5 687.0 420.9 682.9 421.9 679.6C422.8 676.3 423.1 671.1 424.1 666.3C425.0 661.5 426.3 654.7 427.4 650.8C428.4 647.0 429.3 642.9 430.4 643.1C431.4 643.3 432.6 649.5 433.7 651.9C434.8 654.3 435.9 654.0 437.0 657.5C438.0 661.0 439.1 669.6 440.0 673.0C440.8 676.3 441.4 676.3 442.2 677.4C442.9 678.5 443.6 677.4 444.4 679.6C445.1 681.8 445.9 687.0 446.6 690.7C447.3 694.4 448.1 699.5 448.8 701.7C449.6 703.9 450.1 704.3 451.0 703.9C451.9 703.6 453.2 703.2 454.3 699.5C455.5 695.8 456.7 687.0 457.7 681.8C458.6 676.7 459.0 669.6 459.9 668.5C460.8 667.4 462.2 673.7 463.2 675.2C464.2 676.7 464.9 676.7 465.9 677.4C466.8 678.1 467.9 676.3 468.7 679.6C469.6 682.9 470.2 692.5 470.9 697.3C471.7 702.1 472.4 708.7 473.2 708.4C473.9 708.0 474.6 702.1 475.4 695.1C476.1 688.1 476.7 675.2 477.6 666.3C478.5 657.5 479.8 646.8 480.9 642.0C482.0 637.2 483.2 636.8 484.2 637.5C485.3 638.3 486.3 642.0 487.1 646.4C488.0 650.8 488.3 660.4 489.3 664.1C490.3 667.8 491.9 665.6 493.1 668.5C494.3 671.5 495.3 677.8 496.4 681.8C497.5 685.9 498.6 689.6 499.7 692.9C500.8 696.2 501.9 700.3 503.0 701.7C504.1 703.2 505.3 702.8 506.4 701.7C507.4 700.6 508.3 695.1 509.2 695.1C510.2 695.1 510.9 700.8 511.9 701.7C512.9 702.7 514.1 704.7 515.2 700.6C516.3 696.6 517.4 683.1 518.5 677.4C519.6 671.7 520.8 670.9 521.9 666.3C522.9 661.7 523.8 649.7 524.7 649.7C525.7 649.7 526.5 660.1 527.4 666.3C528.3 672.6 529.5 681.4 530.4 687.3C531.3 693.3 532.1 699.3 532.8 701.7C533.5 704.1 533.8 704.5 534.4 701.7C535.0 699.0 535.5 691.0 536.4 685.1C537.4 679.2 538.8 668.7 540.0 666.3C541.1 663.9 542.2 673.0 543.3 670.7C544.4 668.5 545.5 651.9 546.6 653.0C547.7 654.1 549.0 673.0 549.9 677.4C550.8 681.8 551.4 681.1 552.1 679.6C552.9 678.1 553.7 668.9 554.3 668.5C555.0 668.2 555.6 672.2 556.1 677.4C556.7 682.6 557.0 697.7 557.7 699.5C558.3 701.4 559.1 691.8 559.9 688.5C560.6 685.1 561.4 684.4 562.1 679.6C562.8 674.8 563.5 668.2 564.3 659.7C565.2 651.2 566.3 635.0 567.2 628.7C568.0 622.4 568.6 620.9 569.4 622.1C570.2 623.2 571.2 630.5 572.1 635.3C572.9 640.1 573.3 646.4 574.3 650.8C575.2 655.3 576.7 658.2 577.6 661.9C578.5 665.6 579.1 668.9 579.8 673.0C580.5 677.0 581.1 682.9 582.0 686.2C582.9 689.6 584.3 690.7 585.3 692.9C586.3 695.1 587.2 695.5 588.0 699.5C588.8 703.6 589.5 713.2 590.2 717.2C590.9 721.3 591.7 726.1 592.4 723.9C593.2 721.7 594.0 709.1 594.6 703.9C595.3 698.8 595.7 692.9 596.4 692.9C597.1 692.9 597.9 701.4 598.6 703.9C599.4 706.5 599.9 710.2 600.8 708.4C601.8 706.6 603.4 698.5 604.2 693.3C605.0 688.1 605.0 681.0 605.7 677.3C606.3 673.6 607.2 672.3 608.0 670.9C608.7 669.4 609.3 668.7 610.1 668.5C610.9 668.4 611.9 669.8 612.9 669.8C613.8 669.8 615.0 666.5 616.0 668.7C616.9 670.9 617.8 680.0 618.4 683.0C619.0 685.9 619.2 684.4 619.6 686.2C620.1 688.1 620.8 692.5 621.2 694.3C621.7 696.2 622.0 695.2 622.5 697.3C623.0 699.4 623.6 705.6 624.4 707.0C625.2 708.4 626.2 705.2 627.2 705.9C628.1 706.6 629.3 711.9 630.2 710.9C631.1 710.0 631.9 703.4 632.6 700.0C633.2 696.6 633.5 692.2 634.0 690.7C634.6 689.2 635.1 688.8 635.8 691.1C636.5 693.4 637.5 701.6 638.3 704.5C639.2 707.4 640.1 707.8 641.1 708.5C642.0 709.1 642.8 717.2 643.9 708.5C645.0 699.7 646.3 667.4 647.5 656.0C648.7 644.6 649.7 645.0 651.0 640.0C652.3 635.0 654.1 629.3 655.5 626.0C656.9 622.7 658.2 622.3 659.5 620.0C660.8 617.7 661.8 614.7 663.0 612.0C664.2 609.3 665.5 606.0 666.5 604.0C667.5 602.0 668.3 594.0 669.0 600.0C669.7 606.0 670.1 623.3 670.6 640.0C671.1 656.7 671.4 680.0 671.8 700.0C672.2 720.0 672.8 750.0 673.0 760.0" fill="none" stroke="#008000" stroke-width="4.6" stroke-linejoin="round" stroke-linecap="round"/></g>
<line x1="50" y1="58" x2="93" y2="58" stroke="#f00" stroke-width="4.2"/>
<text x="98.2" y="64.5" font-size="24" fill="#f00" textLength="287" lengthAdjust="spacingAndGlyphs">10-50kHz MHD (arb. units)</text>
<line x1="50" y1="86.6" x2="93" y2="86.6" stroke="#00f" stroke-width="4.2"/>
<text x="96.5" y="94" font-size="24" fill="#00f" textLength="388" lengthAdjust="spacingAndGlyphs">500-2000kHz turbulence (arb. units)</text>
<line x1="50" y1="307.5" x2="92.5" y2="307.5" stroke="#000" stroke-width="4.2"/><path d="M108.9 298.2H124.9L116.9 313.1Z" fill="none" stroke="#000" stroke-width="1.3" stroke-linejoin="miter"/><text x="127.6" y="314.2" font-size="24" fill="#000" font-style="italic">n</text><text x="141.2" y="317.7" font-size="18" fill="#000" font-style="italic">e</text><text x="150.6" y="314.2" font-size="24" fill="#000" >@</text><text x="174.8" y="314.2" font-size="26" fill="#000" font-style="italic" font-family="Liberation Serif">ψ</text><text x="190.2" y="317.7" font-size="17" fill="#000" font-style="italic">N</text><text x="212.6" y="314.2" font-size="24" fill="#000" >=</text><text x="234.4" y="314.2" font-size="24" fill="#000" textLength="87" lengthAdjust="spacingAndGlyphs">0.92(1.0</text><text x="323.0" y="314.2" font-size="24" fill="#000" font-style="italic">e</text><text x="336.6" y="314.2" font-size="24" fill="#000" >19</text><text x="365.8" y="314.2" font-size="24.5" fill="#000" font-style="italic">m</text><text x="386.6" y="304.4" font-size="20" fill="#000" >−</text><text x="400.8" y="304.6" font-size="15" fill="#000" >4</text><text x="410.2" y="314.2" font-size="24" fill="#000" >)</text>
<line x1="50" y1="335.9" x2="92.5" y2="335.9" stroke="#008000" stroke-width="4.2"/><path d="M108.9 326.6H124.9L116.9 341.6Z" fill="none" stroke="#008000" stroke-width="1.3" stroke-linejoin="miter"/><text x="127.6" y="342.6" font-size="24" fill="#008000" font-style="italic">n</text><text x="141.2" y="346.1" font-size="18" fill="#008000" font-style="italic">e</text><text x="150.6" y="342.6" font-size="24" fill="#008000" >@</text><text x="174.8" y="342.6" font-size="26" fill="#008000" font-style="italic" font-family="Liberation Serif">ψ</text><text x="190.2" y="346.1" font-size="17" fill="#008000" font-style="italic">N</text><text x="212.6" y="342.6" font-size="24" fill="#008000" >=</text><text x="234.4" y="342.6" font-size="24" fill="#008000" textLength="87" lengthAdjust="spacingAndGlyphs">0.98(1.0</text><text x="323.0" y="342.6" font-size="24" fill="#008000" font-style="italic">e</text><text x="336.6" y="342.6" font-size="24" fill="#008000" >19</text><text x="365.8" y="342.6" font-size="24.5" fill="#008000" font-style="italic">m</text><text x="386.6" y="332.8" font-size="20" fill="#008000" >−</text><text x="400.8" y="333.0" font-size="15" fill="#008000" >4</text><text x="410.2" y="342.6" font-size="24" fill="#008000" >)</text>
<line x1="50" y1="557.8" x2="92.5" y2="557.8" stroke="#000" stroke-width="4.2"/><path d="M113.7 547.6H130.0L121.8 563.8Z" fill="none" stroke="#000" stroke-width="1.3" stroke-linejoin="miter"/><text x="135.0" y="564.1" font-size="24" fill="#000" font-style="italic">T</text><text x="147.2" y="567.6" font-size="18" fill="#000" font-style="italic">e</text><path d="M167.2 552.4L178.6 562.9M167.2 562.9L178.6 552.4" stroke="#000" stroke-width="1.35"/><text x="187.3" y="564.1" font-size="24" fill="#000" >2.5</text><text x="220.0" y="564.1" font-size="24" fill="#000" >@</text><text x="243.6" y="564.1" font-size="26" fill="#000" font-style="italic" font-family="Liberation Serif">ψ</text><text x="261.5" y="567.6" font-size="17" fill="#000" font-style="italic">N</text><text x="282.3" y="564.1" font-size="24" fill="#000" >=</text><text x="304.6" y="564.1" font-size="24" fill="#000" >0.92(</text><text x="359.4" y="564.1" font-size="24" fill="#000" font-style="italic" textLength="40" lengthAdjust="spacingAndGlyphs">keV</text><path d="M413.3 546.8L406.4 569.4" stroke="#000" stroke-width="1.45"/><text x="417.2" y="564.1" font-size="24" fill="#000" font-style="italic">m</text><text x="438.2" y="564.1" font-size="24" fill="#000" >)</text>
<line x1="50" y1="585.9" x2="92.5" y2="585.9" stroke="#008000" stroke-width="4.2"/><path d="M113.7 575.8H130.0L121.8 591.9Z" fill="none" stroke="#008000" stroke-width="1.3" stroke-linejoin="miter"/><text x="135.0" y="592.2" font-size="24" fill="#008000" font-style="italic">T</text><text x="147.2" y="595.7" font-size="18" fill="#008000" font-style="italic">e</text><text x="156.6" y="592.2" font-size="24" fill="#008000" >@</text><text x="182.2" y="592.2" font-size="26" fill="#008000" font-style="italic" font-family="Liberation Serif">ψ</text><text x="197.4" y="595.7" font-size="17" fill="#008000" font-style="italic">N</text><text x="218.9" y="592.2" font-size="24" fill="#008000" >=</text><text x="241.2" y="592.2" font-size="24" fill="#008000" >0.95(</text><text x="296.0" y="592.2" font-size="24" fill="#008000" font-style="italic" textLength="40" lengthAdjust="spacingAndGlyphs">keV</text><path d="M349.9 574.9L343.0 597.5" stroke="#008000" stroke-width="1.45"/><text x="353.8" y="592.2" font-size="24" fill="#008000" font-style="italic">m</text><text x="374.8" y="592.2" font-size="24" fill="#008000" >)</text>
<text x="623.7" y="74.4" font-size="39" fill="#000" textLength="47" lengthAdjust="spacingAndGlyphs">(a)</text>
<text x="624.1" y="325.7" font-size="39" fill="#000" textLength="46.3" lengthAdjust="spacingAndGlyphs">(b)</text>
<text x="626.6" y="574.4" font-size="39" fill="#000" textLength="43.8" lengthAdjust="spacingAndGlyphs">(c)</text>
<text x="524.4" y="91.7" font-size="39.5" font-weight="bold" fill="#000" stroke="#000" stroke-width="0.6" textLength="81.6" lengthAdjust="spacingAndGlyphs">ELM</text>
<line x1="614.5" y1="89.3" x2="652" y2="105.8" stroke="#000" stroke-width="3.2"/>
<path d="M662.6 110.6L644.4 95.4L647.5 103.8L638.2 107.6Z" fill="#000"/>
<path d="M34.35 32.55H684.5V256.5H34.35Z" fill="none" stroke="#000" stroke-width="1.3"/><line x1="57.42" y1="256.5" x2="57.42" y2="251.5" stroke="#000" stroke-width="1.0"/><line x1="80.64" y1="256.5" x2="80.64" y2="251.5" stroke="#000" stroke-width="1.0"/><line x1="103.87" y1="256.5" x2="103.87" y2="251.5" stroke="#000" stroke-width="1.0"/><line x1="127.09" y1="256.5" x2="127.09" y2="251.5" stroke="#000" stroke-width="1.0"/><line x1="150.31" y1="256.5" x2="150.31" y2="246.5" stroke="#000" stroke-width="1.0"/><line x1="173.53" y1="256.5" x2="173.53" y2="251.5" stroke="#000" stroke-width="1.0"/><line x1="196.75" y1="256.5" x2="196.75" y2="251.5" stroke="#000" stroke-width="1.0"/><line x1="219.98" y1="256.5" x2="219.98" y2="251.5" stroke="#000" stroke-width="1.0"/><line x1="243.20" y1="256.5" x2="243.20" y2="251.5" stroke="#000" stroke-width="1.0"/><line x1="266.42" y1="256.5" x2="266.42" y2="246.5" stroke="#000" stroke-width="1.0"/><line x1="289.64" y1="256.5" x2="289.64" y2="251.5" stroke="#000" stroke-width="1.0"/><line x1="312.86" y1="256.5" x2="312.86" y2="251.5" stroke="#000" stroke-width="1.0"/><line x1="336.09" y1="256.5" x2="336.09" y2="251.5" stroke="#000" stroke-width="1.0"/><line x1="359.31" y1="256.5" x2="359.31" y2="251.5" stroke="#000" stroke-width="1.0"/><line x1="382.53" y1="256.5" x2="382.53" y2="246.5" stroke="#000" stroke-width="1.0"/><line x1="405.75" y1="256.5" x2="405.75" y2="251.5" stroke="#000" stroke-width="1.0"/><line x1="428.97" y1="256.5" x2="428.97" y2="251.5" stroke="#000" stroke-width="1.0"/><line x1="452.20" y1="256.5" x2="452.20" y2="251.5" stroke="#000" stroke-width="1.0"/><line x1="475.42" y1="256.5" x2="475.42" y2="251.5" stroke="#000" stroke-width="1.0"/><line x1="498.64" y1="256.5" x2="498.64" y2="246.5" stroke="#000" stroke-width="1.0"/><line x1="521.86" y1="256.5" x2="521.86" y2="251.5" stroke="#000" stroke-width="1.0"/><line x1="545.08" y1="256.5" x2="545.08" y2="251.5" stroke="#000" stroke-width="1.0"/><line x1="568.31" y1="256.5" x2="568.31" y2="251.5" stroke="#000" stroke-width="1.0"/><line x1="591.53" y1="256.5" x2="591.53" y2="251.5" stroke="#000" stroke-width="1.0"/><line x1="614.75" y1="256.5" x2="614.75" y2="246.5" stroke="#000" stroke-width="1.0"/><line x1="637.97" y1="256.5" x2="637.97" y2="251.5" stroke="#000" stroke-width="1.0"/><line x1="668.3" y1="248.2" x2="668.3" y2="253" stroke="#000" stroke-width="1.0"/><path d="M34.35 282.3H684.5V506.5H34.35Z" fill="none" stroke="#000" stroke-width="1.3"/><line x1="57.42" y1="506.5" x2="57.42" y2="501.5" stroke="#000" stroke-width="1.0"/><line x1="80.64" y1="506.5" x2="80.64" y2="501.5" stroke="#000" stroke-width="1.0"/><line x1="103.87" y1="506.5" x2="103.87" y2="501.5" stroke="#000" stroke-width="1.0"/><line x1="127.09" y1="506.5" x2="127.09" y2="501.5" stroke="#000" stroke-width="1.0"/><line x1="150.31" y1="506.5" x2="150.31" y2="496.5" stroke="#000" stroke-width="1.0"/><line x1="173.53" y1="506.5" x2="173.53" y2="501.5" stroke="#000" stroke-width="1.0"/><line x1="196.75" y1="506.5" x2="196.75" y2="501.5" stroke="#000" stroke-width="1.0"/><line x1="219.98" y1="506.5" x2="219.98" y2="501.5" stroke="#000" stroke-width="1.0"/><line x1="243.20" y1="506.5" x2="243.20" y2="501.5" stroke="#000" stroke-width="1.0"/><line x1="266.42" y1="506.5" x2="266.42" y2="496.5" stroke="#000" stroke-width="1.0"/><line x1="289.64" y1="506.5" x2="289.64" y2="501.5" stroke="#000" stroke-width="1.0"/><line x1="312.86" y1="506.5" x2="312.86" y2="501.5" stroke="#000" stroke-width="1.0"/><line x1="336.09" y1="506.5" x2="336.09" y2="501.5" stroke="#000" stroke-width="1.0"/><line x1="359.31" y1="506.5" x2="359.31" y2="501.5" stroke="#000" stroke-width="1.0"/><line x1="382.53" y1="506.5" x2="382.53" y2="496.5" stroke="#000" stroke-width="1.0"/><line x1="405.75" y1="506.5" x2="405.75" y2="501.5" stroke="#000" stroke-width="1.0"/><line x1="428.97" y1="506.5" x2="428.97" y2="501.5" stroke="#000" stroke-width="1.0"/><line x1="452.20" y1="506.5" x2="452.20" y2="501.5" stroke="#000" stroke-width="1.0"/><line x1="475.42" y1="506.5" x2="475.42" y2="501.5" stroke="#000" stroke-width="1.0"/><line x1="498.64" y1="506.5" x2="498.64" y2="496.5" stroke="#000" stroke-width="1.0"/><line x1="521.86" y1="506.5" x2="521.86" y2="501.5" stroke="#000" stroke-width="1.0"/><line x1="545.08" y1="506.5" x2="545.08" y2="501.5" stroke="#000" stroke-width="1.0"/><line x1="568.31" y1="506.5" x2="568.31" y2="501.5" stroke="#000" stroke-width="1.0"/><line x1="591.53" y1="506.5" x2="591.53" y2="501.5" stroke="#000" stroke-width="1.0"/><line x1="614.75" y1="506.5" x2="614.75" y2="496.5" stroke="#000" stroke-width="1.0"/><line x1="637.97" y1="506.5" x2="637.97" y2="501.5" stroke="#000" stroke-width="1.0"/><line x1="661.19" y1="506.5" x2="661.19" y2="501.5" stroke="#000" stroke-width="1.0"/><path d="M34.35 532.05H684.5V756.5H34.35Z" fill="none" stroke="#000" stroke-width="1.3"/><line x1="57.42" y1="756.5" x2="57.42" y2="751.5" stroke="#000" stroke-width="1.0"/><line x1="80.64" y1="756.5" x2="80.64" y2="751.5" stroke="#000" stroke-width="1.0"/><line x1="103.87" y1="756.5" x2="103.87" y2="751.5" stroke="#000" stroke-width="1.0"/><line x1="127.09" y1="756.5" x2="127.09" y2="751.5" stroke="#000" stroke-width="1.0"/><line x1="150.31" y1="756.5" x2="150.31" y2="746.5" stroke="#000" stroke-width="1.0"/><line x1="173.53" y1="756.5" x2="173.53" y2="751.5" stroke="#000" stroke-width="1.0"/><line x1="196.75" y1="756.5" x2="196.75" y2="751.5" stroke="#000" stroke-width="1.0"/><line x1="219.98" y1="756.5" x2="219.98" y2="751.5" stroke="#000" stroke-width="1.0"/><line x1="243.20" y1="756.5" x2="243.20" y2="751.5" stroke="#000" stroke-width="1.0"/><line x1="266.42" y1="756.5" x2="266.42" y2="746.5" stroke="#000" stroke-width="1.0"/><line x1="289.64" y1="756.5" x2="289.64" y2="751.5" stroke="#000" stroke-width="1.0"/><line x1="312.86" y1="756.5" x2="312.86" y2="751.5" stroke="#000" stroke-width="1.0"/><line x1="336.09" y1="756.5" x2="336.09" y2="751.5" stroke="#000" stroke-width="1.0"/><line x1="359.31" y1="756.5" x2="359.31" y2="751.5" stroke="#000" stroke-width="1.0"/><line x1="382.53" y1="756.5" x2="382.53" y2="746.5" stroke="#000" stroke-width="1.0"/><line x1="405.75" y1="756.5" x2="405.75" y2="751.5" stroke="#000" stroke-width="1.0"/><line x1="428.97" y1="756.5" x2="428.97" y2="751.5" stroke="#000" stroke-width="1.0"/><line x1="452.20" y1="756.5" x2="452.20" y2="751.5" stroke="#000" stroke-width="1.0"/><line x1="475.42" y1="756.5" x2="475.42" y2="751.5" stroke="#000" stroke-width="1.0"/><line x1="498.64" y1="756.5" x2="498.64" y2="746.5" stroke="#000" stroke-width="1.0"/><line x1="521.86" y1="756.5" x2="521.86" y2="751.5" stroke="#000" stroke-width="1.0"/><line x1="545.08" y1="756.5" x2="545.08" y2="751.5" stroke="#000" stroke-width="1.0"/><line x1="568.31" y1="756.5" x2="568.31" y2="751.5" stroke="#000" stroke-width="1.0"/><line x1="591.53" y1="756.5" x2="591.53" y2="751.5" stroke="#000" stroke-width="1.0"/><line x1="614.75" y1="756.5" x2="614.75" y2="746.5" stroke="#000" stroke-width="1.0"/><line x1="637.97" y1="756.5" x2="637.97" y2="751.5" stroke="#000" stroke-width="1.0"/><line x1="661.19" y1="756.5" x2="661.19" y2="751.5" stroke="#000" stroke-width="1.0"/>
<text x="31.2" y="263.5" font-size="19.6" text-anchor="end" fill="#000">0</text><line x1="34.35" y1="194.3" x2="43.95" y2="194.3" stroke="#000" stroke-width="1.0"/><text x="31.2" y="201.3" font-size="19.6" text-anchor="end" fill="#000">5</text><line x1="34.35" y1="132.1" x2="43.95" y2="132.1" stroke="#000" stroke-width="1.0"/><text x="31.2" y="139.1" font-size="19.6" text-anchor="end" fill="#000">10</text><line x1="34.35" y1="69.9" x2="43.95" y2="69.9" stroke="#000" stroke-width="1.0"/><text x="31.2" y="76.9" font-size="19.6" text-anchor="end" fill="#000">15</text>
<text x="31.2" y="513.5" font-size="19.6" text-anchor="end" fill="#000">60</text><line x1="34.35" y1="469.1" x2="43.95" y2="469.1" stroke="#000" stroke-width="1.0"/><text x="31.2" y="476.1" font-size="19.6" text-anchor="end" fill="#000">80</text><line x1="34.35" y1="431.8" x2="43.95" y2="431.8" stroke="#000" stroke-width="1.0"/><text x="31.2" y="438.8" font-size="19.6" text-anchor="end" fill="#000">100</text><line x1="34.35" y1="394.4" x2="43.95" y2="394.4" stroke="#000" stroke-width="1.0"/><text x="31.2" y="401.4" font-size="19.6" text-anchor="end" fill="#000">120</text><line x1="34.35" y1="357.0" x2="43.95" y2="357.0" stroke="#000" stroke-width="1.0"/><text x="31.2" y="364.0" font-size="19.6" text-anchor="end" fill="#000">140</text><line x1="34.35" y1="319.7" x2="43.95" y2="319.7" stroke="#000" stroke-width="1.0"/><text x="31.2" y="326.7" font-size="19.6" text-anchor="end" fill="#000">160</text><text x="31.2" y="289.3" font-size="19.6" text-anchor="end" fill="#000">180</text>
<line x1="34.35" y1="719.1" x2="43.95" y2="719.1" stroke="#000" stroke-width="1.0"/><text x="31.2" y="726.1" font-size="19.6" text-anchor="end" fill="#000">60</text><line x1="34.35" y1="681.7" x2="43.95" y2="681.7" stroke="#000" stroke-width="1.0"/><text x="31.2" y="688.7" font-size="19.6" text-anchor="end" fill="#000">70</text><line x1="34.35" y1="644.3" x2="43.95" y2="644.3" stroke="#000" stroke-width="1.0"/><text x="31.2" y="651.3" font-size="19.6" text-anchor="end" fill="#000">80</text><line x1="34.35" y1="606.9" x2="43.95" y2="606.9" stroke="#000" stroke-width="1.0"/><text x="31.2" y="613.9" font-size="19.6" text-anchor="end" fill="#000">90</text><line x1="34.35" y1="569.5" x2="43.95" y2="569.5" stroke="#000" stroke-width="1.0"/><text x="31.2" y="576.5" font-size="19.6" text-anchor="end" fill="#000">100</text><text x="31.2" y="539.0" font-size="19.6" text-anchor="end" fill="#000">110</text>
<text x="31.2" y="760.6" font-size="19.6" text-anchor="end" fill="#000">50</text>
<text x="36.1" y="776.8" font-size="19.6" text-anchor="middle" fill="#000">2100</text>
<text x="152.2" y="776.8" font-size="19.6" text-anchor="middle" fill="#000">2150</text>
<text x="268.3" y="776.8" font-size="19.6" text-anchor="middle" fill="#000">2200</text>
<text x="384.4" y="776.8" font-size="19.6" text-anchor="middle" fill="#000">2250</text>
<text x="500.5" y="776.8" font-size="19.6" text-anchor="middle" fill="#000">2300</text>
<text x="616.6" y="776.8" font-size="19.6" text-anchor="middle" fill="#000">2350</text>
<text x="297" y="806.4" font-size="28.5" fill="#000" textLength="130" lengthAdjust="spacingAndGlyphs">Time (ms)</text>
</svg></body></html>
